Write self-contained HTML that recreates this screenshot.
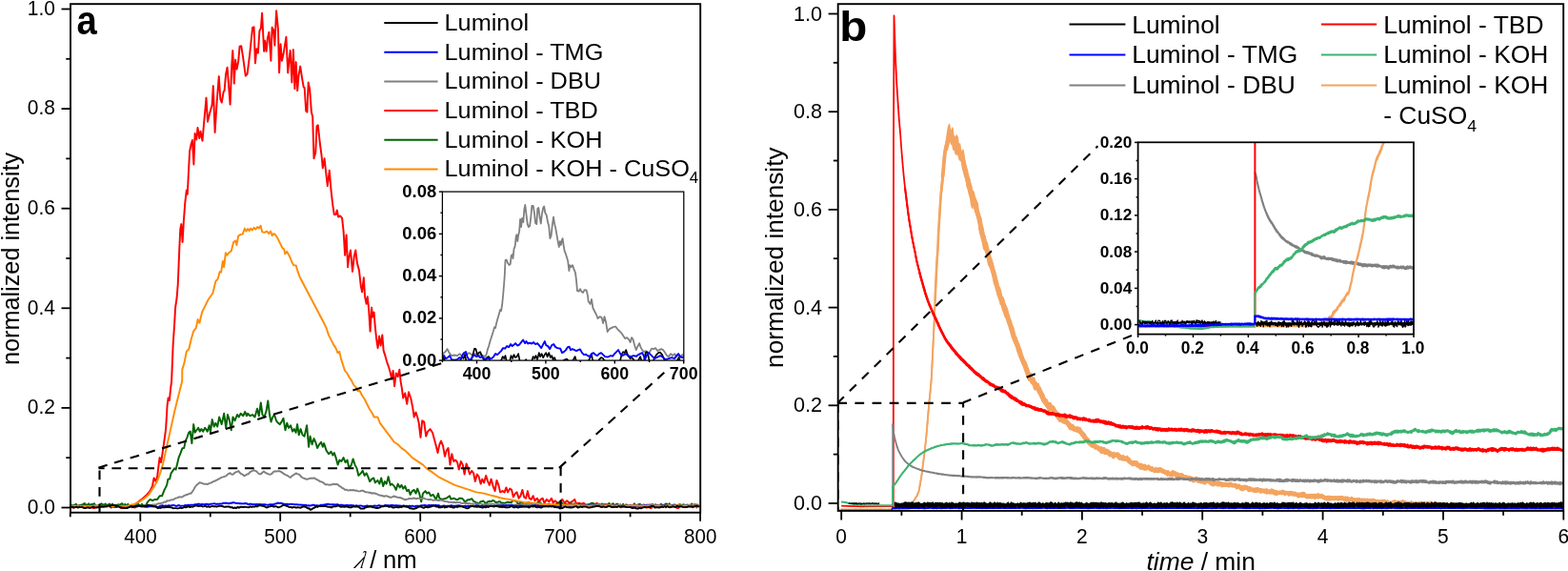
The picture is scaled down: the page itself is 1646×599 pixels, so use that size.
<!DOCTYPE html>
<html lang="en"><head><meta charset="utf-8"><title>Luminol chemiluminescence</title>
<style>html,body{margin:0;padding:0;background:#fff;overflow:hidden}svg text{fill:#000}</style>
</head><body>
<svg width="1646" height="599" viewBox="0 0 1646 599" style="display:block">
<rect x="0" y="0" width="1646" height="599" fill="#fff"/>
<defs>
<clipPath id="ca"><rect x="74" y="4" width="661" height="534"/></clipPath>
<clipPath id="cai"><rect x="464.4" y="201" width="253.4" height="177.1"/></clipPath>
<clipPath id="cb"><rect x="880" y="4" width="761" height="532"/></clipPath>
<clipPath id="cbi"><rect x="1194.6" y="149.3" width="289.4" height="201.3"/></clipPath>
</defs>
<g clip-path="url(#ca)">
<path d="M74.0,531.1 L75.5,531.5 L76.9,532.8 L78.4,531.2 L79.9,531.3 L81.3,531.6 L82.8,530.2 L84.3,531.3 L85.8,531.8 L87.2,532.4 L88.7,529.8 L90.2,530.6 L91.6,529.8 L93.1,532.4 L94.6,532.0 L96.0,529.7 L97.5,533.0 L99.0,533.0 L100.5,531.9 L101.9,531.7 L103.4,530.1 L104.9,529.6 L106.3,531.4 L107.8,529.7 L109.3,530.2 L110.7,530.4 L112.2,529.6 L113.7,531.2 L115.2,531.1 L116.6,532.5 L118.1,531.4 L119.6,531.8 L121.0,531.3 L122.5,531.9 L124.0,531.1 L125.4,530.5 L126.9,533.1 L128.4,533.1 L129.9,532.5 L131.3,532.0 L132.8,530.6 L134.3,530.3 L135.7,530.5 L137.2,529.8 L138.7,532.3 L140.1,530.9 L141.6,532.5 L143.6,527.7 L148.6,523.9 L153.6,519.6 L157.4,515.1 L159.9,510.1 L161.6,501.4 L163.6,505.1 L165.1,500.1 L166.6,487.6 L167.6,480.1 L169.1,485.1 L170.6,475.1 L172.4,462.6 L174.1,450.1 L175.6,425.0 L176.6,417.5 L177.9,420.0 L179.1,407.5 L180.1,400.0 L181.6,362.6 L183.1,340.1 L184.1,322.5 L185.6,312.5 L186.8,297.5 L187.1,290.0 L187.1,290.2 L188.1,265.2 L189.3,240.1 L190.3,235.1 L191.6,253.9 L192.8,232.6 L194.3,212.6 L195.8,199.6 L196.8,203.8 L198.1,177.5 L199.1,158.8 L200.6,151.3 L201.9,147.0 L203.4,172.5 L204.6,140.0 L206.3,146.4 L207.5,133.9 L209.3,145.2 L210.5,137.7 L212.5,147.7 L213.8,132.7 L216.5,102.6 L218.0,127.7 L220.1,118.9 L222.6,110.1 L223.8,90.1 L225.6,138.9 L227.6,107.6 L229.8,80.1 L231.3,103.9 L232.8,107.6 L234.6,96.4 L235.6,95.1 L237.1,77.6 L238.6,70.8 L241.6,109.6 L243.3,67.6 L244.3,53.1 L245.8,87.6 L247.1,62.6 L248.6,72.6 L250.1,65.1 L251.6,48.8 L253.3,48.3 L255.1,60.1 L257.8,79.6 L259.6,77.6 L262.1,57.6 L265.1,28.8 L266.6,28.3 L267.9,66.3 L269.4,51.3 L270.9,55.6 L272.4,32.5 L273.9,29.5 L275.1,13.8 L277.1,53.8 L278.1,42.6 L279.6,53.8 L280.9,40.1 L282.4,33.8 L284.4,63.8 L285.6,28.8 L287.1,31.3 L288.4,47.6 L290.1,11.3 L291.9,30.0 L293.1,76.3 L294.6,46.3 L295.9,63.8 L297.6,56.3 L300.4,38.8 L302.2,76.3 L303.4,63.8 L304.7,53.1 L306.4,86.4 L307.9,52.1 L309.4,93.1 L310.7,65.1 L312.2,95.1 L313.4,80.1 L315.2,69.6 L317.2,82.6 L318.7,91.4 L319.7,92.1 L321.2,116.4 L322.4,117.6 L323.7,86.4 L325.2,93.9 L326.9,117.6 L328.2,122.7 L329.5,166.3 L331.3,160.0 L332.5,132.5 L333.8,131.3 L335.8,150.0 L337.5,162.5 L338.8,176.3 L340.6,166.3 L342.1,180.1 L343.8,195.1 L345.8,178.8 L347.6,200.1 L349.3,215.1 L350.8,225.1 L352.6,225.1 L353.8,220.6 L355.1,227.6 L357.1,226.4 L359.1,228.9 L360.6,242.6 L362.1,267.7 L363.6,246.4 L365.1,280.2 L366.3,270.0 L368.0,262.5 L370.0,285.0 L371.8,268.8 L373.3,262.5 L375.0,276.3 L377.0,283.8 L378.8,300.1 L380.1,306.3 L381.8,291.3 L383.1,311.3 L384.6,318.8 L385.8,311.3 L387.1,323.8 L388.6,347.6 L390.1,322.6 L391.3,332.6 L392.6,327.6 L393.8,342.6 L395.1,355.1 L396.6,365.1 L398.1,352.6 L399.6,362.6 L401.3,351.4 L402.6,367.6 L404.6,373.9 L406.3,380.2 L408.1,385.2 L409.6,390.2 L411.3,397.7 L412.6,388.9 L414.1,405.2 L415.8,391.4 L417.6,395.2 L419.3,387.7 L420.6,400.2 L421.9,407.7 L423.2,417.5 L425.2,412.5 L427.2,423.8 L429.0,411.3 L431.5,418.8 L433.2,427.5 L434.7,437.5 L436.5,432.5 L438.2,437.5 L439.7,443.8 L441.5,458.8 L443.2,441.3 L445.2,442.6 L447.2,457.6 L449.0,452.6 L451.5,450.1 L454.0,453.8 L455.7,460.1 L457.7,467.6 L459.5,475.1 L459.5,475.1 L461.3,466.3 L463.0,462.6 L465.0,467.6 L467.0,478.8 L468.8,472.6 L470.5,470.1 L472.5,487.6 L474.3,476.3 L476.3,483.9 L478.3,482.6 L480.1,485.1 L481.8,492.6 L483.8,483.9 L485.8,487.6 L487.6,497.6 L489.6,486.4 L491.3,491.4 L493.1,497.6 L495.1,493.9 L497.1,496.4 L498.8,505.1 L500.8,497.6 L502.6,500.1 L504.6,507.6 L506.3,502.6 L508.1,506.4 L510.1,498.9 L512.1,505.1 L513.8,508.9 L515.6,502.6 L517.6,510.1 L519.6,515.1 L521.4,503.9 L523.4,508.9 L525.1,516.4 L527.6,515.1 L529.6,516.4 L531.4,511.4 L533.1,516.4 L535.1,512.6 L537.1,513.9 L538.9,521.4 L540.9,517.6 L542.6,516.4 L544.6,522.7 L546.4,520.2 L548.4,513.9 L550.1,521.4 L552.1,522.7 L553.9,515.1 L555.6,522.7 L557.6,523.9 L559.6,520.2 L561.4,525.2 L563.9,522.7 L565.9,526.4 L567.7,523.9 L569.7,522.7 L571.4,527.7 L573.9,523.9 L576.4,526.4 L578.9,522.7 L580.7,527.7 L582.7,525.2 L585.2,527.7 L587.7,526.4 L590.2,523.9 L592.7,527.7 L595.2,525.2 L597.7,527.7 L600.2,526.4 L603.2,523.9 L605.2,528.9 L607.7,527.7 L610.2,528.9 L612.7,527.7 L615.2,529.7 L619.0,528.9 L622.7,530.2 L626.5,527.7 L630.2,530.2 L635.2,528.9 L640.0,529.7 L641.5,531.1 L643.0,531.8 L644.4,531.8 L645.9,529.9 L647.4,529.4 L648.9,530.7 L650.3,530.4 L651.8,532.3 L653.3,531.9 L654.7,531.6 L656.2,531.4 L657.7,531.8 L659.1,529.9 L660.6,531.0 L662.1,530.0 L663.6,532.7 L665.0,529.6 L666.5,532.3 L668.0,529.7 L669.4,531.9 L670.9,530.6 L672.4,530.9 L673.8,532.4 L675.3,529.5 L676.8,529.6 L678.3,532.7 L679.7,531.2 L681.2,529.7 L682.7,533.0 L684.1,532.8 L685.6,529.8 L687.1,530.9 L688.5,529.9 L690.0,530.5 L691.5,531.6 L693.0,530.0 L694.4,531.9 L695.9,529.6 L697.4,530.0 L698.8,532.3 L700.3,530.8 L701.8,530.9 L703.2,531.5 L704.7,531.1 L706.2,530.8 L707.7,529.5 L709.1,532.0 L710.6,532.9 L712.1,532.9 L713.5,531.8 L715.0,530.7 L716.5,530.7 L717.9,531.9 L719.4,531.8 L720.9,529.8 L722.4,530.2 L723.8,530.7 L725.3,531.2 L726.8,532.3 L728.2,531.2 L729.7,529.5 L731.2,532.4 L732.6,530.9 L734.1,531.3" fill="none" stroke="#ff0000" stroke-width="1.95" stroke-linejoin="round" stroke-linecap="butt" />
<path d="M74.0,528.7 L75.5,530.4 L76.9,530.3 L78.4,529.7 L79.9,528.8 L81.3,530.8 L82.8,530.8 L84.3,529.8 L85.8,529.8 L87.2,528.9 L88.7,528.1 L90.2,529.4 L91.6,530.1 L93.1,528.3 L94.6,530.8 L96.0,528.9 L97.5,528.9 L99.0,528.2 L100.5,531.5 L101.9,530.6 L103.4,531.1 L104.9,530.2 L106.3,528.2 L107.8,529.2 L109.3,529.8 L110.7,528.5 L112.2,531.3 L113.7,529.4 L115.2,528.6 L116.6,530.9 L118.1,528.5 L119.6,531.3 L121.0,529.6 L122.5,530.0 L124.0,529.3 L125.4,529.7 L126.9,528.7 L128.4,528.2 L129.9,531.0 L131.3,528.9 L132.8,530.8 L134.3,528.8 L135.7,531.4 L137.2,531.1 L138.7,530.7 L140.1,530.7 L141.6,530.1 L143.1,530.6 L144.6,528.5 L146.0,529.7 L147.5,530.9 L149.0,528.8 L150.4,531.2 L151.9,531.1 L153.4,529.5 L155.1,526.4 L157.6,523.9 L160.1,525.2 L162.6,523.9 L165.1,523.9 L167.6,520.2 L170.1,520.2 L172.6,513.9 L173.9,511.4 L175.1,508.9 L176.4,502.6 L178.1,502.6 L179.6,496.4 L181.4,493.9 L183.1,491.4 L184.6,492.6 L186.1,486.4 L187.6,480.1 L189.6,475.1 L191.4,470.1 L193.2,470.1 L194.7,462.6 L196.4,458.8 L198.2,453.8 L199.7,452.6 L201.4,465.1 L203.2,445.1 L204.7,453.8 L206.4,451.3 L208.2,448.8 L209.7,452.6 L211.4,450.1 L213.2,452.6 L215.2,448.8 L217.7,452.6 L219.7,446.3 L220.9,453.8 L222.7,440.1 L224.7,447.6 L226.4,443.8 L228.2,447.6 L230.2,437.5 L232.7,445.1 L235.2,433.8 L237.2,448.8 L239.0,435.0 L240.7,440.1 L242.7,451.3 L244.5,437.5 L246.5,441.3 L249.0,435.0 L250.7,437.5 L252.7,433.8 L255.2,436.3 L257.2,432.0 L259.0,436.3 L260.0,433.8 L262.5,436.3 L265.0,435.0 L267.5,437.5 L270.0,428.8 L271.8,436.3 L273.8,422.5 L275.5,435.0 L277.5,437.5 L279.5,431.3 L281.3,420.5 L283.0,435.0 L284.5,442.6 L286.3,437.5 L288.0,435.0 L290.0,441.3 L292.0,443.8 L293.8,445.1 L295.5,442.6 L297.5,438.8 L299.5,451.3 L301.3,443.8 L303.1,448.8 L305.1,446.3 L307.1,452.6 L308.8,450.1 L310.6,453.8 L312.1,445.1 L313.8,456.3 L315.6,450.1 L317.6,456.3 L319.6,457.6 L322.1,446.3 L324.1,468.8 L325.6,457.6 L327.6,466.3 L329.6,460.1 L331.3,463.8 L333.1,470.1 L335.1,466.3 L337.1,463.8 L338.8,468.8 L340.1,465.1 L342.6,472.6 L345.1,476.3 L347.6,473.8 L349.4,477.6 L350.9,475.1 L352.6,480.1 L354.6,487.6 L356.4,482.6 L358.4,483.9 L360.6,480.1 L362.6,485.1 L364.6,482.6 L366.4,491.4 L368.9,487.6 L370.6,481.4 L372.6,487.6 L374.6,491.4 L376.4,498.9 L378.9,496.4 L380.7,493.9 L382.7,498.9 L384.7,496.4 L386.4,500.1 L388.2,505.1 L390.2,502.6 L392.2,501.4 L393.9,506.4 L396.4,503.9 L398.4,507.6 L400.2,501.4 L402.2,510.1 L403.9,505.1 L405.7,507.6 L407.7,500.1 L409.7,508.9 L411.4,507.6 L413.9,510.1 L415.7,513.9 L417.7,507.6 L419.7,511.4 L421.5,508.9 L423.2,512.6 L425.2,510.1 L427.2,515.1 L429.0,513.9 L430.7,518.9 L432.7,515.1 L434.7,513.9 L436.5,517.6 L438.2,512.6 L440.2,517.6 L442.2,526.4 L444.0,517.6 L446.5,515.1 L448.2,517.6 L450.2,516.4 L452.2,520.2 L454.7,518.9 L457.7,523.9 L460.0,517.6 L461.3,522.7 L463.8,523.9 L467.5,523.0 L469.0,522.3 L470.4,521.4 L471.9,520.2 L473.4,523.5 L474.9,523.2 L476.3,522.7 L477.8,523.3 L479.3,524.2 L480.7,524.1 L482.2,522.8 L483.7,522.6 L485.1,522.9 L486.6,524.4 L488.1,526.5 L489.6,525.5 L491.0,524.2 L492.5,524.4 L494.0,523.6 L495.4,523.2 L496.9,525.7 L498.4,526.3 L499.8,527.1 L501.3,527.5 L502.8,528.6 L504.3,526.2 L505.7,526.1 L507.2,525.4 L508.7,526.9 L510.1,528.0 L511.6,526.7 L513.1,525.8 L514.5,526.0 L516.0,525.9 L517.5,524.9 L519.0,525.6 L520.4,527.2 L521.9,526.8 L523.4,526.3 L524.8,526.1 L526.3,527.9 L527.8,527.5 L529.2,527.9 L530.7,527.4 L532.2,526.8 L533.7,526.8 L535.1,527.0 L536.6,527.0 L538.1,525.5 L539.5,525.1 L541.0,525.4 L542.5,526.6 L543.9,528.8 L545.4,528.1 L546.9,527.2 L548.4,527.0 L549.8,529.0 L551.3,529.3 L552.8,529.0 L554.2,527.0 L555.7,527.5 L557.2,528.8 L558.6,528.6 L560.1,529.9 L561.6,527.8 L563.1,529.2 L564.5,526.8 L566.0,527.8 L567.5,527.5 L568.9,529.9 L570.4,530.0 L571.9,530.2 L573.3,529.4 L574.8,529.3 L576.3,528.7 L577.8,530.3 L579.2,530.3 L580.7,529.7 L582.2,530.7 L583.6,529.0 L585.1,528.3 L586.6,527.6 L588.0,528.1 L589.5,527.2 L591.0,529.0 L592.5,529.8 L593.9,528.9 L595.4,529.2 L596.9,529.6 L598.3,528.2 L599.8,528.4 L601.3,529.2 L602.7,528.4 L604.2,529.2 L605.7,530.5 L607.2,529.2 L608.6,528.8 L610.1,529.8 L611.6,529.9 L613.0,530.5 L614.5,530.4 L616.0,529.6 L617.4,529.5 L618.9,529.0 L620.4,528.0 L621.9,527.7 L623.3,528.4 L624.8,529.3 L626.3,530.1 L627.7,529.4 L629.2,529.2 L630.7,529.7 L632.1,528.5 L633.6,530.0 L635.1,529.8 L636.6,529.7 L638.0,529.7 L639.5,527.8 L641.0,531.3 L642.5,528.6 L643.9,528.3 L645.4,531.4 L646.9,528.8 L648.3,528.6 L649.8,530.3 L651.3,529.3 L652.8,531.0 L654.2,528.9 L655.7,531.3 L657.2,529.2 L658.6,530.1 L660.1,531.2 L661.6,530.4 L663.0,531.2 L664.5,530.5 L666.0,528.4 L667.5,531.0 L668.9,530.1 L670.4,529.2 L671.9,528.8 L673.3,530.9 L674.8,530.1 L676.3,531.2 L677.7,530.7 L679.2,531.3 L680.7,530.0 L682.2,530.4 L683.6,530.2 L685.1,529.0 L686.6,531.3 L688.0,529.2 L689.5,530.7 L691.0,531.3 L692.4,530.3 L693.9,528.7 L695.4,530.8 L696.9,530.3 L698.3,528.8 L699.8,528.4 L701.3,529.9 L702.7,528.3 L704.2,531.2 L705.7,529.8 L707.1,529.9 L708.6,529.5 L710.1,530.3 L711.6,531.1 L713.0,529.2 L714.5,529.4 L716.0,530.1 L717.4,529.2 L718.9,530.1 L720.4,529.9 L721.8,529.6 L723.3,530.4 L724.8,529.9 L726.3,528.5 L727.7,531.4 L729.2,529.3 L730.7,529.6 L732.1,529.5 L733.6,531.2" fill="none" stroke="#006400" stroke-width="1.95" stroke-linejoin="round" stroke-linecap="butt" />
<path d="M74.0,530.7 L75.5,530.6 L76.9,531.0 L78.4,530.8 L79.9,530.9 L81.3,530.9 L82.8,531.0 L84.3,530.7 L85.8,530.9 L87.2,531.2 L88.7,531.2 L90.2,531.3 L91.6,530.9 L93.1,530.9 L94.6,531.3 L96.0,531.5 L97.5,530.6 L99.0,530.3 L100.5,531.1 L101.9,530.5 L103.4,530.9 L104.9,531.0 L106.3,530.7 L107.8,531.6 L109.3,531.3 L110.7,530.8 L112.2,531.1 L113.7,530.6 L115.2,530.9 L116.6,531.9 L118.1,530.9 L119.6,530.5 L121.0,531.6 L122.5,531.7 L124.0,530.5 L125.4,530.9 L126.9,531.1 L128.4,531.1 L129.9,530.4 L131.3,531.2 L132.8,531.1 L134.3,530.8 L135.7,530.7 L137.2,530.4 L138.7,530.1 L140.1,531.0 L141.6,530.9 L143.1,530.8 L144.6,530.6 L146.0,530.9 L147.5,531.1 L149.0,531.4 L150.4,531.3 L151.9,531.4 L153.4,530.8 L154.8,530.5 L156.3,530.6 L157.8,530.1 L159.3,529.9 L160.7,529.5 L162.2,529.4 L163.7,529.4 L165.1,528.7 L166.6,528.1 L168.1,528.2 L169.5,527.7 L171.0,527.6 L172.5,526.4 L174.0,526.7 L175.4,525.3 L176.9,525.4 L178.4,524.9 L179.8,524.3 L181.3,524.4 L182.8,523.7 L184.2,522.6 L185.7,522.4 L187.2,521.7 L188.7,521.2 L190.1,521.7 L191.6,521.1 L193.1,520.2 L194.5,519.5 L196.0,519.0 L197.5,518.5 L198.9,517.8 L200.4,517.7 L201.9,515.8 L203.4,513.4 L204.8,510.8 L206.3,509.0 L207.8,507.8 L209.2,506.3 L210.7,506.5 L212.2,506.9 L213.6,507.6 L215.1,507.7 L216.6,507.7 L218.1,508.0 L219.5,507.1 L221.0,506.6 L222.5,506.0 L223.9,505.1 L225.4,504.7 L226.9,504.0 L228.3,503.2 L229.8,502.4 L231.3,501.5 L232.8,500.7 L234.2,500.4 L235.7,499.9 L237.2,499.4 L238.6,498.0 L240.1,496.9 L241.6,496.2 L243.0,497.6 L244.5,497.8 L246.0,496.4 L247.5,495.3 L248.9,494.9 L250.4,494.0 L251.9,496.1 L253.3,497.1 L254.8,497.8 L256.3,499.2 L257.7,498.7 L259.2,497.5 L260.7,497.4 L262.2,495.4 L263.6,494.7 L265.1,493.7 L266.6,493.3 L268.0,493.8 L269.5,494.7 L271.0,496.5 L272.5,497.3 L273.9,497.2 L275.4,495.7 L276.9,494.6 L278.3,495.7 L279.8,496.5 L281.3,497.2 L282.7,497.7 L284.2,497.6 L285.7,496.7 L287.2,494.9 L288.6,494.3 L290.1,494.6 L291.6,494.1 L293.0,494.3 L294.5,494.6 L296.0,495.6 L297.4,496.6 L298.9,497.7 L300.4,498.4 L301.9,499.0 L303.3,500.0 L304.8,500.9 L306.3,499.6 L307.7,498.4 L309.2,497.7 L310.7,496.4 L312.1,497.1 L313.6,497.6 L315.1,498.8 L316.6,500.5 L318.0,501.3 L319.5,501.8 L321.0,502.5 L322.4,502.7 L323.9,502.3 L325.4,501.8 L326.8,501.6 L328.3,501.8 L329.8,501.3 L331.3,502.5 L332.7,503.1 L334.2,503.8 L335.7,505.0 L337.1,505.3 L338.6,505.9 L340.1,506.8 L341.5,508.3 L343.0,508.3 L344.5,508.4 L346.0,508.9 L347.4,508.3 L348.9,508.4 L350.4,507.6 L351.8,508.1 L353.3,507.8 L354.8,508.5 L356.2,509.9 L357.7,510.6 L359.2,511.9 L360.7,512.5 L362.1,513.9 L363.6,513.7 L365.1,514.5 L366.5,514.3 L368.0,514.0 L369.5,514.4 L370.9,514.0 L372.4,514.7 L373.9,514.4 L375.4,515.1 L376.8,515.4 L378.3,515.2 L379.8,514.6 L381.2,514.8 L382.7,515.7 L384.2,516.2 L385.6,516.4 L387.1,516.7 L388.6,516.7 L390.1,517.6 L391.5,517.2 L393.0,517.5 L394.5,517.8 L395.9,518.4 L397.4,519.1 L398.9,519.7 L400.3,519.8 L401.8,520.2 L403.3,520.7 L404.8,520.2 L406.2,520.4 L407.7,521.0 L409.2,521.7 L410.6,521.8 L412.1,521.2 L413.6,520.5 L415.0,521.0 L416.5,521.5 L418.0,521.9 L419.5,522.0 L420.9,522.3 L422.4,523.0 L423.9,523.7 L425.3,524.4 L426.8,523.7 L428.3,523.5 L429.7,523.0 L431.2,523.1 L432.7,523.0 L434.2,522.5 L435.6,522.7 L437.1,523.3 L438.6,522.7 L440.0,522.9 L441.5,522.8 L443.0,523.2 L444.4,522.5 L445.9,523.1 L447.4,523.6 L448.9,523.9 L450.3,524.2 L451.8,523.8 L453.3,524.3 L454.7,524.9 L456.2,524.4 L457.7,524.6 L459.1,524.8 L460.6,525.0 L462.1,524.8 L463.6,524.9 L465.0,525.2 L466.5,525.7 L468.0,526.1 L469.4,526.1 L470.9,526.8 L472.4,526.8 L473.8,526.9 L475.3,527.2 L476.8,526.8 L478.3,527.2 L479.7,527.0 L481.2,527.1 L482.7,527.0 L484.1,527.9 L485.6,528.1 L487.1,527.4 L488.5,528.2 L490.0,527.7 L491.5,528.2 L493.0,528.2 L494.4,528.8 L495.9,528.4 L497.4,528.6 L498.8,528.5 L500.3,528.5 L501.8,528.6 L503.2,528.5 L504.7,528.4 L506.2,529.0 L507.7,529.1 L509.1,529.1 L510.6,528.7 L512.1,529.4 L513.5,528.5 L515.0,528.8 L516.5,528.8 L517.9,528.7 L519.4,529.5 L520.9,529.4 L522.4,528.8 L523.8,528.9 L525.3,529.6 L526.8,529.3 L528.2,529.2 L529.7,529.3 L531.2,529.3 L532.6,529.6 L534.1,529.4 L535.6,529.7 L537.1,529.2 L538.5,529.7 L540.0,529.7 L541.5,529.4 L542.9,529.9 L544.4,529.8 L545.9,529.5 L547.3,529.1 L548.8,528.8 L550.3,529.2 L551.8,528.8 L553.2,528.6 L554.7,529.1 L556.2,528.8 L557.6,529.3 L559.1,529.6 L560.6,528.9 L562.0,529.6 L563.5,529.3 L565.0,529.5 L566.5,529.9 L567.9,530.2 L569.4,529.6 L570.9,530.1 L572.3,529.8 L573.8,530.4 L575.3,529.7 L576.7,530.3 L578.2,529.7 L579.7,530.1 L581.2,530.3 L582.6,530.4 L584.1,530.2 L585.6,529.9 L587.0,529.7 L588.5,529.9 L590.0,529.8 L591.4,529.7 L592.9,529.7 L594.4,529.7 L595.9,529.8 L597.3,529.4 L598.8,529.5 L600.3,529.3 L601.7,528.8 L603.2,529.3 L604.7,529.0 L606.1,529.6 L607.6,529.8 L609.1,529.9 L610.6,530.1 L612.0,530.0 L613.5,530.0 L615.0,529.9 L616.4,530.3 L617.9,530.4 L619.4,529.9 L620.8,529.6 L622.3,530.1 L623.8,530.2 L625.3,529.5 L626.7,529.3 L628.2,529.3 L629.7,529.8 L631.1,530.1 L632.6,529.6 L634.1,530.2 L635.5,529.5 L637.0,529.7 L638.5,530.1 L640.0,530.4 L641.4,530.0 L642.9,530.1 L644.4,529.8 L645.8,530.3 L647.3,530.4 L648.8,530.0 L650.2,529.8 L651.7,530.0 L653.2,530.7 L654.7,530.1 L656.1,530.4 L657.6,531.3 L659.1,530.6 L660.5,529.9 L662.0,530.6 L663.5,530.3 L664.9,530.1 L666.4,530.3 L667.9,530.6 L669.4,530.3 L670.8,530.8 L672.3,530.3 L673.8,529.8 L675.2,529.7 L676.7,530.8 L678.2,529.8 L679.6,529.5 L681.1,529.6 L682.6,529.3 L684.1,529.1 L685.5,530.2 L687.0,529.8 L688.5,529.4 L689.9,530.4 L691.4,529.8 L692.9,530.4 L694.3,531.0 L695.8,531.0 L697.3,530.4 L698.8,530.9 L700.2,530.5 L701.7,529.8 L703.2,530.0 L704.6,530.3 L706.1,530.3 L707.6,530.8 L709.0,530.9 L710.5,529.9 L712.0,530.3 L713.5,530.8 L714.9,530.8 L716.4,530.8 L717.9,530.5 L719.3,529.7 L720.8,530.1 L722.3,530.0 L723.7,529.6 L725.2,529.8 L726.7,529.8 L728.2,529.5 L729.6,529.3 L731.1,530.4 L732.6,530.3 L734.0,530.3" fill="none" stroke="#808080" stroke-width="1.95" stroke-linejoin="round" stroke-linecap="butt" />
<path d="M74.0,530.8 L75.5,531.2 L76.9,530.6 L78.4,531.4 L79.9,531.6 L81.3,531.8 L82.8,531.4 L84.3,531.3 L85.8,531.0 L87.2,531.4 L88.7,531.4 L90.2,531.9 L91.6,531.7 L93.1,531.7 L94.6,531.1 L96.0,530.7 L97.5,531.6 L99.0,531.4 L100.5,531.2 L101.9,531.0 L103.4,531.0 L104.9,531.4 L106.3,531.3 L107.8,531.5 L109.3,531.6 L110.7,531.3 L112.2,531.3 L113.7,531.1 L115.2,530.8 L116.6,531.7 L118.1,531.4 L119.6,531.3 L121.0,531.9 L122.5,531.8 L124.0,530.9 L125.4,531.4 L126.9,531.4 L128.4,531.8 L129.9,531.3 L131.3,531.1 L132.8,531.7 L134.3,531.6 L135.7,531.4 L137.2,531.1 L138.7,531.3 L140.1,531.6 L141.6,531.0 L143.1,531.6 L144.6,531.2 L146.0,530.5 L147.5,531.1 L149.0,531.2 L150.4,531.0 L151.9,531.5 L153.4,531.8 L154.8,531.7 L156.3,531.2 L157.8,531.3 L159.3,531.3 L160.7,531.3 L162.2,531.0 L163.7,530.9 L165.1,532.0 L166.6,531.7 L168.1,530.8 L169.5,530.5 L171.0,530.3 L172.5,530.8 L174.0,530.3 L175.4,530.8 L176.9,530.2 L178.4,530.5 L179.8,530.4 L181.3,530.0 L182.8,530.0 L184.2,530.7 L185.7,530.8 L187.2,530.0 L188.7,530.5 L190.1,530.7 L191.6,530.6 L193.1,530.6 L194.5,530.0 L196.0,530.2 L197.5,529.8 L198.9,530.0 L200.4,529.6 L201.9,529.6 L203.4,529.6 L204.8,529.1 L206.3,529.3 L207.8,528.7 L209.2,528.7 L210.7,529.3 L212.2,528.8 L213.6,529.1 L215.1,529.0 L216.6,528.7 L218.1,529.0 L219.5,529.3 L221.0,528.7 L222.5,528.6 L223.9,528.4 L225.4,528.3 L226.9,528.8 L228.3,528.6 L229.8,528.8 L231.3,528.4 L232.8,528.6 L234.2,527.8 L235.7,527.8 L237.2,527.7 L238.6,527.8 L240.1,528.3 L241.6,527.6 L243.0,527.7 L244.5,527.3 L246.0,527.3 L247.5,527.8 L248.9,527.9 L250.4,527.9 L251.9,528.3 L253.3,528.3 L254.8,528.4 L256.3,528.2 L257.7,528.0 L259.2,528.3 L260.7,529.2 L262.2,528.7 L263.6,528.6 L265.1,529.3 L266.6,528.8 L268.0,529.3 L269.5,529.0 L271.0,529.3 L272.5,529.0 L273.9,529.3 L275.4,529.3 L276.9,529.3 L278.3,529.2 L279.8,529.6 L281.3,529.8 L282.7,529.3 L284.2,529.2 L285.7,529.3 L287.2,529.3 L288.6,528.5 L290.1,528.4 L291.6,527.5 L293.0,527.9 L294.5,527.7 L296.0,528.0 L297.4,528.7 L298.9,528.7 L300.4,529.0 L301.9,528.7 L303.3,529.1 L304.8,528.7 L306.3,528.9 L307.7,528.9 L309.2,529.3 L310.7,529.2 L312.1,529.2 L313.6,529.6 L315.1,529.5 L316.6,529.8 L318.0,529.7 L319.5,529.9 L321.0,529.7 L322.4,530.5 L323.9,530.3 L325.4,530.5 L326.8,530.3 L328.3,529.7 L329.8,529.8 L331.3,530.5 L332.7,530.3 L334.2,530.5 L335.7,530.4 L337.1,529.6 L338.6,530.0 L340.1,529.4 L341.5,529.3 L343.0,529.0 L344.5,528.8 L346.0,529.1 L347.4,529.2 L348.9,529.1 L350.4,529.2 L351.8,529.4 L353.3,529.3 L354.8,529.3 L356.2,530.0 L357.7,529.6 L359.2,529.7 L360.7,530.1 L362.1,530.1 L363.6,530.0 L365.1,529.9 L366.5,530.4 L368.0,529.9 L369.5,530.2 L370.9,530.2 L372.4,530.9 L373.9,530.3 L375.4,530.7 L376.8,530.7 L378.3,530.4 L379.8,530.6 L381.2,531.2 L382.7,531.1 L384.2,530.6 L385.6,530.5 L387.1,531.2 L388.6,530.8 L390.1,530.9 L391.5,531.1 L393.0,530.4 L394.5,530.6 L395.9,530.9 L397.4,530.2 L398.9,530.3 L400.3,530.8 L401.8,530.7 L403.3,530.4 L404.8,530.0 L406.2,530.6 L407.7,530.1 L409.2,530.4 L410.6,530.0 L412.1,529.9 L413.6,530.5 L415.0,530.3 L416.5,530.3 L418.0,530.4 L419.5,530.5 L420.9,530.6 L422.4,530.8 L423.9,530.3 L425.3,530.9 L426.8,530.7 L428.3,531.1 L429.7,530.6 L431.2,531.0 L432.7,530.6 L434.2,531.1 L435.6,531.1 L437.1,530.8 L438.6,530.7 L440.0,531.0 L441.5,530.4 L443.0,530.1 L444.4,530.2 L445.9,529.9 L447.4,530.5 L448.9,530.5 L450.3,529.9 L451.8,530.3 L453.3,529.9 L454.7,530.5 L456.2,530.1 L457.7,529.8 L459.1,530.3 L460.6,530.1 L462.1,531.1 L463.6,530.9 L465.0,530.6 L466.5,530.4 L468.0,531.1 L469.4,530.6 L470.9,530.6 L472.4,530.5 L473.8,530.2 L475.3,530.7 L476.8,530.6 L478.3,530.8 L479.7,530.5 L481.2,530.3 L482.7,530.5 L484.1,530.8 L485.6,530.9 L487.1,531.0 L488.5,530.7 L490.0,531.0 L491.5,530.8 L493.0,531.0 L494.4,531.0 L495.9,530.9 L497.4,530.9 L498.8,530.8 L500.3,530.2 L501.8,530.5 L503.2,531.2 L504.7,530.9 L506.2,530.6 L507.7,531.3 L509.1,530.8 L510.6,530.7 L512.1,531.0 L513.5,531.2 L515.0,530.7 L516.5,531.0 L517.9,531.1 L519.4,530.7 L520.9,531.0 L522.4,530.4 L523.8,530.7 L525.3,530.5 L526.8,530.4 L528.2,530.1 L529.7,530.6 L531.2,530.1 L532.6,530.5 L534.1,530.3 L535.6,530.2 L537.1,530.1 L538.5,530.7 L540.0,530.6 L541.5,530.6 L542.9,530.8 L544.4,530.9 L545.9,530.5 L547.3,530.8 L548.8,530.8 L550.3,531.4 L551.8,531.3 L553.2,531.4 L554.7,530.9 L556.2,531.5 L557.6,530.9 L559.1,530.5 L560.6,530.4 L562.0,530.1 L563.5,530.7 L565.0,530.3 L566.5,531.1 L567.9,530.6 L569.4,530.8 L570.9,530.6 L572.3,531.3 L573.8,530.8 L575.3,530.7 L576.7,530.5 L578.2,530.3 L579.7,530.8 L581.2,530.5 L582.6,530.7 L584.1,530.8 L585.6,530.6 L587.0,531.1 L588.5,530.8 L590.0,530.5 L591.4,530.3 L592.9,530.4 L594.4,530.2 L595.9,530.4 L597.3,530.8 L598.8,531.1 L600.3,530.9 L601.7,530.7 L603.2,530.9 L604.7,530.7 L606.1,531.4 L607.6,531.2 L609.1,530.6 L610.6,531.0 L612.0,530.6 L613.5,530.7 L615.0,530.6 L616.4,531.0 L617.9,530.7 L619.4,530.7 L620.8,530.8 L622.3,531.2 L623.8,531.0 L625.3,530.6 L626.7,531.0 L628.2,531.0 L629.7,530.9 L631.1,530.9 L632.6,531.2 L634.1,530.5 L635.5,531.1 L637.0,530.4 L638.5,530.6 L640.0,530.8 L641.4,531.1 L642.9,530.6 L644.4,530.5 L645.8,530.5 L647.3,530.9 L648.8,531.0 L650.2,530.9 L651.7,531.2 L653.2,530.8 L654.7,530.5 L656.1,531.2 L657.6,530.5 L659.1,531.2 L660.5,531.0 L662.0,530.2 L663.5,531.1 L664.9,530.5 L666.4,531.1 L667.9,530.7 L669.4,530.9 L670.8,530.5 L672.3,531.1 L673.8,530.3 L675.2,530.9 L676.7,530.6 L678.2,530.5 L679.6,530.6 L681.1,530.8 L682.6,530.6 L684.1,530.7 L685.5,530.8 L687.0,530.8 L688.5,530.7 L689.9,530.2 L691.4,530.9 L692.9,530.5 L694.3,531.0 L695.8,530.3 L697.3,530.4 L698.8,530.5 L700.2,530.3 L701.7,531.4 L703.2,531.0 L704.6,530.8 L706.1,530.3 L707.6,530.7 L709.0,530.3 L710.5,530.4 L712.0,530.8 L713.5,531.0 L714.9,530.9 L716.4,531.2 L717.9,531.4 L719.3,530.7 L720.8,530.8 L722.3,531.0 L723.7,531.1 L725.2,530.6 L726.7,531.2 L728.2,531.3 L729.6,530.6 L731.1,531.0 L732.6,531.0 L734.0,531.1" fill="none" stroke="#0000ff" stroke-width="1.95" stroke-linejoin="round" stroke-linecap="butt" />
<path d="M74.0,530.8 L75.5,530.8 L76.9,530.7 L78.4,530.9 L79.9,530.8 L81.3,530.9 L82.8,531.1 L84.3,530.9 L85.8,531.1 L87.2,531.1 L88.7,531.0 L90.2,531.0 L91.6,531.0 L93.1,530.9 L94.6,531.1 L96.0,531.0 L97.5,531.1 L99.0,531.2 L100.5,530.8 L101.9,530.8 L103.4,530.8 L104.9,531.0 L106.3,530.8 L107.8,530.9 L109.3,530.8 L110.7,531.0 L112.2,531.1 L113.7,531.1 L115.2,530.9 L116.6,531.0 L118.1,530.9 L119.6,531.0 L121.0,531.0 L122.5,531.1 L124.0,531.2 L125.4,531.2 L126.9,531.2 L128.4,531.2 L129.9,531.1 L131.3,530.9 L133.6,530.7 L141.1,528.9 L146.1,526.4 L151.1,523.2 L156.1,518.9 L161.1,511.4 L164.9,505.1 L168.6,495.1 L171.1,486.4 L173.6,475.1 L176.1,463.8 L178.6,452.6 L181.1,441.3 L183.6,430.0 L186.1,420.0 L188.6,410.0 L191.2,400.0 L191.3,387.6 L193.3,381.4 L195.8,368.8 L198.3,366.3 L200.6,356.3 L203.1,347.6 L205.9,343.8 L207.6,335.1 L209.4,338.8 L212.1,327.5 L215.1,321.3 L218.9,313.8 L223.4,307.5 L226.4,295.0 L228.4,293.0 L229.4,290.0 L230.6,285.2 L232.1,285.7 L233.9,273.9 L235.1,280.2 L236.9,265.2 L238.4,267.7 L240.2,265.2 L242.7,263.4 L245.2,253.9 L247.2,252.6 L248.4,257.1 L250.2,247.6 L252.7,245.9 L254.7,245.6 L256.9,239.6 L258.4,242.6 L260.2,240.1 L261.7,242.1 L263.2,239.6 L264.7,241.4 L266.7,238.9 L268.2,240.6 L270.2,238.1 L271.9,239.4 L273.7,236.9 L275.2,243.4 L277.7,243.9 L280.2,242.6 L282.2,245.1 L284.0,242.6 L285.7,247.1 L287.2,245.1 L289.2,246.4 L291.5,250.1 L294.0,255.1 L296.5,260.2 L298.2,261.4 L299.2,266.4 L301.2,263.9 L304.0,268.9 L306.5,275.2 L308.2,278.2 L310.7,278.4 L312.7,285.2 L314.5,290.2 L340.0,338.8 L342.5,343.9 L345.0,351.4 L347.5,356.4 L350.0,361.4 L352.5,365.1 L354.5,370.1 L356.3,368.9 L358.0,376.4 L360.0,382.7 L362.0,388.9 L364.3,391.4 L366.3,395.2 L368.8,398.9 L371.3,403.9 L373.8,406.4 L375.5,410.2 L377.6,410.0 L380.2,415.0 L382.7,418.8 L385.2,423.8 L387.7,428.8 L390.2,432.5 L392.7,437.5 L396.4,437.5 L398.9,443.8 L402.7,448.8 L406.4,453.8 L410.2,458.8 L413.9,463.8 L417.7,466.3 L421.5,470.1 L425.2,472.6 L429.0,476.3 L432.7,480.1 L436.5,482.6 L440.2,485.1 L444.0,487.6 L447.7,491.4 L451.5,493.9 L455.2,496.4 L460.0,500.1 L462.5,501.4 L466.3,503.4 L470.0,505.1 L473.8,507.1 L477.5,508.9 L481.3,510.1 L485.1,511.4 L488.8,512.6 L492.6,513.9 L496.3,515.1 L500.1,516.4 L505.1,517.1 L510.1,518.1 L515.1,519.6 L520.1,520.7 L525.1,522.2 L530.1,523.2 L535.1,523.9 L540.1,525.2 L545.1,525.9 L550.1,526.9 L555.1,527.2 L560.2,527.7 L565.2,528.2 L570.2,528.9 L575.2,529.4 L580.2,528.9 L585.2,529.7 L590.2,529.7 L597.7,530.2 L605.2,530.2 L615.2,530.7 L625.2,530.9 L640.0,530.2 L641.5,530.8 L643.0,530.5 L644.4,530.6 L645.9,530.6 L647.4,530.8 L648.9,530.7 L650.3,530.8 L651.8,530.6 L653.3,530.8 L654.7,530.7 L656.2,530.5 L657.7,530.5 L659.1,530.6 L660.6,530.4 L662.1,530.5 L663.6,530.3 L665.0,530.3 L666.5,530.3 L668.0,530.4 L669.4,530.4 L670.9,530.6 L672.4,530.6 L673.8,530.7 L675.3,530.8 L676.8,530.9 L678.3,530.9 L679.7,530.8 L681.2,530.8 L682.7,530.8 L684.1,530.7 L685.6,530.5 L687.1,530.6 L688.5,530.6 L690.0,530.5 L691.5,530.4 L693.0,530.4 L694.4,530.6 L695.9,530.7 L697.4,530.7 L698.8,530.6 L700.3,530.4 L701.8,530.3 L703.2,530.5 L704.7,530.6 L706.2,530.6 L707.7,530.5 L709.1,530.4 L710.6,530.4 L712.1,530.3 L713.5,530.5 L715.0,530.5 L716.5,530.6 L717.9,530.6 L719.4,530.6 L720.9,530.7 L722.4,530.8 L723.8,530.5 L725.3,530.8 L726.8,530.8 L728.2,530.8 L729.7,530.7 L731.2,530.8 L732.6,530.8 L734.1,530.6" fill="none" stroke="#ff8c00" stroke-width="1.95" stroke-linejoin="round" stroke-linecap="butt" />
<path d="M74.5,531.8 L76.0,531.7 L77.4,532.5 L78.9,532.1 L80.4,531.7 L81.9,532.6 L83.3,531.8 L84.8,532.1 L86.3,532.0 L87.7,532.7 L89.2,533.0 L90.7,532.8 L92.1,532.2 L93.6,532.8 L95.1,532.8 L96.6,532.0 L98.0,531.8 L99.5,532.2 L101.0,532.5 L102.4,532.3 L103.9,532.1 L105.4,531.8 L106.8,531.1 L108.3,531.5 L109.8,531.1 L111.3,531.2 L112.7,530.9 L114.2,530.4 L115.7,531.1 L117.1,529.9 L118.6,530.1 L120.1,530.0 L121.5,531.1 L123.0,530.5 L124.5,531.4 L126.0,532.2 L127.4,532.2 L128.9,533.0 L130.4,532.7 L131.8,533.1 L133.3,533.0 L134.8,532.4 L136.2,531.8 L137.7,530.9 L139.2,531.9 L140.7,531.5 L142.1,531.3 L143.6,531.1 L145.1,530.6 L146.5,530.5 L148.0,531.3 L149.5,531.1 L150.9,530.5 L152.4,530.8 L153.9,530.9 L155.4,529.8 L156.8,530.1 L158.3,530.3 L159.8,530.7 L161.2,531.4 L162.7,531.6 L164.2,531.9 L165.6,533.1 L167.1,532.5 L168.6,532.9 L170.1,532.0 L171.5,532.2 L173.0,532.3 L174.5,531.7 L175.9,532.1 L177.4,531.8 L178.9,532.2 L180.3,532.4 L181.8,533.2 L183.3,533.1 L184.8,533.1 L186.2,533.4 L187.7,533.1 L189.2,532.6 L190.6,533.1 L192.1,532.6 L193.6,531.8 L195.0,532.2 L196.5,531.8 L198.0,531.2 L199.5,532.1 L200.9,531.4 L202.4,531.7 L203.9,530.8 L205.3,530.6 L206.8,530.3 L208.3,531.0 L209.7,530.9 L211.2,530.6 L212.7,531.4 L214.2,531.2 L215.6,530.7 L217.1,531.8 L218.6,531.2 L220.0,531.9 L221.5,531.3 L223.0,530.8 L224.4,531.3 L225.9,531.1 L227.4,531.5 L228.9,531.1 L230.3,530.9 L231.8,530.8 L233.3,531.0 L234.7,531.5 L236.2,531.8 L237.7,531.5 L239.1,531.4 L240.6,531.4 L242.1,532.3 L243.6,532.1 L245.0,533.1 L246.5,532.5 L248.0,533.1 L249.4,531.9 L250.9,532.7 L252.4,531.8 L253.8,531.8 L255.3,532.0 L256.8,531.7 L258.3,531.9 L259.7,532.1 L261.2,532.2 L262.7,531.3 L264.1,531.9 L265.6,531.5 L267.1,531.6 L268.5,531.0 L270.0,531.4 L271.5,530.4 L273.0,530.0 L274.4,530.5 L275.9,530.8 L277.4,531.0 L278.8,531.9 L280.3,532.5 L281.8,531.6 L283.2,531.4 L284.7,530.7 L286.2,531.0 L287.7,531.5 L289.1,531.1 L290.6,531.5 L292.1,532.3 L293.5,531.9 L295.0,531.4 L296.5,530.3 L297.9,529.9 L299.4,530.1 L300.9,530.8 L302.4,531.2 L303.8,532.1 L305.3,532.0 L306.8,532.6 L308.2,531.9 L309.7,532.2 L311.2,532.5 L312.6,532.3 L314.1,532.4 L315.6,532.7 L317.1,531.9 L318.5,531.3 L320.0,531.5 L321.5,532.2 L322.9,533.3 L324.4,533.2 L325.9,534.7 L327.3,534.3 L328.8,533.1 L330.3,532.5 L331.8,531.4 L333.2,531.9 L334.7,531.0 L336.2,531.0 L337.6,531.1 L339.1,531.1 L340.6,530.9 L342.0,530.9 L343.5,531.5 L345.0,531.7 L346.5,531.7 L347.9,532.5 L349.4,531.4 L350.9,531.1 L352.3,531.2 L353.8,530.9 L355.3,530.2 L356.7,531.2 L358.2,531.7 L359.7,531.4 L361.2,531.7 L362.6,531.5 L364.1,531.6 L365.6,531.9 L367.0,532.3 L368.5,532.3 L370.0,531.6 L371.4,531.5 L372.9,531.4 L374.4,531.5 L375.9,531.5 L377.3,532.5 L378.8,533.6 L380.3,533.5 L381.7,533.6 L383.2,532.6 L384.7,532.0 L386.1,531.8 L387.6,531.6 L389.1,531.6 L390.6,531.8 L392.0,532.3 L393.5,532.4 L395.0,533.0 L396.4,533.0 L397.9,532.6 L399.4,532.0 L400.8,531.1 L402.3,531.2 L403.8,530.7 L405.3,530.7 L406.7,530.5 L408.2,531.8 L409.7,531.3 L411.1,531.6 L412.6,532.6 L414.1,532.3 L415.5,532.1 L417.0,532.0 L418.5,532.4 L420.0,531.5 L421.4,532.1 L422.9,531.2 L424.4,531.0 L425.8,531.6 L427.3,531.7 L428.8,532.0 L430.2,533.2 L431.7,533.2 L433.2,533.7 L434.7,533.8 L436.1,533.2 L437.6,532.7 L439.1,531.8 L440.5,531.6 L442.0,531.6 L443.5,532.3 L444.9,532.8 L446.4,531.9 L447.9,532.0 L449.4,532.2 L450.8,531.9 L452.3,531.6 L453.8,530.7 L455.2,530.3 L456.7,530.8 L458.2,531.5 L459.6,531.2 L461.1,532.4 L462.6,532.3 L464.1,532.1 L465.5,531.2 L467.0,532.4 L468.5,532.0 L469.9,531.7 L471.4,531.1 L472.9,531.9 L474.3,531.8 L475.8,532.5 L477.3,532.2 L478.8,531.4 L480.2,532.0 L481.7,531.2 L483.2,531.2 L484.6,531.2 L486.1,531.9 L487.6,532.2 L489.0,532.8 L490.5,533.3 L492.0,532.8 L493.5,531.3 L494.9,531.2 L496.4,530.6 L497.9,531.6 L499.3,531.5 L500.8,531.7 L502.3,531.3 L503.7,531.9 L505.2,532.0 L506.7,532.6 L508.2,531.5 L509.6,532.3 L511.1,531.6 L512.6,531.9 L514.0,531.0 L515.5,530.9 L517.0,530.9 L518.4,531.5 L519.9,531.0 L521.4,530.9 L522.9,531.4 L524.3,531.9 L525.8,531.8 L527.3,532.1 L528.7,531.5 L530.2,532.2 L531.7,532.3 L533.1,532.4 L534.6,532.1 L536.1,531.1 L537.6,531.3 L539.0,532.2 L540.5,532.2 L542.0,531.6 L543.4,532.5 L544.9,532.2 L546.4,531.6 L547.8,531.7 L549.3,531.5 L550.8,531.4 L552.3,531.4 L553.7,531.4 L555.2,532.5 L556.7,531.5 L558.1,531.0 L559.6,531.5 L561.1,530.8 L562.5,531.9 L564.0,532.3 L565.5,531.7 L567.0,532.3 L568.4,532.5 L569.9,531.7 L571.4,531.1 L572.8,531.4 L574.3,531.3 L575.8,531.6 L577.2,530.8 L578.7,531.5 L580.2,531.1 L581.7,531.9 L583.1,531.9 L584.6,532.2 L586.1,532.3 L587.5,533.3 L589.0,533.1 L590.5,533.0 L591.9,532.1 L593.4,531.3 L594.9,532.0 L596.4,532.2 L597.8,532.3 L599.3,532.5 L600.8,532.4 L602.2,531.8 L603.7,531.4 L605.2,531.3 L606.6,532.6 L608.1,532.1 L609.6,531.4 L611.1,532.0 L612.5,531.4 L614.0,531.5 L615.5,531.6 L616.9,532.4 L618.4,532.6 L619.9,532.3 L621.3,532.0 L622.8,531.4 L624.3,531.4 L625.8,531.0 L627.2,531.0 L628.7,530.8 L630.2,531.5 L631.6,532.0 L633.1,531.3 L634.6,531.9 L636.0,532.1 L637.5,531.5 L639.0,530.9 L640.5,530.9 L641.9,532.1 L643.4,531.8 L644.9,531.8 L646.3,531.6 L647.8,532.0 L649.3,531.0 L650.7,531.6 L652.2,531.2 L653.7,531.3 L655.2,531.2 L656.6,531.7 L658.1,532.1 L659.6,532.1 L661.0,532.0 L662.5,532.3 L664.0,533.1 L665.4,532.6 L666.9,532.9 L668.4,533.6 L669.9,533.5 L671.3,532.9 L672.8,533.3 L674.3,532.5 L675.7,532.3 L677.2,531.9 L678.7,532.1 L680.1,532.2 L681.6,531.8 L683.1,531.3 L684.6,530.9 L686.0,531.0 L687.5,532.6 L689.0,532.1 L690.4,532.4 L691.9,532.5 L693.4,532.0 L694.8,531.4 L696.3,532.0 L697.8,531.1 L699.3,531.8 L700.7,531.0 L702.2,532.0 L703.7,532.2 L705.1,531.7 L706.6,531.3 L708.1,531.8 L709.5,531.8 L711.0,530.7 L712.5,531.5 L714.0,531.1 L715.4,531.3 L716.9,531.9 L718.4,532.1 L719.8,531.9 L721.3,532.0 L722.8,531.2 L724.2,531.5 L725.7,531.3 L727.2,531.4 L728.7,531.4 L730.1,530.9 L731.6,530.6 L733.1,531.2 L734.5,531.4" fill="none" stroke="#000000" stroke-width="1.95" stroke-linejoin="round" stroke-linecap="butt" />
</g>
<line x1="104.5" y1="491.3" x2="104.5" y2="537.2" stroke="#000" stroke-width="2.1" stroke-dasharray="9.75 7.7" stroke-dashoffset="15.25"/>
<line x1="103.7" y1="491.3" x2="589.4" y2="491.3" stroke="#000" stroke-width="2.1" stroke-dasharray="9.75 7.7" stroke-dashoffset="3.8"/>
<line x1="588.6" y1="489.6" x2="588.6" y2="537.2" stroke="#000" stroke-width="2.1" stroke-dasharray="9.75 7.7" stroke-dashoffset="0"/>
<line x1="103.3" y1="490.7" x2="464.0" y2="380.9" stroke="#000" stroke-width="2.1" stroke-dasharray="9.75 7.7" stroke-dashoffset="0"/>
<line x1="586.9" y1="490.9" x2="697.3" y2="390.8" stroke="#000" stroke-width="2.1" stroke-dasharray="9.75 7.7" stroke-dashoffset="0"/>
<rect x="74.0" y="4.2" width="661.2" height="533.5" fill="none" stroke="#000" stroke-width="1.9"/>
<line x1="64.5" y1="532.5" x2="74.0" y2="532.5" stroke="#000" stroke-width="1.8" />
<text transform="translate(58.00 538.70) scale(0.9770 1)" font-family="'Liberation Sans', Arial, sans-serif" font-size="21.5" font-weight="normal" font-style="normal" text-anchor="end" >0.0</text>
<line x1="64.5" y1="427.9" x2="74.0" y2="427.9" stroke="#000" stroke-width="1.8" />
<text transform="translate(58.00 434.10) scale(0.9770 1)" font-family="'Liberation Sans', Arial, sans-serif" font-size="21.5" font-weight="normal" font-style="normal" text-anchor="end" >0.2</text>
<line x1="64.5" y1="323.3" x2="74.0" y2="323.3" stroke="#000" stroke-width="1.8" />
<text transform="translate(58.00 329.50) scale(0.9770 1)" font-family="'Liberation Sans', Arial, sans-serif" font-size="21.5" font-weight="normal" font-style="normal" text-anchor="end" >0.4</text>
<line x1="64.5" y1="218.7" x2="74.0" y2="218.7" stroke="#000" stroke-width="1.8" />
<text transform="translate(58.00 224.90) scale(0.9770 1)" font-family="'Liberation Sans', Arial, sans-serif" font-size="21.5" font-weight="normal" font-style="normal" text-anchor="end" >0.6</text>
<line x1="64.5" y1="114.1" x2="74.0" y2="114.1" stroke="#000" stroke-width="1.8" />
<text transform="translate(58.00 120.30) scale(0.9770 1)" font-family="'Liberation Sans', Arial, sans-serif" font-size="21.5" font-weight="normal" font-style="normal" text-anchor="end" >0.8</text>
<line x1="64.5" y1="9.5" x2="74.0" y2="9.5" stroke="#000" stroke-width="1.8" />
<text transform="translate(58.00 15.70) scale(0.9770 1)" font-family="'Liberation Sans', Arial, sans-serif" font-size="21.5" font-weight="normal" font-style="normal" text-anchor="end" >1.0</text>
<line x1="69.3" y1="480.2" x2="74.0" y2="480.2" stroke="#000" stroke-width="1.8" />
<line x1="69.3" y1="375.6" x2="74.0" y2="375.6" stroke="#000" stroke-width="1.8" />
<line x1="69.3" y1="271.0" x2="74.0" y2="271.0" stroke="#000" stroke-width="1.8" />
<line x1="69.3" y1="166.4" x2="74.0" y2="166.4" stroke="#000" stroke-width="1.8" />
<line x1="69.3" y1="61.8" x2="74.0" y2="61.8" stroke="#000" stroke-width="1.8" />
<line x1="147.3" y1="537.7" x2="147.3" y2="546.8" stroke="#000" stroke-width="1.8" />
<text transform="translate(147.50 570.00) scale(0.9500 1)" font-family="'Liberation Sans', Arial, sans-serif" font-size="21.7" font-weight="normal" font-style="normal" text-anchor="middle" >400</text>
<line x1="294.2" y1="537.7" x2="294.2" y2="546.8" stroke="#000" stroke-width="1.8" />
<text transform="translate(294.45 570.00) scale(0.9500 1)" font-family="'Liberation Sans', Arial, sans-serif" font-size="21.7" font-weight="normal" font-style="normal" text-anchor="middle" >500</text>
<line x1="441.2" y1="537.7" x2="441.2" y2="546.8" stroke="#000" stroke-width="1.8" />
<text transform="translate(441.40 570.00) scale(0.9500 1)" font-family="'Liberation Sans', Arial, sans-serif" font-size="21.7" font-weight="normal" font-style="normal" text-anchor="middle" >600</text>
<line x1="588.2" y1="537.7" x2="588.2" y2="546.8" stroke="#000" stroke-width="1.8" />
<text transform="translate(588.35 570.00) scale(0.9500 1)" font-family="'Liberation Sans', Arial, sans-serif" font-size="21.7" font-weight="normal" font-style="normal" text-anchor="middle" >700</text>
<line x1="735.1" y1="537.7" x2="735.1" y2="546.8" stroke="#000" stroke-width="1.8" />
<text transform="translate(735.30 570.00) scale(0.9500 1)" font-family="'Liberation Sans', Arial, sans-serif" font-size="21.7" font-weight="normal" font-style="normal" text-anchor="middle" >800</text>
<line x1="73.8" y1="537.7" x2="73.8" y2="542.3" stroke="#000" stroke-width="1.8" />
<line x1="220.8" y1="537.7" x2="220.8" y2="542.3" stroke="#000" stroke-width="1.8" />
<line x1="367.7" y1="537.7" x2="367.7" y2="542.3" stroke="#000" stroke-width="1.8" />
<line x1="514.7" y1="537.7" x2="514.7" y2="542.3" stroke="#000" stroke-width="1.8" />
<line x1="661.6" y1="537.7" x2="661.6" y2="542.3" stroke="#000" stroke-width="1.8" />
<text transform="translate(19.5,271.5) rotate(-90)" font-family="'Liberation Sans', Arial, sans-serif" font-size="25.25" text-anchor="middle">normalized intensity</text>
<text transform="translate(370.6 595.7) skewX(-30) scale(0.8 1)" font-family="'Liberation Serif', 'DejaVu Serif', serif" font-size="25.6">λ</text>
<text x="388.30" y="595.70" font-family="'Liberation Sans', Arial, sans-serif" font-size="25.5" font-weight="normal" font-style="normal" text-anchor="start" >/</text>
<text transform="translate(401.90 595.70) scale(1.0100 1)" font-family="'Liberation Sans', Arial, sans-serif" font-size="25.5" font-weight="normal" font-style="normal" text-anchor="start" >nm</text>
<text transform="translate(80.40 35.90) scale(0.8900 1)" font-family="'Liberation Sans', Arial, sans-serif" font-size="43" font-weight="bold" font-style="normal" text-anchor="start" >a</text>
<line x1="403.3" y1="24.0" x2="459.6" y2="24.0" stroke="#000000" stroke-width="2.0" />
<text transform="translate(466.50 32.20) scale(1.0550 1)" font-family="'Liberation Sans', Arial, sans-serif" font-size="24" font-weight="normal" font-style="normal" text-anchor="start" >Luminol</text>
<line x1="403.3" y1="54.7" x2="459.6" y2="54.7" stroke="#0000ff" stroke-width="2.0" />
<text transform="translate(466.50 62.83) scale(1.0550 1)" font-family="'Liberation Sans', Arial, sans-serif" font-size="24" font-weight="normal" font-style="normal" text-anchor="start" >Luminol - TMG</text>
<line x1="403.3" y1="85.4" x2="459.6" y2="85.4" stroke="#808080" stroke-width="2.0" />
<text transform="translate(466.50 93.46) scale(1.0550 1)" font-family="'Liberation Sans', Arial, sans-serif" font-size="24" font-weight="normal" font-style="normal" text-anchor="start" >Luminol - DBU</text>
<line x1="403.3" y1="116.1" x2="459.6" y2="116.1" stroke="#ff0000" stroke-width="2.0" />
<text transform="translate(466.50 124.09) scale(1.0550 1)" font-family="'Liberation Sans', Arial, sans-serif" font-size="24" font-weight="normal" font-style="normal" text-anchor="start" >Luminol - TBD</text>
<line x1="403.3" y1="146.8" x2="459.6" y2="146.8" stroke="#006400" stroke-width="2.0" />
<text transform="translate(466.50 154.72) scale(1.0550 1)" font-family="'Liberation Sans', Arial, sans-serif" font-size="24" font-weight="normal" font-style="normal" text-anchor="start" >Luminol - KOH</text>
<line x1="403.3" y1="177.5" x2="459.6" y2="177.5" stroke="#ff8c00" stroke-width="2.0" />
<text transform="translate(466.5 185.4) scale(1.055 1)" font-family="'Liberation Sans', Arial, sans-serif" font-size="24">Luminol - KOH - CuSO<tspan font-size="16" dy="7">4</tspan></text>
<g clip-path="url(#cai)">
<path d="M464.4,373.1 L466.0,370.1 L467.6,369.1 L469.6,366.1 L471.6,370.1 L474.0,373.1 L477.0,372.5 L480.0,373.1 L482.5,371.1 L484.5,373.1 L487.1,371.1 L490.1,372.1 L492.5,370.1 L495.1,372.1 L498.1,371.1 L502.1,372.1 L506.1,372.5 L509.1,374.1 L510.5,372.1 L511.7,367.1 L513.1,363.1 L514.5,358.1 L516.1,353.1 L517.7,348.1 L519.1,343.1 L520.1,344.1 L521.1,339.1 L522.5,334.1 L523.7,330.0 L525.1,325.0 L526.1,326.0 L527.1,320.0 L528.1,310.0 L529.1,298.0 L529.7,290.0 L530.5,273.1 L531.7,272.5 L533.1,276.1 L534.5,278.1 L535.7,277.1 L536.7,268.1 L537.7,267.1 L538.5,271.1 L539.5,261.1 L540.7,258.1 L541.7,248.1 L542.5,246.1 L543.3,253.1 L544.1,247.1 L545.1,243.1 L546.1,230.0 L547.1,238.1 L548.1,229.0 L549.3,233.1 L550.3,220.0 L551.3,215.0 L552.5,225.0 L553.7,235.1 L554.9,238.1 L556.1,237.1 L557.3,228.0 L558.3,216.0 L559.7,216.0 L560.9,223.0 L562.1,234.1 L563.3,235.1 L564.3,219.0 L565.4,218.0 L566.6,228.0 L567.8,234.5 L569.0,224.0 L570.2,218.0 L571.2,216.4 L572.2,223.0 L573.8,226.0 L575.0,233.1 L576.2,237.1 L577.4,250.1 L578.6,247.1 L579.8,236.1 L581.0,227.6 L582.2,235.1 L583.4,240.1 L584.6,247.1 L585.8,254.1 L586.8,259.1 L587.8,253.1 L588.8,257.1 L589.8,252.1 L590.6,250.1 L591.6,257.1 L592.6,263.1 L593.8,266.1 L595.0,270.1 L596.2,274.1 L597.4,284.1 L598.2,278.1 L599.4,280.1 L601.0,278.1 L602.4,282.1 L604.0,286.1 L605.0,294.1 L606.0,305.1 L607.6,305.7 L609.0,303.1 L610.6,306.1 L612.0,307.1 L613.6,304.1 L615.6,304.5 L617.0,310.1 L617.6,316.0 L619.6,319.0 L621.0,314.0 L622.4,323.0 L624.4,327.0 L626.0,330.0 L627.6,334.1 L629.6,332.1 L631.6,333.1 L633.1,339.1 L634.5,332.1 L636.1,338.1 L637.7,348.1 L639.7,345.1 L641.7,344.1 L643.7,343.1 L646.1,342.5 L648.1,345.1 L650.1,347.1 L652.1,349.1 L654.1,352.1 L656.1,355.1 L658.1,354.1 L660.1,356.1 L661.7,359.1 L663.1,354.1 L664.5,356.1 L666.1,362.1 L667.7,367.1 L669.1,364.1 L671.1,360.1 L672.5,364.1 L674.1,367.1 L676.1,369.1 L678.1,368.1 L680.1,370.1 L682.1,369.1 L684.1,365.7 L686.1,366.1 L688.1,365.1 L690.1,368.1 L692.1,367.1 L694.1,366.1 L696.1,367.1 L698.1,370.1 L700.1,373.1 L702.1,374.1 L704.1,371.1 L706.1,373.1 L708.1,371.1 L710.1,374.1 L712.1,372.1 L714.1,375.1 L716.2,372.1 L717.8,373.1" fill="none" stroke="#808080" stroke-width="1.8" stroke-linejoin="round" stroke-linecap="butt" />
<path d="M464.4,378.1 L465.6,374.1 L467.0,379.1 L481.0,379.1 L483.1,378.1 L485.1,374.1 L486.5,376.1 L488.1,372.1 L489.5,379.1 L494.5,379.1 L496.1,373.1 L498.1,365.7 L499.5,366.1 L501.1,372.1 L502.5,370.1 L504.1,369.1 L506.1,374.1 L507.7,377.1 L509.1,379.1 L511.1,375.1 L513.1,374.1 L514.5,379.1 L525.1,379.1 L526.1,378.1 L527.7,374.1 L529.1,376.1 L530.5,373.1 L531.7,379.1 L535.1,379.1 L536.5,373.1 L538.1,376.1 L539.5,372.1 L541.1,375.1 L542.5,374.1 L544.1,371.1 L545.7,379.1 L551.1,379.1 L552.1,377.1 L553.1,379.1 L558.1,379.1 L559.7,374.1 L561.1,376.1 L562.5,373.1 L564.1,377.1 L565.8,370.1 L567.2,374.1 L568.6,371.1 L570.2,375.1 L571.8,372.1 L573.2,370.1 L574.6,374.1 L576.2,370.1 L577.8,375.1 L579.2,373.1 L580.6,377.1 L582.2,375.1 L583.4,379.1 L589.2,379.1 L591.0,379.1 L592.0,377.7 L595.0,376.5 L597.0,379.1 L601.0,379.1 L602.0,377.1 L603.6,374.1 L605.0,379.1 L617.0,379.1 L618.0,378.1 L620.0,374.1 L621.0,372.1 L622.0,377.1 L623.0,379.1 L628.0,379.1 L629.0,377.1 L631.0,375.1 L633.1,376.1 L635.1,379.1 L650.1,379.1 L651.1,378.1 L652.5,372.1 L654.1,369.1 L655.7,370.1 L657.1,367.1 L658.5,371.1 L660.1,374.1 L661.7,376.1 L663.1,375.1 L665.1,377.1 L666.1,379.1 L669.1,379.1 L670.1,378.1 L672.1,374.1 L673.7,379.1 L675.7,379.1 L676.1,378.1 L677.7,370.1 L679.1,369.1 L680.5,373.1 L681.7,379.1 L685.7,379.1 L687.1,375.1 L689.1,372.1 L691.1,370.1 L693.1,369.7 L695.1,372.1 L696.5,375.1 L698.1,379.1 L710.1,379.1 L711.1,378.1 L712.5,375.1 L714.1,379.1 L717.8,379.1" fill="none" stroke="#000000" stroke-width="1.7" stroke-linejoin="round" stroke-linecap="butt" />
<path d="M464.4,375.1 L466.0,373.1 L468.0,376.1 L470.0,375.1 L472.0,373.1 L474.0,377.1 L477.0,377.7 L480.0,377.1 L482.1,375.1 L484.1,376.1 L485.7,372.1 L487.1,370.1 L489.1,369.1 L490.5,374.1 L492.1,377.1 L494.1,377.1 L496.1,374.1 L498.1,372.5 L500.1,374.1 L502.1,373.1 L504.1,375.1 L506.1,374.1 L508.1,376.1 L511.1,376.5 L514.1,375.7 L516.1,376.1 L518.1,374.1 L520.1,371.1 L522.1,372.1 L524.1,370.1 L526.1,368.1 L528.1,365.1 L530.1,365.7 L532.1,363.1 L534.1,364.1 L536.1,361.1 L537.7,363.1 L539.1,362.1 L541.1,360.1 L543.1,362.5 L545.1,361.7 L547.1,359.1 L549.1,356.5 L551.1,360.1 L552.5,358.1 L554.1,360.5 L556.1,359.7 L558.1,360.5 L560.1,359.1 L562.1,361.1 L564.1,360.1 L566.2,362.5 L568.2,365.1 L570.2,361.1 L571.8,358.1 L573.2,362.1 L575.2,363.1 L577.2,366.1 L579.2,362.1 L581.2,361.1 L583.2,364.1 L585.2,365.1 L588.2,365.7 L590.0,370.1 L592.0,369.1 L594.0,367.1 L596.0,364.1 L597.6,363.7 L599.0,367.1 L601.0,366.1 L603.0,367.1 L605.0,368.1 L607.0,367.1 L609.0,366.5 L611.0,370.1 L613.0,372.1 L615.0,371.7 L617.0,373.1 L619.0,374.1 L621.0,371.1 L623.0,370.1 L625.0,372.1 L627.0,373.1 L629.0,371.1 L631.0,370.1 L633.1,372.1 L635.1,374.1 L638.1,374.5 L641.1,373.1 L643.1,373.7 L645.1,371.1 L647.1,369.1 L649.1,367.1 L651.1,371.1 L653.1,373.1 L655.1,372.1 L657.1,371.1 L659.1,373.1 L662.1,374.1 L665.1,373.1 L668.1,373.7 L670.1,372.1 L672.1,371.1 L674.1,370.1 L675.7,373.1 L677.1,377.1 L679.1,372.1 L681.1,370.1 L683.1,372.1 L685.1,374.1 L687.1,376.1 L689.1,375.1 L691.1,374.1 L693.1,373.1 L695.1,374.1 L697.1,376.1 L699.1,377.1 L702.1,376.1 L705.1,375.1 L708.1,376.1 L710.1,373.1 L712.1,371.1 L714.1,374.1 L716.2,375.1 L717.8,374.1" fill="none" stroke="#0000ff" stroke-width="1.9" stroke-linejoin="round" stroke-linecap="butt" />
</g>
<rect x="464.4" y="201.1" width="253.4" height="177.0" fill="none" stroke="#000" stroke-width="1.25"/>
<line x1="460.8" y1="378.1" x2="464.4" y2="378.1" stroke="#000" stroke-width="1.4" />
<text transform="translate(458.20 383.50) scale(1.0200 1)" font-family="'Liberation Sans', Arial, sans-serif" font-size="18.1" font-weight="bold" font-style="normal" text-anchor="end" >0.00</text>
<line x1="460.8" y1="333.9" x2="464.4" y2="333.9" stroke="#000" stroke-width="1.4" />
<text transform="translate(458.20 339.25) scale(1.0200 1)" font-family="'Liberation Sans', Arial, sans-serif" font-size="18.1" font-weight="bold" font-style="normal" text-anchor="end" >0.02</text>
<line x1="460.8" y1="289.6" x2="464.4" y2="289.6" stroke="#000" stroke-width="1.4" />
<text transform="translate(458.20 295.00) scale(1.0200 1)" font-family="'Liberation Sans', Arial, sans-serif" font-size="18.1" font-weight="bold" font-style="normal" text-anchor="end" >0.04</text>
<line x1="460.8" y1="245.4" x2="464.4" y2="245.4" stroke="#000" stroke-width="1.4" />
<text transform="translate(458.20 250.75) scale(1.0200 1)" font-family="'Liberation Sans', Arial, sans-serif" font-size="18.1" font-weight="bold" font-style="normal" text-anchor="end" >0.06</text>
<line x1="460.8" y1="201.1" x2="464.4" y2="201.1" stroke="#000" stroke-width="1.4" />
<text transform="translate(458.20 206.50) scale(1.0200 1)" font-family="'Liberation Sans', Arial, sans-serif" font-size="18.1" font-weight="bold" font-style="normal" text-anchor="end" >0.08</text>
<line x1="462.4" y1="356.0" x2="464.4" y2="356.0" stroke="#000" stroke-width="1.4" />
<line x1="462.4" y1="311.8" x2="464.4" y2="311.8" stroke="#000" stroke-width="1.4" />
<line x1="462.4" y1="267.5" x2="464.4" y2="267.5" stroke="#000" stroke-width="1.4" />
<line x1="462.4" y1="223.2" x2="464.4" y2="223.2" stroke="#000" stroke-width="1.4" />
<line x1="500.5" y1="378.1" x2="500.5" y2="381.5" stroke="#000" stroke-width="1.4" />
<text x="500.50" y="398.10" font-family="'Liberation Sans', Arial, sans-serif" font-size="17.8" font-weight="bold" font-style="normal" text-anchor="middle" >400</text>
<line x1="572.9" y1="378.1" x2="572.9" y2="381.5" stroke="#000" stroke-width="1.4" />
<text x="572.90" y="398.10" font-family="'Liberation Sans', Arial, sans-serif" font-size="17.8" font-weight="bold" font-style="normal" text-anchor="middle" >500</text>
<line x1="645.3" y1="378.1" x2="645.3" y2="381.5" stroke="#000" stroke-width="1.4" />
<text x="645.30" y="398.10" font-family="'Liberation Sans', Arial, sans-serif" font-size="17.8" font-weight="bold" font-style="normal" text-anchor="middle" >600</text>
<line x1="717.7" y1="378.1" x2="717.7" y2="381.5" stroke="#000" stroke-width="1.4" />
<text x="717.70" y="398.10" font-family="'Liberation Sans', Arial, sans-serif" font-size="17.8" font-weight="bold" font-style="normal" text-anchor="middle" >700</text>
<line x1="464.4" y1="378.1" x2="464.4" y2="380.1" stroke="#000" stroke-width="1.4" />
<line x1="536.8" y1="378.1" x2="536.8" y2="380.1" stroke="#000" stroke-width="1.4" />
<line x1="609.2" y1="378.1" x2="609.2" y2="380.1" stroke="#000" stroke-width="1.4" />
<line x1="681.6" y1="378.1" x2="681.6" y2="380.1" stroke="#000" stroke-width="1.4" />
<g clip-path="url(#cb)">
<path d="M883.2,534.2 L884.3,534.1 L885.4,534.3 L886.5,534.4 L887.6,534.3 L888.7,534.4 L889.8,534.4 L890.9,534.4 L892.0,534.3 L893.1,534.3 L894.2,534.3 L895.3,534.3 L896.4,534.4 L897.5,534.2 L898.6,534.1 L899.7,534.3 L900.8,534.3 L901.9,534.4 L903.0,534.2 L904.1,534.4 L905.2,534.4 L906.3,534.4 L907.4,534.4 L908.5,534.4 L909.6,534.2 L910.7,534.2 L911.8,534.3 L912.9,534.3 L914.0,534.2 L915.1,534.4 L916.2,534.4 L917.3,534.1 L918.4,534.2 L919.5,534.2 L920.6,534.2 L921.7,534.4 L922.8,534.2 L923.9,534.1 L925.0,534.1 L926.1,534.1 L927.2,534.3 L928.3,534.2 L929.4,534.3 L930.5,534.3 L931.6,534.3 L932.7,534.2 L933.8,534.2 L934.9,533.9 L936.0,534.1 L937.1,533.9 L938.2,533.9 L939.3,533.9 L940.4,533.7 L941.5,533.9 L942.6,533.7 L943.7,533.8 L944.8,533.7 L945.9,533.5 L947.0,533.7 L948.1,533.7 L949.2,533.6 L950.3,533.5 L951.4,533.4 L952.5,533.3 L953.6,533.3 L954.7,533.4 L955.8,531.5 L956.9,528.9 L958.0,526.9 L959.1,525.2 L960.2,523.7 L961.3,521.8 L962.4,520.2 L963.5,517.6 L964.6,514.9 L965.7,508.6 L966.8,502.5 L967.9,495.2 L969.0,486.3 L970.1,477.5 L971.2,468.9 L972.3,458.2 L973.4,445.5 L974.5,432.3 L975.6,420.0 L976.7,409.0 L977.8,396.5 L978.9,374.1 L980.0,352.0 L981.1,327.5 L982.2,301.3 L983.3,278.3 L984.4,262.3 L985.5,238.5 L986.6,219.1 L987.7,201.5 L988.8,189.0 L989.9,178.5 L991.0,161.5 L992.1,154.5 L993.2,150.9 L994.3,141.7 L995.4,134.3 L996.5,130.7 L997.6,137.6 L998.7,138.5 L999.8,134.3 L1000.9,143.2 L1002.0,143.2 L1003.1,147.0 L1004.2,142.1 L1005.3,144.6 L1006.4,155.9 L1007.5,151.0 L1008.6,159.2 L1009.7,160.8 L1010.8,157.3 L1011.9,163.2 L1013.0,172.7 L1014.1,177.0 L1015.2,183.2 L1016.3,187.1 L1017.4,187.4 L1018.5,192.0 L1019.6,195.6 L1020.7,200.6 L1021.8,201.1 L1022.9,205.3 L1024.0,209.0 L1025.1,211.2 L1026.2,213.9 L1027.3,224.7 L1028.4,228.7 L1029.5,228.7 L1030.6,239.2 L1031.7,239.1 L1032.8,247.5 L1033.9,247.6 L1035.0,254.6 L1036.1,254.7 L1037.2,260.8 L1038.3,265.5 L1039.4,272.3 L1040.5,271.3 L1041.6,275.0 L1042.7,279.1 L1043.8,286.6 L1044.9,290.3 L1046.0,293.4 L1047.1,299.6 L1048.2,303.3 L1049.3,301.9 L1050.4,305.7 L1051.5,312.8 L1052.6,311.9 L1053.7,314.5 L1054.8,319.5 L1055.9,321.1 L1057.0,323.4 L1058.1,327.9 L1059.2,335.6 L1060.3,334.8 L1061.4,338.9 L1062.5,342.7 L1063.6,344.4 L1064.7,349.3 L1065.8,355.1 L1066.9,354.0 L1068.0,360.1 L1069.1,362.5 L1070.2,366.7 L1071.3,366.9 L1072.4,369.8 L1073.5,375.2 L1074.6,378.8 L1075.7,380.7 L1076.8,380.0 L1077.9,383.9 L1079.0,389.2 L1080.1,391.6 L1081.2,392.1 L1082.3,391.9 L1083.4,396.0 L1084.5,397.7 L1085.6,396.5 L1086.7,401.9 L1087.8,401.1 L1088.9,404.9 L1090.0,402.4 L1091.1,407.3 L1092.2,406.6 L1093.3,412.6 L1094.4,412.7 L1095.5,414.1 L1096.6,419.0 L1097.7,418.9 L1098.8,419.0 L1099.9,421.7 L1101.0,424.5 L1102.1,422.5 L1103.2,423.4 L1104.3,427.1 L1105.4,425.8 L1106.5,426.8 L1107.6,428.9 L1108.7,432.4 L1109.8,433.9 L1110.9,433.3 L1112.0,436.5 L1113.1,437.0 L1114.2,437.1 L1115.3,439.0 L1116.4,438.2 L1117.5,439.4 L1118.6,438.2 L1119.7,439.6 L1120.8,442.1 L1121.9,443.8 L1123.0,445.3 L1124.1,445.3 L1125.2,445.3 L1126.3,445.7 L1127.4,447.0 L1128.5,449.1 L1129.6,448.7 L1130.7,447.8 L1131.8,448.6 L1132.9,448.5 L1134.0,449.0 L1135.1,452.0 L1136.2,453.5 L1137.3,455.2 L1138.4,454.8 L1139.5,457.4 L1140.6,460.2 L1141.7,459.6 L1142.8,462.1 L1143.9,463.6 L1145.0,464.3 L1146.1,464.2 L1147.2,465.0 L1148.3,465.0 L1149.4,465.7 L1150.5,467.6 L1151.6,468.4 L1152.7,468.8 L1153.8,469.4 L1154.9,469.8 L1156.0,468.9 L1157.1,470.3 L1158.2,469.6 L1159.3,469.6 L1160.4,472.2 L1161.5,471.3 L1162.6,471.8 L1163.7,472.0 L1164.8,474.4 L1165.9,473.7 L1167.0,476.4 L1168.1,475.2 L1169.2,474.5 L1170.3,476.0 L1171.4,476.1 L1172.5,475.4 L1173.6,475.2 L1174.7,476.2 L1175.8,477.1 L1176.9,478.4 L1178.0,478.5 L1179.1,477.6 L1180.2,479.4 L1181.3,479.2 L1182.4,480.3 L1183.5,478.5 L1184.6,481.6 L1185.7,481.0 L1186.8,484.2 L1187.9,484.3 L1189.0,485.0 L1190.1,483.6 L1191.2,483.8 L1192.3,485.0 L1193.4,484.0 L1194.5,485.3 L1195.6,487.4 L1196.7,486.6 L1197.8,486.4 L1198.9,487.0 L1200.0,488.9 L1201.1,487.3 L1202.2,487.8 L1203.3,488.6 L1204.4,489.1 L1205.5,488.1 L1206.6,488.7 L1207.7,490.5 L1208.8,490.5 L1209.9,489.9 L1211.0,492.1 L1212.1,491.8 L1213.2,490.5 L1214.3,492.2 L1215.4,491.4 L1216.5,491.0 L1217.6,490.8 L1218.7,491.1 L1219.8,492.1 L1220.9,492.4 L1222.0,493.2 L1223.1,494.2 L1224.2,494.3 L1225.3,494.0 L1226.4,493.9 L1227.5,496.0 L1228.6,495.4 L1229.7,495.2 L1230.8,493.9 L1231.9,494.3 L1233.0,494.8 L1234.1,495.1 L1235.2,495.8 L1236.3,496.7 L1237.4,496.3 L1238.5,498.4 L1239.6,496.9 L1240.7,496.9 L1241.8,497.5 L1242.9,499.6 L1244.0,499.5 L1245.1,499.1 L1246.2,500.0 L1247.3,500.0 L1248.4,500.3 L1249.5,499.9 L1250.6,501.9 L1251.7,501.4 L1252.8,502.2 L1253.9,501.8 L1255.0,501.3 L1256.1,500.3 L1257.2,501.8 L1258.3,502.6 L1259.4,501.9 L1260.5,501.5 L1261.6,502.8 L1262.7,504.0 L1263.8,503.4 L1264.9,503.7 L1266.0,502.9 L1267.1,502.1 L1268.2,501.9 L1269.3,504.3 L1270.4,503.7 L1271.5,504.1 L1272.6,505.2 L1273.7,504.9 L1274.8,506.0 L1275.9,506.5 L1277.0,506.7 L1278.1,505.2 L1279.2,504.7 L1280.3,505.9 L1281.4,506.2 L1282.5,506.2 L1283.6,506.8 L1284.7,507.2 L1285.8,506.5 L1286.9,507.4 L1288.0,506.9 L1289.1,507.5 L1290.2,506.6 L1291.3,506.6 L1292.4,506.3 L1293.5,508.4 L1294.6,507.7 L1295.7,508.5 L1296.8,507.4 L1297.9,508.1 L1299.0,509.3 L1300.1,508.2 L1301.2,508.5 L1302.3,509.8 L1303.4,510.5 L1304.5,509.6 L1305.6,510.4 L1306.7,509.2 L1307.8,510.9 L1308.9,509.9 L1310.0,511.4 L1311.1,511.2 L1312.2,510.7 L1313.3,511.9 L1314.4,513.0 L1315.5,512.3 L1316.6,513.2 L1317.7,512.6 L1318.8,512.5 L1319.9,511.7 L1321.0,512.7 L1322.1,512.7 L1323.2,512.8 L1324.3,513.1 L1325.4,514.2 L1326.5,513.4 L1327.6,513.7 L1328.7,513.3 L1329.8,512.8 L1330.9,515.1 L1332.0,514.0 L1333.1,514.9 L1334.2,513.4 L1335.3,513.2 L1336.4,514.1 L1337.5,514.1 L1338.6,515.2 L1339.7,514.9 L1340.8,515.3 L1341.9,516.2 L1343.0,516.1 L1344.1,515.4 L1345.2,516.0 L1346.3,514.4 L1347.4,514.8 L1348.5,516.4 L1349.6,516.3 L1350.7,516.6 L1351.8,515.9 L1352.9,515.8 L1354.0,515.8 L1355.1,515.5 L1356.2,516.0 L1357.3,516.0 L1358.4,517.2 L1359.5,516.1 L1360.6,517.8 L1361.7,518.2 L1362.8,517.3 L1363.9,517.7 L1365.0,517.7 L1366.1,516.8 L1367.2,516.8 L1368.3,516.7 L1369.4,516.9 L1370.5,519.2 L1371.6,519.5 L1372.7,519.1 L1373.8,519.8 L1374.9,518.6 L1376.0,519.8 L1377.1,518.4 L1378.2,519.0 L1379.3,518.6 L1380.4,518.7 L1381.5,518.7 L1382.6,519.3 L1383.7,517.7 L1384.8,519.7 L1385.9,518.7 L1387.0,519.5 L1388.1,518.6 L1389.2,520.6 L1390.3,521.4 L1391.4,520.7 L1392.5,521.5 L1393.6,520.5 L1394.7,520.7 L1395.8,520.7 L1396.9,520.9 L1398.0,521.5 L1399.1,520.9 L1400.2,521.0 L1401.3,520.8 L1402.4,521.6 L1403.5,521.3 L1404.6,521.1 L1405.7,521.1 L1406.8,521.3 L1407.9,520.8 L1409.0,520.6 L1410.1,521.3 L1411.2,522.3 L1412.3,521.1 L1413.4,522.0 L1414.5,521.2 L1415.6,523.0 L1416.7,522.5 L1417.8,522.7 L1418.9,521.5 L1420.0,523.2 L1421.1,523.6 L1422.2,523.5 L1423.3,523.9 L1424.4,522.7 L1425.5,523.7 L1426.6,522.6 L1427.7,523.2 L1428.8,524.2 L1429.9,523.1 L1431.0,524.2 L1432.1,523.2 L1433.2,523.5 L1434.3,524.7 L1435.4,523.2 L1436.5,524.8 L1437.6,524.7 L1438.7,523.7 L1439.8,524.1 L1440.9,523.4 L1442.0,524.3 L1443.1,523.9 L1444.2,525.4 L1445.3,524.7 L1446.4,524.9 L1447.5,525.0 L1448.6,525.1 L1449.7,525.4 L1450.8,524.5 L1451.9,524.5 L1453.0,524.6 L1454.1,525.0 L1455.2,525.8 L1456.3,525.0 L1457.4,526.2 L1458.5,526.9 L1459.6,527.1 L1460.7,527.2 L1461.8,525.6 L1462.9,525.5 L1464.0,524.8 L1465.1,526.2 L1466.2,526.0 L1467.3,525.8 L1468.4,525.7 L1469.5,526.9 L1470.6,525.9 L1471.7,525.2 L1472.8,524.9 L1473.9,526.3 L1475.0,525.9 L1476.1,526.2 L1477.2,527.7 L1478.3,526.6 L1479.4,527.3 L1480.5,527.3 L1481.6,525.9 L1482.7,527.3 L1483.8,527.5 L1484.9,527.3 L1486.0,527.0 L1487.1,527.4 L1488.2,527.5 L1489.3,527.7 L1490.4,526.8 L1491.5,526.6 L1492.6,527.1 L1493.7,527.5 L1494.8,527.3 L1495.9,527.1 L1497.0,527.1 L1498.1,526.7 L1499.2,527.5 L1500.3,526.6 L1501.4,528.0 L1502.5,526.8 L1503.6,527.4 L1504.7,527.9 L1505.8,528.5 L1506.9,527.4 L1508.0,527.5 L1509.1,527.9 L1510.2,528.7 L1511.3,528.2 L1512.4,528.8 L1513.5,529.6 L1514.6,528.1 L1515.7,529.2 L1516.8,527.9 L1517.9,529.6 L1519.0,529.9 L1520.1,528.8 L1521.2,528.6 L1522.3,529.7 L1523.4,527.8 L1524.5,529.1 L1525.6,528.3 L1526.7,528.7 L1527.8,529.2 L1528.9,529.6 L1530.0,529.9 L1531.1,528.8 L1532.2,528.9 L1533.3,529.7 L1534.4,529.6 L1535.5,529.2 L1536.6,529.3 L1537.7,528.2 L1538.8,529.7 L1539.9,528.2 L1541.0,528.5 L1542.1,528.5 L1543.2,529.7 L1544.3,530.2 L1545.4,530.1 L1546.5,530.5 L1547.6,530.3 L1548.7,529.7 L1549.8,529.2 L1550.9,529.2 L1552.0,528.7 L1553.1,530.2 L1554.2,530.0 L1555.3,530.5 L1556.4,530.5 L1557.5,530.7 L1558.6,531.5 L1559.7,531.5 L1560.8,531.0 L1561.9,530.8 L1563.0,530.6 L1564.1,530.2 L1565.2,531.0 L1566.3,531.0 L1567.4,530.7 L1568.5,531.3 L1569.6,532.2 L1570.7,532.0 L1571.8,531.9 L1572.9,532.3 L1574.0,530.7 L1575.1,531.4 L1576.2,530.6 L1577.3,532.4 L1578.4,531.1 L1579.5,531.4 L1580.6,531.5 L1581.7,532.6 L1582.8,531.6 L1583.9,530.5 L1585.0,531.6 L1586.1,531.8 L1587.2,532.1 L1588.3,532.1 L1589.4,531.6 L1590.5,532.0 L1591.6,531.9 L1592.7,530.7 L1593.8,531.2 L1594.9,532.1 L1596.0,530.7 L1597.1,531.8 L1598.2,532.1 L1599.3,531.5 L1600.4,531.9 L1601.5,532.0 L1602.6,531.2 L1603.7,532.0 L1604.8,531.1 L1605.9,531.4 L1607.0,532.4 L1608.1,533.1 L1609.2,532.9 L1610.3,531.9 L1611.4,531.5 L1612.5,531.5 L1613.6,532.8 L1614.7,531.9 L1615.8,533.0 L1616.9,532.2 L1618.0,532.4 L1619.1,532.7 L1620.2,532.3 L1621.3,532.5 L1622.4,533.1 L1623.5,531.9 L1624.6,532.7 L1625.7,532.9 L1626.8,531.5 L1627.9,532.0 L1629.0,531.9 L1630.1,532.9 L1631.2,532.6 L1632.3,533.5 L1633.4,533.0 L1634.5,533.3 L1635.6,532.7 L1636.7,533.5 L1637.8,533.1 L1638.9,532.8 L1640.0,532.2 L1640.0,535.2 L1638.9,535.1 L1637.8,535.3 L1636.7,536.3 L1635.6,536.4 L1634.5,536.5 L1633.4,535.5 L1632.3,536.2 L1631.2,534.8 L1630.1,535.0 L1629.0,534.7 L1627.9,535.4 L1626.8,534.9 L1625.7,536.1 L1624.6,535.1 L1623.5,535.8 L1622.4,535.4 L1621.3,534.3 L1620.2,535.8 L1619.1,534.6 L1618.0,535.4 L1616.9,534.9 L1615.8,534.9 L1614.7,534.1 L1613.6,534.9 L1612.5,534.8 L1611.4,534.4 L1610.3,534.2 L1609.2,534.3 L1608.1,536.0 L1607.0,535.1 L1605.9,535.4 L1604.8,535.6 L1603.7,534.6 L1602.6,534.7 L1601.5,534.2 L1600.4,534.3 L1599.3,534.2 L1598.2,533.7 L1597.1,534.5 L1596.0,533.8 L1594.9,534.8 L1593.8,533.9 L1592.7,534.2 L1591.6,535.3 L1590.5,534.6 L1589.4,533.8 L1588.3,534.5 L1587.2,534.3 L1586.1,534.1 L1585.0,534.8 L1583.9,534.0 L1582.8,534.4 L1581.7,534.1 L1580.6,534.7 L1579.5,535.2 L1578.4,535.3 L1577.3,534.9 L1576.2,534.5 L1575.1,534.7 L1574.0,533.5 L1572.9,533.9 L1571.8,534.0 L1570.7,534.6 L1569.6,534.1 L1568.5,533.9 L1567.4,534.3 L1566.3,534.6 L1565.2,533.4 L1564.1,533.4 L1563.0,534.6 L1561.9,533.0 L1560.8,534.7 L1559.7,534.1 L1558.6,533.4 L1557.5,533.6 L1556.4,533.0 L1555.3,533.4 L1554.2,532.4 L1553.1,532.0 L1552.0,532.9 L1550.9,532.6 L1549.8,532.0 L1548.7,533.3 L1547.6,532.9 L1546.5,532.1 L1545.4,531.9 L1544.3,532.1 L1543.2,532.1 L1542.1,533.0 L1541.0,533.1 L1539.9,531.8 L1538.8,532.7 L1537.7,532.0 L1536.6,532.5 L1535.5,532.7 L1534.4,532.8 L1533.3,531.9 L1532.2,533.2 L1531.1,531.7 L1530.0,533.1 L1528.9,531.9 L1527.8,532.7 L1526.7,531.7 L1525.6,532.7 L1524.5,531.6 L1523.4,531.3 L1522.3,532.3 L1521.2,531.5 L1520.1,531.2 L1519.0,532.6 L1517.9,532.3 L1516.8,531.3 L1515.7,530.8 L1514.6,531.2 L1513.5,531.3 L1512.4,531.4 L1511.3,531.5 L1510.2,532.3 L1509.1,531.3 L1508.0,531.1 L1506.9,530.6 L1505.8,531.5 L1504.7,531.3 L1503.6,529.7 L1502.5,529.9 L1501.4,530.9 L1500.3,529.1 L1499.2,530.5 L1498.1,529.7 L1497.0,531.3 L1495.9,530.0 L1494.8,531.0 L1493.7,529.2 L1492.6,529.7 L1491.5,530.5 L1490.4,530.4 L1489.3,530.0 L1488.2,530.2 L1487.1,529.9 L1486.0,530.8 L1484.9,529.9 L1483.8,530.0 L1482.7,529.0 L1481.6,530.5 L1480.5,529.9 L1479.4,529.9 L1478.3,530.2 L1477.2,528.9 L1476.1,529.3 L1475.0,530.1 L1473.9,529.6 L1472.8,528.8 L1471.7,528.3 L1470.6,528.8 L1469.5,528.1 L1468.4,529.8 L1467.3,529.3 L1466.2,528.0 L1465.1,527.9 L1464.0,527.7 L1462.9,529.0 L1461.8,529.5 L1460.7,530.0 L1459.6,529.1 L1458.5,530.0 L1457.4,528.7 L1456.3,529.4 L1455.2,527.6 L1454.1,528.8 L1453.0,528.3 L1451.9,528.4 L1450.8,528.6 L1449.7,527.6 L1448.6,528.6 L1447.5,528.5 L1446.4,528.4 L1445.3,528.3 L1444.2,526.6 L1443.1,526.6 L1442.0,526.6 L1440.9,528.2 L1439.8,527.3 L1438.7,527.1 L1437.6,526.8 L1436.5,526.8 L1435.4,526.5 L1434.3,526.4 L1433.2,526.0 L1432.1,527.7 L1431.0,527.3 L1429.9,527.4 L1428.8,527.5 L1427.7,526.1 L1426.6,527.1 L1425.5,525.9 L1424.4,526.8 L1423.3,526.4 L1422.2,526.6 L1421.1,525.4 L1420.0,525.5 L1418.9,524.6 L1417.8,525.3 L1416.7,525.5 L1415.6,525.0 L1414.5,525.6 L1413.4,526.1 L1412.3,525.3 L1411.2,524.4 L1410.1,524.8 L1409.0,524.5 L1407.9,523.8 L1406.8,524.1 L1405.7,524.5 L1404.6,524.6 L1403.5,524.2 L1402.4,523.8 L1401.3,523.7 L1400.2,523.8 L1399.1,523.6 L1398.0,524.4 L1396.9,524.3 L1395.8,524.5 L1394.7,524.6 L1393.6,524.6 L1392.5,524.4 L1391.4,524.3 L1390.3,523.2 L1389.2,523.4 L1388.1,521.8 L1387.0,522.1 L1385.9,522.4 L1384.8,522.2 L1383.7,522.9 L1382.6,521.5 L1381.5,522.7 L1380.4,523.1 L1379.3,522.7 L1378.2,521.2 L1377.1,522.9 L1376.0,521.7 L1374.9,522.7 L1373.8,522.2 L1372.7,522.6 L1371.6,522.5 L1370.5,521.9 L1369.4,520.0 L1368.3,521.1 L1367.2,521.3 L1366.1,521.5 L1365.0,520.4 L1363.9,520.7 L1362.8,521.8 L1361.7,520.3 L1360.6,520.2 L1359.5,519.5 L1358.4,520.1 L1357.3,518.8 L1356.2,519.5 L1355.1,519.3 L1354.0,519.1 L1352.9,520.0 L1351.8,518.6 L1350.7,518.3 L1349.6,518.6 L1348.5,519.5 L1347.4,518.3 L1346.3,517.8 L1345.2,518.7 L1344.1,517.5 L1343.0,518.0 L1341.9,518.3 L1340.8,518.1 L1339.7,519.5 L1338.6,518.4 L1337.5,518.8 L1336.4,517.6 L1335.3,517.6 L1334.2,517.4 L1333.1,518.1 L1332.0,517.1 L1330.9,516.7 L1329.8,518.1 L1328.7,516.4 L1327.6,517.3 L1326.5,515.5 L1325.4,516.8 L1324.3,515.8 L1323.2,517.2 L1322.1,515.3 L1321.0,515.0 L1319.9,516.2 L1318.8,516.1 L1317.7,516.3 L1316.6,515.6 L1315.5,515.8 L1314.4,514.7 L1313.3,514.4 L1312.2,515.3 L1311.1,515.5 L1310.0,515.0 L1308.9,512.6 L1307.8,512.5 L1306.7,513.6 L1305.6,514.1 L1304.5,514.6 L1303.4,514.4 L1302.3,513.8 L1301.2,511.7 L1300.1,512.2 L1299.0,512.2 L1297.9,512.7 L1296.8,510.3 L1295.7,510.0 L1294.6,510.5 L1293.5,509.8 L1292.4,509.7 L1291.3,510.2 L1290.2,510.7 L1289.1,510.4 L1288.0,510.0 L1286.9,509.4 L1285.8,509.4 L1284.7,510.3 L1283.6,509.0 L1282.5,510.7 L1281.4,508.8 L1280.3,509.5 L1279.2,509.6 L1278.1,509.6 L1277.0,508.7 L1275.9,508.0 L1274.8,508.9 L1273.7,509.8 L1272.6,508.5 L1271.5,509.1 L1270.4,507.8 L1269.3,506.0 L1268.2,506.4 L1267.1,505.3 L1266.0,506.9 L1264.9,507.8 L1263.8,507.7 L1262.7,505.9 L1261.6,506.8 L1260.5,506.7 L1259.4,505.0 L1258.3,506.3 L1257.2,505.8 L1256.1,504.7 L1255.0,504.6 L1253.9,504.8 L1252.8,505.8 L1251.7,504.9 L1250.6,504.2 L1249.5,504.7 L1248.4,502.6 L1247.3,501.8 L1246.2,502.7 L1245.1,503.1 L1244.0,501.6 L1242.9,501.1 L1241.8,502.5 L1240.7,501.5 L1239.6,500.8 L1238.5,500.2 L1237.4,500.0 L1236.3,500.1 L1235.2,500.1 L1234.1,500.1 L1233.0,497.8 L1231.9,497.9 L1230.8,499.7 L1229.7,499.0 L1228.6,499.6 L1227.5,498.7 L1226.4,497.7 L1225.3,499.0 L1224.2,497.0 L1223.1,497.1 L1222.0,496.1 L1220.9,495.1 L1219.8,495.8 L1218.7,494.6 L1217.6,494.5 L1216.5,495.1 L1215.4,495.4 L1214.3,495.3 L1213.2,494.8 L1212.1,495.5 L1211.0,494.5 L1209.9,493.8 L1208.8,494.4 L1207.7,493.1 L1206.6,493.3 L1205.5,491.5 L1204.4,491.1 L1203.3,493.0 L1202.2,492.3 L1201.1,493.1 L1200.0,490.7 L1198.9,492.3 L1197.8,491.6 L1196.7,492.0 L1195.6,489.5 L1194.5,489.1 L1193.4,489.6 L1192.3,488.7 L1191.2,487.7 L1190.1,488.1 L1189.0,488.3 L1187.9,487.7 L1186.8,486.3 L1185.7,485.8 L1184.6,485.4 L1183.5,484.1 L1182.4,483.1 L1181.3,482.0 L1180.2,482.8 L1179.1,482.9 L1178.0,482.7 L1176.9,482.2 L1175.8,481.8 L1174.7,482.0 L1173.6,480.3 L1172.5,478.9 L1171.4,478.7 L1170.3,478.4 L1169.2,480.7 L1168.1,480.3 L1167.0,478.2 L1165.9,477.1 L1164.8,478.8 L1163.7,477.5 L1162.6,475.8 L1161.5,476.2 L1160.4,476.1 L1159.3,476.2 L1158.2,474.2 L1157.1,475.4 L1156.0,475.2 L1154.9,474.0 L1153.8,472.7 L1152.7,472.0 L1151.6,471.2 L1150.5,469.8 L1149.4,470.9 L1148.3,468.8 L1147.2,468.6 L1146.1,468.8 L1145.0,468.4 L1143.9,466.3 L1142.8,466.1 L1141.7,464.6 L1140.6,462.4 L1139.5,460.9 L1138.4,459.1 L1137.3,460.1 L1136.2,456.7 L1135.1,457.0 L1134.0,453.5 L1132.9,453.0 L1131.8,452.9 L1130.7,453.3 L1129.6,452.1 L1128.5,452.4 L1127.4,450.7 L1126.3,450.4 L1125.2,451.0 L1124.1,449.4 L1123.0,450.4 L1121.9,448.6 L1120.8,445.5 L1119.7,445.1 L1118.6,443.1 L1117.5,444.0 L1116.4,444.0 L1115.3,442.9 L1114.2,442.6 L1113.1,441.2 L1112.0,442.0 L1110.9,440.0 L1109.8,438.0 L1108.7,437.7 L1107.6,435.0 L1106.5,435.0 L1105.4,431.1 L1104.3,430.5 L1103.2,429.0 L1102.1,431.0 L1101.0,430.8 L1099.9,428.9 L1098.8,427.2 L1097.7,425.0 L1096.6,422.3 L1095.5,419.9 L1094.4,421.3 L1093.3,416.9 L1092.2,413.6 L1091.1,412.5 L1090.0,412.4 L1088.9,409.5 L1087.8,406.5 L1086.7,409.0 L1085.6,407.5 L1084.5,402.7 L1083.4,402.4 L1082.3,401.6 L1081.2,398.8 L1080.1,399.1 L1079.0,396.9 L1077.9,394.1 L1076.8,387.5 L1075.7,385.0 L1074.6,382.8 L1073.5,382.2 L1072.4,376.7 L1071.3,374.2 L1070.2,372.1 L1069.1,367.3 L1068.0,366.0 L1066.9,361.4 L1065.8,361.3 L1064.7,356.2 L1063.6,355.2 L1062.5,353.2 L1061.4,346.3 L1060.3,344.5 L1059.2,339.9 L1058.1,338.4 L1057.0,331.9 L1055.9,333.0 L1054.8,331.4 L1053.7,327.1 L1052.6,325.2 L1051.5,317.5 L1050.4,319.4 L1049.3,313.7 L1048.2,310.8 L1047.1,308.7 L1046.0,300.1 L1044.9,296.3 L1043.8,297.5 L1042.7,291.3 L1041.6,285.5 L1040.5,280.1 L1039.4,280.1 L1038.3,278.6 L1037.2,274.9 L1036.1,268.1 L1035.0,263.6 L1033.9,262.3 L1032.8,261.0 L1031.7,255.0 L1030.6,250.1 L1029.5,246.8 L1028.4,241.7 L1027.3,229.2 L1026.2,226.0 L1025.1,222.7 L1024.0,221.6 L1022.9,215.8 L1021.8,212.8 L1020.7,218.1 L1019.6,214.4 L1018.5,205.1 L1017.4,202.8 L1016.3,197.6 L1015.2,195.5 L1014.1,187.8 L1013.0,185.5 L1011.9,180.7 L1010.8,177.5 L1009.7,170.5 L1008.6,166.8 L1007.5,167.8 L1006.4,163.5 L1005.3,160.7 L1004.2,162.0 L1003.1,160.9 L1002.0,156.6 L1000.9,156.8 L999.8,151.1 L998.7,151.0 L997.6,144.3 L996.5,148.5 L995.4,152.9 L994.3,157.0 L993.2,156.0 L992.1,162.7 L991.0,175.1 L989.9,189.6 L988.8,199.1 L987.7,205.9 L986.6,223.9 L985.5,239.6 L984.4,262.7 L983.3,279.0 L982.2,301.9 L981.1,327.7 L980.0,352.3 L978.9,374.6 L977.8,396.8 L976.7,409.6 L975.6,420.5 L974.5,432.8 L973.4,446.2 L972.3,458.6 L971.2,469.3 L970.1,478.2 L969.0,486.7 L967.9,495.6 L966.8,502.8 L965.7,509.3 L964.6,515.4 L963.5,518.3 L962.4,520.6 L961.3,522.3 L960.2,524.2 L959.1,525.5 L958.0,527.3 L956.9,529.4 L955.8,532.0 L954.7,533.8 L953.6,533.8 L952.5,533.8 L951.4,533.9 L950.3,533.9 L949.2,533.9 L948.1,533.9 L947.0,534.0 L945.9,534.1 L944.8,534.2 L943.7,534.3 L942.6,534.2 L941.5,534.3 L940.4,534.2 L939.3,534.4 L938.2,534.5 L937.1,534.3 L936.0,534.5 L934.9,534.5 L933.8,534.7 L932.7,534.5 L931.6,534.8 L930.5,534.8 L929.4,534.6 L928.3,534.8 L927.2,534.6 L926.1,534.9 L925.0,534.6 L923.9,534.7 L922.8,534.8 L921.7,534.6 L920.6,534.8 L919.5,534.8 L918.4,534.6 L917.3,534.9 L916.2,534.7 L915.1,534.6 L914.0,534.8 L912.9,534.9 L911.8,534.9 L910.7,534.7 L909.6,534.7 L908.5,534.8 L907.4,534.6 L906.3,534.6 L905.2,534.8 L904.1,534.8 L903.0,534.7 L901.9,534.7 L900.8,534.8 L899.7,534.7 L898.6,534.7 L897.5,534.8 L896.4,534.8 L895.3,534.7 L894.2,534.6 L893.1,534.8 L892.0,534.7 L890.9,534.8 L889.8,534.6 L888.7,534.9 L887.6,534.8 L886.5,534.7 L885.4,534.8 L884.3,534.9 L883.2,534.6Z" fill="#f4a460" stroke="#f4a460" stroke-width="1.7" stroke-linejoin="round"/>
<path d="M957.6,527.7 L958.3,526.6 L959.0,525.6 L959.7,524.5 L960.4,523.5 L961.1,522.4 L961.8,521.4 L962.5,520.3 L963.2,518.7 L963.9,516.9 L964.6,515.2 L965.3,511.2 L965.6,509.5" fill="none" stroke="#f4a460" stroke-width="1.65" stroke-linejoin="round" stroke-linecap="round"/>
<path d="M965.6,509.5 L966.3,505.5 L967.0,501.3 L967.7,496.9 L968.4,491.3 L969.1,485.7 L969.8,480.1 L970.5,474.5 L971.2,468.9 L971.9,462.3 L972.6,455.3 L973.3,446.9 L973.6,443.3" fill="none" stroke="#f4a460" stroke-width="1.74" stroke-linejoin="round" stroke-linecap="round"/>
<path d="M973.6,443.3 L974.3,434.9 L975.0,426.5 L975.7,419.3 L976.4,412.3 L977.1,405.3 L977.8,396.4 L978.5,382.2 L979.2,368.0 L979.9,353.9 L980.6,339.9 L981.3,322.4 L981.6,314.9" fill="none" stroke="#f4a460" stroke-width="1.87" stroke-linejoin="round" stroke-linecap="round"/>
<path d="M981.6,314.9 L982.3,299.1 L983.0,284.4 L983.7,271.2 L984.4,262.5 L985.1,245.1 L985.8,233.9 L986.5,222.7 L987.2,211.5 L987.9,202.1 L988.6,195.1 L989.3,188.1 L989.6,185.1" fill="none" stroke="#f4a460" stroke-width="2.60" stroke-linejoin="round" stroke-linecap="round"/>
<path d="M989.6,185.1 L990.3,177.7 L991.0,169.3 L991.7,162.6 L992.4,157.7 L993.1,154.1 L993.8,151.1 L994.5,148.0 L995.2,145.8 L995.9,143.8 L996.6,142.3 L997.3,141.6 L997.6,141.3" fill="none" stroke="#f4a460" stroke-width="3.85" stroke-linejoin="round" stroke-linecap="round"/>
<path d="M997.6,141.3 L998.3,142.7 L999.0,144.2 L999.7,145.7 L1000.4,147.0 L1001.1,148.0 L1001.8,148.9 L1002.5,149.8 L1003.2,150.9 L1003.9,152.2 L1004.6,153.7 L1005.3,155.4 L1005.6,156.2" fill="none" stroke="#f4a460" stroke-width="3.79" stroke-linejoin="round" stroke-linecap="round"/>
<path d="M1005.6,156.2 L1006.3,158.2 L1007.0,160.2 L1007.7,161.8 L1008.4,163.0 L1009.1,163.8 L1009.8,164.5 L1010.5,166.5 L1011.2,169.1 L1011.9,172.0 L1012.6,174.9 L1013.3,177.8 L1013.6,179.1" fill="none" stroke="#f4a460" stroke-width="4.76" stroke-linejoin="round" stroke-linecap="round"/>
<path d="M1013.6,179.1 L1014.3,182.0 L1015.0,184.8 L1015.7,187.8 L1016.4,190.8 L1017.1,193.9 L1017.8,196.9 L1018.5,199.9 L1019.2,202.8 L1019.9,205.7 L1020.6,207.6 L1021.3,209.3 L1021.6,209.9" fill="none" stroke="#f4a460" stroke-width="5.02" stroke-linejoin="round" stroke-linecap="round"/>
<path d="M1021.6,209.9 L1022.3,211.5 L1023.0,213.2 L1023.7,215.5 L1024.4,217.9 L1025.1,220.3 L1025.8,222.5 L1026.5,224.6 L1027.2,226.8 L1027.9,229.4 L1028.6,232.8 L1029.3,236.4 L1029.6,238.0" fill="none" stroke="#f4a460" stroke-width="5.06" stroke-linejoin="round" stroke-linecap="round"/>
<path d="M1029.6,238.0 L1030.3,241.4 L1031.0,244.4 L1031.7,247.3 L1032.4,250.0 L1033.1,252.6 L1033.8,254.9 L1034.5,257.1 L1035.2,259.4 L1035.9,261.7 L1036.6,264.1 L1037.3,266.7 L1037.6,267.8" fill="none" stroke="#f4a460" stroke-width="5.09" stroke-linejoin="round" stroke-linecap="round"/>
<path d="M1037.6,267.8 L1038.3,270.5 L1039.0,273.1 L1039.7,275.6 L1040.4,277.9 L1041.1,280.2 L1041.8,282.3 L1042.5,284.6 L1043.2,287.0 L1043.9,289.7 L1044.6,292.5 L1045.3,295.3 L1045.6,296.5" fill="none" stroke="#f4a460" stroke-width="5.12" stroke-linejoin="round" stroke-linecap="round"/>
<path d="M1045.6,296.5 L1046.3,299.1 L1047.0,301.6 L1047.7,304.0 L1048.4,306.3 L1049.1,308.6 L1049.8,310.8 L1050.5,312.8 L1051.2,314.7 L1051.9,316.5 L1052.6,318.4 L1053.3,320.2 L1053.6,321.0" fill="none" stroke="#f4a460" stroke-width="5.16" stroke-linejoin="round" stroke-linecap="round"/>
<path d="M1053.6,321.0 L1054.3,322.8 L1055.0,324.6 L1055.7,326.5 L1056.4,328.4 L1057.1,330.5 L1057.8,332.7 L1058.5,334.9 L1059.2,337.1 L1059.9,339.1 L1060.6,341.0 L1061.3,343.1 L1061.6,344.1" fill="none" stroke="#f4a460" stroke-width="5.19" stroke-linejoin="round" stroke-linecap="round"/>
<path d="M1061.6,344.1 L1062.3,346.4 L1063.0,348.9 L1063.7,351.3 L1064.4,353.5 L1065.1,355.6 L1065.8,357.2 L1066.5,358.7 L1067.2,360.2 L1067.9,361.9 L1068.6,363.9 L1069.3,366.0 L1069.6,366.9" fill="none" stroke="#f4a460" stroke-width="5.23" stroke-linejoin="round" stroke-linecap="round"/>
<path d="M1069.6,366.9 L1070.3,369.1 L1071.0,371.3 L1071.7,373.3 L1072.4,375.1 L1073.1,376.8 L1073.8,378.3 L1074.5,379.8 L1075.2,381.4 L1075.9,383.1 L1076.6,385.0 L1077.3,386.9 L1077.6,387.7" fill="none" stroke="#f4a460" stroke-width="5.27" stroke-linejoin="round" stroke-linecap="round"/>
<path d="M1077.6,387.7 L1078.3,389.7 L1079.0,391.6 L1079.7,393.4 L1080.4,394.8 L1081.1,395.8 L1081.8,396.7 L1082.5,397.5 L1083.2,398.3 L1083.9,399.3 L1084.6,400.4 L1085.3,401.5 L1085.6,402.0" fill="none" stroke="#f4a460" stroke-width="5.31" stroke-linejoin="round" stroke-linecap="round"/>
<path d="M1085.6,402.0 L1086.3,403.1 L1087.0,404.3 L1087.7,405.2 L1088.4,406.0 L1089.1,406.7 L1089.8,407.3 L1090.5,408.4 L1091.2,409.7 L1091.9,411.0 L1092.6,412.5 L1093.3,414.1 L1093.6,414.8" fill="none" stroke="#f4a460" stroke-width="5.35" stroke-linejoin="round" stroke-linecap="round"/>
<path d="M1093.6,414.8 L1094.3,416.4 L1095.0,417.9 L1095.7,419.2 L1096.4,420.4 L1097.1,421.5 L1097.8,422.5 L1098.5,423.4 L1099.2,424.3 L1099.9,425.2 L1100.6,425.9 L1101.3,426.5 L1101.6,426.6" fill="none" stroke="#f4a460" stroke-width="5.39" stroke-linejoin="round" stroke-linecap="round"/>
<path d="M1101.6,426.6 L1102.3,426.9 L1103.0,427.2 L1103.7,427.7 L1104.4,428.3 L1105.1,429.1 L1105.8,430.0 L1106.5,430.9 L1107.2,431.8 L1107.9,432.8 L1108.6,433.8 L1109.3,434.7 L1109.6,435.1" fill="none" stroke="#f4a460" stroke-width="5.36" stroke-linejoin="round" stroke-linecap="round"/>
<path d="M1109.6,435.1 L1110.3,436.1 L1111.0,437.0 L1111.7,437.8 L1112.4,438.4 L1113.1,438.9 L1113.8,439.2 L1114.5,439.6 L1115.2,439.9 L1115.9,440.3 L1116.6,440.7 L1117.3,441.2 L1117.6,441.4" fill="none" stroke="#f4a460" stroke-width="5.29" stroke-linejoin="round" stroke-linecap="round"/>
<path d="M1117.6,441.4 L1118.3,441.9 L1119.0,442.4 L1119.7,442.9 L1120.4,443.5 L1121.1,444.2 L1121.8,445.1 L1122.5,446.0 L1123.2,446.9 L1123.9,447.6 L1124.6,448.0 L1125.3,448.5 L1125.6,448.7" fill="none" stroke="#f4a460" stroke-width="5.23" stroke-linejoin="round" stroke-linecap="round"/>
<path d="M1125.6,448.7 L1126.3,449.2 L1127.0,449.6 L1127.7,450.1 L1128.4,450.4 L1129.1,450.5 L1129.8,450.4 L1130.5,450.3 L1131.2,450.3 L1131.9,450.7 L1132.6,451.3 L1133.3,452.0 L1133.6,452.3" fill="none" stroke="#f4a460" stroke-width="5.16" stroke-linejoin="round" stroke-linecap="round"/>
<path d="M1133.6,452.3 L1134.3,453.0 L1135.0,453.7 L1135.7,454.4 L1136.4,455.2 L1137.1,456.2 L1137.8,457.2 L1138.5,458.3 L1139.2,459.3 L1139.9,460.2 L1140.6,461.0 L1141.3,461.8 L1141.6,462.2" fill="none" stroke="#f4a460" stroke-width="5.10" stroke-linejoin="round" stroke-linecap="round"/>
<path d="M1141.6,462.2 L1142.3,463.1 L1143.0,463.9 L1143.7,464.5 L1144.4,464.9 L1145.1,465.4 L1145.8,465.8 L1146.5,466.3 L1147.2,466.7 L1147.9,467.1 L1148.6,467.5 L1149.3,467.9 L1149.6,468.1" fill="none" stroke="#f4a460" stroke-width="5.04" stroke-linejoin="round" stroke-linecap="round"/>
<path d="M1149.6,468.1 L1150.3,468.4 L1151.0,468.8 L1151.7,469.2 L1152.4,469.6 L1153.1,470.1 L1153.8,470.6 L1154.5,471.0 L1155.2,471.4 L1155.9,471.8 L1156.6,472.1 L1157.3,472.4 L1157.6,472.5" fill="none" stroke="#f4a460" stroke-width="4.97" stroke-linejoin="round" stroke-linecap="round"/>
<path d="M1157.6,472.5 L1158.3,472.6 L1159.0,472.8 L1159.7,473.1 L1160.4,473.4 L1161.1,473.7 L1161.8,474.0 L1162.5,474.4 L1163.2,474.7 L1163.9,475.0 L1164.6,475.4 L1165.3,475.9 L1165.6,476.1" fill="none" stroke="#f4a460" stroke-width="4.91" stroke-linejoin="round" stroke-linecap="round"/>
<path d="M1165.6,476.1 L1166.3,476.6 L1167.0,477.1 L1167.7,477.5 L1168.4,477.7 L1169.1,477.7 L1169.8,477.4 L1170.5,477.2 L1171.2,477.0 L1171.9,477.0 L1172.6,477.3 L1173.3,477.8 L1173.6,478.0" fill="none" stroke="#f4a460" stroke-width="4.84" stroke-linejoin="round" stroke-linecap="round"/>
<path d="M1173.6,478.0 L1174.3,478.7 L1175.0,479.3 L1175.7,479.7 L1176.4,480.0 L1177.1,480.2 L1177.8,480.3 L1178.5,480.4 L1179.2,480.5 L1179.9,480.6 L1180.6,480.9 L1181.3,481.1 L1181.6,481.1" fill="none" stroke="#f4a460" stroke-width="4.78" stroke-linejoin="round" stroke-linecap="round"/>
<path d="M1181.6,481.1 L1182.3,481.3 L1183.0,481.4 L1183.7,481.7 L1184.4,482.2 L1185.1,482.9 L1185.8,483.7 L1186.5,484.5 L1187.2,485.3 L1187.9,485.8 L1188.6,486.0 L1189.3,485.9 L1189.6,485.9" fill="none" stroke="#f4a460" stroke-width="4.72" stroke-linejoin="round" stroke-linecap="round"/>
<path d="M1189.6,485.9 L1190.3,485.8 L1191.0,485.7 L1191.7,485.7 L1192.4,486.0 L1193.1,486.5 L1193.8,487.2 L1194.5,487.9 L1195.2,488.5 L1195.9,489.0 L1196.6,489.2 L1197.3,489.3 L1197.6,489.4" fill="none" stroke="#f4a460" stroke-width="4.65" stroke-linejoin="round" stroke-linecap="round"/>
<path d="M1197.6,489.4 L1198.3,489.5 L1199.0,489.6 L1199.7,489.8 L1200.4,490.0 L1201.1,490.1 L1201.8,490.1 L1202.5,490.2 L1203.2,490.2 L1203.9,490.3 L1204.6,490.4 L1205.3,490.6 L1205.6,490.7" fill="none" stroke="#f4a460" stroke-width="4.60" stroke-linejoin="round" stroke-linecap="round"/>
<path d="M1205.6,490.7 L1206.3,490.9 L1207.0,491.2 L1207.7,491.4 L1208.4,491.7 L1209.1,492.0 L1209.8,492.4 L1210.5,492.8 L1211.2,493.1 L1211.9,493.4 L1212.6,493.5 L1213.3,493.4 L1213.6,493.3" fill="none" stroke="#f4a460" stroke-width="4.59" stroke-linejoin="round" stroke-linecap="round"/>
<path d="M1213.6,493.3 L1214.3,493.2 L1215.0,493.0 L1215.7,493.0 L1216.4,493.2 L1217.1,493.3 L1217.8,493.4 L1218.5,493.6 L1219.2,493.7 L1219.9,493.9 L1220.6,494.1 L1221.3,494.5 L1221.6,494.6" fill="none" stroke="#f4a460" stroke-width="4.58" stroke-linejoin="round" stroke-linecap="round"/>
<path d="M1221.6,494.6 L1222.3,495.0 L1223.0,495.5 L1223.7,495.7 L1224.4,495.9 L1225.1,496.1 L1225.8,496.5 L1226.5,496.8 L1227.2,497.1 L1227.9,497.3 L1228.6,497.4 L1229.3,497.3 L1229.6,497.2" fill="none" stroke="#f4a460" stroke-width="4.57" stroke-linejoin="round" stroke-linecap="round"/>
<path d="M1229.6,497.2 L1230.3,497.0 L1231.0,496.8 L1231.7,496.7 L1232.4,496.9 L1233.1,497.2 L1233.8,497.7 L1234.5,498.1 L1235.2,498.6 L1235.9,498.9 L1236.6,499.0 L1237.3,499.0 L1237.6,499.0" fill="none" stroke="#f4a460" stroke-width="4.55" stroke-linejoin="round" stroke-linecap="round"/>
<path d="M1237.6,499.0 L1238.3,499.0 L1239.0,499.0 L1239.7,499.1 L1240.4,499.2 L1241.1,499.5 L1241.8,499.8 L1242.5,500.2 L1243.2,500.5 L1243.9,500.7 L1244.6,500.8 L1245.3,500.9 L1245.6,501.0" fill="none" stroke="#f4a460" stroke-width="4.54" stroke-linejoin="round" stroke-linecap="round"/>
<path d="M1245.6,501.0 L1246.3,501.0 L1247.0,501.1 L1247.7,501.2 L1248.4,501.4 L1249.1,501.8 L1249.8,502.2 L1250.5,502.5 L1251.2,502.8 L1251.9,503.0 L1252.6,503.1 L1253.3,503.0 L1253.6,503.0" fill="none" stroke="#f4a460" stroke-width="4.53" stroke-linejoin="round" stroke-linecap="round"/>
<path d="M1253.6,503.0 L1254.3,502.9 L1255.0,502.8 L1255.7,502.8 L1256.4,502.9 L1257.1,503.1 L1257.8,503.4 L1258.5,503.6 L1259.2,503.9 L1259.9,504.1 L1260.6,504.2 L1261.3,504.4 L1261.6,504.5" fill="none" stroke="#f4a460" stroke-width="4.52" stroke-linejoin="round" stroke-linecap="round"/>
<path d="M1261.6,504.5 L1262.3,504.7 L1263.0,504.8 L1263.7,505.0 L1264.4,505.1 L1265.1,505.0 L1265.8,504.8 L1266.5,504.6 L1267.2,504.4 L1267.9,504.4 L1268.6,504.7 L1269.3,505.2 L1269.6,505.4" fill="none" stroke="#f4a460" stroke-width="4.51" stroke-linejoin="round" stroke-linecap="round"/>
<path d="M1269.6,505.4 L1270.3,505.9 L1271.0,506.5 L1271.7,506.8 L1272.4,507.0 L1273.1,507.1 L1273.8,507.1 L1274.5,507.2 L1275.2,507.2 L1275.9,507.3 L1276.6,507.3 L1277.3,507.3 L1277.6,507.2" fill="none" stroke="#f4a460" stroke-width="4.50" stroke-linejoin="round" stroke-linecap="round"/>
<path d="M1277.6,507.2 L1278.3,507.1 L1279.0,506.9 L1279.7,507.0 L1280.4,507.1 L1281.1,507.3 L1281.8,507.6 L1282.5,508.0 L1283.2,508.2 L1283.9,508.5 L1284.6,508.5 L1285.3,508.6 L1285.6,508.6" fill="none" stroke="#f4a460" stroke-width="4.49" stroke-linejoin="round" stroke-linecap="round"/>
<path d="M1285.6,508.6 L1286.3,508.5 L1287.0,508.5 L1287.7,508.6 L1288.4,508.7 L1289.1,508.7 L1289.8,508.8 L1290.5,508.8 L1291.2,508.8 L1291.9,508.8 L1292.6,509.0 L1293.3,509.1 L1293.6,509.1" fill="none" stroke="#f4a460" stroke-width="4.48" stroke-linejoin="round" stroke-linecap="round"/>
<path d="M1293.6,509.1 L1294.3,509.2 L1295.0,509.3 L1295.7,509.4 L1296.4,509.6 L1297.1,509.8 L1297.8,510.0 L1298.5,510.2 L1299.2,510.5 L1299.9,510.6 L1300.6,510.8 L1301.3,511.1 L1301.6,511.3" fill="none" stroke="#f4a460" stroke-width="4.47" stroke-linejoin="round" stroke-linecap="round"/>
<path d="M1301.6,511.3 L1302.3,511.6 L1303.0,511.9 L1303.7,512.2 L1304.4,512.2 L1305.1,512.2 L1305.8,512.0 L1306.5,511.7 L1307.2,511.6 L1307.9,511.5 L1308.6,511.7 L1309.3,512.0 L1309.6,512.1" fill="none" stroke="#f4a460" stroke-width="4.46" stroke-linejoin="round" stroke-linecap="round"/>
<path d="M1309.6,512.1 L1310.3,512.5 L1311.0,512.8 L1311.7,513.0 L1312.4,513.1 L1313.1,513.3 L1313.8,513.5 L1314.5,513.7 L1315.2,513.9 L1315.9,514.0 L1316.6,514.0 L1317.3,514.0 L1317.6,513.9" fill="none" stroke="#f4a460" stroke-width="4.45" stroke-linejoin="round" stroke-linecap="round"/>
<path d="M1317.6,513.9 L1318.3,513.8 L1319.0,513.7 L1319.7,513.7 L1320.4,513.7 L1321.1,513.9 L1321.8,514.2 L1322.5,514.4 L1323.2,514.6 L1323.9,514.8 L1324.6,514.8 L1325.3,514.9 L1325.6,514.9" fill="none" stroke="#f4a460" stroke-width="4.43" stroke-linejoin="round" stroke-linecap="round"/>
<path d="M1325.6,514.9 L1326.3,514.9 L1327.0,515.0 L1327.7,515.0 L1328.4,515.1 L1329.1,515.3 L1329.8,515.4 L1330.5,515.6 L1331.2,515.7 L1331.9,515.8 L1332.6,515.9 L1333.3,515.9 L1333.6,515.9" fill="none" stroke="#f4a460" stroke-width="4.42" stroke-linejoin="round" stroke-linecap="round"/>
<path d="M1333.6,515.9 L1334.3,515.8 L1335.0,515.8 L1335.7,515.8 L1336.4,516.0 L1337.1,516.2 L1337.8,516.5 L1338.5,516.8 L1339.2,517.0 L1339.9,517.2 L1340.6,517.2 L1341.3,517.1 L1341.6,517.1" fill="none" stroke="#f4a460" stroke-width="4.41" stroke-linejoin="round" stroke-linecap="round"/>
<path d="M1341.6,517.1 L1342.3,516.9 L1343.0,516.8 L1343.7,516.7 L1344.4,516.8 L1345.1,516.8 L1345.8,516.8 L1346.5,516.8 L1347.2,516.8 L1347.9,516.9 L1348.6,517.0 L1349.3,517.0 L1349.6,517.0" fill="none" stroke="#f4a460" stroke-width="4.40" stroke-linejoin="round" stroke-linecap="round"/>
<path d="M1349.6,517.0 L1350.3,517.1 L1351.0,517.1 L1351.7,517.2 L1352.4,517.3 L1353.1,517.4 L1353.8,517.6 L1354.5,517.7 L1355.2,517.9 L1355.9,518.0 L1356.6,518.0 L1357.3,518.1 L1357.6,518.1" fill="none" stroke="#f4a460" stroke-width="4.39" stroke-linejoin="round" stroke-linecap="round"/>
<path d="M1357.6,518.1 L1358.3,518.1 L1359.0,518.2 L1359.7,518.2 L1360.4,518.4 L1361.1,518.6 L1361.8,519.0 L1362.5,519.4 L1363.2,519.7 L1363.9,519.9 L1364.6,519.9 L1365.3,519.7 L1365.6,519.6" fill="none" stroke="#f4a460" stroke-width="4.38" stroke-linejoin="round" stroke-linecap="round"/>
<path d="M1365.6,519.6 L1366.3,519.3 L1367.0,519.0 L1367.7,518.9 L1368.4,519.0 L1369.1,519.2 L1369.8,519.5 L1370.5,519.9 L1371.2,520.2 L1371.9,520.4 L1372.6,520.5 L1373.3,520.5 L1373.6,520.5" fill="none" stroke="#f4a460" stroke-width="4.37" stroke-linejoin="round" stroke-linecap="round"/>
<path d="M1373.6,520.5 L1374.3,520.6 L1375.0,520.6 L1375.7,520.7 L1376.4,520.7 L1377.1,520.7 L1377.8,520.7 L1378.5,520.6 L1379.2,520.6 L1379.9,520.6 L1380.6,520.6 L1381.3,520.5 L1381.6,520.5" fill="none" stroke="#f4a460" stroke-width="4.36" stroke-linejoin="round" stroke-linecap="round"/>
<path d="M1381.6,520.5 L1382.3,520.4 L1383.0,520.3 L1383.7,520.3 L1384.4,520.4 L1385.1,520.5 L1385.8,520.6 L1386.5,520.7 L1387.2,520.8 L1387.9,520.9 L1388.6,521.1 L1389.3,521.4 L1389.6,521.6" fill="none" stroke="#f4a460" stroke-width="4.35" stroke-linejoin="round" stroke-linecap="round"/>
<path d="M1389.6,521.6 L1390.3,521.9 L1391.0,522.3 L1391.7,522.5 L1392.4,522.5 L1393.1,522.5 L1393.8,522.4 L1394.5,522.2 L1395.2,522.1 L1395.9,522.1 L1396.6,522.2 L1397.3,522.4 L1397.6,522.5" fill="none" stroke="#f4a460" stroke-width="4.34" stroke-linejoin="round" stroke-linecap="round"/>
<path d="M1397.6,522.5 L1398.3,522.7 L1399.0,522.9 L1399.7,523.0 L1400.4,523.1 L1401.1,523.0 L1401.8,522.8 L1402.5,522.6 L1403.2,522.4 L1403.9,522.4 L1404.6,522.4 L1405.3,522.4 L1405.6,522.4" fill="none" stroke="#f4a460" stroke-width="4.33" stroke-linejoin="round" stroke-linecap="round"/>
<path d="M1405.6,522.4 L1406.3,522.4 L1407.0,522.5 L1407.7,522.5 L1408.4,522.6 L1409.1,522.7 L1409.8,522.9 L1410.5,523.1 L1411.2,523.2 L1411.9,523.4 L1412.6,523.4 L1413.3,523.5 L1413.6,523.5" fill="none" stroke="#f4a460" stroke-width="4.31" stroke-linejoin="round" stroke-linecap="round"/>
<path d="M1413.6,523.5 L1414.3,523.6 L1415.0,523.7 L1415.7,523.7 L1416.4,523.8 L1417.1,523.8 L1417.8,523.8 L1418.5,523.9 L1419.2,523.9 L1419.9,523.9 L1420.6,524.0 L1421.3,524.2 L1421.6,524.3" fill="none" stroke="#f4a460" stroke-width="4.30" stroke-linejoin="round" stroke-linecap="round"/>
<path d="M1421.6,524.3 L1422.3,524.5 L1423.0,524.7 L1423.7,524.9 L1424.4,524.9 L1425.1,525.0 L1425.8,525.0 L1426.5,525.0 L1427.2,525.1 L1427.9,525.1 L1428.6,525.2 L1429.3,525.2 L1429.6,525.2" fill="none" stroke="#f4a460" stroke-width="4.29" stroke-linejoin="round" stroke-linecap="round"/>
<path d="M1429.6,525.2 L1430.3,525.3 L1431.0,525.3 L1431.7,525.4 L1432.4,525.4 L1433.1,525.4 L1433.8,525.4 L1434.5,525.3 L1435.2,525.3 L1435.9,525.3 L1436.6,525.4 L1437.3,525.5 L1437.6,525.5" fill="none" stroke="#f4a460" stroke-width="4.28" stroke-linejoin="round" stroke-linecap="round"/>
<path d="M1437.6,525.5 L1438.3,525.6 L1439.0,525.7 L1439.7,525.7 L1440.4,525.8 L1441.1,525.8 L1441.8,525.8 L1442.5,525.8 L1443.2,525.8 L1443.9,525.9 L1444.6,526.0 L1445.3,526.1 L1445.6,526.2" fill="none" stroke="#f4a460" stroke-width="4.27" stroke-linejoin="round" stroke-linecap="round"/>
<path d="M1445.6,526.2 L1446.3,526.3 L1447.0,526.5 L1447.7,526.6 L1448.4,526.6 L1449.1,526.6 L1449.8,526.6 L1450.5,526.6 L1451.2,526.5 L1451.9,526.5 L1452.6,526.6 L1453.3,526.7 L1453.6,526.8" fill="none" stroke="#f4a460" stroke-width="4.26" stroke-linejoin="round" stroke-linecap="round"/>
<path d="M1453.6,526.8 L1454.3,526.9 L1455.0,527.0 L1455.7,527.1 L1456.4,527.2 L1457.1,527.3 L1457.8,527.4 L1458.5,527.6 L1459.2,527.7 L1459.9,527.8 L1460.6,527.8 L1461.3,527.6 L1461.6,527.5" fill="none" stroke="#f4a460" stroke-width="4.25" stroke-linejoin="round" stroke-linecap="round"/>
<path d="M1461.6,527.5 L1462.3,527.3 L1463.0,527.2 L1463.7,527.1 L1464.4,527.1 L1465.1,527.2 L1465.8,527.3 L1466.5,527.5 L1467.2,527.6 L1467.9,527.6 L1468.6,527.6 L1469.3,527.5 L1469.6,527.5" fill="none" stroke="#f4a460" stroke-width="4.24" stroke-linejoin="round" stroke-linecap="round"/>
<path d="M1469.6,527.5 L1470.3,527.3 L1471.0,527.2 L1471.7,527.1 L1472.4,527.2 L1473.1,527.4 L1473.8,527.7 L1474.5,528.0 L1475.2,528.2 L1475.9,528.4 L1476.6,528.4 L1477.3,528.4 L1477.6,528.3" fill="none" stroke="#f4a460" stroke-width="4.23" stroke-linejoin="round" stroke-linecap="round"/>
<path d="M1477.6,528.3 L1478.3,528.3 L1479.0,528.2 L1479.7,528.2 L1480.4,528.2 L1481.1,528.2 L1481.8,528.3 L1482.5,528.4 L1483.2,528.4 L1483.9,528.5 L1484.6,528.5 L1485.3,528.5 L1485.6,528.5" fill="none" stroke="#f4a460" stroke-width="4.22" stroke-linejoin="round" stroke-linecap="round"/>
<path d="M1485.6,528.5 L1486.3,528.5 L1487.0,528.6 L1487.7,528.6 L1488.4,528.6 L1489.1,528.5 L1489.8,528.4 L1490.5,528.3 L1491.2,528.2 L1491.9,528.2 L1492.6,528.3 L1493.3,528.5 L1493.6,528.6" fill="none" stroke="#f4a460" stroke-width="4.21" stroke-linejoin="round" stroke-linecap="round"/>
<path d="M1493.6,528.6 L1494.3,528.9 L1495.0,529.2 L1495.7,529.4 L1496.4,529.4 L1497.1,529.3 L1497.8,529.0 L1498.5,528.7 L1499.2,528.5 L1499.9,528.4 L1500.6,528.5 L1501.3,528.5 L1501.6,528.6" fill="none" stroke="#f4a460" stroke-width="4.20" stroke-linejoin="round" stroke-linecap="round"/>
<path d="M1501.6,528.6 L1502.3,528.7 L1503.0,528.8 L1503.7,528.9 L1504.4,528.9 L1505.1,529.0 L1505.8,529.2 L1506.5,529.3 L1507.2,529.4 L1507.9,529.5 L1508.6,529.6 L1509.3,529.7 L1509.6,529.8" fill="none" stroke="#f4a460" stroke-width="4.18" stroke-linejoin="round" stroke-linecap="round"/>
<path d="M1509.6,529.8 L1510.3,530.0 L1511.0,530.2 L1511.7,530.3 L1512.4,530.3 L1513.1,530.3 L1513.8,530.3 L1514.5,530.2 L1515.2,530.2 L1515.9,530.2 L1516.6,530.3 L1517.3,530.3 L1517.6,530.4" fill="none" stroke="#f4a460" stroke-width="4.17" stroke-linejoin="round" stroke-linecap="round"/>
<path d="M1517.6,530.4 L1518.3,530.5 L1519.0,530.6 L1519.7,530.7 L1520.4,530.7 L1521.1,530.6 L1521.8,530.4 L1522.5,530.3 L1523.2,530.2 L1523.9,530.1 L1524.6,530.2 L1525.3,530.2 L1525.6,530.3" fill="none" stroke="#f4a460" stroke-width="4.16" stroke-linejoin="round" stroke-linecap="round"/>
<path d="M1525.6,530.3 L1526.3,530.4 L1527.0,530.5 L1527.7,530.6 L1528.4,530.6 L1529.1,530.7 L1529.8,530.7 L1530.5,530.8 L1531.2,530.8 L1531.9,530.9 L1532.6,530.8 L1533.3,530.8 L1533.6,530.8" fill="none" stroke="#f4a460" stroke-width="4.15" stroke-linejoin="round" stroke-linecap="round"/>
<path d="M1533.6,530.8 L1534.3,530.7 L1535.0,530.6 L1535.7,530.6 L1536.4,530.6 L1537.1,530.6 L1537.8,530.6 L1538.5,530.5 L1539.2,530.5 L1539.9,530.6 L1540.6,530.6 L1541.3,530.7 L1541.6,530.8" fill="none" stroke="#f4a460" stroke-width="4.14" stroke-linejoin="round" stroke-linecap="round"/>
<path d="M1541.6,530.8 L1542.3,530.9 L1543.0,531.0 L1543.7,531.1 L1544.4,531.1 L1545.1,531.1 L1545.8,531.0 L1546.5,531.0 L1547.2,531.0 L1547.9,531.0 L1548.6,531.0 L1549.3,531.0 L1549.6,531.0" fill="none" stroke="#f4a460" stroke-width="4.13" stroke-linejoin="round" stroke-linecap="round"/>
<path d="M1549.6,531.0 L1550.3,531.0 L1551.0,531.0 L1551.7,531.0 L1552.4,531.1 L1553.1,531.2 L1553.8,531.2 L1554.5,531.3 L1555.2,531.4 L1555.9,531.5 L1556.6,531.6 L1557.3,531.8 L1557.6,531.9" fill="none" stroke="#f4a460" stroke-width="4.12" stroke-linejoin="round" stroke-linecap="round"/>
<path d="M1557.6,531.9 L1558.3,532.2 L1559.0,532.4 L1559.7,532.5 L1560.4,532.6 L1561.1,532.6 L1561.8,532.6 L1562.5,532.5 L1563.2,532.5 L1563.9,532.5 L1564.6,532.5 L1565.3,532.6 L1565.6,532.6" fill="none" stroke="#f4a460" stroke-width="4.11" stroke-linejoin="round" stroke-linecap="round"/>
<path d="M1565.6,532.6 L1566.3,532.7 L1567.0,532.8 L1567.7,532.8 L1568.4,532.9 L1569.1,532.9 L1569.8,532.8 L1570.5,532.8 L1571.2,532.8 L1571.9,532.8 L1572.6,532.8 L1573.3,532.8 L1573.6,532.8" fill="none" stroke="#f4a460" stroke-width="4.10" stroke-linejoin="round" stroke-linecap="round"/>
<path d="M1573.6,532.8 L1574.3,532.8 L1575.0,532.8 L1575.7,532.8 L1576.4,532.8 L1577.1,532.9 L1577.8,533.1 L1578.5,533.2 L1579.2,533.4 L1579.9,533.4 L1580.6,533.4 L1581.3,533.3 L1581.6,533.2" fill="none" stroke="#f4a460" stroke-width="4.09" stroke-linejoin="round" stroke-linecap="round"/>
<path d="M1581.6,533.2 L1582.3,533.1 L1583.0,532.9 L1583.7,532.9 L1584.4,532.9 L1585.1,532.9 L1585.8,532.9 L1586.5,532.9 L1587.2,532.9 L1587.9,532.9 L1588.6,532.9 L1589.3,532.9 L1589.6,532.9" fill="none" stroke="#f4a460" stroke-width="4.08" stroke-linejoin="round" stroke-linecap="round"/>
<path d="M1589.6,532.9 L1590.3,533.0 L1591.0,533.0 L1591.7,533.0 L1592.4,533.0 L1593.1,533.0 L1593.8,533.0 L1594.5,532.9 L1595.2,532.9 L1595.9,532.9 L1596.6,532.9 L1597.3,532.9 L1597.6,532.9" fill="none" stroke="#f4a460" stroke-width="4.06" stroke-linejoin="round" stroke-linecap="round"/>
<path d="M1597.6,532.9 L1598.3,532.9 L1599.0,532.9 L1599.7,532.9 L1600.4,532.9 L1601.1,533.0 L1601.8,533.1 L1602.5,533.1 L1603.2,533.2 L1603.9,533.3 L1604.6,533.3 L1605.3,533.4 L1605.6,533.5" fill="none" stroke="#f4a460" stroke-width="4.05" stroke-linejoin="round" stroke-linecap="round"/>
<path d="M1605.6,533.5 L1606.3,533.6 L1607.0,533.7 L1607.7,533.8 L1608.4,533.8 L1609.1,533.7 L1609.8,533.6 L1610.5,533.5 L1611.2,533.4 L1611.9,533.3 L1612.6,533.4 L1613.3,533.4 L1613.6,533.5" fill="none" stroke="#f4a460" stroke-width="4.04" stroke-linejoin="round" stroke-linecap="round"/>
<path d="M1613.6,533.5 L1614.3,533.6 L1615.0,533.7 L1615.7,533.7 L1616.4,533.7 L1617.1,533.7 L1617.8,533.7 L1618.5,533.6 L1619.2,533.6 L1619.9,533.6 L1620.6,533.6 L1621.3,533.7 L1621.6,533.8" fill="none" stroke="#f4a460" stroke-width="4.03" stroke-linejoin="round" stroke-linecap="round"/>
<path d="M1621.6,533.8 L1622.3,534.0 L1623.0,534.1 L1623.7,534.2 L1624.4,534.2 L1625.1,534.1 L1625.8,534.0 L1626.5,533.8 L1627.2,533.7 L1627.9,533.7 L1628.6,533.7 L1629.3,533.7 L1629.6,533.8" fill="none" stroke="#f4a460" stroke-width="4.02" stroke-linejoin="round" stroke-linecap="round"/>
<path d="M1629.6,533.8 L1630.3,533.8 L1631.0,533.9 L1631.7,534.0 L1632.4,534.0 L1633.1,534.1 L1633.8,534.2 L1634.5,534.3 L1635.2,534.3 L1635.9,534.4 L1636.6,534.4 L1637.3,534.4 L1637.6,534.4" fill="none" stroke="#f4a460" stroke-width="4.01" stroke-linejoin="round" stroke-linecap="round"/>
<path d="M1637.6,534.4 L1638.3,534.4 L1639.0,534.4 L1639.7,534.4 L1640.0,534.4" fill="none" stroke="#f4a460" stroke-width="4.00" stroke-linejoin="round" stroke-linecap="round"/>
<path d="M883.2,530.6 L905.0,531.3 L937.6,531.2 L937.8,530.2 L938.0,150.2 L938.3,75.1 L938.5,16.3 L940.1,62.6 L941.3,87.6 L942.6,107.6 L943.8,125.2 L945.1,140.2" fill="none" stroke="#ff0000" stroke-width="1.8" stroke-linejoin="round" stroke-linecap="butt" />
<path d="M945.1,140.1 L946.2,155.4 L947.3,168.7 L948.4,181.1 L949.5,192.1 L950.6,201.2 L951.7,209.9 L952.8,218.9 L953.9,227.7 L955.0,234.1 L956.1,240.8 L957.2,247.5 L958.3,253.4 L959.4,258.6 L960.5,263.8 L961.6,269.8 L962.7,274.9 L963.8,279.4 L964.9,283.5 L966.0,288.3 L967.1,292.0 L968.2,295.9 L969.3,299.7 L970.4,303.4 L971.5,307.4 L972.6,310.8 L973.7,313.7 L974.8,317.0 L975.9,319.6 L977.0,322.2 L978.1,324.4 L979.2,327.3 L980.3,329.2 L981.4,332.4 L982.5,334.0 L983.6,336.9 L984.7,338.7 L985.8,341.7 L986.9,344.3 L988.0,346.6 L989.1,348.7 L990.2,350.8 L991.3,353.2 L992.4,354.9 L993.5,356.4 L994.6,358.4 L995.7,359.7 L996.8,361.2 L997.9,362.0 L999.0,363.9 L1000.1,365.1 L1001.2,367.1 L1002.3,367.6 L1003.4,368.9 L1004.5,370.1 L1005.6,372.4 L1006.7,373.3 L1007.8,373.9 L1008.9,375.1 L1010.0,376.3 L1011.1,377.2 L1012.2,378.4 L1013.3,379.3 L1014.4,381.2 L1015.5,382.3 L1016.6,382.8 L1017.7,383.5 L1018.8,385.4 L1019.9,385.7 L1021.0,387.5 L1022.1,388.9 L1023.2,389.6 L1024.3,389.9 L1025.4,390.8 L1026.5,391.8 L1027.6,392.3 L1028.7,393.6 L1029.8,394.4 L1030.9,395.8 L1032.0,395.9 L1033.1,396.6 L1034.2,398.6 L1035.3,399.3 L1036.4,399.3 L1037.5,400.8 L1038.6,401.6 L1039.7,402.3 L1040.8,403.1 L1041.9,403.3 L1043.0,403.2 L1044.1,404.5 L1045.2,405.7 L1046.3,405.7 L1047.4,405.6 L1048.5,407.0 L1049.6,406.3 L1050.7,407.8 L1051.8,407.9 L1052.9,408.8 L1054.0,409.9 L1055.1,409.4 L1056.2,410.9 L1057.3,411.9 L1058.4,412.1 L1059.5,414.0 L1060.6,414.2 L1061.7,415.1 L1062.8,415.6 L1063.9,417.2 L1065.0,416.9 L1066.1,417.5 L1067.2,418.3 L1068.3,419.7 L1069.4,420.6 L1070.5,420.6 L1071.6,421.1 L1072.7,421.4 L1073.8,422.7 L1074.9,422.8 L1076.0,423.5 L1077.1,424.2 L1078.2,425.0 L1079.3,424.6 L1080.4,425.5 L1081.5,425.6 L1082.6,426.0 L1083.7,426.9 L1084.8,427.3 L1085.9,427.4 L1087.0,427.2 L1088.1,428.5 L1089.2,428.0 L1090.3,428.5 L1091.4,429.5 L1092.5,428.7 L1093.6,429.1 L1094.7,430.4 L1095.8,430.3 L1096.9,430.1 L1098.0,431.2 L1099.1,431.4 L1100.2,431.9 L1101.3,432.9 L1102.4,432.7 L1103.5,433.3 L1104.6,432.6 L1105.7,433.5 L1106.8,433.6 L1107.9,434.2 L1109.0,434.0 L1110.1,434.4 L1111.2,433.6 L1112.3,434.6 L1113.4,434.6 L1114.5,435.0 L1115.6,434.8 L1116.7,434.6 L1117.8,434.3 L1118.9,435.0 L1120.0,435.3 L1121.1,436.2 L1122.2,435.4 L1123.3,435.1 L1124.4,436.0 L1125.5,436.2 L1126.6,436.7 L1127.7,437.2 L1128.8,437.2 L1129.9,437.2 L1131.0,437.5 L1132.1,438.8 L1133.2,438.2 L1134.3,438.6 L1135.4,438.6 L1136.5,438.4 L1137.6,438.1 L1138.7,438.6 L1139.8,438.5 L1140.9,440.0 L1142.0,439.7 L1143.1,439.7 L1144.2,439.9 L1145.3,440.5 L1146.4,441.1 L1147.5,440.3 L1148.6,441.0 L1149.7,440.2 L1150.8,440.1 L1151.9,439.6 L1153.0,439.8 L1154.1,440.4 L1155.2,441.5 L1156.3,441.3 L1157.4,441.4 L1158.5,441.3 L1159.6,441.7 L1160.7,441.6 L1161.8,442.4 L1162.9,442.5 L1164.0,442.1 L1165.1,443.7 L1166.2,442.7 L1167.3,443.5 L1168.4,444.3 L1169.5,444.5 L1170.6,445.3 L1171.7,445.4 L1172.8,446.3 L1173.9,445.6 L1175.0,446.7 L1176.1,446.0 L1177.2,447.2 L1178.3,446.3 L1179.4,446.6 L1180.5,447.2 L1181.6,446.8 L1182.7,447.6 L1183.8,447.6 L1184.9,446.8 L1186.0,446.8 L1187.1,447.6 L1188.2,446.9 L1189.3,447.0 L1190.4,448.1 L1191.5,447.6 L1192.6,447.6 L1193.7,447.4 L1194.8,448.2 L1195.9,448.5 L1197.0,448.1 L1198.1,447.5 L1199.2,446.8 L1200.3,447.9 L1201.4,447.9 L1202.5,447.1 L1203.6,447.3 L1204.7,446.8 L1205.8,447.4 L1206.9,448.4 L1208.0,448.0 L1209.1,448.4 L1210.2,448.9 L1211.3,449.3 L1212.4,448.5 L1213.5,449.3 L1214.6,448.9 L1215.7,449.1 L1216.8,449.0 L1217.9,449.2 L1219.0,449.9 L1220.1,449.5 L1221.2,449.8 L1222.3,449.7 L1223.4,450.2 L1224.5,449.6 L1225.6,450.3 L1226.7,449.1 L1227.8,449.4 L1228.9,450.0 L1230.0,449.3 L1231.1,449.9 L1232.2,449.8 L1233.3,449.5 L1234.4,449.7 L1235.5,450.4 L1236.6,450.3 L1237.7,449.3 L1238.8,450.5 L1239.9,449.2 L1241.0,450.3 L1242.1,450.2 L1243.2,449.9 L1244.3,450.3 L1245.4,449.9 L1246.5,449.9 L1247.6,450.5 L1248.7,450.6 L1249.8,451.1 L1250.9,450.4 L1252.0,450.1 L1253.1,450.4 L1254.2,450.8 L1255.3,451.1 L1256.4,451.1 L1257.5,450.5 L1258.6,451.1 L1259.7,451.1 L1260.8,451.0 L1261.9,451.3 L1263.0,451.8 L1264.1,451.2 L1265.2,451.1 L1266.3,450.9 L1267.4,451.3 L1268.5,451.0 L1269.6,451.1 L1270.7,451.4 L1271.8,450.8 L1272.9,451.4 L1274.0,451.7 L1275.1,452.4 L1276.2,451.5 L1277.3,451.3 L1278.4,451.7 L1279.5,451.9 L1280.6,452.0 L1281.7,453.0 L1282.8,453.6 L1283.9,453.5 L1285.0,452.6 L1286.1,452.7 L1287.2,453.3 L1288.3,453.1 L1289.4,452.7 L1290.5,453.0 L1291.6,453.6 L1292.7,453.5 L1293.8,453.1 L1294.9,453.1 L1296.0,453.8 L1297.1,453.3 L1298.2,452.7 L1299.3,452.3 L1300.4,453.0 L1301.5,453.4 L1302.6,453.7 L1303.7,454.4 L1304.8,455.1 L1305.9,455.0 L1307.0,454.1 L1308.1,454.4 L1309.2,454.8 L1310.3,454.5 L1311.4,454.9 L1312.5,454.5 L1313.6,455.5 L1314.7,455.2 L1315.8,455.1 L1316.9,456.0 L1318.0,455.6 L1319.1,455.2 L1320.2,455.9 L1321.3,454.7 L1322.4,455.5 L1323.5,455.0 L1324.6,454.1 L1325.7,454.6 L1326.8,454.9 L1327.9,455.1 L1329.0,454.8 L1330.1,455.0 L1331.2,454.7 L1332.3,455.5 L1333.4,454.7 L1334.5,455.4 L1335.6,455.8 L1336.7,455.7 L1337.8,455.1 L1338.9,455.3 L1340.0,455.8 L1341.1,456.1 L1342.2,455.9 L1343.3,455.6 L1344.4,455.7 L1345.5,455.8 L1346.6,455.6 L1347.7,456.8 L1348.8,456.4 L1349.9,456.6 L1351.0,455.6 L1352.1,456.8 L1353.2,456.3 L1354.3,455.7 L1355.4,456.6 L1356.5,456.8 L1357.6,456.0 L1358.7,457.0 L1359.8,456.5 L1360.9,457.5 L1362.0,457.7 L1363.1,456.6 L1364.2,457.5 L1365.3,456.9 L1366.4,458.3 L1367.5,458.4 L1368.6,458.8 L1369.7,457.7 L1370.8,458.3 L1371.9,459.0 L1373.0,458.0 L1374.1,459.4 L1375.2,458.2 L1376.3,459.2 L1377.4,459.1 L1378.5,459.3 L1379.6,459.8 L1380.7,459.3 L1381.8,459.8 L1382.9,459.5 L1384.0,459.7 L1385.1,460.6 L1386.2,460.8 L1387.3,460.3 L1388.4,460.5 L1389.5,461.6 L1390.6,460.8 L1391.7,460.7 L1392.8,462.0 L1393.9,460.7 L1395.0,461.3 L1396.1,461.1 L1397.2,461.6 L1398.3,461.6 L1399.4,460.6 L1400.5,461.0 L1401.6,462.0 L1402.7,461.6 L1403.8,462.7 L1404.9,462.1 L1406.0,462.1 L1407.1,461.5 L1408.2,462.1 L1409.3,462.3 L1410.4,462.8 L1411.5,461.9 L1412.6,461.9 L1413.7,462.6 L1414.8,462.8 L1415.9,462.3 L1417.0,462.1 L1418.1,462.2 L1419.2,462.9 L1420.3,462.6 L1421.4,462.7 L1422.5,462.7 L1423.6,463.8 L1424.7,463.1 L1425.8,464.0 L1426.9,463.3 L1428.0,462.9 L1429.1,463.1 L1430.2,462.7 L1431.3,463.2 L1432.4,463.4 L1433.5,463.8 L1434.6,464.0 L1435.7,463.7 L1436.8,464.6 L1437.9,463.7 L1439.0,463.6 L1440.1,463.5 L1441.2,464.5 L1442.3,463.6 L1443.4,463.4 L1444.5,464.5 L1445.6,463.9 L1446.7,463.3 L1447.8,463.9 L1448.9,463.7 L1450.0,464.3 L1451.1,465.4 L1452.2,465.2 L1453.3,464.5 L1454.4,465.5 L1455.5,464.9 L1456.6,464.8 L1457.7,466.0 L1458.8,465.0 L1459.9,465.3 L1461.0,466.4 L1462.1,466.2 L1463.2,466.1 L1464.3,466.9 L1465.4,466.7 L1466.5,465.3 L1467.6,466.7 L1468.7,466.2 L1469.8,465.5 L1470.9,465.6 L1472.0,466.1 L1473.1,466.6 L1474.2,465.6 L1475.3,466.7 L1476.4,467.1 L1477.5,466.1 L1478.6,467.6 L1479.7,467.8 L1480.8,466.7 L1481.9,467.5 L1483.0,467.4 L1484.1,467.7 L1485.2,467.9 L1486.3,467.5 L1487.4,467.3 L1488.5,468.2 L1489.6,468.4 L1490.7,469.0 L1491.8,468.9 L1492.9,468.0 L1494.0,468.7 L1495.1,467.1 L1496.2,468.0 L1497.3,467.5 L1498.4,467.6 L1499.5,468.3 L1500.6,468.1 L1501.7,468.3 L1502.8,468.8 L1503.9,468.6 L1505.0,469.4 L1506.1,468.4 L1507.2,468.2 L1508.3,468.6 L1509.4,468.6 L1510.5,468.0 L1511.6,468.9 L1512.7,468.9 L1513.8,468.6 L1514.9,469.1 L1516.0,469.4 L1517.1,469.4 L1518.2,469.7 L1519.3,468.3 L1520.4,468.7 L1521.5,468.7 L1522.6,469.8 L1523.7,470.7 L1524.8,469.5 L1525.9,469.4 L1527.0,470.0 L1528.1,469.2 L1529.2,469.2 L1530.3,469.3 L1531.4,469.7 L1532.5,470.4 L1533.6,470.8 L1534.7,470.3 L1535.8,470.4 L1536.9,470.5 L1538.0,470.1 L1539.1,470.4 L1540.2,471.1 L1541.3,471.3 L1542.4,470.0 L1543.5,470.2 L1544.6,470.5 L1545.7,470.7 L1546.8,471.1 L1547.9,470.9 L1549.0,471.0 L1550.1,471.1 L1551.2,470.2 L1552.3,469.9 L1553.4,470.8 L1554.5,471.6 L1555.6,471.6 L1556.7,470.7 L1557.8,472.1 L1558.9,471.4 L1560.0,472.5 L1561.1,471.3 L1562.2,470.7 L1563.3,470.9 L1564.4,470.1 L1565.5,470.2 L1566.6,469.8 L1567.7,470.0 L1568.8,470.8 L1569.9,470.6 L1571.0,471.9 L1572.1,471.9 L1573.2,471.9 L1574.3,470.3 L1575.4,470.0 L1576.5,469.5 L1577.6,470.2 L1578.7,469.9 L1579.8,469.9 L1580.9,469.8 L1582.0,470.8 L1583.1,470.8 L1584.2,470.5 L1585.3,470.5 L1586.4,470.0 L1587.5,470.1 L1588.6,470.2 L1589.7,471.2 L1590.8,470.8 L1591.9,470.4 L1593.0,471.1 L1594.1,471.2 L1595.2,471.2 L1596.3,470.9 L1597.4,470.7 L1598.5,470.7 L1599.6,471.5 L1600.7,471.6 L1601.8,471.1 L1602.9,469.5 L1604.0,469.1 L1605.1,469.9 L1606.2,469.4 L1607.3,469.4 L1608.4,470.4 L1609.5,469.4 L1610.6,469.8 L1611.7,470.2 L1612.8,469.5 L1613.9,471.2 L1615.0,471.3 L1616.1,471.5 L1617.2,471.0 L1618.3,470.7 L1619.4,470.6 L1620.5,470.7 L1621.6,471.2 L1622.7,470.7 L1623.8,470.9 L1624.9,470.2 L1626.0,470.5 L1627.1,470.2 L1628.2,470.0 L1629.3,469.4 L1630.4,469.7 L1631.5,469.7 L1632.6,469.5 L1633.7,470.6 L1634.8,469.3 L1635.9,470.0 L1637.0,470.3 L1638.1,471.3 L1639.2,471.5 L1639.2,472.5 L1638.1,472.5 L1637.0,472.2 L1635.9,471.5 L1634.8,472.3 L1633.7,472.1 L1632.6,472.1 L1631.5,472.1 L1630.4,472.1 L1629.3,472.1 L1628.2,471.8 L1627.1,472.6 L1626.0,472.3 L1624.9,472.7 L1623.8,472.4 L1622.7,473.1 L1621.6,473.4 L1620.5,473.8 L1619.4,473.9 L1618.3,473.5 L1617.2,472.5 L1616.1,472.6 L1615.0,472.2 L1613.9,472.9 L1612.8,471.9 L1611.7,471.9 L1610.6,471.9 L1609.5,471.8 L1608.4,472.5 L1607.3,472.5 L1606.2,472.2 L1605.1,471.8 L1604.0,471.9 L1602.9,471.8 L1601.8,472.7 L1600.7,472.8 L1599.6,472.8 L1598.5,472.7 L1597.4,473.0 L1596.3,472.1 L1595.2,472.9 L1594.1,472.7 L1593.0,473.2 L1591.9,472.6 L1590.8,473.0 L1589.7,472.9 L1588.6,471.8 L1587.5,472.6 L1586.4,472.2 L1585.3,472.1 L1584.2,473.3 L1583.1,472.3 L1582.0,471.7 L1580.9,472.2 L1579.8,472.8 L1578.7,472.8 L1577.6,471.9 L1576.5,471.6 L1575.4,472.3 L1574.3,472.5 L1573.2,473.1 L1572.1,474.3 L1571.0,473.6 L1569.9,472.6 L1568.8,472.3 L1567.7,473.1 L1566.6,473.1 L1565.5,473.1 L1564.4,471.8 L1563.3,472.6 L1562.2,473.5 L1561.1,473.1 L1560.0,474.2 L1558.9,473.0 L1557.8,473.5 L1556.7,474.0 L1555.6,473.7 L1554.5,473.3 L1553.4,472.8 L1552.3,472.0 L1551.2,472.0 L1550.1,473.1 L1549.0,472.6 L1547.9,472.6 L1546.8,472.9 L1545.7,472.0 L1544.6,473.0 L1543.5,472.3 L1542.4,473.0 L1541.3,473.0 L1540.2,473.2 L1539.1,471.8 L1538.0,472.0 L1536.9,472.6 L1535.8,472.9 L1534.7,473.0 L1533.6,472.8 L1532.5,472.0 L1531.4,471.9 L1530.3,471.9 L1529.2,471.3 L1528.1,471.3 L1527.0,471.9 L1525.9,472.1 L1524.8,471.6 L1523.7,471.5 L1522.6,472.1 L1521.5,471.8 L1520.4,470.5 L1519.3,470.6 L1518.2,471.7 L1517.1,471.9 L1516.0,471.1 L1514.9,470.7 L1513.8,471.8 L1512.7,470.6 L1511.6,470.0 L1510.5,471.0 L1509.4,470.4 L1508.3,470.8 L1507.2,470.8 L1506.1,470.6 L1505.0,470.5 L1503.9,470.7 L1502.8,471.1 L1501.7,469.7 L1500.6,469.6 L1499.5,469.6 L1498.4,470.0 L1497.3,469.1 L1496.2,469.5 L1495.1,469.7 L1494.0,470.7 L1492.9,470.0 L1491.8,470.6 L1490.7,470.9 L1489.6,470.4 L1488.5,469.7 L1487.4,469.5 L1486.3,470.1 L1485.2,470.3 L1484.1,469.9 L1483.0,470.3 L1481.9,470.0 L1480.8,468.9 L1479.7,469.6 L1478.6,469.7 L1477.5,469.4 L1476.4,468.9 L1475.3,468.4 L1474.2,468.8 L1473.1,467.4 L1472.0,468.1 L1470.9,468.2 L1469.8,468.4 L1468.7,467.4 L1467.6,467.8 L1466.5,467.4 L1465.4,467.9 L1464.3,467.9 L1463.2,468.2 L1462.1,468.0 L1461.0,467.4 L1459.9,467.9 L1458.8,467.4 L1457.7,468.1 L1456.6,467.4 L1455.5,467.0 L1454.4,466.5 L1453.3,467.0 L1452.2,466.2 L1451.1,466.1 L1450.0,466.3 L1448.9,466.0 L1447.8,466.5 L1446.7,466.4 L1445.6,465.8 L1444.5,465.7 L1443.4,466.1 L1442.3,466.2 L1441.2,465.4 L1440.1,466.7 L1439.0,465.4 L1437.9,466.0 L1436.8,466.3 L1435.7,466.7 L1434.6,466.5 L1433.5,464.8 L1432.4,464.7 L1431.3,465.7 L1430.2,465.1 L1429.1,464.7 L1428.0,464.8 L1426.9,465.8 L1425.8,465.2 L1424.7,466.3 L1423.6,465.5 L1422.5,464.7 L1421.4,465.1 L1420.3,464.2 L1419.2,465.0 L1418.1,464.1 L1417.0,464.9 L1415.9,465.3 L1414.8,463.9 L1413.7,464.8 L1412.6,464.4 L1411.5,465.0 L1410.4,464.3 L1409.3,463.6 L1408.2,463.6 L1407.1,464.3 L1406.0,464.3 L1404.9,463.6 L1403.8,464.6 L1402.7,463.8 L1401.6,463.6 L1400.5,462.7 L1399.4,462.6 L1398.3,462.8 L1397.2,463.6 L1396.1,462.5 L1395.0,463.7 L1393.9,462.7 L1392.8,464.0 L1391.7,462.6 L1390.6,463.4 L1389.5,463.3 L1388.4,463.3 L1387.3,463.0 L1386.2,461.9 L1385.1,462.1 L1384.0,461.4 L1382.9,461.1 L1381.8,461.5 L1380.7,462.0 L1379.6,461.5 L1378.5,461.1 L1377.4,461.8 L1376.3,461.2 L1375.2,460.2 L1374.1,460.8 L1373.0,460.4 L1371.9,460.8 L1370.8,460.9 L1369.7,460.6 L1368.6,460.1 L1367.5,460.0 L1366.4,460.1 L1365.3,458.8 L1364.2,459.3 L1363.1,459.3 L1362.0,459.9 L1360.9,459.0 L1359.8,458.8 L1358.7,458.1 L1357.6,458.1 L1356.5,458.4 L1355.4,458.1 L1354.3,458.6 L1353.2,458.6 L1352.1,457.7 L1351.0,458.8 L1349.9,458.6 L1348.8,458.1 L1347.7,457.7 L1346.6,457.6 L1345.5,458.3 L1344.4,457.4 L1343.3,458.4 L1342.2,458.3 L1341.1,456.8 L1340.0,457.3 L1338.9,456.5 L1337.8,457.3 L1336.7,456.6 L1335.6,457.3 L1334.5,456.7 L1333.4,456.7 L1332.3,457.6 L1331.2,457.5 L1330.1,458.0 L1329.0,457.9 L1327.9,458.0 L1326.8,457.1 L1325.7,457.4 L1324.6,456.9 L1323.5,455.9 L1322.4,456.7 L1321.3,456.5 L1320.2,457.1 L1319.1,457.7 L1318.0,457.5 L1316.9,457.2 L1315.8,457.6 L1314.7,456.8 L1313.6,456.2 L1312.5,456.6 L1311.4,457.2 L1310.3,456.4 L1309.2,456.3 L1308.1,456.7 L1307.0,455.8 L1305.9,456.5 L1304.8,456.2 L1303.7,456.6 L1302.6,456.3 L1301.5,455.8 L1300.4,455.2 L1299.3,454.7 L1298.2,455.5 L1297.1,455.6 L1296.0,455.5 L1294.9,455.0 L1293.8,454.6 L1292.7,455.6 L1291.6,455.0 L1290.5,455.0 L1289.4,454.5 L1288.3,453.9 L1287.2,454.9 L1286.1,455.2 L1285.0,454.6 L1283.9,455.1 L1282.8,454.3 L1281.7,455.2 L1280.6,454.4 L1279.5,454.4 L1278.4,453.8 L1277.3,453.5 L1276.2,453.3 L1275.1,453.4 L1274.0,452.9 L1272.9,452.5 L1271.8,452.5 L1270.7,453.6 L1269.6,453.5 L1268.5,452.6 L1267.4,453.8 L1266.3,453.9 L1265.2,453.5 L1264.1,454.2 L1263.0,453.0 L1261.9,453.3 L1260.8,453.0 L1259.7,453.9 L1258.6,454.0 L1257.5,452.9 L1256.4,453.1 L1255.3,452.9 L1254.2,452.4 L1253.1,452.7 L1252.0,452.1 L1250.9,453.0 L1249.8,452.0 L1248.7,452.7 L1247.6,452.6 L1246.5,452.3 L1245.4,452.2 L1244.3,451.8 L1243.2,452.7 L1242.1,451.9 L1241.0,452.0 L1239.9,451.5 L1238.8,452.1 L1237.7,451.6 L1236.6,451.5 L1235.5,451.7 L1234.4,452.1 L1233.3,451.3 L1232.2,451.4 L1231.1,451.6 L1230.0,451.5 L1228.9,451.7 L1227.8,451.7 L1226.7,452.0 L1225.6,451.7 L1224.5,452.5 L1223.4,452.0 L1222.3,452.0 L1221.2,451.8 L1220.1,451.6 L1219.0,452.4 L1217.9,451.2 L1216.8,451.3 L1215.7,452.0 L1214.6,451.1 L1213.5,451.6 L1212.4,450.9 L1211.3,450.0 L1210.2,451.0 L1209.1,449.9 L1208.0,450.0 L1206.9,450.4 L1205.8,449.8 L1204.7,449.2 L1203.6,449.9 L1202.5,449.6 L1201.4,449.2 L1200.3,449.2 L1199.2,449.6 L1198.1,449.7 L1197.0,449.7 L1195.9,450.3 L1194.8,449.3 L1193.7,450.3 L1192.6,449.8 L1191.5,450.3 L1190.4,449.5 L1189.3,449.6 L1188.2,449.2 L1187.1,449.2 L1186.0,448.4 L1184.9,448.4 L1183.8,448.4 L1182.7,449.8 L1181.6,449.2 L1180.5,448.4 L1179.4,448.7 L1178.3,449.0 L1177.2,448.7 L1176.1,449.0 L1175.0,448.1 L1173.9,448.3 L1172.8,447.6 L1171.7,447.7 L1170.6,447.4 L1169.5,445.6 L1168.4,446.2 L1167.3,445.4 L1166.2,445.8 L1165.1,445.4 L1164.0,444.6 L1162.9,445.1 L1161.8,445.0 L1160.7,444.9 L1159.6,444.7 L1158.5,443.2 L1157.4,443.8 L1156.3,442.9 L1155.2,443.5 L1154.1,442.5 L1153.0,442.6 L1151.9,442.8 L1150.8,442.7 L1149.7,443.0 L1148.6,442.9 L1147.5,442.6 L1146.4,442.3 L1145.3,442.7 L1144.2,441.9 L1143.1,441.8 L1142.0,441.2 L1140.9,441.2 L1139.8,441.0 L1138.7,440.7 L1137.6,440.1 L1136.5,441.0 L1135.4,439.8 L1134.3,440.7 L1133.2,440.4 L1132.1,439.9 L1131.0,440.6 L1129.9,439.1 L1128.8,438.8 L1127.7,439.7 L1126.6,439.2 L1125.5,438.5 L1124.4,437.5 L1123.3,438.3 L1122.2,437.6 L1121.1,437.3 L1120.0,438.2 L1118.9,437.5 L1117.8,437.6 L1116.7,436.2 L1115.6,437.0 L1114.5,436.9 L1113.4,436.2 L1112.3,437.1 L1111.2,435.7 L1110.1,436.3 L1109.0,436.2 L1107.9,435.7 L1106.8,435.2 L1105.7,434.7 L1104.6,434.7 L1103.5,435.1 L1102.4,434.6 L1101.3,434.8 L1100.2,434.8 L1099.1,434.4 L1098.0,433.0 L1096.9,431.8 L1095.8,432.1 L1094.7,431.7 L1093.6,431.0 L1092.5,431.1 L1091.4,430.8 L1090.3,431.0 L1089.2,430.4 L1088.1,429.9 L1087.0,430.1 L1085.9,429.7 L1084.8,428.6 L1083.7,428.6 L1082.6,428.0 L1081.5,426.7 L1080.4,426.9 L1079.3,426.1 L1078.2,426.3 L1077.1,426.5 L1076.0,425.1 L1074.9,424.7 L1073.8,425.2 L1072.7,424.8 L1071.6,423.8 L1070.5,423.3 L1069.4,421.6 L1068.3,420.6 L1067.2,421.2 L1066.1,419.6 L1065.0,419.9 L1063.9,418.2 L1062.8,418.3 L1061.7,417.9 L1060.6,417.0 L1059.5,416.2 L1058.4,414.3 L1057.3,414.1 L1056.2,412.6 L1055.1,411.7 L1054.0,411.1 L1052.9,411.5 L1051.8,411.0 L1050.7,410.4 L1049.6,408.2 L1048.5,408.6 L1047.4,407.2 L1046.3,407.4 L1045.2,407.3 L1044.1,406.0 L1043.0,405.3 L1041.9,404.9 L1040.8,404.3 L1039.7,404.3 L1038.6,403.6 L1037.5,401.5 L1036.4,400.9 L1035.3,401.0 L1034.2,400.2 L1033.1,399.2 L1032.0,398.5 L1030.9,397.8 L1029.8,396.3 L1028.7,395.5 L1027.6,394.0 L1026.5,394.3 L1025.4,392.6 L1024.3,392.2 L1023.2,391.2 L1022.1,390.1 L1021.0,388.5 L1019.9,387.9 L1018.8,386.4 L1017.7,386.3 L1016.6,384.6 L1015.5,383.5 L1014.4,383.1 L1013.3,380.9 L1012.2,380.7 L1011.1,379.0 L1010.0,378.1 L1008.9,377.6 L1007.8,376.3 L1006.7,374.8 L1005.6,373.2 L1004.5,372.2 L1003.4,371.5 L1002.3,369.4 L1001.2,367.8 L1000.1,366.6 L999.0,365.9 L997.9,364.3 L996.8,362.3 L995.7,361.3 L994.6,359.3 L993.5,358.0 L992.4,356.1 L991.3,353.9 L990.2,351.7 L989.1,349.4 L988.0,347.6 L986.9,345.3 L985.8,343.2 L984.7,340.2 L983.6,338.2 L982.5,335.5 L981.4,333.6 L980.3,330.6 L979.2,328.9 L978.1,326.0 L977.0,323.5 L975.9,321.2 L974.8,318.3 L973.7,315.3 L972.6,311.9 L971.5,308.8 L970.4,304.8 L969.3,301.1 L968.2,296.9 L967.1,293.0 L966.0,289.1 L964.9,284.4 L963.8,280.1 L962.7,275.9 L961.6,270.6 L960.5,264.2 L959.4,259.5 L958.3,254.0 L957.2,248.0 L956.1,241.4 L955.0,234.8 L953.9,228.3 L952.8,219.3 L951.7,210.7 L950.6,201.8 L949.5,192.4 L948.4,181.6 L947.3,169.1 L946.2,155.7 L945.1,140.3Z" fill="#ff0000" stroke="#ff0000" stroke-width="1.7" stroke-linejoin="round"/>
<path d="M950.1,197.6 L951.6,209.6 L953.1,221.6 L954.6,232.1 L956.1,241.1 L957.6,250.1 L959.1,257.6 L960.6,264.6 L962.1,273.0 L963.6,279.0 L965.1,285.0" fill="none" stroke="#ff0000" stroke-width="2.01" stroke-linejoin="round" stroke-linecap="round"/>
<path d="M965.1,285.0 L966.6,290.8 L968.1,296.1 L969.6,301.4 L971.1,306.6 L972.6,311.3 L974.1,315.7 L975.6,319.5 L977.1,323.1 L978.6,326.5 L980.1,329.9" fill="none" stroke="#ff0000" stroke-width="2.43" stroke-linejoin="round" stroke-linecap="round"/>
<path d="M980.1,329.9 L981.6,333.1 L983.1,336.2 L984.6,339.6 L986.1,343.0 L987.6,346.1 L989.1,349.1 L990.6,352.2 L992.1,355.0 L993.6,357.5 L995.1,359.5" fill="none" stroke="#ff0000" stroke-width="2.68" stroke-linejoin="round" stroke-linecap="round"/>
<path d="M995.1,359.5 L996.6,361.4 L998.1,363.4 L999.6,365.5 L1001.1,367.3 L1002.6,369.1 L1004.1,371.0 L1005.6,372.6 L1007.1,374.2 L1008.6,375.9 L1010.1,377.4" fill="none" stroke="#ff0000" stroke-width="2.89" stroke-linejoin="round" stroke-linecap="round"/>
<path d="M1010.1,377.4 L1011.6,379.0 L1013.1,380.4 L1014.6,381.9 L1016.1,383.3 L1017.6,384.8 L1019.1,386.3 L1020.6,387.7 L1022.1,389.1 L1023.6,390.7 L1025.1,392.1" fill="none" stroke="#ff0000" stroke-width="3.00" stroke-linejoin="round" stroke-linecap="round"/>
<path d="M1025.1,392.1 L1026.6,393.1 L1028.1,394.1 L1029.6,395.3 L1031.1,396.6 L1032.6,397.8 L1034.1,398.9 L1035.6,399.9 L1037.1,400.9 L1038.6,402.0 L1040.1,403.1" fill="none" stroke="#ff0000" stroke-width="3.00" stroke-linejoin="round" stroke-linecap="round"/>
<path d="M1040.1,403.1 L1041.6,404.0 L1043.1,404.8 L1044.6,405.7 L1046.1,406.4 L1047.6,406.9 L1049.1,407.6 L1050.6,408.6 L1052.1,409.5 L1053.6,410.1 L1055.1,410.9" fill="none" stroke="#ff0000" stroke-width="3.00" stroke-linejoin="round" stroke-linecap="round"/>
<path d="M1055.1,410.9 L1056.6,412.1 L1058.1,413.5 L1059.6,414.8 L1061.1,415.9 L1062.6,417.0 L1064.1,418.0 L1065.6,418.8 L1067.1,419.5 L1068.6,420.5 L1070.1,421.6" fill="none" stroke="#ff0000" stroke-width="3.00" stroke-linejoin="round" stroke-linecap="round"/>
<path d="M1070.1,421.6 L1071.6,422.5 L1073.1,423.3 L1074.6,424.0 L1076.1,424.7 L1077.6,425.1 L1079.1,425.4 L1080.6,426.0 L1082.1,426.6 L1083.6,427.2 L1085.1,427.8" fill="none" stroke="#ff0000" stroke-width="3.00" stroke-linejoin="round" stroke-linecap="round"/>
<path d="M1085.1,427.8 L1086.6,428.5 L1088.1,429.2 L1089.6,429.5 L1091.1,429.9 L1092.6,430.4 L1094.1,430.6 L1095.6,430.9 L1097.1,431.6 L1098.6,432.6 L1100.1,433.4" fill="none" stroke="#ff0000" stroke-width="3.00" stroke-linejoin="round" stroke-linecap="round"/>
<path d="M1100.1,433.4 L1101.6,433.7 L1103.1,433.9 L1104.6,434.1 L1106.1,434.3 L1107.6,434.5 L1109.1,434.8 L1110.6,435.1 L1112.1,435.4 L1113.6,435.5 L1115.1,435.5" fill="none" stroke="#ff0000" stroke-width="3.00" stroke-linejoin="round" stroke-linecap="round"/>
<path d="M1115.1,435.5 L1116.6,435.7 L1118.1,436.1 L1119.6,436.5 L1121.1,436.7 L1122.6,436.8 L1124.1,436.9 L1125.6,437.4 L1127.1,438.0 L1128.6,438.3 L1130.1,438.7" fill="none" stroke="#ff0000" stroke-width="3.00" stroke-linejoin="round" stroke-linecap="round"/>
<path d="M1130.1,438.7 L1131.6,439.2 L1133.1,439.4 L1134.6,439.4 L1136.1,439.4 L1137.6,439.7 L1139.1,440.1 L1140.6,440.4 L1142.1,440.8 L1143.6,441.2 L1145.1,441.5" fill="none" stroke="#ff0000" stroke-width="3.00" stroke-linejoin="round" stroke-linecap="round"/>
<path d="M1145.1,441.5 L1146.6,441.7 L1148.1,441.8 L1149.6,441.5 L1151.1,441.2 L1152.6,441.3 L1154.1,441.6 L1155.6,442.0 L1157.1,442.4 L1158.6,442.8 L1160.1,443.2" fill="none" stroke="#ff0000" stroke-width="3.00" stroke-linejoin="round" stroke-linecap="round"/>
<path d="M1160.1,443.2 L1161.6,443.4 L1163.1,443.6 L1164.6,444.0 L1166.1,444.3 L1167.6,444.5 L1169.1,445.0 L1170.6,445.8 L1172.1,446.5 L1173.6,446.9 L1175.1,447.2" fill="none" stroke="#ff0000" stroke-width="3.00" stroke-linejoin="round" stroke-linecap="round"/>
<path d="M1175.1,447.2 L1176.6,447.5 L1178.1,447.8 L1179.6,448.1 L1181.1,448.2 L1182.6,448.1 L1184.1,448.1 L1185.6,448.0 L1187.1,447.9 L1188.6,448.1 L1190.1,448.5" fill="none" stroke="#ff0000" stroke-width="3.00" stroke-linejoin="round" stroke-linecap="round"/>
<path d="M1190.1,448.5 L1191.6,448.8 L1193.1,448.8 L1194.6,448.8 L1196.1,448.7 L1197.6,448.6 L1199.1,448.4 L1200.6,448.4 L1202.1,448.4 L1203.6,448.4 L1205.1,448.6" fill="none" stroke="#ff0000" stroke-width="3.00" stroke-linejoin="round" stroke-linecap="round"/>
<path d="M1205.1,448.6 L1206.6,448.7 L1208.1,448.8 L1209.6,449.2 L1211.1,449.6 L1212.6,449.9 L1214.1,450.1 L1215.6,450.4 L1217.1,450.5 L1218.6,450.6 L1220.1,450.8" fill="none" stroke="#ff0000" stroke-width="3.00" stroke-linejoin="round" stroke-linecap="round"/>
<path d="M1220.1,450.8 L1221.6,450.9 L1223.1,451.1 L1224.6,451.1 L1226.1,450.8 L1227.6,450.6 L1229.1,450.6 L1230.6,450.7 L1232.1,450.9 L1233.6,451.0 L1235.1,451.1" fill="none" stroke="#ff0000" stroke-width="3.00" stroke-linejoin="round" stroke-linecap="round"/>
<path d="M1235.1,451.1 L1236.6,451.0 L1238.1,450.9 L1239.6,450.9 L1241.1,450.9 L1242.6,451.0 L1244.1,451.1 L1245.6,451.2 L1247.1,451.5 L1248.6,451.7 L1250.1,451.5" fill="none" stroke="#ff0000" stroke-width="3.00" stroke-linejoin="round" stroke-linecap="round"/>
<path d="M1250.1,451.5 L1251.6,451.2 L1253.1,451.3 L1254.6,451.7 L1256.1,452.0 L1257.6,452.1 L1259.1,452.3 L1260.6,452.5 L1262.1,452.5 L1263.6,452.6 L1265.1,452.6" fill="none" stroke="#ff0000" stroke-width="3.00" stroke-linejoin="round" stroke-linecap="round"/>
<path d="M1265.1,452.6 L1266.6,452.4 L1268.1,452.4 L1269.6,452.3 L1271.1,452.2 L1272.6,452.2 L1274.1,452.5 L1275.6,452.7 L1277.1,452.9 L1278.6,453.2 L1280.1,453.5" fill="none" stroke="#ff0000" stroke-width="3.00" stroke-linejoin="round" stroke-linecap="round"/>
<path d="M1280.1,453.5 L1281.6,453.7 L1283.1,453.9 L1284.6,454.0 L1286.1,453.8 L1287.6,453.6 L1289.1,453.6 L1290.6,453.8 L1292.1,453.9 L1293.6,454.0 L1295.1,454.1" fill="none" stroke="#ff0000" stroke-width="3.00" stroke-linejoin="round" stroke-linecap="round"/>
<path d="M1295.1,454.1 L1296.6,454.2 L1298.1,454.1 L1299.6,454.0 L1301.1,454.3 L1302.6,455.1 L1304.1,455.6 L1305.6,455.5 L1307.1,455.2 L1308.6,455.2 L1310.1,455.4" fill="none" stroke="#ff0000" stroke-width="3.00" stroke-linejoin="round" stroke-linecap="round"/>
<path d="M1310.1,455.4 L1311.6,455.5 L1313.1,455.7 L1314.6,456.1 L1316.1,456.4 L1317.6,456.3 L1319.1,456.2 L1320.6,456.2 L1322.1,455.9 L1323.6,455.6 L1325.1,455.7" fill="none" stroke="#ff0000" stroke-width="3.00" stroke-linejoin="round" stroke-linecap="round"/>
<path d="M1325.1,455.7 L1326.6,456.2 L1328.1,456.4 L1329.6,456.4 L1331.1,456.4 L1332.6,456.4 L1334.1,456.3 L1335.6,456.2 L1337.1,456.2 L1338.6,456.2 L1340.1,456.3" fill="none" stroke="#ff0000" stroke-width="3.00" stroke-linejoin="round" stroke-linecap="round"/>
<path d="M1340.1,456.3 L1341.6,456.5 L1343.1,456.9 L1344.6,457.1 L1346.1,457.2 L1347.6,457.3 L1349.1,457.3 L1350.6,457.2 L1352.1,457.2 L1353.6,457.2 L1355.1,457.0" fill="none" stroke="#ff0000" stroke-width="3.00" stroke-linejoin="round" stroke-linecap="round"/>
<path d="M1355.1,457.0 L1356.6,457.1 L1358.1,457.6 L1359.6,458.0 L1361.1,458.2 L1362.6,458.2 L1364.1,458.3 L1365.6,458.6 L1367.1,459.0 L1368.6,459.2 L1370.1,459.3" fill="none" stroke="#ff0000" stroke-width="3.00" stroke-linejoin="round" stroke-linecap="round"/>
<path d="M1370.1,459.3 L1371.6,459.5 L1373.1,459.6 L1374.6,459.7 L1376.1,459.9 L1377.6,460.1 L1379.1,460.5 L1380.6,460.7 L1382.1,460.6 L1383.6,460.6 L1385.1,460.9" fill="none" stroke="#ff0000" stroke-width="3.00" stroke-linejoin="round" stroke-linecap="round"/>
<path d="M1385.1,460.9 L1386.6,461.3 L1388.1,461.6 L1389.6,462.0 L1391.1,462.2 L1392.6,462.3 L1394.1,462.3 L1395.6,462.2 L1397.1,462.2 L1398.6,462.1 L1400.1,462.1" fill="none" stroke="#ff0000" stroke-width="3.00" stroke-linejoin="round" stroke-linecap="round"/>
<path d="M1400.1,462.1 L1401.6,462.5 L1403.1,463.1 L1404.6,463.4 L1406.1,463.3 L1407.6,463.2 L1409.1,463.3 L1410.6,463.3 L1412.1,463.4 L1413.6,463.5 L1415.1,463.6" fill="none" stroke="#ff0000" stroke-width="3.00" stroke-linejoin="round" stroke-linecap="round"/>
<path d="M1415.1,463.6 L1416.6,463.7 L1418.1,463.6 L1419.6,463.5 L1421.1,463.7 L1422.6,464.3 L1424.1,464.6 L1425.6,464.5 L1427.1,464.2 L1428.6,464.2 L1430.1,464.2" fill="none" stroke="#ff0000" stroke-width="3.00" stroke-linejoin="round" stroke-linecap="round"/>
<path d="M1430.1,464.2 L1431.6,464.3 L1433.1,464.5 L1434.6,464.8 L1436.1,465.1 L1437.6,465.1 L1439.1,465.0 L1440.6,465.1 L1442.1,465.1 L1443.6,465.1 L1445.1,465.1" fill="none" stroke="#ff0000" stroke-width="3.00" stroke-linejoin="round" stroke-linecap="round"/>
<path d="M1445.1,465.1 L1446.6,465.0 L1448.1,465.0 L1449.6,465.3 L1451.1,465.7 L1452.6,465.9 L1454.1,466.0 L1455.6,466.2 L1457.1,466.3 L1458.6,466.5 L1460.1,466.7" fill="none" stroke="#ff0000" stroke-width="3.00" stroke-linejoin="round" stroke-linecap="round"/>
<path d="M1460.1,466.7 L1461.6,466.9 L1463.1,467.1 L1464.6,467.2 L1466.1,467.0 L1467.6,467.0 L1469.1,467.0 L1470.6,467.0 L1472.1,467.1 L1473.6,467.2 L1475.1,467.3" fill="none" stroke="#ff0000" stroke-width="3.00" stroke-linejoin="round" stroke-linecap="round"/>
<path d="M1475.1,467.3 L1476.6,467.5 L1478.1,467.9 L1479.6,468.2 L1481.1,468.4 L1482.6,468.7 L1484.1,468.9 L1485.6,468.9 L1487.1,468.8 L1488.6,468.9 L1490.1,469.2" fill="none" stroke="#ff0000" stroke-width="3.00" stroke-linejoin="round" stroke-linecap="round"/>
<path d="M1490.1,469.2 L1491.6,469.4 L1493.1,469.3 L1494.6,468.8 L1496.1,468.6 L1497.6,468.7 L1499.1,468.8 L1500.6,469.0 L1502.1,469.4 L1503.6,469.7 L1505.1,469.8" fill="none" stroke="#ff0000" stroke-width="3.00" stroke-linejoin="round" stroke-linecap="round"/>
<path d="M1505.1,469.8 L1506.6,469.6 L1508.1,469.6 L1509.6,469.6 L1511.1,469.7 L1512.6,469.9 L1514.1,470.2 L1515.6,470.5 L1517.1,470.5 L1518.6,469.9 L1520.1,469.7" fill="none" stroke="#ff0000" stroke-width="3.00" stroke-linejoin="round" stroke-linecap="round"/>
<path d="M1520.1,469.7 L1521.6,470.2 L1523.1,470.9 L1524.6,471.1 L1526.1,470.7 L1527.6,470.3 L1529.1,470.5 L1530.6,470.9 L1532.1,471.2 L1533.6,471.3 L1535.1,471.5" fill="none" stroke="#ff0000" stroke-width="3.00" stroke-linejoin="round" stroke-linecap="round"/>
<path d="M1535.1,471.5 L1536.6,471.6 L1538.1,471.6 L1539.6,471.5 L1541.1,471.6 L1542.6,471.8 L1544.1,471.9 L1545.6,471.7 L1547.1,471.4 L1548.6,471.4 L1550.1,471.4" fill="none" stroke="#ff0000" stroke-width="3.00" stroke-linejoin="round" stroke-linecap="round"/>
<path d="M1550.1,471.4 L1551.6,471.5 L1553.1,471.7 L1554.6,472.1 L1556.1,472.3 L1557.6,472.5 L1559.1,472.7 L1560.6,472.7 L1562.1,472.1 L1563.6,471.5 L1565.1,471.4" fill="none" stroke="#ff0000" stroke-width="3.00" stroke-linejoin="round" stroke-linecap="round"/>
<path d="M1565.1,471.4 L1566.6,471.5 L1568.1,471.5 L1569.6,471.9 L1571.1,472.5 L1572.6,472.6 L1574.1,471.9 L1575.6,471.3 L1577.1,471.2 L1578.6,471.2 L1580.1,471.2" fill="none" stroke="#ff0000" stroke-width="3.00" stroke-linejoin="round" stroke-linecap="round"/>
<path d="M1580.1,471.2 L1581.6,471.3 L1583.1,471.6 L1584.6,471.6 L1586.1,471.5 L1587.6,471.3 L1589.1,471.4 L1590.6,471.7 L1592.1,471.9 L1593.6,471.8 L1595.1,471.6" fill="none" stroke="#ff0000" stroke-width="3.00" stroke-linejoin="round" stroke-linecap="round"/>
<path d="M1595.1,471.6 L1596.6,471.6 L1598.1,471.8 L1599.6,471.9 L1601.1,471.8 L1602.6,471.2 L1604.1,470.8 L1605.6,470.8 L1607.1,470.9 L1608.6,471.0 L1610.1,471.0" fill="none" stroke="#ff0000" stroke-width="3.00" stroke-linejoin="round" stroke-linecap="round"/>
<path d="M1610.1,471.0 L1611.6,471.0 L1613.1,471.2 L1614.6,471.7 L1616.1,472.1 L1617.6,472.2 L1619.1,472.3 L1620.6,472.2 L1622.1,471.7 L1623.6,471.3 L1625.1,471.1" fill="none" stroke="#ff0000" stroke-width="3.00" stroke-linejoin="round" stroke-linecap="round"/>
<path d="M1625.1,471.1 L1626.6,471.0 L1628.1,471.0 L1629.6,470.9 L1631.1,470.8 L1632.6,470.8 L1634.1,471.0 L1635.6,471.1 L1637.1,471.3 L1638.6,472.0 L1640.0,472.4" fill="none" stroke="#ff0000" stroke-width="3.00" stroke-linejoin="round" stroke-linecap="round"/>
<path d="M937.2,531.0 L937.2,445.1" fill="none" stroke="#808080" stroke-width="1.8" stroke-linejoin="round" stroke-linecap="butt" />
<path d="M937.1,444.9 L938.2,454.2 L939.3,459.8 L940.4,464.1 L941.5,467.9 L942.6,471.0 L943.7,473.7 L944.8,475.6 L945.9,477.6 L947.0,479.5 L948.1,481.2 L949.2,482.5 L950.3,483.9 L951.4,484.9 L952.5,485.9 L953.6,486.8 L954.7,487.6 L955.8,488.3 L956.9,489.1 L958.0,489.6 L959.1,490.1 L960.2,490.5 L961.3,491.0 L962.4,491.5 L963.5,491.8 L964.6,492.2 L965.7,492.7 L966.8,493.0 L967.9,493.4 L969.0,493.6 L970.1,493.8 L971.2,494.1 L972.3,494.3 L973.4,494.6 L974.5,494.9 L975.6,495.0 L976.7,495.3 L977.8,495.5 L978.9,495.6 L980.0,495.8 L981.1,496.1 L982.2,496.3 L983.3,496.5 L984.4,496.7 L985.5,496.9 L986.6,497.2 L987.7,497.2 L988.8,497.4 L989.9,497.5 L991.0,497.7 L992.1,497.8 L993.2,498.1 L994.3,498.1 L995.4,498.3 L996.5,498.3 L997.6,498.4 L998.7,498.6 L999.8,498.7 L1000.9,498.7 L1002.0,498.7 L1003.1,498.9 L1004.2,498.8 L1005.3,499.0 L1006.4,499.0 L1007.5,499.2 L1008.6,499.4 L1009.7,499.4 L1010.8,499.4 L1011.9,499.6 L1013.0,499.5 L1014.1,499.7 L1015.2,499.6 L1016.3,499.6 L1017.4,499.8 L1018.5,500.1 L1019.6,500.1 L1020.7,500.1 L1021.8,500.2 L1022.9,500.3 L1024.0,500.2 L1025.1,500.2 L1026.2,500.1 L1027.3,500.2 L1028.4,500.1 L1029.5,500.2 L1030.6,500.3 L1031.7,500.6 L1032.8,500.5 L1033.9,500.6 L1035.0,501.0 L1036.1,501.0 L1037.2,501.1 L1038.3,501.0 L1039.4,500.9 L1040.5,501.0 L1041.6,501.0 L1042.7,501.1 L1043.8,501.1 L1044.9,501.0 L1046.0,501.0 L1047.1,501.0 L1048.2,501.0 L1049.3,501.2 L1050.4,501.0 L1051.5,501.0 L1052.6,501.0 L1053.7,500.9 L1054.8,500.8 L1055.9,501.0 L1057.0,501.0 L1058.1,500.9 L1059.2,501.2 L1060.3,501.1 L1061.4,501.2 L1062.5,500.9 L1063.6,500.9 L1064.7,500.9 L1065.8,501.1 L1066.9,501.1 L1068.0,501.1 L1069.1,501.0 L1070.2,501.0 L1071.3,501.1 L1072.4,501.4 L1073.5,501.2 L1074.6,500.9 L1075.7,500.8 L1076.8,501.0 L1077.9,500.7 L1079.0,500.9 L1080.1,501.1 L1081.2,501.0 L1082.3,501.2 L1083.4,501.5 L1084.5,501.5 L1085.6,501.5 L1086.7,501.6 L1087.8,501.4 L1088.9,501.3 L1090.0,501.5 L1091.1,500.9 L1092.2,500.9 L1093.3,501.3 L1094.4,501.4 L1095.5,501.5 L1096.6,501.8 L1097.7,501.3 L1098.8,501.5 L1099.9,501.6 L1101.0,501.4 L1102.1,501.1 L1103.2,501.0 L1104.3,501.2 L1105.4,501.0 L1106.5,501.6 L1107.6,501.5 L1108.7,501.3 L1109.8,501.5 L1110.9,501.2 L1112.0,501.1 L1113.1,501.0 L1114.2,501.0 L1115.3,501.0 L1116.4,501.1 L1117.5,501.4 L1118.6,501.1 L1119.7,501.2 L1120.8,500.8 L1121.9,500.8 L1123.0,500.9 L1124.1,500.8 L1125.2,501.0 L1126.3,501.3 L1127.4,501.5 L1128.5,501.4 L1129.6,501.4 L1130.7,501.8 L1131.8,501.7 L1132.9,501.8 L1134.0,501.4 L1135.1,501.3 L1136.2,501.1 L1137.3,501.0 L1138.4,501.0 L1139.5,501.5 L1140.6,501.2 L1141.7,501.6 L1142.8,501.5 L1143.9,501.7 L1145.0,501.4 L1146.1,501.2 L1147.2,501.6 L1148.3,501.5 L1149.4,501.6 L1150.5,501.3 L1151.6,501.1 L1152.7,501.4 L1153.8,501.3 L1154.9,501.5 L1156.0,501.7 L1157.1,501.8 L1158.2,501.1 L1159.3,500.9 L1160.4,501.1 L1161.5,501.1 L1162.6,501.6 L1163.7,502.1 L1164.8,501.7 L1165.9,501.6 L1167.0,501.6 L1168.1,501.4 L1169.2,501.9 L1170.3,501.9 L1171.4,501.4 L1172.5,502.0 L1173.6,501.5 L1174.7,502.0 L1175.8,501.9 L1176.9,501.6 L1178.0,501.7 L1179.1,501.7 L1180.2,501.2 L1181.3,501.6 L1182.4,501.6 L1183.5,501.6 L1184.6,501.5 L1185.7,501.5 L1186.8,501.4 L1187.9,501.7 L1189.0,502.0 L1190.1,502.1 L1191.2,502.0 L1192.3,501.7 L1193.4,501.8 L1194.5,502.2 L1195.6,502.2 L1196.7,501.8 L1197.8,501.7 L1198.9,502.3 L1200.0,501.9 L1201.1,501.8 L1202.2,502.0 L1203.3,501.6 L1204.4,502.0 L1205.5,501.8 L1206.6,502.0 L1207.7,501.9 L1208.8,501.9 L1209.9,502.2 L1211.0,501.9 L1212.1,501.9 L1213.2,502.3 L1214.3,501.9 L1215.4,501.9 L1216.5,502.3 L1217.6,502.3 L1218.7,501.9 L1219.8,502.0 L1220.9,502.0 L1222.0,502.3 L1223.1,502.0 L1224.2,502.4 L1225.3,502.4 L1226.4,501.6 L1227.5,502.1 L1228.6,501.6 L1229.7,501.9 L1230.8,501.7 L1231.9,502.3 L1233.0,502.4 L1234.1,502.1 L1235.2,501.7 L1236.3,501.9 L1237.4,501.4 L1238.5,501.5 L1239.6,501.9 L1240.7,502.0 L1241.8,502.1 L1242.9,501.8 L1244.0,502.6 L1245.1,502.3 L1246.2,502.1 L1247.3,502.1 L1248.4,502.3 L1249.5,502.1 L1250.6,501.7 L1251.7,501.5 L1252.8,501.9 L1253.9,502.2 L1255.0,501.6 L1256.1,502.3 L1257.2,502.0 L1258.3,501.6 L1259.4,502.3 L1260.5,502.5 L1261.6,502.0 L1262.7,502.2 L1263.8,502.5 L1264.9,502.2 L1266.0,502.0 L1267.1,501.9 L1268.2,501.9 L1269.3,501.9 L1270.4,502.4 L1271.5,502.4 L1272.6,502.0 L1273.7,502.0 L1274.8,502.9 L1275.9,502.9 L1277.0,502.8 L1278.1,502.9 L1279.2,502.2 L1280.3,502.0 L1281.4,502.5 L1282.5,502.6 L1283.6,502.3 L1284.7,502.7 L1285.8,502.2 L1286.9,502.8 L1288.0,503.1 L1289.1,502.4 L1290.2,502.8 L1291.3,502.0 L1292.4,502.5 L1293.5,502.0 L1294.6,502.7 L1295.7,502.4 L1296.8,502.3 L1297.9,502.5 L1299.0,502.1 L1300.1,502.4 L1301.2,502.0 L1302.3,503.0 L1303.4,502.8 L1304.5,502.6 L1305.6,502.9 L1306.7,502.8 L1307.8,502.6 L1308.9,503.2 L1310.0,502.8 L1311.1,502.2 L1312.2,502.1 L1313.3,502.3 L1314.4,502.2 L1315.5,502.4 L1316.6,502.4 L1317.7,502.5 L1318.8,502.8 L1319.9,503.0 L1321.0,503.1 L1322.1,502.7 L1323.2,502.5 L1324.3,503.1 L1325.4,502.7 L1326.5,502.5 L1327.6,502.6 L1328.7,503.3 L1329.8,502.6 L1330.9,502.8 L1332.0,502.9 L1333.1,503.0 L1334.2,503.0 L1335.3,503.8 L1336.4,503.1 L1337.5,503.8 L1338.6,503.5 L1339.7,503.2 L1340.8,502.7 L1341.9,502.6 L1343.0,502.7 L1344.1,502.7 L1345.2,503.3 L1346.3,503.6 L1347.4,504.0 L1348.5,503.3 L1349.6,502.9 L1350.7,503.3 L1351.8,502.5 L1352.9,503.4 L1354.0,503.4 L1355.1,503.5 L1356.2,503.0 L1357.3,502.9 L1358.4,503.0 L1359.5,503.1 L1360.6,503.3 L1361.7,503.1 L1362.8,503.6 L1363.9,503.7 L1365.0,503.0 L1366.1,503.6 L1367.2,504.0 L1368.3,503.4 L1369.4,503.7 L1370.5,503.3 L1371.6,503.8 L1372.7,503.3 L1373.8,503.6 L1374.9,503.6 L1376.0,503.5 L1377.1,504.0 L1378.2,503.9 L1379.3,503.3 L1380.4,503.2 L1381.5,504.0 L1382.6,503.5 L1383.7,503.9 L1384.8,504.0 L1385.9,503.2 L1387.0,503.3 L1388.1,503.8 L1389.2,503.9 L1390.3,503.0 L1391.4,502.9 L1392.5,503.1 L1393.6,503.2 L1394.7,503.4 L1395.8,503.9 L1396.9,503.3 L1398.0,504.0 L1399.1,504.0 L1400.2,503.1 L1401.3,503.7 L1402.4,503.7 L1403.5,503.2 L1404.6,503.7 L1405.7,503.6 L1406.8,503.8 L1407.9,504.2 L1409.0,503.1 L1410.1,503.6 L1411.2,503.5 L1412.3,503.9 L1413.4,504.0 L1414.5,503.1 L1415.6,503.8 L1416.7,503.2 L1417.8,504.0 L1418.9,504.3 L1420.0,504.1 L1421.1,503.6 L1422.2,504.1 L1423.3,504.3 L1424.4,503.6 L1425.5,504.5 L1426.6,504.6 L1427.7,504.0 L1428.8,504.1 L1429.9,504.5 L1431.0,503.5 L1432.1,504.1 L1433.2,504.2 L1434.3,503.5 L1435.4,504.2 L1436.5,504.0 L1437.6,503.9 L1438.7,504.1 L1439.8,504.3 L1440.9,504.2 L1442.0,504.8 L1443.1,504.1 L1444.2,504.2 L1445.3,504.3 L1446.4,504.4 L1447.5,504.3 L1448.6,504.5 L1449.7,504.0 L1450.8,505.0 L1451.9,504.8 L1453.0,504.6 L1454.1,504.1 L1455.2,504.0 L1456.3,504.3 L1457.4,504.1 L1458.5,504.6 L1459.6,504.0 L1460.7,504.7 L1461.8,504.3 L1462.9,505.1 L1464.0,505.0 L1465.1,505.3 L1466.2,504.5 L1467.3,503.9 L1468.4,504.6 L1469.5,504.3 L1470.6,503.7 L1471.7,503.8 L1472.8,503.8 L1473.9,504.3 L1475.0,504.1 L1476.1,504.5 L1477.2,504.7 L1478.3,504.3 L1479.4,504.8 L1480.5,504.7 L1481.6,504.1 L1482.7,504.1 L1483.8,504.4 L1484.9,504.3 L1486.0,504.1 L1487.1,504.0 L1488.2,504.4 L1489.3,504.9 L1490.4,503.9 L1491.5,504.2 L1492.6,503.7 L1493.7,503.8 L1494.8,503.9 L1495.9,504.4 L1497.0,504.0 L1498.1,505.3 L1499.2,505.3 L1500.3,505.4 L1501.4,505.0 L1502.5,505.0 L1503.6,504.7 L1504.7,504.4 L1505.8,505.0 L1506.9,504.7 L1508.0,505.6 L1509.1,505.3 L1510.2,505.5 L1511.3,505.2 L1512.4,505.1 L1513.5,505.5 L1514.6,505.0 L1515.7,505.4 L1516.8,505.5 L1517.9,504.7 L1519.0,504.8 L1520.1,504.7 L1521.2,504.9 L1522.3,504.6 L1523.4,504.8 L1524.5,504.5 L1525.6,504.5 L1526.7,505.4 L1527.8,505.5 L1528.9,505.0 L1530.0,505.5 L1531.1,504.9 L1532.2,505.2 L1533.3,504.4 L1534.4,504.5 L1535.5,504.8 L1536.6,505.1 L1537.7,504.5 L1538.8,504.3 L1539.9,505.1 L1541.0,505.3 L1542.1,504.9 L1543.2,504.5 L1544.3,504.6 L1545.4,505.0 L1546.5,504.4 L1547.6,505.1 L1548.7,504.5 L1549.8,504.7 L1550.9,504.8 L1552.0,505.3 L1553.1,504.8 L1554.2,505.4 L1555.3,504.5 L1556.4,504.7 L1557.5,505.4 L1558.6,504.2 L1559.7,504.3 L1560.8,504.4 L1561.9,505.1 L1563.0,505.8 L1564.1,505.3 L1565.2,505.5 L1566.3,505.6 L1567.4,505.3 L1568.5,504.4 L1569.6,504.5 L1570.7,505.5 L1571.8,504.9 L1572.9,505.8 L1574.0,505.6 L1575.1,505.8 L1576.2,506.0 L1577.3,505.1 L1578.4,505.9 L1579.5,505.4 L1580.6,505.0 L1581.7,505.3 L1582.8,505.4 L1583.9,505.7 L1585.0,506.3 L1586.1,505.5 L1587.2,506.4 L1588.3,505.5 L1589.4,506.0 L1590.5,506.2 L1591.6,506.2 L1592.7,505.8 L1593.8,505.9 L1594.9,505.6 L1596.0,505.4 L1597.1,505.7 L1598.2,506.2 L1599.3,505.6 L1600.4,506.4 L1601.5,505.2 L1602.6,505.8 L1603.7,505.0 L1604.8,506.1 L1605.9,505.9 L1607.0,505.0 L1608.1,505.7 L1609.2,505.8 L1610.3,505.9 L1611.4,505.6 L1612.5,506.2 L1613.6,506.1 L1614.7,506.3 L1615.8,506.2 L1616.9,506.0 L1618.0,506.0 L1619.1,505.6 L1620.2,505.1 L1621.3,505.9 L1622.4,506.1 L1623.5,505.4 L1624.6,506.3 L1625.7,505.6 L1626.8,505.8 L1627.9,505.6 L1629.0,505.2 L1630.1,506.0 L1631.2,505.6 L1632.3,505.5 L1633.4,505.6 L1634.5,506.2 L1635.6,506.1 L1636.7,506.1 L1637.8,505.8 L1638.9,506.6 L1640.0,506.2 L1640.0,507.7 L1638.9,507.6 L1637.8,508.3 L1636.7,507.9 L1635.6,507.9 L1634.5,507.6 L1633.4,507.4 L1632.3,507.8 L1631.2,507.1 L1630.1,507.8 L1629.0,507.8 L1627.9,507.4 L1626.8,507.5 L1625.7,507.7 L1624.6,507.9 L1623.5,506.9 L1622.4,506.9 L1621.3,507.4 L1620.2,507.0 L1619.1,507.7 L1618.0,507.4 L1616.9,507.0 L1615.8,507.2 L1614.7,507.1 L1613.6,507.4 L1612.5,507.1 L1611.4,507.3 L1610.3,507.1 L1609.2,507.3 L1608.1,506.5 L1607.0,507.5 L1605.9,507.7 L1604.8,506.8 L1603.7,507.0 L1602.6,506.7 L1601.5,507.3 L1600.4,507.7 L1599.3,507.5 L1598.2,507.4 L1597.1,506.9 L1596.0,507.6 L1594.9,507.5 L1593.8,507.5 L1592.7,507.4 L1591.6,507.7 L1590.5,507.8 L1589.4,507.2 L1588.3,507.1 L1587.2,507.3 L1586.1,507.8 L1585.0,507.6 L1583.9,507.4 L1582.8,507.0 L1581.7,507.6 L1580.6,507.5 L1579.5,507.4 L1578.4,507.4 L1577.3,507.2 L1576.2,507.6 L1575.1,507.0 L1574.0,506.6 L1572.9,507.2 L1571.8,507.3 L1570.7,506.5 L1569.6,506.9 L1568.5,506.9 L1567.4,506.0 L1566.3,506.3 L1565.2,506.9 L1564.1,507.8 L1563.0,507.3 L1561.9,507.2 L1560.8,506.5 L1559.7,505.8 L1558.6,506.5 L1557.5,506.4 L1556.4,506.4 L1555.3,506.5 L1554.2,505.9 L1553.1,506.5 L1552.0,506.6 L1550.9,506.9 L1549.8,506.7 L1548.7,506.8 L1547.6,506.6 L1546.5,506.0 L1545.4,507.0 L1544.3,506.7 L1543.2,506.1 L1542.1,506.3 L1541.0,506.5 L1539.9,506.5 L1538.8,506.2 L1537.7,506.7 L1536.6,506.7 L1535.5,506.8 L1534.4,506.5 L1533.3,506.6 L1532.2,505.8 L1531.1,506.5 L1530.0,506.3 L1528.9,506.6 L1527.8,506.9 L1526.7,507.0 L1525.6,505.9 L1524.5,506.7 L1523.4,506.6 L1522.3,505.9 L1521.2,506.6 L1520.1,506.2 L1519.0,506.1 L1517.9,507.1 L1516.8,507.1 L1515.7,506.6 L1514.6,507.2 L1513.5,506.3 L1512.4,506.7 L1511.3,507.0 L1510.2,507.0 L1509.1,506.9 L1508.0,506.8 L1506.9,507.0 L1505.8,506.5 L1504.7,506.8 L1503.6,506.5 L1502.5,506.5 L1501.4,506.3 L1500.3,507.1 L1499.2,506.2 L1498.1,506.3 L1497.0,505.9 L1495.9,506.1 L1494.8,505.6 L1493.7,505.9 L1492.6,506.1 L1491.5,505.4 L1490.4,505.4 L1489.3,506.4 L1488.2,506.1 L1487.1,506.5 L1486.0,505.5 L1484.9,506.0 L1483.8,506.1 L1482.7,505.6 L1481.6,506.7 L1480.5,506.8 L1479.4,506.1 L1478.3,505.8 L1477.2,505.8 L1476.1,506.7 L1475.0,506.0 L1473.9,506.3 L1472.8,505.7 L1471.7,506.3 L1470.6,505.9 L1469.5,505.4 L1468.4,505.5 L1467.3,505.5 L1466.2,506.3 L1465.1,506.9 L1464.0,506.3 L1462.9,506.9 L1461.8,506.5 L1460.7,506.2 L1459.6,506.0 L1458.5,505.5 L1457.4,505.9 L1456.3,506.1 L1455.2,505.1 L1454.1,505.4 L1453.0,505.8 L1451.9,506.4 L1450.8,505.6 L1449.7,506.5 L1448.6,505.6 L1447.5,505.5 L1446.4,505.3 L1445.3,506.4 L1444.2,506.0 L1443.1,506.4 L1442.0,505.6 L1440.9,505.7 L1439.8,506.0 L1438.7,505.5 L1437.6,505.7 L1436.5,505.3 L1435.4,505.1 L1434.3,505.3 L1433.2,505.4 L1432.1,504.8 L1431.0,505.8 L1429.9,505.7 L1428.8,505.3 L1427.7,506.3 L1426.6,505.7 L1425.5,505.4 L1424.4,506.1 L1423.3,505.6 L1422.2,505.2 L1421.1,505.2 L1420.0,505.4 L1418.9,505.8 L1417.8,505.5 L1416.7,505.4 L1415.6,505.2 L1414.5,505.6 L1413.4,505.3 L1412.3,505.1 L1411.2,504.7 L1410.1,505.5 L1409.0,505.7 L1407.9,505.8 L1406.8,505.0 L1405.7,505.7 L1404.6,505.3 L1403.5,505.5 L1402.4,505.1 L1401.3,505.4 L1400.2,505.1 L1399.1,504.7 L1398.0,505.3 L1396.9,505.1 L1395.8,504.6 L1394.7,504.7 L1393.6,505.1 L1392.5,504.7 L1391.4,504.7 L1390.3,504.7 L1389.2,504.9 L1388.1,504.8 L1387.0,505.3 L1385.9,504.8 L1384.8,505.8 L1383.7,505.8 L1382.6,505.4 L1381.5,504.8 L1380.4,504.6 L1379.3,505.1 L1378.2,505.3 L1377.1,504.8 L1376.0,505.1 L1374.9,505.7 L1373.8,505.0 L1372.7,504.6 L1371.6,505.4 L1370.5,504.6 L1369.4,505.5 L1368.3,505.0 L1367.2,505.1 L1366.1,504.7 L1365.0,504.5 L1363.9,505.1 L1362.8,504.8 L1361.7,505.1 L1360.6,505.2 L1359.5,505.0 L1358.4,504.4 L1357.3,505.0 L1356.2,505.0 L1355.1,504.7 L1354.0,504.0 L1352.9,504.2 L1351.8,504.9 L1350.7,504.6 L1349.6,505.0 L1348.5,504.5 L1347.4,505.5 L1346.3,505.0 L1345.2,505.2 L1344.1,505.0 L1343.0,505.0 L1341.9,504.9 L1340.8,504.3 L1339.7,504.8 L1338.6,504.6 L1337.5,504.5 L1336.4,504.4 L1335.3,504.6 L1334.2,504.6 L1333.1,504.7 L1332.0,503.9 L1330.9,503.7 L1329.8,504.4 L1328.7,504.2 L1327.6,504.3 L1326.5,503.9 L1325.4,504.9 L1324.3,504.2 L1323.2,504.0 L1322.1,504.2 L1321.0,503.5 L1319.9,504.1 L1318.8,503.7 L1317.7,504.3 L1316.6,504.2 L1315.5,503.7 L1314.4,503.9 L1313.3,504.3 L1312.2,503.4 L1311.1,504.1 L1310.0,503.5 L1308.9,504.5 L1307.8,504.6 L1306.7,504.2 L1305.6,503.8 L1304.5,504.2 L1303.4,503.7 L1302.3,504.1 L1301.2,504.0 L1300.1,503.7 L1299.0,503.4 L1297.9,503.4 L1296.8,503.8 L1295.7,504.1 L1294.6,503.5 L1293.5,503.5 L1292.4,503.3 L1291.3,503.6 L1290.2,503.8 L1289.1,504.1 L1288.0,503.9 L1286.9,504.2 L1285.8,503.4 L1284.7,503.1 L1283.6,503.1 L1282.5,503.1 L1281.4,503.2 L1280.3,503.0 L1279.2,503.1 L1278.1,503.3 L1277.0,503.5 L1275.9,503.6 L1274.8,504.2 L1273.7,504.0 L1272.6,503.7 L1271.5,502.9 L1270.4,503.6 L1269.3,503.1 L1268.2,503.4 L1267.1,503.3 L1266.0,503.6 L1264.9,503.0 L1263.8,503.6 L1262.7,503.2 L1261.6,503.5 L1260.5,503.4 L1259.4,503.6 L1258.3,503.2 L1257.2,502.8 L1256.1,503.3 L1255.0,503.3 L1253.9,502.7 L1252.8,503.0 L1251.7,502.9 L1250.6,503.2 L1249.5,503.5 L1248.4,503.6 L1247.3,503.2 L1246.2,503.2 L1245.1,503.0 L1244.0,503.1 L1242.9,503.2 L1241.8,502.8 L1240.7,502.7 L1239.6,502.6 L1238.5,502.9 L1237.4,503.1 L1236.3,503.1 L1235.2,503.1 L1234.1,502.9 L1233.0,502.8 L1231.9,503.5 L1230.8,503.2 L1229.7,503.2 L1228.6,503.2 L1227.5,502.9 L1226.4,503.1 L1225.3,503.3 L1224.2,503.0 L1223.1,502.8 L1222.0,503.2 L1220.9,503.1 L1219.8,503.4 L1218.7,503.0 L1217.6,502.9 L1216.5,503.3 L1215.4,503.1 L1214.3,502.7 L1213.2,502.7 L1212.1,502.8 L1211.0,502.8 L1209.9,502.9 L1208.8,503.1 L1207.7,502.4 L1206.6,503.0 L1205.5,502.7 L1204.4,502.8 L1203.3,502.8 L1202.2,502.9 L1201.1,502.6 L1200.0,502.7 L1198.9,503.1 L1197.8,503.3 L1196.7,502.7 L1195.6,503.3 L1194.5,503.1 L1193.4,502.9 L1192.3,502.8 L1191.2,503.2 L1190.1,502.8 L1189.0,502.8 L1187.9,502.8 L1186.8,502.6 L1185.7,502.5 L1184.6,502.2 L1183.5,502.3 L1182.4,502.3 L1181.3,502.3 L1180.2,502.3 L1179.1,502.6 L1178.0,502.8 L1176.9,502.8 L1175.8,502.5 L1174.7,502.7 L1173.6,502.6 L1172.5,502.8 L1171.4,502.7 L1170.3,502.6 L1169.2,502.7 L1168.1,502.5 L1167.0,502.6 L1165.9,502.6 L1164.8,502.6 L1163.7,502.9 L1162.6,502.5 L1161.5,502.0 L1160.4,502.1 L1159.3,502.2 L1158.2,502.3 L1157.1,502.3 L1156.0,502.2 L1154.9,502.1 L1153.8,502.0 L1152.7,502.3 L1151.6,502.2 L1150.5,502.2 L1149.4,502.5 L1148.3,502.3 L1147.2,502.1 L1146.1,502.3 L1145.0,502.2 L1143.9,502.1 L1142.8,502.2 L1141.7,502.2 L1140.6,502.2 L1139.5,502.0 L1138.4,501.8 L1137.3,501.9 L1136.2,501.9 L1135.1,501.6 L1134.0,502.2 L1132.9,502.4 L1131.8,502.4 L1130.7,502.4 L1129.6,502.4 L1128.5,502.2 L1127.4,502.3 L1126.3,502.3 L1125.2,502.0 L1124.1,502.0 L1123.0,501.8 L1121.9,501.5 L1120.8,501.6 L1119.7,502.0 L1118.6,501.6 L1117.5,502.1 L1116.4,502.1 L1115.3,501.8 L1114.2,502.0 L1113.1,501.7 L1112.0,501.7 L1110.9,501.9 L1109.8,502.1 L1108.7,502.3 L1107.6,502.1 L1106.5,502.3 L1105.4,501.7 L1104.3,501.8 L1103.2,501.5 L1102.1,501.8 L1101.0,502.0 L1099.9,502.1 L1098.8,502.0 L1097.7,502.2 L1096.6,502.1 L1095.5,502.0 L1094.4,501.9 L1093.3,501.6 L1092.2,501.6 L1091.1,501.8 L1090.0,501.8 L1088.9,502.2 L1087.8,502.3 L1086.7,502.0 L1085.6,501.9 L1084.5,501.9 L1083.4,501.7 L1082.3,501.8 L1081.2,501.7 L1080.1,501.5 L1079.0,501.4 L1077.9,501.5 L1076.8,501.5 L1075.7,501.5 L1074.6,501.6 L1073.5,501.7 L1072.4,501.7 L1071.3,501.9 L1070.2,501.7 L1069.1,501.6 L1068.0,501.6 L1066.9,501.4 L1065.8,501.7 L1064.7,501.4 L1063.6,501.4 L1062.5,501.6 L1061.4,501.5 L1060.3,501.5 L1059.2,501.5 L1058.1,501.3 L1057.0,501.6 L1055.9,501.2 L1054.8,501.4 L1053.7,501.6 L1052.6,501.7 L1051.5,501.6 L1050.4,501.5 L1049.3,501.4 L1048.2,501.6 L1047.1,501.6 L1046.0,501.5 L1044.9,501.6 L1043.8,501.4 L1042.7,501.3 L1041.6,501.4 L1040.5,501.3 L1039.4,501.3 L1038.3,501.4 L1037.2,501.5 L1036.1,501.3 L1035.0,501.3 L1033.9,501.2 L1032.8,501.0 L1031.7,500.8 L1030.6,500.7 L1029.5,500.7 L1028.4,500.5 L1027.3,500.6 L1026.2,500.5 L1025.1,500.8 L1024.0,500.7 L1022.9,500.7 L1021.8,500.6 L1020.7,500.6 L1019.6,500.5 L1018.5,500.3 L1017.4,500.3 L1016.3,500.2 L1015.2,500.0 L1014.1,499.9 L1013.0,499.9 L1011.9,500.0 L1010.8,499.7 L1009.7,499.8 L1008.6,499.6 L1007.5,499.4 L1006.4,499.3 L1005.3,499.4 L1004.2,499.3 L1003.1,499.2 L1002.0,499.1 L1000.9,499.0 L999.8,499.0 L998.7,498.8 L997.6,498.8 L996.5,498.6 L995.4,498.5 L994.3,498.4 L993.2,498.4 L992.1,498.0 L991.0,497.9 L989.9,497.9 L988.8,497.8 L987.7,497.4 L986.6,497.3 L985.5,497.3 L984.4,497.1 L983.3,496.8 L982.2,496.5 L981.1,496.3 L980.0,496.1 L978.9,495.9 L977.8,495.7 L976.7,495.6 L975.6,495.3 L974.5,495.1 L973.4,494.8 L972.3,494.6 L971.2,494.3 L970.1,494.1 L969.0,493.8 L967.9,493.6 L966.8,493.3 L965.7,492.9 L964.6,492.5 L963.5,492.0 L962.4,491.6 L961.3,491.1 L960.2,490.6 L959.1,490.3 L958.0,489.9 L956.9,489.3 L955.8,488.5 L954.7,487.7 L953.6,487.0 L952.5,486.0 L951.4,485.1 L950.3,484.1 L949.2,482.8 L948.1,481.3 L947.0,479.6 L945.9,477.7 L944.8,475.8 L943.7,473.8 L942.6,471.2 L941.5,468.1 L940.4,464.2 L939.3,459.8 L938.2,454.4 L937.1,445.1Z" fill="#808080" stroke="#808080" stroke-width="1.8" stroke-linejoin="round"/>
<path d="M883.0,526.6 L886.0,526.8 L892.0,528.0 L901.0,529.8 L910.0,530.2 L937.3,530.2 L937.1,510.1" fill="none" stroke="#3cb371" stroke-width="2.0" stroke-linejoin="round" stroke-linecap="butt" />
<path d="M937.1,509.9 L938.2,509.2 L939.3,508.1 L940.4,506.4 L941.5,504.9 L942.6,503.2 L943.7,501.5 L944.8,499.8 L945.9,498.2 L947.0,496.7 L948.1,495.4 L949.2,494.1 L950.3,492.7 L951.4,491.3 L952.5,489.7 L953.6,488.4 L954.7,487.1 L955.8,486.0 L956.9,484.9 L958.0,483.8 L959.1,482.8 L960.2,481.6 L961.3,480.6 L962.4,479.6 L963.5,478.6 L964.6,477.6 L965.7,476.8 L966.8,475.9 L967.9,475.2 L969.0,474.4 L970.1,473.8 L971.2,473.2 L972.3,472.6 L973.4,472.0 L974.5,471.5 L975.6,471.1 L976.7,470.6 L977.8,470.0 L978.9,469.7 L980.0,469.3 L981.1,468.8 L982.2,468.5 L983.3,468.1 L984.4,467.8 L985.5,467.6 L986.6,467.3 L987.7,467.0 L988.8,466.9 L989.9,466.7 L991.0,466.4 L992.1,466.3 L993.2,466.0 L994.3,465.8 L995.4,465.7 L996.5,465.7 L997.6,465.4 L998.7,465.3 L999.8,465.3 L1000.9,465.3 L1002.0,465.1 L1003.1,465.2 L1004.2,465.4 L1005.3,465.3 L1006.4,465.4 L1007.5,465.1 L1008.6,465.0 L1009.7,464.7 L1010.8,465.1 L1011.9,465.3 L1013.0,465.5 L1014.1,465.8 L1015.2,466.0 L1016.3,466.3 L1017.4,466.7 L1018.5,467.1 L1019.6,467.1 L1020.7,467.1 L1021.8,466.9 L1022.9,466.9 L1024.0,467.1 L1025.1,467.2 L1026.2,467.0 L1027.3,466.8 L1028.4,467.0 L1029.5,467.3 L1030.6,467.0 L1031.7,467.0 L1032.8,467.0 L1033.9,466.4 L1035.0,466.0 L1036.1,466.2 L1037.2,466.4 L1038.3,466.3 L1039.4,466.9 L1040.5,467.0 L1041.6,467.5 L1042.7,467.0 L1043.8,466.7 L1044.9,466.2 L1046.0,466.0 L1047.1,465.9 L1048.2,466.2 L1049.3,466.1 L1050.4,466.2 L1051.5,466.0 L1052.6,466.0 L1053.7,466.0 L1054.8,466.1 L1055.9,465.8 L1057.0,466.2 L1058.1,465.9 L1059.2,465.6 L1060.3,465.3 L1061.4,464.6 L1062.5,464.5 L1063.6,464.1 L1064.7,464.4 L1065.8,464.7 L1066.9,465.0 L1068.0,465.1 L1069.1,465.1 L1070.2,465.4 L1071.3,465.5 L1072.4,465.2 L1073.5,464.7 L1074.6,464.4 L1075.7,464.6 L1076.8,464.0 L1077.9,464.2 L1079.0,464.5 L1080.1,465.0 L1081.2,465.1 L1082.3,465.3 L1083.4,465.2 L1084.5,464.8 L1085.6,464.7 L1086.7,464.9 L1087.8,465.0 L1088.9,464.8 L1090.0,464.4 L1091.1,464.6 L1092.2,464.8 L1093.3,465.0 L1094.4,465.1 L1095.5,465.8 L1096.6,465.5 L1097.7,465.2 L1098.8,465.3 L1099.9,464.4 L1101.0,463.9 L1102.1,463.1 L1103.2,463.3 L1104.3,462.8 L1105.4,462.7 L1106.5,463.1 L1107.6,463.1 L1108.7,463.3 L1109.8,464.4 L1110.9,464.5 L1112.0,464.2 L1113.1,463.8 L1114.2,463.4 L1115.3,463.1 L1116.4,463.5 L1117.5,464.0 L1118.6,464.4 L1119.7,465.3 L1120.8,465.4 L1121.9,465.8 L1123.0,465.7 L1124.1,465.2 L1125.2,464.5 L1126.3,464.7 L1127.4,464.4 L1128.5,463.7 L1129.6,463.5 L1130.7,463.6 L1131.8,463.7 L1132.9,463.4 L1134.0,463.3 L1135.1,463.5 L1136.2,463.1 L1137.3,463.4 L1138.4,462.6 L1139.5,462.2 L1140.6,462.3 L1141.7,462.5 L1142.8,462.5 L1143.9,462.9 L1145.0,463.3 L1146.1,463.7 L1147.2,463.4 L1148.3,463.1 L1149.4,463.0 L1150.5,463.0 L1151.6,462.9 L1152.7,463.1 L1153.8,462.7 L1154.9,462.6 L1156.0,462.8 L1157.1,462.9 L1158.2,463.1 L1159.3,463.8 L1160.4,463.7 L1161.5,463.7 L1162.6,463.8 L1163.7,463.1 L1164.8,463.0 L1165.9,462.4 L1167.0,462.2 L1168.1,462.0 L1169.2,462.0 L1170.3,462.1 L1171.4,462.1 L1172.5,462.0 L1173.6,462.1 L1174.7,462.5 L1175.8,462.4 L1176.9,462.8 L1178.0,462.9 L1179.1,463.5 L1180.2,464.1 L1181.3,464.5 L1182.4,464.9 L1183.5,464.6 L1184.6,464.5 L1185.7,463.7 L1186.8,463.6 L1187.9,463.4 L1189.0,463.5 L1190.1,463.6 L1191.2,463.0 L1192.3,462.8 L1193.4,463.3 L1194.5,463.8 L1195.6,463.9 L1196.7,464.5 L1197.8,464.2 L1198.9,464.3 L1200.0,464.6 L1201.1,464.0 L1202.2,464.1 L1203.3,463.7 L1204.4,463.6 L1205.5,463.6 L1206.6,463.6 L1207.7,463.6 L1208.8,463.2 L1209.9,463.6 L1211.0,463.8 L1212.1,463.7 L1213.2,463.3 L1214.3,463.0 L1215.4,462.8 L1216.5,462.8 L1217.6,463.2 L1218.7,463.6 L1219.8,463.7 L1220.9,463.2 L1222.0,463.2 L1223.1,463.3 L1224.2,463.9 L1225.3,464.5 L1226.4,464.3 L1227.5,464.1 L1228.6,464.1 L1229.7,464.3 L1230.8,463.6 L1231.9,464.1 L1233.0,463.9 L1234.1,464.1 L1235.2,463.3 L1236.3,463.9 L1237.4,463.9 L1238.5,464.0 L1239.6,464.2 L1240.7,463.9 L1241.8,464.8 L1242.9,465.3 L1244.0,464.6 L1245.1,464.6 L1246.2,464.0 L1247.3,463.9 L1248.4,463.4 L1249.5,463.1 L1250.6,464.7 L1251.7,464.9 L1252.8,465.0 L1253.9,463.9 L1255.0,463.7 L1256.1,463.5 L1257.2,463.8 L1258.3,462.8 L1259.4,462.7 L1260.5,462.3 L1261.6,462.5 L1262.7,462.4 L1263.8,462.5 L1264.9,462.4 L1266.0,462.3 L1267.1,463.1 L1268.2,462.5 L1269.3,462.5 L1270.4,461.9 L1271.5,461.9 L1272.6,462.2 L1273.7,462.6 L1274.8,463.0 L1275.9,463.6 L1277.0,463.3 L1278.1,462.4 L1279.2,462.6 L1280.3,462.7 L1281.4,463.6 L1282.5,462.8 L1283.6,462.6 L1284.7,461.8 L1285.8,461.5 L1286.9,461.2 L1288.0,460.9 L1289.1,461.3 L1290.2,461.7 L1291.3,461.9 L1292.4,462.3 L1293.5,463.3 L1294.6,463.3 L1295.7,462.9 L1296.8,463.4 L1297.9,462.0 L1299.0,461.9 L1300.1,460.8 L1301.2,461.7 L1302.3,461.9 L1303.4,461.9 L1304.5,462.2 L1305.6,461.8 L1306.7,462.1 L1307.8,462.5 L1308.9,462.5 L1310.0,462.5 L1311.1,461.9 L1312.2,461.2 L1313.3,460.8 L1314.4,460.8 L1315.5,460.2 L1316.6,460.5 L1317.7,460.2 L1318.8,460.3 L1319.9,459.6 L1321.0,459.4 L1322.1,458.8 L1323.2,459.4 L1324.3,458.2 L1325.4,458.5 L1326.5,458.3 L1327.6,459.0 L1328.7,459.1 L1329.8,459.2 L1330.9,458.4 L1332.0,458.1 L1333.1,458.5 L1334.2,458.2 L1335.3,458.1 L1336.4,456.9 L1337.5,458.1 L1338.6,458.0 L1339.7,458.2 L1340.8,457.4 L1341.9,457.5 L1343.0,457.0 L1344.1,457.7 L1345.2,458.5 L1346.3,458.8 L1347.4,459.8 L1348.5,459.6 L1349.6,460.0 L1350.7,459.9 L1351.8,460.4 L1352.9,460.2 L1354.0,459.6 L1355.1,458.7 L1356.2,459.7 L1357.3,459.7 L1358.4,459.4 L1359.5,459.2 L1360.6,459.0 L1361.7,458.5 L1362.8,458.8 L1363.9,458.3 L1365.0,459.0 L1366.1,458.7 L1367.2,457.9 L1368.3,457.9 L1369.4,457.2 L1370.5,457.3 L1371.6,456.2 L1372.7,457.5 L1373.8,458.3 L1374.9,458.0 L1376.0,458.7 L1377.1,458.2 L1378.2,458.5 L1379.3,458.3 L1380.4,458.1 L1381.5,458.0 L1382.6,458.5 L1383.7,457.1 L1384.8,457.4 L1385.9,457.4 L1387.0,456.7 L1388.1,456.2 L1389.2,456.4 L1390.3,455.1 L1391.4,455.8 L1392.5,455.2 L1393.6,454.1 L1394.7,454.8 L1395.8,454.9 L1396.9,455.2 L1398.0,455.4 L1399.1,456.1 L1400.2,455.7 L1401.3,455.8 L1402.4,457.2 L1403.5,457.1 L1404.6,457.7 L1405.7,457.2 L1406.8,456.4 L1407.9,456.6 L1409.0,456.4 L1410.1,455.9 L1411.2,456.0 L1412.3,455.9 L1413.4,454.8 L1414.5,454.2 L1415.6,455.4 L1416.7,455.4 L1417.8,456.7 L1418.9,455.7 L1420.0,456.1 L1421.1,456.3 L1422.2,457.1 L1423.3,457.0 L1424.4,456.7 L1425.5,457.0 L1426.6,456.7 L1427.7,456.1 L1428.8,454.8 L1429.9,455.7 L1431.0,455.2 L1432.1,455.6 L1433.2,455.8 L1434.3,455.1 L1435.4,454.8 L1436.5,455.0 L1437.6,454.2 L1438.7,454.6 L1439.8,455.2 L1440.9,454.8 L1442.0,454.8 L1443.1,454.1 L1444.2,453.6 L1445.3,453.4 L1446.4,453.6 L1447.5,454.0 L1448.6,453.9 L1449.7,454.2 L1450.8,454.4 L1451.9,454.3 L1453.0,455.1 L1454.1,455.0 L1455.2,455.7 L1456.3,455.1 L1457.4,455.5 L1458.5,454.7 L1459.6,454.8 L1460.7,453.4 L1461.8,453.0 L1462.9,452.4 L1464.0,452.0 L1465.1,451.5 L1466.2,452.3 L1467.3,451.5 L1468.4,452.3 L1469.5,451.9 L1470.6,451.6 L1471.7,452.0 L1472.8,451.4 L1473.9,451.1 L1475.0,451.4 L1476.1,452.6 L1477.2,452.6 L1478.3,452.6 L1479.4,452.6 L1480.5,452.3 L1481.6,451.6 L1482.7,452.1 L1483.8,450.7 L1484.9,450.0 L1486.0,449.7 L1487.1,451.2 L1488.2,451.4 L1489.3,451.0 L1490.4,452.1 L1491.5,452.1 L1492.6,452.0 L1493.7,451.8 L1494.8,452.4 L1495.9,452.5 L1497.0,452.3 L1498.1,451.8 L1499.2,451.5 L1500.3,451.3 L1501.4,451.3 L1502.5,450.4 L1503.6,450.5 L1504.7,451.0 L1505.8,451.3 L1506.9,451.6 L1508.0,451.5 L1509.1,451.7 L1510.2,451.8 L1511.3,451.7 L1512.4,451.9 L1513.5,451.9 L1514.6,451.3 L1515.7,451.6 L1516.8,451.5 L1517.9,451.8 L1519.0,451.2 L1520.1,451.3 L1521.2,452.2 L1522.3,452.1 L1523.4,452.5 L1524.5,453.0 L1525.6,452.8 L1526.7,452.2 L1527.8,451.2 L1528.9,450.9 L1530.0,451.7 L1531.1,451.9 L1532.2,451.5 L1533.3,452.5 L1534.4,452.8 L1535.5,451.8 L1536.6,452.7 L1537.7,452.1 L1538.8,452.1 L1539.9,452.5 L1541.0,452.5 L1542.1,451.7 L1543.2,451.7 L1544.3,451.8 L1545.4,451.5 L1546.5,452.3 L1547.6,452.1 L1548.7,452.1 L1549.8,451.4 L1550.9,450.7 L1552.0,450.8 L1553.1,450.7 L1554.2,450.7 L1555.3,450.6 L1556.4,450.5 L1557.5,450.3 L1558.6,450.7 L1559.7,450.3 L1560.8,450.7 L1561.9,450.1 L1563.0,450.7 L1564.1,450.6 L1565.2,451.1 L1566.3,451.0 L1567.4,450.3 L1568.5,450.1 L1569.6,450.4 L1570.7,450.2 L1571.8,450.7 L1572.9,450.9 L1574.0,451.9 L1575.1,452.5 L1576.2,452.6 L1577.3,452.6 L1578.4,452.7 L1579.5,451.9 L1580.6,453.4 L1581.7,452.6 L1582.8,452.9 L1583.9,451.6 L1585.0,451.8 L1586.1,452.4 L1587.2,453.3 L1588.3,453.2 L1589.4,454.2 L1590.5,454.0 L1591.6,454.0 L1592.7,453.0 L1593.8,452.7 L1594.9,453.2 L1596.0,452.6 L1597.1,451.9 L1598.2,453.1 L1599.3,452.4 L1600.4,452.3 L1601.5,453.0 L1602.6,454.0 L1603.7,454.9 L1604.8,455.1 L1605.9,454.7 L1607.0,454.9 L1608.1,454.4 L1609.2,455.1 L1610.3,454.9 L1611.4,455.4 L1612.5,455.1 L1613.6,455.1 L1614.7,453.8 L1615.8,455.1 L1616.9,454.8 L1618.0,456.4 L1619.1,455.4 L1620.2,455.8 L1621.3,454.6 L1622.4,454.9 L1623.5,455.1 L1624.6,454.2 L1625.7,454.3 L1626.8,452.5 L1627.9,450.6 L1629.0,449.8 L1630.1,450.1 L1631.2,450.0 L1632.3,449.8 L1633.4,449.9 L1634.5,449.7 L1635.6,449.1 L1636.7,448.5 L1637.8,449.4 L1638.9,448.8 L1640.0,449.1 L1640.0,450.6 L1638.9,450.6 L1637.8,450.3 L1636.7,450.3 L1635.6,450.2 L1634.5,451.3 L1633.4,452.2 L1632.3,451.7 L1631.2,451.9 L1630.1,451.9 L1629.0,451.4 L1627.9,453.3 L1626.8,454.7 L1625.7,455.6 L1624.6,456.1 L1623.5,456.5 L1622.4,456.4 L1621.3,456.8 L1620.2,456.6 L1619.1,457.4 L1618.0,457.1 L1616.9,457.2 L1615.8,456.0 L1614.7,455.8 L1613.6,457.0 L1612.5,456.5 L1611.4,457.0 L1610.3,456.9 L1609.2,457.0 L1608.1,456.5 L1607.0,456.8 L1605.9,456.4 L1604.8,456.6 L1603.7,455.8 L1602.6,455.4 L1601.5,454.5 L1600.4,454.8 L1599.3,454.2 L1598.2,454.1 L1597.1,454.2 L1596.0,453.8 L1594.9,454.2 L1593.8,453.8 L1592.7,454.3 L1591.6,455.5 L1590.5,455.5 L1589.4,454.7 L1588.3,454.9 L1587.2,454.6 L1586.1,453.9 L1585.0,453.9 L1583.9,454.2 L1582.8,454.4 L1581.7,454.8 L1580.6,453.9 L1579.5,454.0 L1578.4,453.7 L1577.3,454.5 L1576.2,454.4 L1575.1,453.5 L1574.0,452.8 L1572.9,452.4 L1571.8,452.6 L1570.7,452.2 L1569.6,452.3 L1568.5,452.5 L1567.4,452.1 L1566.3,452.6 L1565.2,452.9 L1564.1,453.1 L1563.0,452.7 L1561.9,451.6 L1560.8,451.5 L1559.7,452.1 L1558.6,452.2 L1557.5,452.8 L1556.4,452.1 L1555.3,452.1 L1554.2,452.7 L1553.1,452.5 L1552.0,452.9 L1550.9,453.0 L1549.8,452.6 L1548.7,452.7 L1547.6,453.8 L1546.5,453.8 L1545.4,453.5 L1544.3,453.8 L1543.2,452.7 L1542.1,453.6 L1541.0,453.9 L1539.9,454.3 L1538.8,453.7 L1537.7,453.5 L1536.6,453.5 L1535.5,454.3 L1534.4,453.8 L1533.3,454.4 L1532.2,453.5 L1531.1,453.4 L1530.0,453.1 L1528.9,453.1 L1527.8,453.3 L1526.7,453.4 L1525.6,454.8 L1524.5,455.3 L1523.4,454.4 L1522.3,454.5 L1521.2,453.0 L1520.1,452.8 L1519.0,452.5 L1517.9,452.4 L1516.8,453.6 L1515.7,453.1 L1514.6,452.9 L1513.5,453.7 L1512.4,453.9 L1511.3,453.4 L1510.2,453.4 L1509.1,453.5 L1508.0,453.1 L1506.9,453.5 L1505.8,452.6 L1504.7,451.8 L1503.6,452.5 L1502.5,452.4 L1501.4,453.3 L1500.3,453.3 L1499.2,453.1 L1498.1,453.6 L1497.0,454.0 L1495.9,454.0 L1494.8,453.4 L1493.7,453.6 L1492.6,453.0 L1491.5,452.9 L1490.4,452.5 L1489.3,453.3 L1488.2,453.2 L1487.1,452.1 L1486.0,451.3 L1484.9,451.7 L1483.8,452.4 L1482.7,452.5 L1481.6,454.1 L1480.5,453.6 L1479.4,453.6 L1478.3,454.0 L1477.2,454.0 L1476.1,453.4 L1475.0,453.1 L1473.9,453.2 L1472.8,452.6 L1471.7,453.6 L1470.6,453.8 L1469.5,453.0 L1468.4,453.7 L1467.3,453.9 L1466.2,453.7 L1465.1,453.7 L1464.0,453.9 L1462.9,454.1 L1461.8,455.2 L1460.7,456.0 L1459.6,455.6 L1458.5,455.9 L1457.4,456.4 L1456.3,457.2 L1455.2,457.0 L1454.1,456.8 L1453.0,456.1 L1451.9,456.1 L1450.8,456.7 L1449.7,456.3 L1448.6,455.6 L1447.5,455.7 L1446.4,455.2 L1445.3,454.7 L1444.2,455.9 L1443.1,455.2 L1442.0,456.4 L1440.9,456.4 L1439.8,456.5 L1438.7,456.1 L1437.6,456.5 L1436.5,456.1 L1435.4,456.8 L1434.3,456.8 L1433.2,456.8 L1432.1,457.1 L1431.0,457.6 L1429.9,456.7 L1428.8,456.9 L1427.7,456.9 L1426.6,457.9 L1425.5,457.9 L1424.4,458.2 L1423.3,458.1 L1422.2,458.4 L1421.1,458.3 L1420.0,458.2 L1418.9,458.0 L1417.8,458.1 L1416.7,457.5 L1415.6,456.7 L1414.5,456.0 L1413.4,456.2 L1412.3,457.0 L1411.2,457.0 L1410.1,457.7 L1409.0,458.1 L1407.9,458.3 L1406.8,458.2 L1405.7,458.8 L1404.6,458.3 L1403.5,458.7 L1402.4,458.4 L1401.3,458.3 L1400.2,457.9 L1399.1,457.1 L1398.0,457.8 L1396.9,456.6 L1395.8,455.8 L1394.7,456.0 L1393.6,455.8 L1392.5,456.2 L1391.4,456.9 L1390.3,457.2 L1389.2,458.0 L1388.1,458.6 L1387.0,458.5 L1385.9,458.7 L1384.8,459.2 L1383.7,459.1 L1382.6,459.1 L1381.5,459.5 L1380.4,459.8 L1379.3,459.3 L1378.2,459.1 L1377.1,459.9 L1376.0,460.5 L1374.9,459.9 L1373.8,459.0 L1372.7,458.2 L1371.6,458.7 L1370.5,458.3 L1369.4,458.2 L1368.3,458.8 L1367.2,460.1 L1366.1,460.4 L1365.0,459.9 L1363.9,459.8 L1362.8,460.2 L1361.7,460.5 L1360.6,460.7 L1359.5,460.3 L1358.4,460.5 L1357.3,460.9 L1356.2,461.3 L1355.1,460.9 L1354.0,461.0 L1352.9,461.0 L1351.8,461.3 L1350.7,461.6 L1349.6,461.5 L1348.5,461.4 L1347.4,461.3 L1346.3,460.9 L1345.2,459.3 L1344.1,458.8 L1343.0,459.3 L1341.9,458.7 L1340.8,459.2 L1339.7,458.7 L1338.6,459.8 L1337.5,459.5 L1336.4,458.7 L1335.3,458.7 L1334.2,459.7 L1333.1,459.7 L1332.0,460.3 L1330.9,460.7 L1329.8,461.2 L1328.7,460.5 L1327.6,460.3 L1326.5,460.0 L1325.4,460.5 L1324.3,460.4 L1323.2,460.1 L1322.1,461.0 L1321.0,461.4 L1319.9,461.5 L1318.8,461.5 L1317.7,461.6 L1316.6,461.9 L1315.5,461.3 L1314.4,461.8 L1313.3,462.5 L1312.2,463.0 L1311.1,463.9 L1310.0,464.5 L1308.9,464.8 L1307.8,464.3 L1306.7,463.5 L1305.6,463.9 L1304.5,463.3 L1303.4,463.9 L1302.3,463.6 L1301.2,463.3 L1300.1,462.5 L1299.0,463.3 L1297.9,463.7 L1296.8,464.8 L1295.7,465.3 L1294.6,465.0 L1293.5,464.5 L1292.4,463.7 L1291.3,463.4 L1290.2,462.6 L1289.1,462.8 L1288.0,462.5 L1286.9,462.5 L1285.8,463.7 L1284.7,463.7 L1283.6,464.4 L1282.5,464.4 L1281.4,464.6 L1280.3,464.5 L1279.2,463.9 L1278.1,464.4 L1277.0,464.7 L1275.9,465.1 L1274.8,464.0 L1273.7,463.7 L1272.6,463.8 L1271.5,463.2 L1270.4,463.4 L1269.3,463.8 L1268.2,463.6 L1267.1,463.8 L1266.0,463.9 L1264.9,463.6 L1263.8,463.3 L1262.7,464.0 L1261.6,463.7 L1260.5,463.5 L1259.4,464.1 L1258.3,464.8 L1257.2,464.7 L1256.1,465.0 L1255.0,465.2 L1253.9,465.2 L1252.8,465.7 L1251.7,465.8 L1250.6,465.2 L1249.5,465.1 L1248.4,464.9 L1247.3,465.0 L1246.2,465.5 L1245.1,465.5 L1244.0,466.2 L1242.9,466.6 L1241.8,466.2 L1240.7,465.0 L1239.6,465.4 L1238.5,464.7 L1237.4,465.2 L1236.3,464.8 L1235.2,464.8 L1234.1,464.9 L1233.0,464.9 L1231.9,464.8 L1230.8,465.5 L1229.7,465.0 L1228.6,465.8 L1227.5,465.9 L1226.4,465.6 L1225.3,465.2 L1224.2,465.4 L1223.1,464.4 L1222.0,464.1 L1220.9,464.9 L1219.8,464.3 L1218.7,464.6 L1217.6,464.5 L1216.5,464.5 L1215.4,464.2 L1214.3,464.5 L1213.2,464.2 L1212.1,464.4 L1211.0,464.7 L1209.9,464.8 L1208.8,464.8 L1207.7,464.8 L1206.6,464.8 L1205.5,465.3 L1204.4,465.2 L1203.3,464.9 L1202.2,465.3 L1201.1,465.6 L1200.0,465.4 L1198.9,465.8 L1197.8,465.8 L1196.7,465.2 L1195.6,464.7 L1194.5,464.6 L1193.4,464.8 L1192.3,464.1 L1191.2,463.9 L1190.1,464.4 L1189.0,465.1 L1187.9,465.0 L1186.8,464.4 L1185.7,465.0 L1184.6,465.5 L1183.5,466.0 L1182.4,465.9 L1181.3,465.5 L1180.2,464.5 L1179.1,464.6 L1178.0,464.3 L1176.9,463.4 L1175.8,463.1 L1174.7,462.9 L1173.6,463.2 L1172.5,462.9 L1171.4,463.4 L1170.3,463.0 L1169.2,462.5 L1168.1,462.6 L1167.0,463.0 L1165.9,463.7 L1164.8,463.8 L1163.7,464.4 L1162.6,464.6 L1161.5,465.1 L1160.4,465.0 L1159.3,464.5 L1158.2,464.6 L1157.1,463.6 L1156.0,463.2 L1154.9,463.8 L1153.8,463.6 L1152.7,464.0 L1151.6,464.1 L1150.5,464.0 L1149.4,464.4 L1148.3,464.4 L1147.2,464.7 L1146.1,464.7 L1145.0,464.1 L1143.9,464.1 L1142.8,463.3 L1141.7,463.5 L1140.6,463.4 L1139.5,463.0 L1138.4,464.0 L1137.3,463.8 L1136.2,464.5 L1135.1,464.3 L1134.0,464.3 L1132.9,464.6 L1131.8,464.1 L1130.7,464.3 L1129.6,464.1 L1128.5,464.9 L1127.4,465.2 L1126.3,465.1 L1125.2,465.5 L1124.1,466.0 L1123.0,466.7 L1121.9,466.1 L1120.8,466.0 L1119.7,465.6 L1118.6,465.5 L1117.5,464.5 L1116.4,464.7 L1115.3,463.9 L1114.2,464.3 L1113.1,464.3 L1112.0,464.7 L1110.9,465.3 L1109.8,464.7 L1108.7,464.5 L1107.6,464.1 L1106.5,463.6 L1105.4,463.7 L1104.3,463.6 L1103.2,463.9 L1102.1,463.8 L1101.0,464.4 L1099.9,465.2 L1098.8,465.9 L1097.7,466.2 L1096.6,466.6 L1095.5,466.6 L1094.4,465.9 L1093.3,465.5 L1092.2,465.5 L1091.1,465.1 L1090.0,465.2 L1088.9,465.6 L1087.8,465.5 L1086.7,465.9 L1085.6,465.4 L1084.5,465.5 L1083.4,465.5 L1082.3,465.6 L1081.2,465.8 L1080.1,465.8 L1079.0,465.0 L1077.9,464.6 L1076.8,464.7 L1075.7,465.0 L1074.6,465.2 L1073.5,465.3 L1072.4,465.7 L1071.3,466.1 L1070.2,465.8 L1069.1,465.6 L1068.0,465.7 L1066.9,465.8 L1065.8,465.4 L1064.7,465.3 L1063.6,465.0 L1062.5,464.9 L1061.4,464.8 L1060.3,465.8 L1059.2,466.4 L1058.1,466.9 L1057.0,466.8 L1055.9,466.7 L1054.8,466.4 L1053.7,466.8 L1052.6,466.5 L1051.5,466.4 L1050.4,466.9 L1049.3,466.9 L1048.2,466.8 L1047.1,466.5 L1046.0,466.7 L1044.9,466.9 L1043.8,467.3 L1042.7,467.5 L1041.6,467.8 L1040.5,467.8 L1039.4,467.3 L1038.3,466.8 L1037.2,466.6 L1036.1,466.6 L1035.0,466.4 L1033.9,467.0 L1032.8,467.2 L1031.7,467.4 L1030.6,467.7 L1029.5,467.8 L1028.4,467.3 L1027.3,467.4 L1026.2,467.5 L1025.1,467.5 L1024.0,467.5 L1022.9,467.5 L1021.8,467.6 L1020.7,467.5 L1019.6,467.4 L1018.5,467.3 L1017.4,467.3 L1016.3,466.7 L1015.2,466.4 L1014.1,466.1 L1013.0,466.1 L1011.9,465.7 L1010.8,465.3 L1009.7,465.1 L1008.6,465.2 L1007.5,465.5 L1006.4,465.6 L1005.3,465.9 L1004.2,465.6 L1003.1,465.6 L1002.0,465.6 L1000.9,465.6 L999.8,465.6 L998.7,465.9 L997.6,465.8 L996.5,466.0 L995.4,466.0 L994.3,466.1 L993.2,466.3 L992.1,466.5 L991.0,466.7 L989.9,466.9 L988.8,467.0 L987.7,467.2 L986.6,467.5 L985.5,467.9 L984.4,468.2 L983.3,468.6 L982.2,468.8 L981.1,469.2 L980.0,469.6 L978.9,470.0 L977.8,470.4 L976.7,470.8 L975.6,471.4 L974.5,471.9 L973.4,472.5 L972.3,473.0 L971.2,473.5 L970.1,474.1 L969.0,474.7 L967.9,475.4 L966.8,476.1 L965.7,476.9 L964.6,477.8 L963.5,478.8 L962.4,479.8 L961.3,480.8 L960.2,482.0 L959.1,483.0 L958.0,484.1 L956.9,485.1 L955.8,486.2 L954.7,487.4 L953.6,488.6 L952.5,490.1 L951.4,491.5 L950.3,492.9 L949.2,494.3 L948.1,495.6 L947.0,497.0 L945.9,498.4 L944.8,500.1 L943.7,501.8 L942.6,503.4 L941.5,505.1 L940.4,506.6 L939.3,508.4 L938.2,509.4 L937.1,510.3Z" fill="#3cb371" stroke="#3cb371" stroke-width="1.9" stroke-linejoin="round"/>
<path d="M881.0,535.5 L936.3,535.5 L936.6,533.0" fill="none" stroke="#0000ff" stroke-width="1.5" stroke-linejoin="round" stroke-linecap="butt" />
<path d="M936.6,532.6 L937.5,532.2 L938.4,532.5 L939.3,532.6 L940.2,532.3 L941.1,532.4 L942.0,532.2 L942.9,532.5 L943.8,532.4 L944.7,532.3 L945.6,532.5 L946.5,532.6 L947.4,532.6 L948.3,532.6 L949.2,532.3 L950.1,532.4 L951.0,532.5 L951.9,532.3 L952.8,532.3 L953.7,532.3 L954.6,532.6 L955.5,532.4 L956.4,532.2 L957.3,532.2 L958.2,532.4 L959.1,532.4 L960.0,532.3 L960.9,532.5 L961.8,532.4 L962.7,532.4 L963.6,532.3 L964.5,532.2 L965.4,532.7 L966.3,532.3 L967.2,532.4 L968.1,532.5 L969.0,532.4 L969.9,532.2 L970.8,532.3 L971.7,532.3 L972.6,532.5 L973.5,532.5 L974.4,532.2 L975.3,532.5 L976.2,532.6 L977.1,532.6 L978.0,532.5 L978.9,532.2 L979.8,532.6 L980.7,532.2 L981.6,532.4 L982.5,532.5 L983.4,532.6 L984.3,532.3 L985.2,532.6 L986.1,532.7 L987.0,532.7 L987.9,532.6 L988.8,532.2 L989.7,532.2 L990.6,532.6 L991.5,532.3 L992.4,532.4 L993.3,532.7 L994.2,532.6 L995.1,532.3 L996.0,532.5 L996.9,532.5 L997.8,532.3 L998.7,532.4 L999.6,532.3 L1000.5,532.3 L1001.4,532.3 L1002.3,532.5 L1003.2,532.5 L1004.1,532.2 L1005.0,532.4 L1005.9,532.3 L1006.8,532.2 L1007.7,532.4 L1008.6,532.3 L1009.5,532.6 L1010.4,532.3 L1011.3,532.6 L1012.2,532.6 L1013.1,532.3 L1014.0,532.5 L1014.9,532.6 L1015.8,532.4 L1016.7,532.5 L1017.6,532.3 L1018.5,532.5 L1019.4,532.6 L1020.3,532.6 L1021.2,532.6 L1022.1,532.2 L1023.0,532.5 L1023.9,532.5 L1024.8,532.6 L1025.7,532.6 L1026.6,532.6 L1027.5,532.5 L1028.4,532.4 L1029.3,532.5 L1030.2,532.6 L1031.1,532.3 L1032.0,532.4 L1032.9,532.4 L1033.8,532.5 L1034.7,532.7 L1035.6,532.6 L1036.5,532.7 L1037.4,532.3 L1038.3,532.5 L1039.2,532.2 L1040.1,532.6 L1041.0,532.3 L1041.9,532.4 L1042.8,532.3 L1043.7,532.2 L1044.6,532.2 L1045.5,532.6 L1046.4,532.6 L1047.3,532.3 L1048.2,532.4 L1049.1,532.7 L1050.0,532.3 L1050.9,532.5 L1051.8,532.4 L1052.7,532.3 L1053.6,532.5 L1054.5,532.7 L1055.4,532.5 L1056.3,532.5 L1057.2,532.6 L1058.1,532.5 L1059.0,532.7 L1059.9,532.6 L1060.8,532.5 L1061.7,532.5 L1062.6,532.2 L1063.5,532.2 L1064.4,532.5 L1065.3,532.3 L1066.2,532.3 L1067.1,532.6 L1068.0,532.7 L1068.9,532.5 L1069.8,532.6 L1070.7,532.4 L1071.6,532.3 L1072.5,532.7 L1073.4,532.3 L1074.3,532.3 L1075.2,532.3 L1076.1,532.6 L1077.0,532.2 L1077.9,532.5 L1078.8,532.6 L1079.7,532.5 L1080.6,532.4 L1081.5,532.5 L1082.4,532.2 L1083.3,532.7 L1084.2,532.7 L1085.1,532.4 L1086.0,532.7 L1086.9,532.3 L1087.8,532.3 L1088.7,532.3 L1089.6,532.4 L1090.5,532.5 L1091.4,532.5 L1092.3,532.2 L1093.2,532.4 L1094.1,532.4 L1095.0,532.6 L1095.9,532.5 L1096.8,532.3 L1097.7,532.3 L1098.6,532.6 L1099.5,532.4 L1100.4,532.5 L1101.3,532.6 L1102.2,532.6 L1103.1,532.4 L1104.0,532.6 L1104.9,532.7 L1105.8,532.7 L1106.7,532.5 L1107.6,532.2 L1108.5,532.6 L1109.4,532.4 L1110.3,532.3 L1111.2,532.5 L1112.1,532.3 L1113.0,532.5 L1113.9,532.6 L1114.8,532.5 L1115.7,532.5 L1116.6,532.6 L1117.5,532.2 L1118.4,532.7 L1119.3,532.3 L1120.2,532.6 L1121.1,532.4 L1122.0,532.3 L1122.9,532.4 L1123.8,532.6 L1124.7,532.6 L1125.6,532.3 L1126.5,532.5 L1127.4,532.4 L1128.3,532.3 L1129.2,532.4 L1130.1,532.3 L1131.0,532.4 L1131.9,532.6 L1132.8,532.5 L1133.7,532.2 L1134.6,532.4 L1135.5,532.5 L1136.4,532.3 L1137.3,532.6 L1138.2,532.3 L1139.1,532.6 L1140.0,532.2 L1140.9,532.2 L1141.8,532.4 L1142.7,532.3 L1143.6,532.4 L1144.5,532.3 L1145.4,532.6 L1146.3,532.5 L1147.2,532.3 L1148.1,532.4 L1149.0,532.2 L1149.9,532.5 L1150.8,532.5 L1151.7,532.2 L1152.6,532.6 L1153.5,532.5 L1154.4,532.5 L1155.3,532.5 L1156.2,532.2 L1157.1,532.3 L1158.0,532.3 L1158.9,532.4 L1159.8,532.7 L1160.7,532.6 L1161.6,532.4 L1162.5,532.4 L1163.4,532.2 L1164.3,532.5 L1165.2,532.3 L1166.1,532.3 L1167.0,532.7 L1167.9,532.5 L1168.8,532.3 L1169.7,532.7 L1170.6,532.2 L1171.5,532.6 L1172.4,532.2 L1173.3,532.7 L1174.2,532.6 L1175.1,532.4 L1176.0,532.3 L1176.9,532.3 L1177.8,532.3 L1178.7,532.6 L1179.6,532.3 L1180.5,532.2 L1181.4,532.5 L1182.3,532.6 L1183.2,532.5 L1184.1,532.4 L1185.0,532.5 L1185.9,532.4 L1186.8,532.3 L1187.7,532.6 L1188.6,532.3 L1189.5,532.5 L1190.4,532.5 L1191.3,532.3 L1192.2,532.4 L1193.1,532.2 L1194.0,532.3 L1194.9,532.5 L1195.8,532.4 L1196.7,532.2 L1197.6,532.4 L1198.5,532.3 L1199.4,532.6 L1200.3,532.3 L1201.2,532.2 L1202.1,532.4 L1203.0,532.4 L1203.9,532.2 L1204.8,532.6 L1205.7,532.4 L1206.6,532.3 L1207.5,532.6 L1208.4,532.2 L1209.3,532.2 L1210.2,532.4 L1211.1,532.3 L1212.0,532.5 L1212.9,532.4 L1213.8,532.3 L1214.7,532.3 L1215.6,532.7 L1216.5,532.6 L1217.4,532.3 L1218.3,532.7 L1219.2,532.6 L1220.1,532.6 L1221.0,532.7 L1221.9,532.5 L1222.8,532.3 L1223.7,532.7 L1224.6,532.5 L1225.5,532.3 L1226.4,532.5 L1227.3,532.3 L1228.2,532.7 L1229.1,532.5 L1230.0,532.2 L1230.9,532.4 L1231.8,532.5 L1232.7,532.3 L1233.6,532.6 L1234.5,532.5 L1235.4,532.5 L1236.3,532.3 L1237.2,532.5 L1238.1,532.3 L1239.0,532.7 L1239.9,532.5 L1240.8,532.5 L1241.7,532.5 L1242.6,532.7 L1243.5,532.4 L1244.4,532.5 L1245.3,532.5 L1246.2,532.7 L1247.1,532.2 L1248.0,532.3 L1248.9,532.4 L1249.8,532.5 L1250.7,532.4 L1251.6,532.2 L1252.5,532.7 L1253.4,532.3 L1254.3,532.2 L1255.2,532.3 L1256.1,532.3 L1257.0,532.5 L1257.9,532.5 L1258.8,532.2 L1259.7,532.4 L1260.6,532.3 L1261.5,532.4 L1262.4,532.7 L1263.3,532.7 L1264.2,532.5 L1265.1,532.2 L1266.0,532.5 L1266.9,532.4 L1267.8,532.5 L1268.7,532.3 L1269.6,532.5 L1270.5,532.4 L1271.4,532.4 L1272.3,532.4 L1273.2,532.4 L1274.1,532.7 L1275.0,532.3 L1275.9,532.4 L1276.8,532.2 L1277.7,532.5 L1278.6,532.7 L1279.5,532.3 L1280.4,532.5 L1281.3,532.6 L1282.2,532.7 L1283.1,532.3 L1284.0,532.5 L1284.9,532.6 L1285.8,532.5 L1286.7,532.6 L1287.6,532.3 L1288.5,532.4 L1289.4,532.5 L1290.3,532.5 L1291.2,532.4 L1292.1,532.6 L1293.0,532.4 L1293.9,532.4 L1294.8,532.5 L1295.7,532.5 L1296.6,532.2 L1297.5,532.5 L1298.4,532.7 L1299.3,532.3 L1300.2,532.4 L1301.1,532.6 L1302.0,532.6 L1302.9,532.3 L1303.8,532.5 L1304.7,532.4 L1305.6,532.4 L1306.5,532.5 L1307.4,532.2 L1308.3,532.7 L1309.2,532.7 L1310.1,532.2 L1311.0,532.5 L1311.9,532.7 L1312.8,532.5 L1313.7,532.3 L1314.6,532.6 L1315.5,532.3 L1316.4,532.6 L1317.3,532.7 L1318.2,532.3 L1319.1,532.4 L1320.0,532.5 L1320.9,532.5 L1321.8,532.4 L1322.7,532.6 L1323.6,532.6 L1324.5,532.6 L1325.4,532.6 L1326.3,532.2 L1327.2,532.5 L1328.1,532.6 L1329.0,532.6 L1329.9,532.2 L1330.8,532.3 L1331.7,532.5 L1332.6,532.2 L1333.5,532.5 L1334.4,532.6 L1335.3,532.7 L1336.2,532.2 L1337.1,532.6 L1338.0,532.4 L1338.9,532.5 L1339.8,532.3 L1340.7,532.6 L1341.6,532.2 L1342.5,532.5 L1343.4,532.5 L1344.3,532.6 L1345.2,532.2 L1346.1,532.5 L1347.0,532.3 L1347.9,532.3 L1348.8,532.5 L1349.7,532.5 L1350.6,532.4 L1351.5,532.3 L1352.4,532.3 L1353.3,532.4 L1354.2,532.3 L1355.1,532.2 L1356.0,532.3 L1356.9,532.3 L1357.8,532.4 L1358.7,532.3 L1359.6,532.5 L1360.5,532.2 L1361.4,532.3 L1362.3,532.7 L1363.2,532.5 L1364.1,532.4 L1365.0,532.6 L1365.9,532.3 L1366.8,532.6 L1367.7,532.4 L1368.6,532.3 L1369.5,532.2 L1370.4,532.3 L1371.3,532.5 L1372.2,532.4 L1373.1,532.4 L1374.0,532.6 L1374.9,532.3 L1375.8,532.5 L1376.7,532.3 L1377.6,532.6 L1378.5,532.4 L1379.4,532.6 L1380.3,532.5 L1381.2,532.5 L1382.1,532.6 L1383.0,532.5 L1383.9,532.3 L1384.8,532.6 L1385.7,532.4 L1386.6,532.4 L1387.5,532.6 L1388.4,532.6 L1389.3,532.4 L1390.2,532.4 L1391.1,532.3 L1392.0,532.6 L1392.9,532.6 L1393.8,532.4 L1394.7,532.7 L1395.6,532.3 L1396.5,532.7 L1397.4,532.6 L1398.3,532.5 L1399.2,532.3 L1400.1,532.5 L1401.0,532.6 L1401.9,532.5 L1402.8,532.4 L1403.7,532.6 L1404.6,532.3 L1405.5,532.4 L1406.4,532.2 L1407.3,532.3 L1408.2,532.4 L1409.1,532.5 L1410.0,532.4 L1410.9,532.2 L1411.8,532.6 L1412.7,532.7 L1413.6,532.6 L1414.5,532.6 L1415.4,532.4 L1416.3,532.4 L1417.2,532.6 L1418.1,532.3 L1419.0,532.4 L1419.9,532.4 L1420.8,532.6 L1421.7,532.4 L1422.6,532.5 L1423.5,532.4 L1424.4,532.5 L1425.3,532.4 L1426.2,532.4 L1427.1,532.3 L1428.0,532.4 L1428.9,532.7 L1429.8,532.6 L1430.7,532.7 L1431.6,532.3 L1432.5,532.7 L1433.4,532.4 L1434.3,532.4 L1435.2,532.6 L1436.1,532.5 L1437.0,532.5 L1437.9,532.5 L1438.8,532.5 L1439.7,532.2 L1440.6,532.3 L1441.5,532.5 L1442.4,532.4 L1443.3,532.5 L1444.2,532.6 L1445.1,532.7 L1446.0,532.3 L1446.9,532.2 L1447.8,532.7 L1448.7,532.6 L1449.6,532.4 L1450.5,532.5 L1451.4,532.7 L1452.3,532.5 L1453.2,532.5 L1454.1,532.4 L1455.0,532.5 L1455.9,532.6 L1456.8,532.6 L1457.7,532.3 L1458.6,532.2 L1459.5,532.4 L1460.4,532.7 L1461.3,532.3 L1462.2,532.7 L1463.1,532.6 L1464.0,532.5 L1464.9,532.5 L1465.8,532.4 L1466.7,532.5 L1467.6,532.4 L1468.5,532.6 L1469.4,532.7 L1470.3,532.4 L1471.2,532.6 L1472.1,532.2 L1473.0,532.4 L1473.9,532.4 L1474.8,532.7 L1475.7,532.5 L1476.6,532.6 L1477.5,532.3 L1478.4,532.6 L1479.3,532.3 L1480.2,532.2 L1481.1,532.2 L1482.0,532.5 L1482.9,532.3 L1483.8,532.5 L1484.7,532.3 L1485.6,532.6 L1486.5,532.4 L1487.4,532.3 L1488.3,532.6 L1489.2,532.5 L1490.1,532.3 L1491.0,532.3 L1491.9,532.4 L1492.8,532.6 L1493.7,532.5 L1494.6,532.5 L1495.5,532.3 L1496.4,532.6 L1497.3,532.6 L1498.2,532.6 L1499.1,532.5 L1500.0,532.3 L1500.9,532.3 L1501.8,532.3 L1502.7,532.5 L1503.6,532.4 L1504.5,532.2 L1505.4,532.4 L1506.3,532.2 L1507.2,532.5 L1508.1,532.4 L1509.0,532.6 L1509.9,532.2 L1510.8,532.4 L1511.7,532.6 L1512.6,532.5 L1513.5,532.4 L1514.4,532.7 L1515.3,532.4 L1516.2,532.5 L1517.1,532.6 L1518.0,532.6 L1518.9,532.3 L1519.8,532.3 L1520.7,532.2 L1521.6,532.4 L1522.5,532.6 L1523.4,532.7 L1524.3,532.5 L1525.2,532.5 L1526.1,532.7 L1527.0,532.4 L1527.9,532.6 L1528.8,532.4 L1529.7,532.5 L1530.6,532.3 L1531.5,532.3 L1532.4,532.3 L1533.3,532.3 L1534.2,532.3 L1535.1,532.3 L1536.0,532.5 L1536.9,532.6 L1537.8,532.2 L1538.7,532.6 L1539.6,532.3 L1540.5,532.4 L1541.4,532.4 L1542.3,532.4 L1543.2,532.6 L1544.1,532.2 L1545.0,532.7 L1545.9,532.4 L1546.8,532.4 L1547.7,532.3 L1548.6,532.4 L1549.5,532.6 L1550.4,532.6 L1551.3,532.5 L1552.2,532.6 L1553.1,532.3 L1554.0,532.5 L1554.9,532.5 L1555.8,532.6 L1556.7,532.3 L1557.6,532.6 L1558.5,532.6 L1559.4,532.6 L1560.3,532.6 L1561.2,532.3 L1562.1,532.5 L1563.0,532.7 L1563.9,532.4 L1564.8,532.6 L1565.7,532.5 L1566.6,532.5 L1567.5,532.6 L1568.4,532.3 L1569.3,532.5 L1570.2,532.3 L1571.1,532.3 L1572.0,532.7 L1572.9,532.5 L1573.8,532.3 L1574.7,532.5 L1575.6,532.2 L1576.5,532.3 L1577.4,532.6 L1578.3,532.6 L1579.2,532.6 L1580.1,532.2 L1581.0,532.6 L1581.9,532.3 L1582.8,532.3 L1583.7,532.6 L1584.6,532.4 L1585.5,532.5 L1586.4,532.7 L1587.3,532.4 L1588.2,532.4 L1589.1,532.5 L1590.0,532.4 L1590.9,532.4 L1591.8,532.3 L1592.7,532.6 L1593.6,532.5 L1594.5,532.5 L1595.4,532.2 L1596.3,532.6 L1597.2,532.7 L1598.1,532.5 L1599.0,532.6 L1599.9,532.4 L1600.8,532.4 L1601.7,532.6 L1602.6,532.3 L1603.5,532.4 L1604.4,532.3 L1605.3,532.3 L1606.2,532.5 L1607.1,532.3 L1608.0,532.2 L1608.9,532.5 L1609.8,532.6 L1610.7,532.3 L1611.6,532.3 L1612.5,532.3 L1613.4,532.7 L1614.3,532.6 L1615.2,532.6 L1616.1,532.4 L1617.0,532.5 L1617.9,532.4 L1618.8,532.4 L1619.7,532.5 L1620.6,532.4 L1621.5,532.6 L1622.4,532.6 L1623.3,532.3 L1624.2,532.6 L1625.1,532.7 L1626.0,532.4 L1626.9,532.2 L1627.8,532.3 L1628.7,532.3 L1629.6,532.4 L1630.5,532.6 L1631.4,532.3 L1632.3,532.6 L1633.2,532.3 L1634.1,532.6 L1635.0,532.4 L1635.9,532.2 L1636.8,532.3 L1637.7,532.2 L1638.6,532.6 L1639.5,532.2 L1640.4,532.6 L1640.4,533.3 L1639.5,533.6 L1638.6,533.3 L1637.7,533.3 L1636.8,533.3 L1635.9,533.2 L1635.0,533.5 L1634.1,533.2 L1633.2,533.4 L1632.3,533.6 L1631.4,533.2 L1630.5,533.2 L1629.6,533.4 L1628.7,533.4 L1627.8,533.5 L1626.9,533.4 L1626.0,533.4 L1625.1,533.4 L1624.2,533.1 L1623.3,533.5 L1622.4,533.5 L1621.5,533.4 L1620.6,533.4 L1619.7,533.3 L1618.8,533.2 L1617.9,533.4 L1617.0,533.6 L1616.1,533.2 L1615.2,533.4 L1614.3,533.2 L1613.4,533.4 L1612.5,533.4 L1611.6,533.6 L1610.7,533.5 L1609.8,533.5 L1608.9,533.3 L1608.0,533.5 L1607.1,533.5 L1606.2,533.4 L1605.3,533.2 L1604.4,533.2 L1603.5,533.3 L1602.6,533.6 L1601.7,533.2 L1600.8,533.2 L1599.9,533.3 L1599.0,533.5 L1598.1,533.2 L1597.2,533.1 L1596.3,533.2 L1595.4,533.5 L1594.5,533.6 L1593.6,533.3 L1592.7,533.6 L1591.8,533.4 L1590.9,533.2 L1590.0,533.4 L1589.1,533.3 L1588.2,533.2 L1587.3,533.5 L1586.4,533.3 L1585.5,533.4 L1584.6,533.3 L1583.7,533.4 L1582.8,533.1 L1581.9,533.3 L1581.0,533.5 L1580.1,533.5 L1579.2,533.6 L1578.3,533.4 L1577.4,533.5 L1576.5,533.3 L1575.6,533.1 L1574.7,533.4 L1573.8,533.3 L1572.9,533.2 L1572.0,533.1 L1571.1,533.2 L1570.2,533.3 L1569.3,533.1 L1568.4,533.3 L1567.5,533.5 L1566.6,533.5 L1565.7,533.3 L1564.8,533.6 L1563.9,533.5 L1563.0,533.4 L1562.1,533.4 L1561.2,533.3 L1560.3,533.3 L1559.4,533.4 L1558.5,533.6 L1557.6,533.5 L1556.7,533.2 L1555.8,533.5 L1554.9,533.5 L1554.0,533.5 L1553.1,533.4 L1552.2,533.4 L1551.3,533.4 L1550.4,533.3 L1549.5,533.6 L1548.6,533.1 L1547.7,533.5 L1546.8,533.4 L1545.9,533.3 L1545.0,533.3 L1544.1,533.4 L1543.2,533.3 L1542.3,533.2 L1541.4,533.2 L1540.5,533.3 L1539.6,533.2 L1538.7,533.2 L1537.8,533.5 L1536.9,533.6 L1536.0,533.3 L1535.1,533.6 L1534.2,533.3 L1533.3,533.1 L1532.4,533.4 L1531.5,533.4 L1530.6,533.5 L1529.7,533.5 L1528.8,533.4 L1527.9,533.3 L1527.0,533.5 L1526.1,533.2 L1525.2,533.3 L1524.3,533.4 L1523.4,533.3 L1522.5,533.2 L1521.6,533.4 L1520.7,533.5 L1519.8,533.4 L1518.9,533.3 L1518.0,533.4 L1517.1,533.4 L1516.2,533.3 L1515.3,533.3 L1514.4,533.1 L1513.5,533.3 L1512.6,533.6 L1511.7,533.4 L1510.8,533.4 L1509.9,533.4 L1509.0,533.4 L1508.1,533.5 L1507.2,533.4 L1506.3,533.4 L1505.4,533.4 L1504.5,533.3 L1503.6,533.4 L1502.7,533.1 L1501.8,533.4 L1500.9,533.3 L1500.0,533.4 L1499.1,533.3 L1498.2,533.3 L1497.3,533.4 L1496.4,533.2 L1495.5,533.3 L1494.6,533.4 L1493.7,533.6 L1492.8,533.1 L1491.9,533.4 L1491.0,533.4 L1490.1,533.4 L1489.2,533.1 L1488.3,533.3 L1487.4,533.4 L1486.5,533.4 L1485.6,533.3 L1484.7,533.3 L1483.8,533.5 L1482.9,533.5 L1482.0,533.4 L1481.1,533.5 L1480.2,533.3 L1479.3,533.3 L1478.4,533.4 L1477.5,533.6 L1476.6,533.4 L1475.7,533.3 L1474.8,533.3 L1473.9,533.4 L1473.0,533.5 L1472.1,533.3 L1471.2,533.5 L1470.3,533.2 L1469.4,533.6 L1468.5,533.4 L1467.6,533.3 L1466.7,533.6 L1465.8,533.3 L1464.9,533.3 L1464.0,533.4 L1463.1,533.2 L1462.2,533.2 L1461.3,533.2 L1460.4,533.5 L1459.5,533.1 L1458.6,533.2 L1457.7,533.4 L1456.8,533.2 L1455.9,533.6 L1455.0,533.3 L1454.1,533.3 L1453.2,533.5 L1452.3,533.5 L1451.4,533.2 L1450.5,533.6 L1449.6,533.5 L1448.7,533.4 L1447.8,533.3 L1446.9,533.4 L1446.0,533.5 L1445.1,533.6 L1444.2,533.1 L1443.3,533.3 L1442.4,533.4 L1441.5,533.6 L1440.6,533.2 L1439.7,533.1 L1438.8,533.6 L1437.9,533.3 L1437.0,533.1 L1436.1,533.5 L1435.2,533.5 L1434.3,533.3 L1433.4,533.5 L1432.5,533.6 L1431.6,533.4 L1430.7,533.6 L1429.8,533.5 L1428.9,533.6 L1428.0,533.3 L1427.1,533.2 L1426.2,533.4 L1425.3,533.4 L1424.4,533.3 L1423.5,533.2 L1422.6,533.6 L1421.7,533.1 L1420.8,533.3 L1419.9,533.3 L1419.0,533.2 L1418.1,533.3 L1417.2,533.2 L1416.3,533.4 L1415.4,533.3 L1414.5,533.3 L1413.6,533.3 L1412.7,533.5 L1411.8,533.2 L1410.9,533.2 L1410.0,533.4 L1409.1,533.4 L1408.2,533.1 L1407.3,533.3 L1406.4,533.3 L1405.5,533.4 L1404.6,533.2 L1403.7,533.5 L1402.8,533.5 L1401.9,533.3 L1401.0,533.2 L1400.1,533.5 L1399.2,533.2 L1398.3,533.4 L1397.4,533.2 L1396.5,533.6 L1395.6,533.5 L1394.7,533.4 L1393.8,533.2 L1392.9,533.5 L1392.0,533.5 L1391.1,533.2 L1390.2,533.5 L1389.3,533.4 L1388.4,533.2 L1387.5,533.3 L1386.6,533.1 L1385.7,533.3 L1384.8,533.2 L1383.9,533.1 L1383.0,533.4 L1382.1,533.2 L1381.2,533.5 L1380.3,533.4 L1379.4,533.1 L1378.5,533.6 L1377.6,533.4 L1376.7,533.1 L1375.8,533.3 L1374.9,533.6 L1374.0,533.2 L1373.1,533.2 L1372.2,533.4 L1371.3,533.2 L1370.4,533.2 L1369.5,533.3 L1368.6,533.4 L1367.7,533.5 L1366.8,533.5 L1365.9,533.5 L1365.0,533.2 L1364.1,533.6 L1363.2,533.5 L1362.3,533.6 L1361.4,533.1 L1360.5,533.2 L1359.6,533.1 L1358.7,533.5 L1357.8,533.6 L1356.9,533.2 L1356.0,533.5 L1355.1,533.2 L1354.2,533.5 L1353.3,533.4 L1352.4,533.6 L1351.5,533.4 L1350.6,533.2 L1349.7,533.4 L1348.8,533.4 L1347.9,533.4 L1347.0,533.2 L1346.1,533.1 L1345.2,533.3 L1344.3,533.4 L1343.4,533.5 L1342.5,533.6 L1341.6,533.4 L1340.7,533.6 L1339.8,533.3 L1338.9,533.5 L1338.0,533.5 L1337.1,533.3 L1336.2,533.2 L1335.3,533.1 L1334.4,533.2 L1333.5,533.4 L1332.6,533.5 L1331.7,533.5 L1330.8,533.4 L1329.9,533.5 L1329.0,533.4 L1328.1,533.4 L1327.2,533.6 L1326.3,533.2 L1325.4,533.6 L1324.5,533.2 L1323.6,533.6 L1322.7,533.5 L1321.8,533.6 L1320.9,533.4 L1320.0,533.4 L1319.1,533.3 L1318.2,533.4 L1317.3,533.5 L1316.4,533.2 L1315.5,533.5 L1314.6,533.3 L1313.7,533.2 L1312.8,533.2 L1311.9,533.6 L1311.0,533.3 L1310.1,533.5 L1309.2,533.4 L1308.3,533.6 L1307.4,533.2 L1306.5,533.4 L1305.6,533.5 L1304.7,533.4 L1303.8,533.2 L1302.9,533.2 L1302.0,533.2 L1301.1,533.2 L1300.2,533.2 L1299.3,533.1 L1298.4,533.3 L1297.5,533.3 L1296.6,533.2 L1295.7,533.6 L1294.8,533.4 L1293.9,533.1 L1293.0,533.4 L1292.1,533.5 L1291.2,533.1 L1290.3,533.6 L1289.4,533.5 L1288.5,533.2 L1287.6,533.2 L1286.7,533.3 L1285.8,533.3 L1284.9,533.5 L1284.0,533.6 L1283.1,533.3 L1282.2,533.2 L1281.3,533.4 L1280.4,533.5 L1279.5,533.2 L1278.6,533.1 L1277.7,533.3 L1276.8,533.2 L1275.9,533.3 L1275.0,533.3 L1274.1,533.1 L1273.2,533.5 L1272.3,533.6 L1271.4,533.4 L1270.5,533.3 L1269.6,533.4 L1268.7,533.5 L1267.8,533.4 L1266.9,533.5 L1266.0,533.5 L1265.1,533.2 L1264.2,533.5 L1263.3,533.3 L1262.4,533.6 L1261.5,533.6 L1260.6,533.2 L1259.7,533.3 L1258.8,533.3 L1257.9,533.5 L1257.0,533.6 L1256.1,533.2 L1255.2,533.5 L1254.3,533.2 L1253.4,533.3 L1252.5,533.3 L1251.6,533.5 L1250.7,533.5 L1249.8,533.4 L1248.9,533.5 L1248.0,533.4 L1247.1,533.3 L1246.2,533.5 L1245.3,533.4 L1244.4,533.5 L1243.5,533.2 L1242.6,533.5 L1241.7,533.4 L1240.8,533.2 L1239.9,533.4 L1239.0,533.3 L1238.1,533.3 L1237.2,533.3 L1236.3,533.4 L1235.4,533.2 L1234.5,533.3 L1233.6,533.4 L1232.7,533.4 L1231.8,533.5 L1230.9,533.5 L1230.0,533.1 L1229.1,533.3 L1228.2,533.5 L1227.3,533.3 L1226.4,533.5 L1225.5,533.4 L1224.6,533.3 L1223.7,533.5 L1222.8,533.4 L1221.9,533.4 L1221.0,533.5 L1220.1,533.4 L1219.2,533.6 L1218.3,533.3 L1217.4,533.1 L1216.5,533.4 L1215.6,533.1 L1214.7,533.6 L1213.8,533.3 L1212.9,533.3 L1212.0,533.2 L1211.1,533.5 L1210.2,533.3 L1209.3,533.5 L1208.4,533.3 L1207.5,533.6 L1206.6,533.2 L1205.7,533.2 L1204.8,533.6 L1203.9,533.1 L1203.0,533.5 L1202.1,533.2 L1201.2,533.3 L1200.3,533.3 L1199.4,533.2 L1198.5,533.6 L1197.6,533.5 L1196.7,533.4 L1195.8,533.5 L1194.9,533.4 L1194.0,533.4 L1193.1,533.6 L1192.2,533.3 L1191.3,533.4 L1190.4,533.3 L1189.5,533.2 L1188.6,533.6 L1187.7,533.3 L1186.8,533.2 L1185.9,533.5 L1185.0,533.4 L1184.1,533.4 L1183.2,533.3 L1182.3,533.4 L1181.4,533.1 L1180.5,533.4 L1179.6,533.3 L1178.7,533.4 L1177.8,533.3 L1176.9,533.1 L1176.0,533.3 L1175.1,533.6 L1174.2,533.3 L1173.3,533.3 L1172.4,533.1 L1171.5,533.3 L1170.6,533.3 L1169.7,533.4 L1168.8,533.5 L1167.9,533.1 L1167.0,533.1 L1166.1,533.3 L1165.2,533.3 L1164.3,533.4 L1163.4,533.1 L1162.5,533.5 L1161.6,533.6 L1160.7,533.4 L1159.8,533.1 L1158.9,533.5 L1158.0,533.3 L1157.1,533.2 L1156.2,533.3 L1155.3,533.4 L1154.4,533.2 L1153.5,533.6 L1152.6,533.3 L1151.7,533.5 L1150.8,533.3 L1149.9,533.1 L1149.0,533.2 L1148.1,533.3 L1147.2,533.5 L1146.3,533.4 L1145.4,533.3 L1144.5,533.3 L1143.6,533.4 L1142.7,533.6 L1141.8,533.6 L1140.9,533.2 L1140.0,533.4 L1139.1,533.4 L1138.2,533.5 L1137.3,533.3 L1136.4,533.5 L1135.5,533.5 L1134.6,533.2 L1133.7,533.5 L1132.8,533.2 L1131.9,533.2 L1131.0,533.5 L1130.1,533.2 L1129.2,533.2 L1128.3,533.5 L1127.4,533.2 L1126.5,533.4 L1125.6,533.4 L1124.7,533.3 L1123.8,533.1 L1122.9,533.5 L1122.0,533.2 L1121.1,533.2 L1120.2,533.2 L1119.3,533.2 L1118.4,533.5 L1117.5,533.2 L1116.6,533.4 L1115.7,533.5 L1114.8,533.4 L1113.9,533.2 L1113.0,533.5 L1112.1,533.3 L1111.2,533.4 L1110.3,533.3 L1109.4,533.4 L1108.5,533.1 L1107.6,533.3 L1106.7,533.4 L1105.8,533.4 L1104.9,533.3 L1104.0,533.4 L1103.1,533.5 L1102.2,533.1 L1101.3,533.5 L1100.4,533.2 L1099.5,533.6 L1098.6,533.2 L1097.7,533.4 L1096.8,533.2 L1095.9,533.1 L1095.0,533.2 L1094.1,533.2 L1093.2,533.4 L1092.3,533.4 L1091.4,533.2 L1090.5,533.5 L1089.6,533.4 L1088.7,533.2 L1087.8,533.6 L1086.9,533.1 L1086.0,533.3 L1085.1,533.5 L1084.2,533.6 L1083.3,533.3 L1082.4,533.2 L1081.5,533.3 L1080.6,533.6 L1079.7,533.4 L1078.8,533.5 L1077.9,533.4 L1077.0,533.6 L1076.1,533.6 L1075.2,533.3 L1074.3,533.3 L1073.4,533.2 L1072.5,533.2 L1071.6,533.1 L1070.7,533.3 L1069.8,533.4 L1068.9,533.2 L1068.0,533.2 L1067.1,533.3 L1066.2,533.2 L1065.3,533.5 L1064.4,533.3 L1063.5,533.4 L1062.6,533.5 L1061.7,533.2 L1060.8,533.4 L1059.9,533.5 L1059.0,533.5 L1058.1,533.4 L1057.2,533.4 L1056.3,533.4 L1055.4,533.4 L1054.5,533.5 L1053.6,533.5 L1052.7,533.2 L1051.8,533.1 L1050.9,533.5 L1050.0,533.5 L1049.1,533.2 L1048.2,533.5 L1047.3,533.2 L1046.4,533.3 L1045.5,533.3 L1044.6,533.5 L1043.7,533.2 L1042.8,533.6 L1041.9,533.1 L1041.0,533.3 L1040.1,533.2 L1039.2,533.3 L1038.3,533.4 L1037.4,533.5 L1036.5,533.2 L1035.6,533.6 L1034.7,533.1 L1033.8,533.4 L1032.9,533.4 L1032.0,533.3 L1031.1,533.6 L1030.2,533.5 L1029.3,533.5 L1028.4,533.5 L1027.5,533.2 L1026.6,533.3 L1025.7,533.4 L1024.8,533.3 L1023.9,533.4 L1023.0,533.2 L1022.1,533.1 L1021.2,533.6 L1020.3,533.1 L1019.4,533.3 L1018.5,533.3 L1017.6,533.4 L1016.7,533.5 L1015.8,533.1 L1014.9,533.4 L1014.0,533.3 L1013.1,533.3 L1012.2,533.1 L1011.3,533.2 L1010.4,533.3 L1009.5,533.2 L1008.6,533.3 L1007.7,533.2 L1006.8,533.6 L1005.9,533.5 L1005.0,533.2 L1004.1,533.1 L1003.2,533.4 L1002.3,533.2 L1001.4,533.2 L1000.5,533.3 L999.6,533.4 L998.7,533.3 L997.8,533.6 L996.9,533.4 L996.0,533.1 L995.1,533.2 L994.2,533.5 L993.3,533.3 L992.4,533.3 L991.5,533.2 L990.6,533.5 L989.7,533.5 L988.8,533.3 L987.9,533.6 L987.0,533.4 L986.1,533.5 L985.2,533.4 L984.3,533.5 L983.4,533.6 L982.5,533.2 L981.6,533.3 L980.7,533.4 L979.8,533.6 L978.9,533.2 L978.0,533.3 L977.1,533.1 L976.2,533.1 L975.3,533.2 L974.4,533.4 L973.5,533.5 L972.6,533.3 L971.7,533.6 L970.8,533.6 L969.9,533.6 L969.0,533.5 L968.1,533.5 L967.2,533.2 L966.3,533.4 L965.4,533.3 L964.5,533.6 L963.6,533.4 L962.7,533.3 L961.8,533.4 L960.9,533.3 L960.0,533.4 L959.1,533.5 L958.2,533.5 L957.3,533.4 L956.4,533.5 L955.5,533.5 L954.6,533.4 L953.7,533.3 L952.8,533.5 L951.9,533.5 L951.0,533.3 L950.1,533.3 L949.2,533.2 L948.3,533.3 L947.4,533.2 L946.5,533.4 L945.6,533.1 L944.7,533.2 L943.8,533.6 L942.9,533.2 L942.0,533.2 L941.1,533.5 L940.2,533.2 L939.3,533.6 L938.4,533.3 L937.5,533.4 L936.6,533.4Z" fill="#0000ff" stroke="#0000ff" stroke-width="1.2" stroke-linejoin="round"/>
<path d="M891.0,528.1 L891.5,527.5 L892.0,528.0 L892.5,528.1 L893.0,528.0 L893.5,528.0 L894.0,527.5 L894.5,528.1 L895.0,527.4 L895.5,527.7 L896.0,527.7 L896.5,527.6 L897.0,527.8 L897.5,527.6 L898.0,527.4 L898.5,527.6 L899.0,527.4 L899.5,527.8 L900.0,527.5 L900.5,527.9 L901.0,528.0 L901.5,527.7 L902.0,527.6 L902.5,527.7 L903.0,528.2 L903.5,527.6 L904.0,528.0 L904.5,528.1 L905.0,527.7 L905.5,528.1 L906.0,528.1 L906.5,527.7 L907.0,527.6 L907.5,527.9 L908.0,527.6 L908.5,528.0 L909.0,527.9 L909.5,528.1 L910.0,527.4 L910.5,527.9 L911.0,527.5 L911.5,528.0 L912.0,527.5 L912.5,528.1 L913.0,527.4 L913.5,528.1 L914.0,527.8 L914.5,528.1 L915.0,527.4 L915.5,527.4 L916.0,527.9 L916.5,527.7 L917.0,527.4 L917.5,528.2 L918.0,527.8 L918.5,527.7 L919.0,527.8 L919.5,528.1 L920.0,527.6 L920.5,528.1 L921.0,527.7 L921.5,528.1 L922.0,527.8 L922.5,527.8 L923.0,527.6 L923.0,528.3 L922.5,528.7 L922.0,528.3 L921.5,528.7 L921.0,528.7 L920.5,528.5 L920.0,528.4 L919.5,528.9 L919.0,528.7 L918.5,528.3 L918.0,528.7 L917.5,528.7 L917.0,528.7 L916.5,528.3 L916.0,528.3 L915.5,528.5 L915.0,528.5 L914.5,528.5 L914.0,528.3 L913.5,528.7 L913.0,528.6 L912.5,528.4 L912.0,528.3 L911.5,528.8 L911.0,528.5 L910.5,528.2 L910.0,528.7 L909.5,528.6 L909.0,528.3 L908.5,528.5 L908.0,528.6 L907.5,528.8 L907.0,528.6 L906.5,528.3 L906.0,528.9 L905.5,528.4 L905.0,528.9 L904.5,528.8 L904.0,528.6 L903.5,528.9 L903.0,528.8 L902.5,528.6 L902.0,528.3 L901.5,528.5 L901.0,528.6 L900.5,529.0 L900.0,528.3 L899.5,528.9 L899.0,529.0 L898.5,528.6 L898.0,528.4 L897.5,529.0 L897.0,528.5 L896.5,528.9 L896.0,528.2 L895.5,528.8 L895.0,528.5 L894.5,528.5 L894.0,528.9 L893.5,528.4 L893.0,528.9 L892.5,528.4 L892.0,528.4 L891.5,528.5 L891.0,528.9Z" fill="#000000" stroke="#000000" stroke-width="0.8" stroke-linejoin="round"/>
<path d="M939.5,527.1 L940.6,527.3 L941.7,528.2 L942.8,528.2 L943.9,528.2 L945.0,528.6 L946.1,528.2 L947.2,528.0 L948.3,528.0 L949.4,527.1 L950.5,526.9 L951.6,527.0 L952.7,527.8 L953.8,527.0 L954.9,527.6 L956.0,527.2 L957.1,527.1 L958.2,526.9 L959.3,528.1 L960.4,527.9 L961.5,527.6 L962.6,527.8 L963.7,527.0 L964.8,527.0 L965.9,528.6 L967.0,528.3 L968.1,528.6 L969.2,527.9 L970.3,527.2 L971.4,527.7 L972.5,528.5 L973.6,527.2 L974.7,527.4 L975.8,527.7 L976.9,527.6 L978.0,527.6 L979.1,526.9 L980.2,528.4 L981.3,528.0 L982.4,527.3 L983.5,527.9 L984.6,527.2 L985.7,528.4 L986.8,527.1 L987.9,528.6 L989.0,527.5 L990.1,528.4 L991.2,528.3 L992.3,527.9 L993.4,527.2 L994.5,527.9 L995.6,528.5 L996.7,527.4 L997.8,528.8 L998.9,527.2 L1000.0,527.4 L1001.1,528.2 L1002.2,528.5 L1003.3,528.2 L1004.4,528.4 L1005.5,528.7 L1006.6,527.3 L1007.7,527.1 L1008.8,527.5 L1009.9,528.2 L1011.0,527.5 L1012.1,527.2 L1013.2,527.9 L1014.3,527.9 L1015.4,527.3 L1016.5,528.0 L1017.6,527.7 L1018.7,528.8 L1019.8,527.1 L1020.9,527.4 L1022.0,528.0 L1023.1,527.4 L1024.2,528.7 L1025.3,527.0 L1026.4,527.7 L1027.5,527.7 L1028.6,527.9 L1029.7,527.8 L1030.8,527.4 L1031.9,528.7 L1033.0,526.9 L1034.1,527.5 L1035.2,528.0 L1036.3,528.3 L1037.4,528.7 L1038.5,527.6 L1039.6,526.9 L1040.7,528.4 L1041.8,528.2 L1042.9,528.4 L1044.0,526.9 L1045.1,528.0 L1046.2,528.2 L1047.3,527.2 L1048.4,528.7 L1049.5,527.4 L1050.6,527.9 L1051.7,528.3 L1052.8,528.2 L1053.9,528.2 L1055.0,528.8 L1056.1,528.8 L1057.2,528.1 L1058.3,527.0 L1059.4,528.5 L1060.5,528.5 L1061.6,526.9 L1062.7,528.4 L1063.8,527.8 L1064.9,528.5 L1066.0,528.6 L1067.1,528.7 L1068.2,527.9 L1069.3,528.5 L1070.4,528.5 L1071.5,527.2 L1072.6,528.0 L1073.7,528.2 L1074.8,527.7 L1075.9,528.1 L1077.0,528.0 L1078.1,527.9 L1079.2,527.7 L1080.3,527.2 L1081.4,527.4 L1082.5,527.9 L1083.6,528.1 L1084.7,527.3 L1085.8,528.1 L1086.9,527.2 L1088.0,528.5 L1089.1,528.3 L1090.2,527.2 L1091.3,527.1 L1092.4,528.2 L1093.5,528.6 L1094.6,527.8 L1095.7,528.3 L1096.8,528.6 L1097.9,527.7 L1099.0,527.7 L1100.1,527.9 L1101.2,528.5 L1102.3,527.1 L1103.4,526.9 L1104.5,527.4 L1105.6,528.5 L1106.7,528.3 L1107.8,527.3 L1108.9,528.6 L1110.0,528.8 L1111.1,527.0 L1112.2,528.0 L1113.3,528.5 L1114.4,527.7 L1115.5,528.3 L1116.6,527.8 L1117.7,527.5 L1118.8,527.0 L1119.9,527.5 L1121.0,527.2 L1122.1,528.8 L1123.2,527.2 L1124.3,527.1 L1125.4,527.5 L1126.5,527.9 L1127.6,528.5 L1128.7,527.6 L1129.8,526.9 L1130.9,526.9 L1132.0,528.1 L1133.1,526.9 L1134.2,528.1 L1135.3,527.2 L1136.4,528.3 L1137.5,528.5 L1138.6,528.8 L1139.7,528.0 L1140.8,527.4 L1141.9,528.4 L1143.0,528.4 L1144.1,528.5 L1145.2,527.3 L1146.3,527.4 L1147.4,527.4 L1148.5,527.3 L1149.6,527.6 L1150.7,527.2 L1151.8,527.7 L1152.9,527.6 L1154.0,528.4 L1155.1,527.5 L1156.2,526.9 L1157.3,527.7 L1158.4,527.6 L1159.5,528.0 L1160.6,527.5 L1161.7,528.5 L1162.8,528.1 L1163.9,527.7 L1165.0,527.5 L1166.1,528.4 L1167.2,527.3 L1168.3,528.5 L1169.4,528.2 L1170.5,527.9 L1171.6,526.9 L1172.7,528.3 L1173.8,528.1 L1174.9,528.5 L1176.0,528.0 L1177.1,527.8 L1178.2,527.2 L1179.3,527.3 L1180.4,528.6 L1181.5,528.5 L1182.6,527.7 L1183.7,528.5 L1184.8,528.1 L1185.9,528.1 L1187.0,527.6 L1188.1,527.2 L1189.2,528.8 L1190.3,527.4 L1191.4,527.7 L1192.5,527.2 L1193.6,527.6 L1194.7,527.2 L1195.8,527.0 L1196.9,528.1 L1198.0,528.1 L1199.1,528.5 L1200.2,527.8 L1201.3,528.5 L1202.4,527.9 L1203.5,526.9 L1204.6,528.1 L1205.7,528.7 L1206.8,527.4 L1207.9,527.2 L1209.0,528.5 L1210.1,528.6 L1211.2,528.3 L1212.3,528.0 L1213.4,528.7 L1214.5,528.5 L1215.6,527.0 L1216.7,527.8 L1217.8,527.8 L1218.9,527.0 L1220.0,528.8 L1221.1,528.2 L1222.2,527.9 L1223.3,528.2 L1224.4,527.8 L1225.5,527.7 L1226.6,528.6 L1227.7,528.5 L1228.8,527.1 L1229.9,527.2 L1231.0,526.9 L1232.1,528.1 L1233.2,527.4 L1234.3,528.5 L1235.4,527.0 L1236.5,527.6 L1237.6,528.3 L1238.7,527.0 L1239.8,528.6 L1240.9,528.0 L1242.0,528.2 L1243.1,527.0 L1244.2,528.2 L1245.3,528.5 L1246.4,528.8 L1247.5,527.3 L1248.6,528.8 L1249.7,528.0 L1250.8,528.7 L1251.9,527.0 L1253.0,527.1 L1254.1,528.0 L1255.2,527.9 L1256.3,528.6 L1257.4,528.6 L1258.5,528.1 L1259.6,528.5 L1260.7,527.4 L1261.8,528.7 L1262.9,528.4 L1264.0,527.5 L1265.1,528.3 L1266.2,527.3 L1267.3,528.0 L1268.4,528.1 L1269.5,528.1 L1270.6,527.6 L1271.7,527.3 L1272.8,527.8 L1273.9,526.9 L1275.0,528.4 L1276.1,528.2 L1277.2,528.2 L1278.3,527.3 L1279.4,528.8 L1280.5,528.0 L1281.6,528.1 L1282.7,527.1 L1283.8,526.9 L1284.9,527.0 L1286.0,528.0 L1287.1,527.2 L1288.2,528.7 L1289.3,527.0 L1290.4,527.7 L1291.5,528.1 L1292.6,527.9 L1293.7,528.0 L1294.8,528.0 L1295.9,527.2 L1297.0,527.7 L1298.1,528.3 L1299.2,527.4 L1300.3,528.1 L1301.4,528.4 L1302.5,528.7 L1303.6,527.9 L1304.7,527.8 L1305.8,528.2 L1306.9,528.0 L1308.0,527.0 L1309.1,527.5 L1310.2,527.4 L1311.3,528.7 L1312.4,528.8 L1313.5,528.7 L1314.6,527.1 L1315.7,527.6 L1316.8,528.8 L1317.9,527.5 L1319.0,527.2 L1320.1,527.7 L1321.2,528.7 L1322.3,527.4 L1323.4,528.2 L1324.5,528.7 L1325.6,528.0 L1326.7,527.8 L1327.8,527.9 L1328.9,528.6 L1330.0,527.7 L1331.1,528.5 L1332.2,528.4 L1333.3,527.3 L1334.4,527.7 L1335.5,527.6 L1336.6,528.5 L1337.7,527.0 L1338.8,528.3 L1339.9,528.2 L1341.0,527.7 L1342.1,528.7 L1343.2,528.7 L1344.3,528.5 L1345.4,528.0 L1346.5,527.2 L1347.6,527.3 L1348.7,527.6 L1349.8,528.3 L1350.9,527.9 L1352.0,527.5 L1353.1,527.4 L1354.2,527.5 L1355.3,527.4 L1356.4,527.8 L1357.5,527.0 L1358.6,528.4 L1359.7,528.3 L1360.8,527.5 L1361.9,528.5 L1363.0,528.5 L1364.1,527.9 L1365.2,527.2 L1366.3,528.2 L1367.4,528.5 L1368.5,528.6 L1369.6,528.0 L1370.7,528.0 L1371.8,527.6 L1372.9,528.6 L1374.0,528.6 L1375.1,528.1 L1376.2,528.8 L1377.3,528.3 L1378.4,528.7 L1379.5,528.3 L1380.6,527.1 L1381.7,528.0 L1382.8,528.8 L1383.9,527.1 L1385.0,528.1 L1386.1,528.2 L1387.2,527.8 L1388.3,528.0 L1389.4,527.8 L1390.5,527.1 L1391.6,528.3 L1392.7,528.5 L1393.8,527.0 L1394.9,527.8 L1396.0,528.1 L1397.1,528.1 L1398.2,528.6 L1399.3,528.8 L1400.4,528.5 L1401.5,527.8 L1402.6,528.3 L1403.7,528.0 L1404.8,527.5 L1405.9,528.2 L1407.0,527.9 L1408.1,527.3 L1409.2,528.1 L1410.3,528.7 L1411.4,527.2 L1412.5,527.9 L1413.6,528.4 L1414.7,528.4 L1415.8,527.1 L1416.9,527.2 L1418.0,527.9 L1419.1,527.2 L1420.2,527.1 L1421.3,527.2 L1422.4,528.4 L1423.5,528.5 L1424.6,527.1 L1425.7,528.8 L1426.8,527.2 L1427.9,528.6 L1429.0,527.4 L1430.1,527.7 L1431.2,527.6 L1432.3,528.3 L1433.4,527.5 L1434.5,527.5 L1435.6,527.0 L1436.7,527.4 L1437.8,527.7 L1438.9,528.5 L1440.0,527.9 L1441.1,528.3 L1442.2,527.5 L1443.3,527.5 L1444.4,527.4 L1445.5,528.5 L1446.6,528.8 L1447.7,527.3 L1448.8,528.0 L1449.9,527.3 L1451.0,528.0 L1452.1,528.5 L1453.2,528.6 L1454.3,527.6 L1455.4,527.1 L1456.5,528.5 L1457.6,527.5 L1458.7,527.7 L1459.8,526.9 L1460.9,528.4 L1462.0,528.8 L1463.1,528.7 L1464.2,528.1 L1465.3,527.5 L1466.4,527.8 L1467.5,527.1 L1468.6,526.9 L1469.7,528.6 L1470.8,527.4 L1471.9,528.6 L1473.0,528.2 L1474.1,527.7 L1475.2,527.5 L1476.3,528.1 L1477.4,527.5 L1478.5,527.7 L1479.6,527.9 L1480.7,528.2 L1481.8,528.1 L1482.9,528.7 L1484.0,527.7 L1485.1,528.4 L1486.2,527.3 L1487.3,527.9 L1488.4,528.1 L1489.5,527.8 L1490.6,528.1 L1491.7,528.2 L1492.8,527.2 L1493.9,528.5 L1495.0,527.0 L1496.1,528.7 L1497.2,528.8 L1498.3,527.3 L1499.4,528.3 L1500.5,528.2 L1501.6,528.8 L1502.7,527.0 L1503.8,527.8 L1504.9,528.3 L1506.0,526.9 L1507.1,527.2 L1508.2,527.3 L1509.3,528.8 L1510.4,527.4 L1511.5,528.0 L1512.6,527.5 L1513.7,528.4 L1514.8,527.3 L1515.9,527.7 L1517.0,528.0 L1518.1,528.0 L1519.2,527.6 L1520.3,528.5 L1521.4,528.7 L1522.5,528.1 L1523.6,527.1 L1524.7,528.5 L1525.8,527.6 L1526.9,528.5 L1528.0,527.9 L1529.1,528.0 L1530.2,527.8 L1531.3,528.0 L1532.4,527.4 L1533.5,527.8 L1534.6,527.9 L1535.7,528.0 L1536.8,528.8 L1537.9,528.8 L1539.0,528.1 L1540.1,528.4 L1541.2,528.5 L1542.3,528.6 L1543.4,528.0 L1544.5,527.2 L1545.6,528.8 L1546.7,527.0 L1547.8,528.5 L1548.9,528.3 L1550.0,528.3 L1551.1,527.4 L1552.2,528.4 L1553.3,528.3 L1554.4,527.8 L1555.5,528.1 L1556.6,527.6 L1557.7,527.2 L1558.8,527.6 L1559.9,528.7 L1561.0,527.0 L1562.1,528.8 L1563.2,527.3 L1564.3,528.5 L1565.4,527.5 L1566.5,528.2 L1567.6,527.9 L1568.7,528.8 L1569.8,527.8 L1570.9,528.6 L1572.0,528.0 L1573.1,528.7 L1574.2,527.3 L1575.3,528.3 L1576.4,528.6 L1577.5,527.3 L1578.6,527.3 L1579.7,528.3 L1580.8,528.7 L1581.9,528.8 L1583.0,527.9 L1584.1,528.3 L1585.2,528.2 L1586.3,528.3 L1587.4,527.7 L1588.5,528.2 L1589.6,528.2 L1590.7,528.1 L1591.8,528.8 L1592.9,528.0 L1594.0,527.6 L1595.1,528.7 L1596.2,527.3 L1597.3,528.2 L1598.4,527.0 L1599.5,528.0 L1600.6,528.4 L1601.7,528.6 L1602.8,527.7 L1603.9,528.3 L1605.0,528.3 L1606.1,527.6 L1607.2,527.0 L1608.3,528.6 L1609.4,527.1 L1610.5,527.8 L1611.6,528.4 L1612.7,528.3 L1613.8,527.5 L1614.9,528.5 L1616.0,528.1 L1617.1,527.3 L1618.2,527.8 L1619.3,528.7 L1620.4,527.9 L1621.5,527.8 L1622.6,527.3 L1623.7,528.4 L1624.8,527.3 L1625.9,528.1 L1627.0,527.8 L1628.1,528.6 L1629.2,527.1 L1630.3,528.3 L1631.4,527.1 L1632.5,528.6 L1633.6,527.7 L1634.7,528.4 L1635.8,527.5 L1636.9,527.7 L1638.0,526.9 L1639.1,527.0 L1640.2,527.1 L1640.2,532.6 L1639.1,532.3 L1638.0,531.4 L1636.9,531.3 L1635.8,531.2 L1634.7,532.4 L1633.6,531.3 L1632.5,531.5 L1631.4,531.0 L1630.3,531.2 L1629.2,532.7 L1628.1,532.0 L1627.0,531.7 L1625.9,531.9 L1624.8,531.5 L1623.7,532.2 L1622.6,532.3 L1621.5,531.4 L1620.4,532.4 L1619.3,531.5 L1618.2,531.3 L1617.1,532.8 L1616.0,531.3 L1614.9,531.4 L1613.8,531.0 L1612.7,532.4 L1611.6,532.2 L1610.5,531.3 L1609.4,532.2 L1608.3,532.7 L1607.2,532.3 L1606.1,531.0 L1605.0,532.0 L1603.9,532.0 L1602.8,531.3 L1601.7,532.7 L1600.6,532.6 L1599.5,531.0 L1598.4,532.2 L1597.3,532.5 L1596.2,531.4 L1595.1,531.6 L1594.0,531.5 L1592.9,531.6 L1591.8,532.1 L1590.7,532.5 L1589.6,531.1 L1588.5,532.0 L1587.4,531.9 L1586.3,532.5 L1585.2,531.2 L1584.1,531.0 L1583.0,532.2 L1581.9,531.7 L1580.8,532.9 L1579.7,532.9 L1578.6,532.4 L1577.5,532.0 L1576.4,531.9 L1575.3,532.3 L1574.2,532.6 L1573.1,531.6 L1572.0,532.7 L1570.9,532.5 L1569.8,531.4 L1568.7,532.1 L1567.6,531.9 L1566.5,532.3 L1565.4,531.0 L1564.3,532.2 L1563.2,532.4 L1562.1,532.7 L1561.0,531.9 L1559.9,531.4 L1558.8,531.9 L1557.7,531.8 L1556.6,531.3 L1555.5,531.1 L1554.4,532.0 L1553.3,531.6 L1552.2,531.5 L1551.1,531.9 L1550.0,532.8 L1548.9,531.9 L1547.8,532.1 L1546.7,531.4 L1545.6,532.2 L1544.5,531.4 L1543.4,531.9 L1542.3,531.2 L1541.2,531.6 L1540.1,532.2 L1539.0,532.8 L1537.9,531.0 L1536.8,532.5 L1535.7,532.1 L1534.6,532.6 L1533.5,531.3 L1532.4,532.5 L1531.3,532.5 L1530.2,531.7 L1529.1,531.2 L1528.0,532.6 L1526.9,532.5 L1525.8,532.2 L1524.7,532.8 L1523.6,532.4 L1522.5,531.5 L1521.4,532.8 L1520.3,531.9 L1519.2,531.1 L1518.1,531.3 L1517.0,532.1 L1515.9,531.7 L1514.8,531.0 L1513.7,532.0 L1512.6,531.2 L1511.5,532.0 L1510.4,532.0 L1509.3,531.2 L1508.2,531.1 L1507.1,532.4 L1506.0,531.6 L1504.9,531.2 L1503.8,532.0 L1502.7,531.1 L1501.6,532.6 L1500.5,531.1 L1499.4,532.1 L1498.3,532.5 L1497.2,532.4 L1496.1,531.3 L1495.0,531.6 L1493.9,532.4 L1492.8,531.2 L1491.7,531.3 L1490.6,532.6 L1489.5,532.5 L1488.4,532.3 L1487.3,531.2 L1486.2,531.4 L1485.1,532.6 L1484.0,531.4 L1482.9,532.3 L1481.8,532.8 L1480.7,532.0 L1479.6,531.0 L1478.5,531.6 L1477.4,531.5 L1476.3,532.8 L1475.2,531.7 L1474.1,531.0 L1473.0,531.1 L1471.9,532.6 L1470.8,532.9 L1469.7,532.5 L1468.6,531.5 L1467.5,532.2 L1466.4,531.9 L1465.3,531.5 L1464.2,531.1 L1463.1,531.7 L1462.0,531.2 L1460.9,532.8 L1459.8,532.7 L1458.7,531.9 L1457.6,532.1 L1456.5,531.8 L1455.4,531.7 L1454.3,531.5 L1453.2,531.5 L1452.1,532.4 L1451.0,532.3 L1449.9,532.5 L1448.8,532.7 L1447.7,531.4 L1446.6,532.8 L1445.5,531.8 L1444.4,532.8 L1443.3,532.7 L1442.2,532.2 L1441.1,532.0 L1440.0,531.6 L1438.9,531.0 L1437.8,532.4 L1436.7,532.5 L1435.6,531.3 L1434.5,531.6 L1433.4,532.6 L1432.3,532.6 L1431.2,532.3 L1430.1,531.9 L1429.0,531.1 L1427.9,532.2 L1426.8,531.5 L1425.7,531.9 L1424.6,531.3 L1423.5,531.0 L1422.4,531.3 L1421.3,532.8 L1420.2,531.4 L1419.1,531.2 L1418.0,531.4 L1416.9,531.9 L1415.8,531.7 L1414.7,531.5 L1413.6,531.6 L1412.5,532.2 L1411.4,531.9 L1410.3,532.5 L1409.2,531.0 L1408.1,531.9 L1407.0,532.3 L1405.9,532.4 L1404.8,532.9 L1403.7,531.2 L1402.6,532.8 L1401.5,532.2 L1400.4,532.1 L1399.3,531.2 L1398.2,532.2 L1397.1,531.9 L1396.0,532.3 L1394.9,531.7 L1393.8,532.5 L1392.7,532.7 L1391.6,531.8 L1390.5,531.8 L1389.4,532.8 L1388.3,532.9 L1387.2,531.9 L1386.1,531.1 L1385.0,531.2 L1383.9,531.5 L1382.8,532.5 L1381.7,532.4 L1380.6,531.0 L1379.5,532.6 L1378.4,531.4 L1377.3,531.1 L1376.2,532.1 L1375.1,531.7 L1374.0,532.7 L1372.9,532.9 L1371.8,531.0 L1370.7,532.5 L1369.6,531.2 L1368.5,531.4 L1367.4,531.5 L1366.3,531.5 L1365.2,532.0 L1364.1,532.0 L1363.0,532.0 L1361.9,531.2 L1360.8,532.9 L1359.7,532.5 L1358.6,531.4 L1357.5,532.7 L1356.4,531.6 L1355.3,531.2 L1354.2,532.3 L1353.1,531.2 L1352.0,532.4 L1350.9,531.1 L1349.8,531.4 L1348.7,531.5 L1347.6,531.5 L1346.5,531.0 L1345.4,532.0 L1344.3,532.1 L1343.2,532.4 L1342.1,532.1 L1341.0,532.6 L1339.9,531.6 L1338.8,532.7 L1337.7,531.4 L1336.6,532.7 L1335.5,531.8 L1334.4,532.7 L1333.3,531.5 L1332.2,531.9 L1331.1,531.7 L1330.0,532.8 L1328.9,532.8 L1327.8,532.7 L1326.7,531.1 L1325.6,532.1 L1324.5,531.1 L1323.4,532.1 L1322.3,531.7 L1321.2,531.9 L1320.1,531.6 L1319.0,532.1 L1317.9,531.1 L1316.8,531.9 L1315.7,531.2 L1314.6,531.4 L1313.5,531.4 L1312.4,532.6 L1311.3,531.0 L1310.2,532.2 L1309.1,532.4 L1308.0,532.3 L1306.9,531.1 L1305.8,532.6 L1304.7,531.3 L1303.6,531.7 L1302.5,531.2 L1301.4,532.1 L1300.3,531.5 L1299.2,531.1 L1298.1,532.1 L1297.0,532.2 L1295.9,532.5 L1294.8,531.4 L1293.7,532.7 L1292.6,531.1 L1291.5,531.9 L1290.4,532.6 L1289.3,531.0 L1288.2,531.4 L1287.1,531.9 L1286.0,531.9 L1284.9,531.9 L1283.8,532.6 L1282.7,531.3 L1281.6,531.7 L1280.5,531.4 L1279.4,531.1 L1278.3,531.3 L1277.2,532.9 L1276.1,532.2 L1275.0,531.4 L1273.9,532.0 L1272.8,531.6 L1271.7,531.2 L1270.6,531.2 L1269.5,531.6 L1268.4,531.2 L1267.3,532.5 L1266.2,532.2 L1265.1,532.5 L1264.0,532.2 L1262.9,532.8 L1261.8,532.0 L1260.7,532.0 L1259.6,531.4 L1258.5,532.6 L1257.4,532.1 L1256.3,531.0 L1255.2,531.2 L1254.1,531.3 L1253.0,531.9 L1251.9,531.2 L1250.8,531.9 L1249.7,532.5 L1248.6,532.5 L1247.5,532.3 L1246.4,532.0 L1245.3,532.7 L1244.2,531.9 L1243.1,532.2 L1242.0,532.0 L1240.9,531.6 L1239.8,531.4 L1238.7,531.7 L1237.6,532.3 L1236.5,532.2 L1235.4,532.8 L1234.3,531.5 L1233.2,531.1 L1232.1,531.3 L1231.0,531.7 L1229.9,532.1 L1228.8,531.0 L1227.7,532.1 L1226.6,532.0 L1225.5,531.5 L1224.4,532.3 L1223.3,532.7 L1222.2,531.2 L1221.1,531.9 L1220.0,532.0 L1218.9,531.5 L1217.8,532.2 L1216.7,531.9 L1215.6,532.9 L1214.5,531.8 L1213.4,532.4 L1212.3,532.2 L1211.2,532.1 L1210.1,532.2 L1209.0,531.6 L1207.9,531.8 L1206.8,531.2 L1205.7,531.2 L1204.6,531.6 L1203.5,531.7 L1202.4,532.8 L1201.3,531.7 L1200.2,532.7 L1199.1,532.9 L1198.0,532.5 L1196.9,532.3 L1195.8,531.3 L1194.7,531.4 L1193.6,531.5 L1192.5,531.6 L1191.4,531.5 L1190.3,531.5 L1189.2,532.5 L1188.1,532.9 L1187.0,531.6 L1185.9,531.2 L1184.8,531.8 L1183.7,531.8 L1182.6,532.1 L1181.5,531.1 L1180.4,532.8 L1179.3,531.2 L1178.2,532.7 L1177.1,532.9 L1176.0,532.6 L1174.9,531.9 L1173.8,532.6 L1172.7,531.3 L1171.6,531.1 L1170.5,532.1 L1169.4,531.2 L1168.3,531.5 L1167.2,531.6 L1166.1,531.9 L1165.0,531.5 L1163.9,531.8 L1162.8,531.9 L1161.7,532.4 L1160.6,531.7 L1159.5,531.0 L1158.4,532.6 L1157.3,531.1 L1156.2,531.7 L1155.1,532.5 L1154.0,532.4 L1152.9,531.8 L1151.8,531.5 L1150.7,532.3 L1149.6,531.2 L1148.5,532.1 L1147.4,532.0 L1146.3,531.5 L1145.2,532.6 L1144.1,532.8 L1143.0,531.2 L1141.9,531.7 L1140.8,532.2 L1139.7,531.9 L1138.6,531.4 L1137.5,531.7 L1136.4,532.5 L1135.3,531.8 L1134.2,532.7 L1133.1,531.4 L1132.0,532.3 L1130.9,531.5 L1129.8,531.1 L1128.7,532.4 L1127.6,531.4 L1126.5,532.4 L1125.4,532.3 L1124.3,532.0 L1123.2,532.7 L1122.1,531.7 L1121.0,532.0 L1119.9,531.1 L1118.8,531.0 L1117.7,532.5 L1116.6,532.2 L1115.5,531.0 L1114.4,532.1 L1113.3,532.9 L1112.2,532.7 L1111.1,532.8 L1110.0,531.3 L1108.9,531.5 L1107.8,531.4 L1106.7,532.5 L1105.6,532.0 L1104.5,532.0 L1103.4,532.1 L1102.3,532.5 L1101.2,531.8 L1100.1,531.2 L1099.0,532.9 L1097.9,532.9 L1096.8,531.1 L1095.7,532.0 L1094.6,531.1 L1093.5,532.1 L1092.4,532.5 L1091.3,532.3 L1090.2,532.1 L1089.1,531.3 L1088.0,531.7 L1086.9,532.6 L1085.8,531.2 L1084.7,531.6 L1083.6,531.3 L1082.5,531.9 L1081.4,531.1 L1080.3,531.6 L1079.2,532.4 L1078.1,532.6 L1077.0,531.7 L1075.9,532.7 L1074.8,532.0 L1073.7,532.0 L1072.6,531.4 L1071.5,531.8 L1070.4,532.4 L1069.3,532.8 L1068.2,531.1 L1067.1,531.0 L1066.0,532.7 L1064.9,531.0 L1063.8,532.4 L1062.7,532.3 L1061.6,532.8 L1060.5,532.0 L1059.4,531.6 L1058.3,531.8 L1057.2,531.2 L1056.1,531.9 L1055.0,532.9 L1053.9,532.1 L1052.8,532.1 L1051.7,531.8 L1050.6,531.9 L1049.5,531.8 L1048.4,532.5 L1047.3,531.0 L1046.2,531.6 L1045.1,531.8 L1044.0,531.7 L1042.9,531.9 L1041.8,532.7 L1040.7,531.6 L1039.6,531.5 L1038.5,532.3 L1037.4,532.0 L1036.3,531.9 L1035.2,532.9 L1034.1,531.9 L1033.0,532.2 L1031.9,532.0 L1030.8,532.3 L1029.7,531.1 L1028.6,532.6 L1027.5,532.1 L1026.4,531.6 L1025.3,532.7 L1024.2,531.7 L1023.1,531.8 L1022.0,532.4 L1020.9,531.1 L1019.8,532.3 L1018.7,531.4 L1017.6,531.1 L1016.5,531.3 L1015.4,531.5 L1014.3,531.0 L1013.2,531.9 L1012.1,531.8 L1011.0,531.6 L1009.9,532.8 L1008.8,532.0 L1007.7,531.0 L1006.6,532.6 L1005.5,531.5 L1004.4,531.5 L1003.3,532.5 L1002.2,532.2 L1001.1,531.7 L1000.0,532.2 L998.9,532.6 L997.8,532.4 L996.7,532.1 L995.6,532.3 L994.5,531.0 L993.4,532.0 L992.3,532.3 L991.2,532.6 L990.1,532.2 L989.0,532.9 L987.9,531.7 L986.8,531.4 L985.7,531.0 L984.6,531.6 L983.5,531.3 L982.4,532.7 L981.3,531.1 L980.2,532.7 L979.1,531.5 L978.0,531.6 L976.9,531.1 L975.8,532.6 L974.7,531.8 L973.6,531.6 L972.5,531.1 L971.4,531.0 L970.3,532.8 L969.2,532.5 L968.1,531.2 L967.0,531.5 L965.9,531.8 L964.8,532.3 L963.7,532.5 L962.6,532.1 L961.5,532.6 L960.4,532.4 L959.3,532.0 L958.2,532.4 L957.1,532.9 L956.0,532.4 L954.9,531.2 L953.8,532.9 L952.7,531.4 L951.6,532.5 L950.5,532.1 L949.4,531.4 L948.3,532.7 L947.2,531.7 L946.1,531.3 L945.0,532.2 L943.9,532.4 L942.8,531.3 L941.7,532.4 L940.6,532.8 L939.5,531.6Z" fill="#000000" stroke="#000000" stroke-width="1.2" stroke-linejoin="round"/>
</g>
<line x1="879.9" y1="423.0" x2="879.9" y2="536.0" stroke="#000" stroke-width="1.6" stroke-dasharray="9.7 8.45" stroke-dashoffset="0"/>
<line x1="879.3" y1="422.9" x2="1012.0" y2="422.9" stroke="#000" stroke-width="2.1" stroke-dasharray="9.7 8.45" stroke-dashoffset="0"/>
<line x1="1011.1" y1="423.0" x2="1011.1" y2="536.0" stroke="#000" stroke-width="2.1" stroke-dasharray="9.7 8.45" stroke-dashoffset="5.1"/>
<line x1="879.3" y1="422.7" x2="1152.4" y2="153.2" stroke="#000" stroke-width="2.1" stroke-dasharray="9.7 8.45" stroke-dashoffset="0.4"/>
<line x1="1011.1" y1="422.3" x2="1188.0" y2="352.0" stroke="#000" stroke-width="2.1" stroke-dasharray="9.7 8.45" stroke-dashoffset="0.9"/>
<rect x="879.7" y="4.2" width="761.5" height="531.7" fill="none" stroke="#000" stroke-width="1.9"/>
<line x1="869.6" y1="528.0" x2="879.7" y2="528.0" stroke="#000" stroke-width="1.8" />
<text transform="translate(863.00 535.00) scale(0.9650 1)" font-family="'Liberation Sans', Arial, sans-serif" font-size="22.4" font-weight="normal" font-style="normal" text-anchor="end" >0.0</text>
<line x1="869.6" y1="425.3" x2="879.7" y2="425.3" stroke="#000" stroke-width="1.8" />
<text transform="translate(863.00 432.30) scale(0.9650 1)" font-family="'Liberation Sans', Arial, sans-serif" font-size="22.4" font-weight="normal" font-style="normal" text-anchor="end" >0.2</text>
<line x1="869.6" y1="322.6" x2="879.7" y2="322.6" stroke="#000" stroke-width="1.8" />
<text transform="translate(863.00 329.60) scale(0.9650 1)" font-family="'Liberation Sans', Arial, sans-serif" font-size="22.4" font-weight="normal" font-style="normal" text-anchor="end" >0.4</text>
<line x1="869.6" y1="219.9" x2="879.7" y2="219.9" stroke="#000" stroke-width="1.8" />
<text transform="translate(863.00 226.90) scale(0.9650 1)" font-family="'Liberation Sans', Arial, sans-serif" font-size="22.4" font-weight="normal" font-style="normal" text-anchor="end" >0.6</text>
<line x1="869.6" y1="117.2" x2="879.7" y2="117.2" stroke="#000" stroke-width="1.8" />
<text transform="translate(863.00 124.20) scale(0.9650 1)" font-family="'Liberation Sans', Arial, sans-serif" font-size="22.4" font-weight="normal" font-style="normal" text-anchor="end" >0.8</text>
<line x1="869.6" y1="14.5" x2="879.7" y2="14.5" stroke="#000" stroke-width="1.8" />
<text transform="translate(863.00 21.50) scale(0.9650 1)" font-family="'Liberation Sans', Arial, sans-serif" font-size="22.4" font-weight="normal" font-style="normal" text-anchor="end" >1.0</text>
<line x1="874.8" y1="476.6" x2="879.7" y2="476.6" stroke="#000" stroke-width="1.8" />
<line x1="874.8" y1="373.9" x2="879.7" y2="373.9" stroke="#000" stroke-width="1.8" />
<line x1="874.8" y1="271.2" x2="879.7" y2="271.2" stroke="#000" stroke-width="1.8" />
<line x1="874.8" y1="168.5" x2="879.7" y2="168.5" stroke="#000" stroke-width="1.8" />
<line x1="874.8" y1="65.8" x2="879.7" y2="65.8" stroke="#000" stroke-width="1.8" />
<line x1="883.2" y1="535.9" x2="883.2" y2="545.5" stroke="#000" stroke-width="1.8" />
<text transform="translate(883.20 570.00) scale(0.9200 1)" font-family="'Liberation Sans', Arial, sans-serif" font-size="22.8" font-weight="normal" font-style="normal" text-anchor="middle" >0</text>
<line x1="1009.6" y1="535.9" x2="1009.6" y2="545.5" stroke="#000" stroke-width="1.8" />
<text transform="translate(1009.55 570.00) scale(0.9200 1)" font-family="'Liberation Sans', Arial, sans-serif" font-size="22.8" font-weight="normal" font-style="normal" text-anchor="middle" >1</text>
<line x1="1135.9" y1="535.9" x2="1135.9" y2="545.5" stroke="#000" stroke-width="1.8" />
<text transform="translate(1135.90 570.00) scale(0.9200 1)" font-family="'Liberation Sans', Arial, sans-serif" font-size="22.8" font-weight="normal" font-style="normal" text-anchor="middle" >2</text>
<line x1="1262.2" y1="535.9" x2="1262.2" y2="545.5" stroke="#000" stroke-width="1.8" />
<text transform="translate(1262.25 570.00) scale(0.9200 1)" font-family="'Liberation Sans', Arial, sans-serif" font-size="22.8" font-weight="normal" font-style="normal" text-anchor="middle" >3</text>
<line x1="1388.6" y1="535.9" x2="1388.6" y2="545.5" stroke="#000" stroke-width="1.8" />
<text transform="translate(1388.60 570.00) scale(0.9200 1)" font-family="'Liberation Sans', Arial, sans-serif" font-size="22.8" font-weight="normal" font-style="normal" text-anchor="middle" >4</text>
<line x1="1515.0" y1="535.9" x2="1515.0" y2="545.5" stroke="#000" stroke-width="1.8" />
<text transform="translate(1514.95 570.00) scale(0.9200 1)" font-family="'Liberation Sans', Arial, sans-serif" font-size="22.8" font-weight="normal" font-style="normal" text-anchor="middle" >5</text>
<line x1="1641.3" y1="535.9" x2="1641.3" y2="545.5" stroke="#000" stroke-width="1.8" />
<text transform="translate(1641.30 570.00) scale(0.9200 1)" font-family="'Liberation Sans', Arial, sans-serif" font-size="22.8" font-weight="normal" font-style="normal" text-anchor="middle" >6</text>
<line x1="946.4" y1="535.9" x2="946.4" y2="540.8" stroke="#000" stroke-width="1.8" />
<line x1="1072.7" y1="535.9" x2="1072.7" y2="540.8" stroke="#000" stroke-width="1.8" />
<line x1="1199.1" y1="535.9" x2="1199.1" y2="540.8" stroke="#000" stroke-width="1.8" />
<line x1="1325.4" y1="535.9" x2="1325.4" y2="540.8" stroke="#000" stroke-width="1.8" />
<line x1="1451.8" y1="535.9" x2="1451.8" y2="540.8" stroke="#000" stroke-width="1.8" />
<line x1="1578.1" y1="535.9" x2="1578.1" y2="540.8" stroke="#000" stroke-width="1.8" />
<text transform="translate(822,270.2) rotate(-90)" font-family="'Liberation Sans', Arial, sans-serif" font-size="26.2" text-anchor="middle">normalized intensity</text>
<text x="1203.5" y="598.4" font-family="'Liberation Sans', Arial, sans-serif" font-size="26.4"><tspan font-style="italic">time</tspan> / min</text>
<text transform="translate(881.30 42.60) scale(1.0800 1)" font-family="'Liberation Sans', Arial, sans-serif" font-size="44" font-weight="bold" font-style="normal" text-anchor="start" >b</text>
<line x1="1122.5" y1="25.5" x2="1181.4" y2="25.5" stroke="#000000" stroke-width="2.0" />
<text transform="translate(1188.20 34.50) scale(1.0400 1)" font-family="'Liberation Sans', Arial, sans-serif" font-size="25.4" font-weight="normal" font-style="normal" text-anchor="start" >Luminol</text>
<line x1="1122.5" y1="57.5" x2="1181.4" y2="57.5" stroke="#0000ff" stroke-width="2.0" />
<text transform="translate(1188.20 66.45) scale(1.0400 1)" font-family="'Liberation Sans', Arial, sans-serif" font-size="25.4" font-weight="normal" font-style="normal" text-anchor="start" >Luminol - TMG</text>
<line x1="1122.5" y1="89.4" x2="1181.4" y2="89.4" stroke="#808080" stroke-width="2.0" />
<text transform="translate(1188.20 98.40) scale(1.0400 1)" font-family="'Liberation Sans', Arial, sans-serif" font-size="25.4" font-weight="normal" font-style="normal" text-anchor="start" >Luminol - DBU</text>
<line x1="1386.9" y1="25.5" x2="1445.2" y2="25.5" stroke="#ff0000" stroke-width="2.0" />
<text transform="translate(1452.20 34.50) scale(1.0400 1)" font-family="'Liberation Sans', Arial, sans-serif" font-size="25.4" font-weight="normal" font-style="normal" text-anchor="start" >Luminol - TBD</text>
<line x1="1386.9" y1="57.5" x2="1445.2" y2="57.5" stroke="#3cb371" stroke-width="2.0" />
<text transform="translate(1452.20 66.45) scale(1.0400 1)" font-family="'Liberation Sans', Arial, sans-serif" font-size="25.4" font-weight="normal" font-style="normal" text-anchor="start" >Luminol - KOH</text>
<line x1="1386.9" y1="89.4" x2="1445.2" y2="89.4" stroke="#f4a460" stroke-width="2.0" />
<text transform="translate(1452.20 98.40) scale(1.0400 1)" font-family="'Liberation Sans', Arial, sans-serif" font-size="25.4" font-weight="normal" font-style="normal" text-anchor="start" >Luminol - KOH</text>
<text transform="translate(1452.2 130.3) scale(1.04 1)" font-family="'Liberation Sans', Arial, sans-serif" font-size="25.4">- CuSO<tspan font-size="17" dy="7.5">4</tspan></text>
<rect x="1194.6" y="149.3" width="289.4" height="201.3" fill="#fff" stroke="none"/>
<g clip-path="url(#cbi)">
<path d="M1317.5,181.1 L1318.5,184.0 L1319.5,189.7 L1320.5,194.0 L1321.5,198.3 L1322.5,201.9 L1323.5,205.3 L1324.5,209.0 L1325.5,212.4 L1326.5,215.6 L1327.5,218.6 L1328.5,221.2 L1329.5,223.4 L1330.5,225.8 L1331.5,227.8 L1332.5,229.9 L1333.5,231.4 L1334.5,232.5 L1335.5,234.4 L1336.5,235.7 L1337.5,237.6 L1338.5,239.4 L1339.5,240.6 L1340.5,242.3 L1341.5,243.5 L1342.5,244.9 L1343.5,245.8 L1344.5,247.6 L1345.5,248.3 L1346.5,249.2 L1347.5,250.1 L1348.5,251.1 L1349.5,252.2 L1350.5,252.9 L1351.5,253.2 L1352.5,253.8 L1353.5,254.6 L1354.5,254.9 L1355.5,255.7 L1356.5,256.3 L1357.5,257.2 L1358.5,257.4 L1359.5,258.0 L1360.5,258.2 L1361.5,258.4 L1362.5,259.4 L1363.5,260.0 L1364.5,260.8 L1365.5,261.3 L1366.5,261.9 L1367.5,262.2 L1368.5,262.4 L1369.5,263.7 L1370.5,264.3 L1371.5,264.0 L1372.5,264.4 L1373.5,264.4 L1374.5,265.2 L1375.5,265.4 L1376.5,265.5 L1377.5,266.0 L1378.5,266.9 L1379.5,267.3 L1380.5,267.6 L1381.5,267.4 L1382.5,267.4 L1383.5,268.3 L1384.5,268.5 L1385.5,268.8 L1386.5,269.3 L1387.5,269.6 L1388.5,269.6 L1389.5,269.0 L1390.5,269.2 L1391.5,270.8 L1392.5,271.0 L1393.5,270.7 L1394.5,270.6 L1395.5,271.1 L1396.5,270.7 L1397.5,270.9 L1398.5,271.1 L1399.5,271.7 L1400.5,271.6 L1401.5,272.1 L1402.5,272.3 L1403.5,272.3 L1404.5,272.7 L1405.5,273.2 L1406.5,272.6 L1407.5,273.5 L1408.5,273.9 L1409.5,274.1 L1410.5,273.7 L1411.5,274.5 L1412.5,273.9 L1413.5,274.1 L1414.5,274.8 L1415.5,274.9 L1416.5,274.9 L1417.5,274.9 L1418.5,274.4 L1419.5,275.0 L1420.5,274.7 L1421.5,275.7 L1422.5,275.6 L1423.5,275.9 L1424.5,276.0 L1425.5,275.8 L1426.5,276.3 L1427.5,276.6 L1428.5,276.5 L1429.5,277.3 L1430.5,277.7 L1431.5,276.9 L1432.5,277.4 L1433.5,277.1 L1434.5,277.5 L1435.5,277.7 L1436.5,277.3 L1437.5,277.8 L1438.5,277.3 L1439.5,277.8 L1440.5,277.6 L1441.5,277.9 L1442.5,277.7 L1443.5,277.5 L1444.5,277.7 L1445.5,277.5 L1446.5,277.6 L1447.5,278.5 L1448.5,278.6 L1449.5,279.3 L1450.5,279.3 L1451.5,279.4 L1452.5,279.0 L1453.5,279.5 L1454.5,279.1 L1455.5,279.3 L1456.5,279.3 L1457.5,279.8 L1458.5,279.1 L1459.5,278.7 L1460.5,279.1 L1461.5,278.7 L1462.5,278.6 L1463.5,278.8 L1464.5,279.4 L1465.5,279.7 L1466.5,280.0 L1467.5,279.5 L1468.5,280.2 L1469.5,280.2 L1470.5,279.4 L1471.5,280.0 L1472.5,279.4 L1473.5,279.6 L1474.5,280.9 L1475.5,280.3 L1476.5,280.5 L1477.5,279.2 L1478.5,280.1 L1479.5,279.5 L1480.5,279.6 L1481.5,279.8 L1482.5,280.3 L1483.5,280.1 L1483.5,281.9 L1482.5,281.8 L1481.5,281.2 L1480.5,281.2 L1479.5,281.2 L1478.5,281.7 L1477.5,280.7 L1476.5,282.2 L1475.5,282.2 L1474.5,282.0 L1473.5,281.1 L1472.5,280.9 L1471.5,281.6 L1470.5,280.9 L1469.5,280.9 L1468.5,281.6 L1467.5,281.4 L1466.5,281.6 L1465.5,280.8 L1464.5,280.7 L1463.5,280.3 L1462.5,280.2 L1461.5,280.4 L1460.5,280.6 L1459.5,280.7 L1458.5,280.8 L1457.5,282.0 L1456.5,281.0 L1455.5,280.5 L1454.5,281.1 L1453.5,281.4 L1452.5,281.2 L1451.5,281.2 L1450.5,280.4 L1449.5,279.8 L1448.5,279.6 L1447.5,279.2 L1446.5,279.8 L1445.5,279.8 L1444.5,279.5 L1443.5,279.1 L1442.5,278.9 L1441.5,279.2 L1440.5,279.5 L1439.5,279.2 L1438.5,278.9 L1437.5,278.8 L1436.5,278.7 L1435.5,279.4 L1434.5,279.2 L1433.5,279.2 L1432.5,278.9 L1431.5,279.2 L1430.5,279.4 L1429.5,278.7 L1428.5,278.2 L1427.5,277.9 L1426.5,278.0 L1425.5,277.6 L1424.5,277.0 L1423.5,277.1 L1422.5,277.0 L1421.5,277.2 L1420.5,276.8 L1419.5,276.7 L1418.5,276.4 L1417.5,276.4 L1416.5,276.1 L1415.5,276.1 L1414.5,275.4 L1413.5,276.2 L1412.5,276.3 L1411.5,275.4 L1410.5,275.9 L1409.5,274.8 L1408.5,274.7 L1407.5,274.7 L1406.5,274.5 L1405.5,274.3 L1404.5,274.0 L1403.5,274.4 L1402.5,273.8 L1401.5,273.6 L1400.5,272.8 L1399.5,273.3 L1398.5,272.9 L1397.5,272.0 L1396.5,272.0 L1395.5,272.1 L1394.5,272.3 L1393.5,272.1 L1392.5,272.0 L1391.5,271.3 L1390.5,271.5 L1389.5,270.4 L1388.5,271.1 L1387.5,271.5 L1386.5,271.0 L1385.5,269.9 L1384.5,269.4 L1383.5,268.8 L1382.5,268.7 L1381.5,268.6 L1380.5,269.0 L1379.5,267.8 L1378.5,267.9 L1377.5,267.9 L1376.5,267.3 L1375.5,266.6 L1374.5,266.3 L1373.5,266.0 L1372.5,265.7 L1371.5,265.6 L1370.5,265.3 L1369.5,265.1 L1368.5,264.1 L1367.5,263.2 L1366.5,263.0 L1365.5,262.4 L1364.5,262.2 L1363.5,261.0 L1362.5,260.4 L1361.5,260.1 L1360.5,259.8 L1359.5,259.1 L1358.5,258.5 L1357.5,257.8 L1356.5,257.7 L1355.5,256.6 L1354.5,256.6 L1353.5,255.2 L1352.5,254.3 L1351.5,254.4 L1350.5,253.7 L1349.5,253.0 L1348.5,251.9 L1347.5,251.4 L1346.5,250.4 L1345.5,249.7 L1344.5,248.3 L1343.5,247.1 L1342.5,245.5 L1341.5,244.1 L1340.5,243.4 L1339.5,241.7 L1338.5,240.4 L1337.5,238.4 L1336.5,236.7 L1335.5,234.9 L1334.5,233.8 L1333.5,232.2 L1332.5,230.6 L1331.5,228.8 L1330.5,226.5 L1329.5,224.1 L1328.5,221.7 L1327.5,219.0 L1326.5,216.2 L1325.5,212.9 L1324.5,209.6 L1323.5,205.8 L1322.5,202.4 L1321.5,198.7 L1320.5,194.6 L1319.5,190.2 L1318.5,184.4 L1317.5,181.5Z" fill="#808080" stroke="#808080" stroke-width="2.0" stroke-linejoin="round"/>
<path d="M1195.0,342.6 L1317.4,342.6 L1317.4,149.0" fill="none" stroke="#ff0000" stroke-width="2.0" stroke-linejoin="round" stroke-linecap="butt" />
<path d="M1280.2,341.9 L1281.1,341.9 L1282.0,341.9 L1282.9,341.9 L1283.8,342.1 L1284.7,342.0 L1285.6,341.9 L1286.5,341.9 L1287.4,342.0 L1288.3,341.9 L1289.2,341.9 L1290.1,342.0 L1291.0,341.9 L1291.9,342.0 L1292.8,341.8 L1293.7,341.9 L1294.6,342.0 L1295.5,341.8 L1296.4,342.0 L1297.3,341.8 L1298.2,341.8 L1299.1,341.9 L1300.0,342.0 L1300.9,341.8 L1301.8,342.0 L1302.7,342.0 L1303.6,341.9 L1304.5,342.0 L1305.4,341.9 L1306.3,342.0 L1307.2,341.9 L1308.1,341.8 L1309.0,342.0 L1309.9,342.0 L1310.8,342.0 L1311.7,341.9 L1312.6,342.0 L1313.5,341.8 L1314.4,342.0 L1315.3,342.0 L1316.2,342.1 L1317.1,341.9 L1318.0,341.9 L1318.9,342.0 L1319.8,342.0 L1320.7,342.0 L1321.6,341.8 L1322.5,342.1 L1323.4,341.9 L1324.3,342.0 L1325.2,342.1 L1326.1,341.9 L1327.0,341.8 L1327.9,341.9 L1328.8,341.9 L1329.7,341.9 L1330.6,342.0 L1331.5,342.1 L1332.4,341.8 L1333.3,341.9 L1334.2,341.9 L1335.1,342.0 L1336.0,341.9 L1336.9,342.0 L1337.8,342.0 L1338.7,341.9 L1339.6,341.9 L1340.5,341.9 L1341.4,341.8 L1342.3,342.0 L1343.2,341.8 L1344.1,341.9 L1345.0,341.8 L1345.9,341.9 L1346.8,342.0 L1347.7,341.9 L1348.6,342.0 L1349.5,341.9 L1350.4,342.0 L1351.3,341.9 L1352.2,342.0 L1353.1,342.0 L1354.0,341.9 L1354.9,341.9 L1355.8,342.0 L1356.7,341.8 L1357.6,341.8 L1358.5,342.1 L1359.4,341.9 L1360.3,342.0 L1361.2,342.0 L1362.1,342.0 L1363.0,342.0 L1363.9,341.9 L1364.8,341.9 L1365.7,341.9 L1366.6,341.9 L1367.5,342.0 L1368.4,341.9 L1369.3,341.8 L1370.2,341.8 L1371.1,341.8 L1372.0,342.0 L1372.9,341.8 L1373.8,341.9 L1374.7,342.0 L1375.6,341.8 L1376.5,341.5 L1377.4,341.3 L1378.3,340.9 L1379.2,340.7 L1380.1,340.4 L1381.0,340.2 L1381.9,339.9 L1382.8,339.6 L1383.7,339.5 L1384.6,339.2 L1385.5,338.9 L1386.4,338.5 L1387.3,338.3 L1388.2,338.0 L1389.1,337.8 L1390.0,337.6 L1390.9,337.3 L1391.8,336.9 L1392.7,335.4 L1393.6,335.0 L1394.5,333.7 L1395.4,332.3 L1396.3,331.9 L1397.2,332.1 L1398.1,331.0 L1399.0,328.5 L1399.9,326.8 L1400.8,326.0 L1401.7,325.6 L1402.6,324.9 L1403.5,323.2 L1404.4,321.9 L1405.3,320.9 L1406.2,319.2 L1407.1,318.1 L1408.0,316.8 L1408.9,315.2 L1409.8,314.6 L1410.7,313.3 L1411.6,311.6 L1412.5,310.7 L1413.4,308.8 L1414.3,307.2 L1415.2,307.1 L1416.1,305.1 L1417.0,301.5 L1417.9,297.6 L1418.8,294.7 L1419.7,288.9 L1420.6,284.6 L1421.5,280.4 L1422.4,276.9 L1423.3,274.3 L1424.2,272.3 L1425.1,268.9 L1426.0,265.3 L1426.9,261.7 L1427.8,256.9 L1428.7,253.9 L1429.6,249.1 L1430.5,245.0 L1431.4,239.8 L1432.3,232.0 L1433.2,223.6 L1434.1,217.4 L1435.0,212.9 L1435.9,207.7 L1436.8,203.9 L1437.7,199.1 L1438.6,193.5 L1439.5,188.4 L1440.4,184.0 L1441.3,180.2 L1442.2,177.4 L1443.1,173.6 L1444.0,169.9 L1444.9,166.8 L1445.8,164.1 L1446.7,163.1 L1447.6,161.0 L1448.5,158.2 L1449.4,157.0 L1450.3,153.9 L1451.2,152.2 L1452.1,149.6 L1453.0,147.9 L1453.0,149.4 L1452.1,151.1 L1451.2,153.1 L1450.3,156.5 L1449.4,158.7 L1448.5,161.0 L1447.6,162.4 L1446.7,164.3 L1445.8,166.9 L1444.9,168.3 L1444.0,171.1 L1443.1,174.9 L1442.2,178.5 L1441.3,181.9 L1440.4,185.3 L1439.5,189.8 L1438.6,196.1 L1437.7,201.1 L1436.8,205.8 L1435.9,209.4 L1435.0,213.7 L1434.1,218.8 L1433.2,225.7 L1432.3,234.0 L1431.4,240.6 L1430.5,246.5 L1429.6,251.0 L1428.7,255.3 L1427.8,259.2 L1426.9,262.7 L1426.0,266.9 L1425.1,270.5 L1424.2,273.2 L1423.3,276.7 L1422.4,278.1 L1421.5,282.0 L1420.6,285.7 L1419.7,290.5 L1418.8,295.8 L1417.9,299.1 L1417.0,303.0 L1416.1,306.7 L1415.2,308.7 L1414.3,309.0 L1413.4,309.7 L1412.5,311.2 L1411.6,314.1 L1410.7,315.8 L1409.8,316.1 L1408.9,316.9 L1408.0,318.6 L1407.1,320.4 L1406.2,321.0 L1405.3,321.4 L1404.4,323.2 L1403.5,325.3 L1402.6,325.8 L1401.7,327.0 L1400.8,328.0 L1399.9,329.0 L1399.0,331.1 L1398.1,332.3 L1397.2,332.7 L1396.3,333.9 L1395.4,334.0 L1394.5,335.4 L1393.6,336.4 L1392.7,336.7 L1391.8,337.3 L1390.9,337.5 L1390.0,337.8 L1389.1,338.1 L1388.2,338.5 L1387.3,338.7 L1386.4,338.9 L1385.5,339.1 L1384.6,339.5 L1383.7,339.6 L1382.8,340.1 L1381.9,340.2 L1381.0,340.7 L1380.1,340.8 L1379.2,341.0 L1378.3,341.4 L1377.4,341.6 L1376.5,341.9 L1375.6,342.0 L1374.7,342.2 L1373.8,342.3 L1372.9,342.3 L1372.0,342.3 L1371.1,342.3 L1370.2,342.3 L1369.3,342.3 L1368.4,342.2 L1367.5,342.4 L1366.6,342.3 L1365.7,342.3 L1364.8,342.2 L1363.9,342.2 L1363.0,342.2 L1362.1,342.3 L1361.2,342.3 L1360.3,342.1 L1359.4,342.2 L1358.5,342.2 L1357.6,342.2 L1356.7,342.2 L1355.8,342.2 L1354.9,342.3 L1354.0,342.3 L1353.1,342.4 L1352.2,342.2 L1351.3,342.3 L1350.4,342.4 L1349.5,342.3 L1348.6,342.4 L1347.7,342.3 L1346.8,342.3 L1345.9,342.2 L1345.0,342.2 L1344.1,342.4 L1343.2,342.4 L1342.3,342.3 L1341.4,342.3 L1340.5,342.2 L1339.6,342.2 L1338.7,342.3 L1337.8,342.3 L1336.9,342.2 L1336.0,342.3 L1335.1,342.4 L1334.2,342.3 L1333.3,342.4 L1332.4,342.3 L1331.5,342.2 L1330.6,342.3 L1329.7,342.3 L1328.8,342.1 L1327.9,342.2 L1327.0,342.2 L1326.1,342.3 L1325.2,342.3 L1324.3,342.2 L1323.4,342.3 L1322.5,342.2 L1321.6,342.3 L1320.7,342.3 L1319.8,342.1 L1318.9,342.3 L1318.0,342.1 L1317.1,342.2 L1316.2,342.2 L1315.3,342.1 L1314.4,342.3 L1313.5,342.2 L1312.6,342.3 L1311.7,342.4 L1310.8,342.4 L1309.9,342.4 L1309.0,342.4 L1308.1,342.4 L1307.2,342.1 L1306.3,342.4 L1305.4,342.2 L1304.5,342.2 L1303.6,342.3 L1302.7,342.2 L1301.8,342.1 L1300.9,342.2 L1300.0,342.4 L1299.1,342.2 L1298.2,342.2 L1297.3,342.2 L1296.4,342.2 L1295.5,342.2 L1294.6,342.2 L1293.7,342.1 L1292.8,342.4 L1291.9,342.1 L1291.0,342.4 L1290.1,342.2 L1289.2,342.1 L1288.3,342.3 L1287.4,342.2 L1286.5,342.4 L1285.6,342.4 L1284.7,342.3 L1283.8,342.3 L1282.9,342.3 L1282.0,342.4 L1281.1,342.2 L1280.2,342.3Z" fill="#f4a460" stroke="#f4a460" stroke-width="2.0" stroke-linejoin="round"/>
<path d="M1195.6,336.2 L1196.4,336.2 L1197.2,336.3 L1198.0,336.4 L1198.8,336.7 L1199.6,337.0 L1200.4,336.9 L1201.2,337.2 L1202.0,337.4 L1202.8,337.6 L1203.6,337.3 L1204.4,337.2 L1205.2,336.8 L1206.0,336.9 L1206.8,337.1 L1207.6,337.4 L1208.4,337.8 L1209.2,337.7 L1210.0,338.2 L1210.8,338.5 L1211.6,338.7 L1212.4,338.9 L1213.2,339.0 L1214.0,339.1 L1214.8,339.1 L1215.6,339.0 L1216.4,339.4 L1217.2,339.4 L1218.0,339.4 L1218.8,339.4 L1219.6,339.5 L1220.4,339.6 L1221.2,339.8 L1222.0,339.9 L1222.8,339.9 L1223.6,340.1 L1224.4,340.6 L1225.2,340.6 L1226.0,340.6 L1226.8,340.7 L1227.6,341.2 L1228.4,341.2 L1229.2,341.4 L1230.0,341.7 L1230.8,341.4 L1231.6,341.8 L1232.4,342.0 L1233.2,341.9 L1234.0,342.3 L1234.8,342.2 L1235.6,342.3 L1236.4,342.5 L1237.2,342.8 L1238.0,342.8 L1238.8,342.9 L1239.6,343.2 L1240.4,343.2 L1241.2,343.3 L1242.0,343.4 L1242.8,343.1 L1243.6,343.3 L1244.4,343.3 L1245.2,343.7 L1246.0,343.6 L1246.8,343.7 L1247.6,344.0 L1248.4,343.9 L1249.2,344.0 L1250.0,343.9 L1250.8,344.0 L1251.6,344.1 L1252.4,344.3 L1253.2,344.3 L1254.0,344.5 L1254.8,344.5 L1255.6,344.4 L1256.4,344.5 L1257.2,344.2 L1258.0,344.3 L1258.8,344.3 L1259.6,344.6 L1260.4,344.4 L1261.2,344.6 L1262.0,344.4 L1262.8,344.3 L1263.6,344.1 L1264.4,343.9 L1265.2,344.2 L1266.0,344.1 L1266.8,343.8 L1267.6,343.6 L1268.4,343.4 L1269.2,343.3 L1270.0,342.9 L1270.8,342.8 L1271.6,343.1 L1272.4,342.6 L1273.2,343.0 L1274.0,342.7 L1274.8,342.4 L1275.6,342.4 L1276.4,342.4 L1277.2,342.5 L1278.0,342.1 L1278.8,342.3 L1279.6,341.9 L1280.4,342.3 L1281.2,341.8 L1282.0,342.0 L1282.8,342.0 L1283.6,341.9 L1284.4,342.0 L1285.2,341.8 L1286.0,341.6 L1286.8,341.6 L1287.6,341.5 L1288.4,341.9 L1289.2,341.4 L1290.0,341.7 L1290.8,341.4 L1291.6,341.7 L1292.4,341.6 L1293.2,341.5 L1294.0,341.3 L1294.8,341.7 L1295.6,341.7 L1296.4,341.5 L1297.2,341.4 L1298.0,341.7 L1298.8,341.3 L1299.6,341.7 L1300.4,341.7 L1301.2,341.3 L1302.0,341.4 L1302.8,341.4 L1303.6,341.6 L1304.4,341.4 L1305.2,341.4 L1306.0,341.3 L1306.8,341.3 L1307.6,341.5 L1308.4,341.5 L1309.2,341.5 L1310.0,341.4 L1310.8,341.4 L1311.6,341.6 L1312.4,341.5 L1313.2,341.1 L1314.0,341.1 L1314.8,341.2 L1315.6,341.5 L1316.4,341.1 L1317.2,340.8 L1317.2,341.5 L1316.4,342.0 L1315.6,341.8 L1314.8,341.8 L1314.0,341.7 L1313.2,341.7 L1312.4,342.0 L1311.6,341.7 L1310.8,341.8 L1310.0,342.1 L1309.2,342.0 L1308.4,341.9 L1307.6,342.1 L1306.8,341.9 L1306.0,342.0 L1305.2,342.0 L1304.4,342.2 L1303.6,341.8 L1302.8,342.2 L1302.0,342.2 L1301.2,342.2 L1300.4,342.0 L1299.6,342.1 L1298.8,342.1 L1298.0,341.8 L1297.2,342.0 L1296.4,342.1 L1295.6,341.9 L1294.8,342.1 L1294.0,341.9 L1293.2,342.1 L1292.4,341.9 L1291.6,341.9 L1290.8,342.1 L1290.0,342.3 L1289.2,342.3 L1288.4,342.2 L1287.6,342.0 L1286.8,342.5 L1286.0,342.1 L1285.2,342.6 L1284.4,342.2 L1283.6,342.6 L1282.8,342.4 L1282.0,342.6 L1281.2,342.5 L1280.4,342.5 L1279.6,342.5 L1278.8,342.9 L1278.0,343.0 L1277.2,342.9 L1276.4,342.8 L1275.6,342.9 L1274.8,343.2 L1274.0,343.1 L1273.2,343.4 L1272.4,343.3 L1271.6,343.4 L1270.8,343.4 L1270.0,343.5 L1269.2,343.8 L1268.4,344.0 L1267.6,344.1 L1266.8,344.2 L1266.0,344.5 L1265.2,344.6 L1264.4,344.6 L1263.6,344.8 L1262.8,345.0 L1262.0,344.9 L1261.2,345.1 L1260.4,345.0 L1259.6,345.0 L1258.8,345.2 L1258.0,344.9 L1257.2,345.1 L1256.4,344.9 L1255.6,344.9 L1254.8,345.0 L1254.0,344.7 L1253.2,344.8 L1252.4,344.6 L1251.6,344.8 L1250.8,344.6 L1250.0,344.8 L1249.2,344.7 L1248.4,344.6 L1247.6,344.3 L1246.8,344.1 L1246.0,344.1 L1245.2,344.2 L1244.4,343.9 L1243.6,343.8 L1242.8,343.9 L1242.0,343.9 L1241.2,343.6 L1240.4,343.8 L1239.6,343.7 L1238.8,343.4 L1238.0,343.4 L1237.2,343.4 L1236.4,342.8 L1235.6,342.9 L1234.8,342.8 L1234.0,342.9 L1233.2,342.7 L1232.4,342.5 L1231.6,342.1 L1230.8,342.4 L1230.0,342.3 L1229.2,341.8 L1228.4,341.8 L1227.6,341.5 L1226.8,341.4 L1226.0,341.4 L1225.2,340.9 L1224.4,341.1 L1223.6,340.8 L1222.8,340.6 L1222.0,340.5 L1221.2,340.5 L1220.4,340.5 L1219.6,340.4 L1218.8,340.3 L1218.0,340.0 L1217.2,340.0 L1216.4,339.6 L1215.6,339.7 L1214.8,339.5 L1214.0,339.3 L1213.2,339.5 L1212.4,339.4 L1211.6,339.2 L1210.8,339.1 L1210.0,338.6 L1209.2,338.3 L1208.4,338.3 L1207.6,338.1 L1206.8,337.6 L1206.0,337.4 L1205.2,337.1 L1204.4,337.6 L1203.6,337.8 L1202.8,337.9 L1202.0,337.8 L1201.2,338.0 L1200.4,337.5 L1199.6,337.3 L1198.8,337.4 L1198.0,337.2 L1197.2,337.0 L1196.4,336.7 L1195.6,336.8Z" fill="#3cb371" stroke="#3cb371" stroke-width="1.9" stroke-linejoin="round"/>
<path d="M1317.3,340.8 L1317.5,307.5" fill="none" stroke="#3cb371" stroke-width="1.9" stroke-linejoin="round" stroke-linecap="butt" />
<path d="M1317.5,307.0 L1318.5,305.3 L1319.5,303.8 L1320.5,302.2 L1321.5,300.8 L1322.5,300.8 L1323.5,298.9 L1324.5,298.1 L1325.5,297.6 L1326.5,296.6 L1327.5,295.3 L1328.5,294.0 L1329.5,292.1 L1330.5,291.1 L1331.5,290.0 L1332.5,288.2 L1333.5,287.2 L1334.5,286.0 L1335.5,284.5 L1336.5,284.0 L1337.5,282.4 L1338.5,281.1 L1339.5,280.9 L1340.5,280.6 L1341.5,280.5 L1342.5,279.4 L1343.5,278.1 L1344.5,277.5 L1345.5,277.5 L1346.5,276.1 L1347.5,274.6 L1348.5,273.3 L1349.5,272.8 L1350.5,271.9 L1351.5,271.2 L1352.5,270.9 L1353.5,270.8 L1354.5,270.5 L1355.5,269.5 L1356.5,269.2 L1357.5,267.3 L1358.5,265.9 L1359.5,265.3 L1360.5,263.6 L1361.5,263.1 L1362.5,262.7 L1363.5,262.5 L1364.5,261.6 L1365.5,262.0 L1366.5,261.3 L1367.5,259.2 L1368.5,258.0 L1369.5,256.6 L1370.5,256.0 L1371.5,255.8 L1372.5,254.5 L1373.5,253.5 L1374.5,253.7 L1375.5,253.3 L1376.5,252.6 L1377.5,252.3 L1378.5,251.4 L1379.5,251.0 L1380.5,250.4 L1381.5,249.8 L1382.5,249.4 L1383.5,249.1 L1384.5,248.7 L1385.5,248.7 L1386.5,248.1 L1387.5,247.4 L1388.5,246.7 L1389.5,246.0 L1390.5,246.3 L1391.5,245.1 L1392.5,244.9 L1393.5,244.3 L1394.5,243.4 L1395.5,243.3 L1396.5,243.0 L1397.5,242.2 L1398.5,242.5 L1399.5,242.2 L1400.5,242.0 L1401.5,241.2 L1402.5,240.3 L1403.5,240.2 L1404.5,239.7 L1405.5,238.8 L1406.5,238.2 L1407.5,238.3 L1408.5,238.6 L1409.5,238.3 L1410.5,237.5 L1411.5,237.2 L1412.5,237.3 L1413.5,236.5 L1414.5,236.0 L1415.5,235.4 L1416.5,235.2 L1417.5,234.4 L1418.5,234.4 L1419.5,233.6 L1420.5,234.4 L1421.5,234.1 L1422.5,233.5 L1423.5,233.2 L1424.5,232.3 L1425.5,231.2 L1426.5,231.4 L1427.5,231.7 L1428.5,231.0 L1429.5,230.8 L1430.5,231.4 L1431.5,231.0 L1432.5,229.9 L1433.5,229.7 L1434.5,229.1 L1435.5,229.4 L1436.5,229.5 L1437.5,229.8 L1438.5,229.9 L1439.5,230.5 L1440.5,230.4 L1441.5,230.0 L1442.5,230.0 L1443.5,229.4 L1444.5,229.6 L1445.5,229.1 L1446.5,228.8 L1447.5,229.1 L1448.5,228.5 L1449.5,228.5 L1450.5,227.4 L1451.5,227.3 L1452.5,227.0 L1453.5,226.9 L1454.5,227.0 L1455.5,227.3 L1456.5,228.1 L1457.5,228.1 L1458.5,228.4 L1459.5,228.3 L1460.5,227.9 L1461.5,228.3 L1462.5,227.6 L1463.5,227.3 L1464.5,227.5 L1465.5,227.2 L1466.5,226.5 L1467.5,225.9 L1468.5,226.4 L1469.5,226.1 L1470.5,226.8 L1471.5,227.0 L1472.5,226.4 L1473.5,226.7 L1474.5,225.6 L1475.5,225.6 L1476.5,225.3 L1477.5,225.5 L1478.5,225.4 L1479.5,225.7 L1480.5,225.9 L1481.5,225.4 L1482.5,225.7 L1483.5,225.6 L1483.5,227.6 L1482.5,226.8 L1481.5,227.0 L1480.5,227.0 L1479.5,226.7 L1478.5,227.0 L1477.5,226.3 L1476.5,226.7 L1475.5,226.4 L1474.5,227.4 L1473.5,227.4 L1472.5,227.4 L1471.5,227.8 L1470.5,227.9 L1469.5,228.0 L1468.5,227.0 L1467.5,227.8 L1466.5,227.7 L1465.5,228.1 L1464.5,228.5 L1463.5,229.1 L1462.5,228.6 L1461.5,229.5 L1460.5,229.3 L1459.5,229.4 L1458.5,229.8 L1457.5,229.2 L1456.5,229.6 L1455.5,229.0 L1454.5,228.6 L1453.5,228.1 L1452.5,228.6 L1451.5,229.1 L1450.5,228.6 L1449.5,229.4 L1448.5,230.5 L1447.5,230.5 L1446.5,230.2 L1445.5,229.6 L1444.5,230.8 L1443.5,231.4 L1442.5,231.6 L1441.5,232.0 L1440.5,231.7 L1439.5,231.8 L1438.5,230.8 L1437.5,230.5 L1436.5,230.7 L1435.5,230.6 L1434.5,230.4 L1433.5,230.8 L1432.5,231.8 L1431.5,231.9 L1430.5,232.1 L1429.5,232.3 L1428.5,232.2 L1427.5,232.3 L1426.5,232.6 L1425.5,232.9 L1424.5,233.8 L1423.5,234.0 L1422.5,235.0 L1421.5,234.5 L1420.5,235.5 L1419.5,235.3 L1418.5,235.2 L1417.5,236.0 L1416.5,236.3 L1415.5,236.3 L1414.5,237.1 L1413.5,238.3 L1412.5,238.2 L1411.5,238.5 L1410.5,238.7 L1409.5,239.0 L1408.5,240.2 L1407.5,239.7 L1406.5,239.6 L1405.5,239.9 L1404.5,240.5 L1403.5,241.6 L1402.5,242.2 L1401.5,243.1 L1400.5,244.0 L1399.5,243.5 L1398.5,243.2 L1397.5,244.0 L1396.5,243.8 L1395.5,244.8 L1394.5,245.2 L1393.5,245.3 L1392.5,246.0 L1391.5,246.7 L1390.5,247.0 L1389.5,246.8 L1388.5,247.5 L1387.5,248.2 L1386.5,248.8 L1385.5,249.9 L1384.5,249.9 L1383.5,250.2 L1382.5,250.9 L1381.5,250.8 L1380.5,251.7 L1379.5,252.4 L1378.5,252.9 L1377.5,253.7 L1376.5,254.0 L1375.5,254.5 L1374.5,254.8 L1373.5,255.2 L1372.5,256.1 L1371.5,257.0 L1370.5,257.3 L1369.5,258.6 L1368.5,259.4 L1367.5,260.7 L1366.5,262.6 L1365.5,263.4 L1364.5,263.5 L1363.5,264.0 L1362.5,264.0 L1361.5,264.8 L1360.5,264.8 L1359.5,266.1 L1358.5,267.4 L1357.5,268.4 L1356.5,269.9 L1355.5,271.2 L1354.5,271.6 L1353.5,272.2 L1352.5,273.0 L1351.5,272.7 L1350.5,273.4 L1349.5,274.1 L1348.5,274.9 L1347.5,276.5 L1346.5,277.4 L1345.5,278.8 L1344.5,278.6 L1343.5,279.9 L1342.5,280.3 L1341.5,281.9 L1340.5,282.8 L1339.5,282.3 L1338.5,282.3 L1337.5,284.2 L1336.5,285.6 L1335.5,285.8 L1334.5,287.2 L1333.5,288.7 L1332.5,289.4 L1331.5,291.2 L1330.5,292.5 L1329.5,293.3 L1328.5,295.4 L1327.5,296.2 L1326.5,297.3 L1325.5,298.3 L1324.5,299.2 L1323.5,300.9 L1322.5,301.7 L1321.5,302.1 L1320.5,303.2 L1319.5,304.9 L1318.5,306.2 L1317.5,307.7Z" fill="#3cb371" stroke="#3cb371" stroke-width="2.0" stroke-linejoin="round"/>
<path d="M1196.0,337.9 L1196.8,338.1 L1197.6,338.4 L1198.4,338.5 L1199.2,338.2 L1200.0,338.3 L1200.8,338.3 L1201.6,338.1 L1202.4,338.2 L1203.2,338.4 L1204.0,338.5 L1204.8,337.8 L1205.6,338.4 L1206.4,337.8 L1207.2,338.1 L1208.0,338.1 L1208.8,338.5 L1209.6,338.0 L1210.4,338.3 L1211.2,338.6 L1212.0,338.2 L1212.8,338.2 L1213.6,338.4 L1214.4,338.7 L1215.2,338.4 L1216.0,338.7 L1216.8,338.6 L1217.6,338.4 L1218.4,338.1 L1219.2,338.4 L1220.0,338.1 L1220.8,338.0 L1221.6,338.2 L1222.4,338.2 L1223.2,338.0 L1224.0,337.9 L1224.8,338.5 L1225.6,337.7 L1226.4,338.4 L1227.2,337.8 L1228.0,337.9 L1228.8,338.2 L1229.6,337.8 L1230.4,338.5 L1231.2,338.0 L1232.0,338.4 L1232.8,338.4 L1233.6,337.8 L1234.4,338.4 L1235.2,338.5 L1236.0,338.0 L1236.8,337.9 L1237.6,338.1 L1238.4,338.2 L1239.2,338.1 L1240.0,338.3 L1240.8,338.1 L1241.6,338.5 L1242.4,338.0 L1243.2,338.0 L1244.0,338.3 L1244.8,338.1 L1245.6,338.0 L1246.4,338.3 L1247.2,338.0 L1248.0,338.1 L1248.8,338.0 L1249.6,338.4 L1250.4,338.0 L1251.2,338.4 L1252.0,337.9 L1252.8,338.3 L1253.6,337.7 L1254.4,337.8 L1255.2,338.3 L1256.0,338.0 L1256.8,338.2 L1257.6,337.9 L1258.4,337.8 L1259.2,338.1 L1260.0,338.5 L1260.8,337.8 L1261.6,338.3 L1262.4,337.6 L1263.2,337.9 L1264.0,338.0 L1264.8,338.4 L1265.6,337.5 L1266.4,338.4 L1267.2,337.9 L1268.0,337.5 L1268.8,337.9 L1269.6,337.6 L1270.4,337.7 L1271.2,338.4 L1272.0,337.6 L1272.8,337.8 L1273.6,337.9 L1274.4,338.1 L1275.2,337.5 L1276.0,338.4 L1276.8,337.9 L1277.6,338.3 L1278.4,338.1 L1279.2,337.7 L1280.0,338.0 L1280.8,338.4 L1280.8,338.9 L1280.0,339.3 L1279.2,339.4 L1278.4,339.3 L1277.6,338.8 L1276.8,339.2 L1276.0,338.7 L1275.2,339.3 L1274.4,338.8 L1273.6,338.9 L1272.8,338.6 L1272.0,338.5 L1271.2,338.8 L1270.4,338.8 L1269.6,338.6 L1268.8,339.4 L1268.0,339.2 L1267.2,338.5 L1266.4,339.1 L1265.6,339.2 L1264.8,339.3 L1264.0,338.9 L1263.2,339.1 L1262.4,338.6 L1261.6,338.9 L1260.8,339.4 L1260.0,338.5 L1259.2,338.9 L1258.4,339.2 L1257.6,338.9 L1256.8,339.3 L1256.0,338.8 L1255.2,338.6 L1254.4,339.5 L1253.6,338.9 L1252.8,338.8 L1252.0,339.1 L1251.2,338.9 L1250.4,339.3 L1249.6,338.6 L1248.8,339.1 L1248.0,339.1 L1247.2,338.8 L1246.4,338.6 L1245.6,338.9 L1244.8,338.9 L1244.0,339.2 L1243.2,339.4 L1242.4,339.2 L1241.6,339.6 L1240.8,338.7 L1240.0,339.4 L1239.2,339.3 L1238.4,339.1 L1237.6,339.3 L1236.8,339.5 L1236.0,339.2 L1235.2,339.1 L1234.4,339.5 L1233.6,339.1 L1232.8,338.6 L1232.0,339.4 L1231.2,339.4 L1230.4,339.3 L1229.6,339.5 L1228.8,339.1 L1228.0,339.5 L1227.2,339.5 L1226.4,338.9 L1225.6,338.9 L1224.8,339.6 L1224.0,339.2 L1223.2,338.8 L1222.4,339.0 L1221.6,339.7 L1220.8,339.3 L1220.0,339.1 L1219.2,339.2 L1218.4,339.0 L1217.6,339.6 L1216.8,339.1 L1216.0,339.3 L1215.2,339.2 L1214.4,338.9 L1213.6,339.5 L1212.8,339.0 L1212.0,338.8 L1211.2,339.3 L1210.4,339.0 L1209.6,339.1 L1208.8,339.6 L1208.0,339.6 L1207.2,339.2 L1206.4,339.7 L1205.6,339.0 L1204.8,338.9 L1204.0,339.4 L1203.2,339.0 L1202.4,339.5 L1201.6,339.7 L1200.8,338.8 L1200.0,339.6 L1199.2,339.6 L1198.4,339.7 L1197.6,339.4 L1196.8,339.3 L1196.0,339.4Z" fill="#000000" stroke="#000000" stroke-width="0.9" stroke-linejoin="round"/>
<path d="M1196.0,336.0 L1196.6,337.5 L1197.2,339.5 L1197.8,340.0 L1198.4,340.3 L1199.0,340.7 L1199.6,336.9 L1200.2,337.2 L1200.8,338.5 L1201.4,339.1 L1202.0,336.9 L1202.6,339.5 L1203.2,337.3 L1203.8,339.2 L1204.4,339.1 L1205.0,337.4 L1205.6,338.0 L1206.2,339.2 L1206.8,338.6 L1207.4,337.4 L1208.0,340.4 L1208.6,337.6 L1209.2,337.5 L1209.8,336.4 L1210.4,340.5 L1211.0,339.3 L1211.6,339.1 L1212.2,338.4 L1212.8,336.8 L1213.4,336.0 L1214.0,338.6 L1214.6,339.8 L1215.2,340.7 L1215.8,336.4 L1216.4,336.2 L1217.0,336.2 L1217.6,336.6 L1218.2,339.5 L1218.8,339.1 L1219.4,339.8 L1220.0,337.7 L1220.6,336.7 L1221.2,340.0 L1221.8,340.7 L1222.4,336.4 L1223.0,336.2 L1223.6,336.4 L1224.2,337.4 L1224.8,339.0 L1225.4,339.2 L1226.0,336.9 L1226.6,336.7 L1227.2,338.4 L1227.8,340.6 L1228.4,340.6 L1229.0,336.1 L1229.6,336.4 L1230.2,336.0 L1230.8,338.4 L1231.4,338.0 L1232.0,339.4 L1232.6,337.4 L1233.2,339.9 L1233.8,339.5 L1234.4,337.2 L1235.0,340.3 L1235.6,338.7 L1236.2,335.8 L1236.8,339.4 L1237.4,339.0 L1238.0,339.2 L1238.6,338.6 L1239.2,337.7 L1239.8,339.3 L1240.4,338.9 L1241.0,336.0 L1241.6,337.8 L1242.2,338.0 L1242.8,337.2 L1243.4,339.0 L1244.0,337.0 L1244.6,340.3 L1245.2,338.8 L1245.8,336.7 L1246.4,337.5 L1247.0,336.6 L1247.6,338.2 L1248.2,337.7 L1248.8,336.9 L1249.4,337.1 L1250.0,337.3 L1250.6,340.5 L1251.2,336.4 L1251.8,340.4 L1252.4,337.0 L1253.0,337.5 L1253.6,336.2 L1254.2,338.3 L1254.8,340.0 L1255.4,338.8 L1256.0,335.7 L1256.6,338.1 L1257.2,336.3 L1257.8,336.2 L1258.4,336.5 L1259.0,338.9 L1259.6,336.7 L1260.2,339.6 L1260.8,338.0 L1261.4,336.6 L1262.0,335.9 L1262.6,339.6 L1263.2,338.1 L1263.8,339.7 L1264.4,336.7 L1265.0,338.9 L1265.6,339.8 L1266.2,338.2 L1266.8,340.5 L1267.4,338.8 L1268.0,337.3 L1268.6,339.9 L1269.2,338.6 L1269.8,339.0 L1270.4,340.0 L1271.0,340.1 L1271.6,338.0 L1272.2,338.3 L1272.8,340.2 L1273.4,339.7 L1274.0,336.8 L1274.6,340.3 L1275.2,339.3 L1275.8,338.0 L1276.4,336.4 L1277.0,339.6 L1277.6,338.8 L1278.2,338.5 L1278.8,338.0 L1279.4,339.8 L1280.0,338.2 L1280.6,339.1 L1281.2,337.3" fill="none" stroke="#000000" stroke-width="1.2" stroke-linejoin="round" stroke-linecap="butt" />
<path d="M1318.5,338.1 L1319.3,339.0 L1320.1,338.9 L1320.9,338.9 L1321.7,338.8 L1322.5,338.4 L1323.3,339.2 L1324.1,339.0 L1324.9,338.6 L1325.7,338.2 L1326.5,339.0 L1327.3,338.2 L1328.1,338.7 L1328.9,338.0 L1329.7,338.5 L1330.5,338.8 L1331.3,338.4 L1332.1,338.3 L1332.9,338.0 L1333.7,339.2 L1334.5,338.9 L1335.3,338.7 L1336.1,338.3 L1336.9,338.2 L1337.7,339.0 L1338.5,338.3 L1339.3,338.2 L1340.1,338.9 L1340.9,339.0 L1341.7,338.3 L1342.5,339.1 L1343.3,338.9 L1344.1,339.1 L1344.9,338.0 L1345.7,338.9 L1346.5,338.7 L1347.3,338.3 L1348.1,338.5 L1348.9,338.5 L1349.7,338.1 L1350.5,339.1 L1351.3,338.6 L1352.1,339.0 L1352.9,338.2 L1353.7,338.7 L1354.5,338.6 L1355.3,339.1 L1356.1,338.9 L1356.9,339.0 L1357.7,338.1 L1358.5,338.8 L1359.3,338.7 L1360.1,339.1 L1360.9,338.5 L1361.7,339.0 L1362.5,339.2 L1363.3,338.9 L1364.1,338.5 L1364.9,338.2 L1365.7,338.1 L1366.5,338.3 L1367.3,339.3 L1368.1,339.3 L1368.9,338.8 L1369.7,338.5 L1370.5,338.1 L1371.3,338.5 L1372.1,339.0 L1372.9,338.3 L1373.7,338.2 L1374.5,339.0 L1375.3,339.1 L1376.1,338.0 L1376.9,338.1 L1377.7,338.1 L1378.5,338.7 L1379.3,338.2 L1380.1,338.5 L1380.9,339.3 L1381.7,338.8 L1382.5,339.1 L1383.3,339.0 L1384.1,338.6 L1384.9,338.8 L1385.7,339.3 L1386.5,338.2 L1387.3,338.5 L1388.1,338.7 L1388.9,338.1 L1389.7,338.6 L1390.5,338.6 L1391.3,339.0 L1392.1,338.0 L1392.9,338.8 L1393.7,338.2 L1394.5,338.9 L1395.3,339.3 L1396.1,338.4 L1396.9,338.6 L1397.7,338.6 L1398.5,338.6 L1399.3,338.5 L1400.1,338.7 L1400.9,338.5 L1401.7,339.2 L1402.5,338.5 L1403.3,338.3 L1404.1,339.0 L1404.9,338.2 L1405.7,338.5 L1406.5,338.9 L1407.3,338.0 L1408.1,339.0 L1408.9,338.6 L1409.7,338.3 L1410.5,338.1 L1411.3,339.1 L1412.1,339.1 L1412.9,338.9 L1413.7,338.7 L1414.5,338.5 L1415.3,338.1 L1416.1,338.2 L1416.9,338.3 L1417.7,338.5 L1418.5,338.3 L1419.3,338.1 L1420.1,338.3 L1420.9,338.5 L1421.7,339.0 L1422.5,339.4 L1423.3,338.4 L1424.1,338.2 L1424.9,338.7 L1425.7,338.7 L1426.5,338.7 L1427.3,338.6 L1428.1,339.3 L1428.9,338.7 L1429.7,338.9 L1430.5,339.3 L1431.3,338.5 L1432.1,338.2 L1432.9,338.2 L1433.7,339.2 L1434.5,338.5 L1435.3,339.2 L1436.1,338.6 L1436.9,338.3 L1437.7,338.5 L1438.5,338.9 L1439.3,338.6 L1440.1,338.4 L1440.9,338.2 L1441.7,339.1 L1442.5,338.4 L1443.3,338.6 L1444.1,338.4 L1444.9,339.1 L1445.7,338.9 L1446.5,339.3 L1447.3,339.3 L1448.1,338.1 L1448.9,338.1 L1449.7,338.3 L1450.5,338.1 L1451.3,338.0 L1452.1,338.1 L1452.9,338.8 L1453.7,339.2 L1454.5,339.2 L1455.3,338.0 L1456.1,338.5 L1456.9,338.4 L1457.7,338.0 L1458.5,338.7 L1459.3,339.4 L1460.1,339.3 L1460.9,338.3 L1461.7,338.9 L1462.5,338.9 L1463.3,338.8 L1464.1,338.9 L1464.9,338.8 L1465.7,339.0 L1466.5,338.8 L1467.3,339.1 L1468.1,339.0 L1468.9,338.1 L1469.7,338.7 L1470.5,339.1 L1471.3,338.8 L1472.1,338.5 L1472.9,338.0 L1473.7,339.1 L1474.5,338.5 L1475.3,338.2 L1476.1,338.7 L1476.9,338.7 L1477.7,338.8 L1478.5,338.9 L1479.3,338.9 L1480.1,338.8 L1480.9,338.9 L1481.7,338.3 L1482.5,338.6 L1483.3,338.4 L1483.3,341.1 L1482.5,340.4 L1481.7,341.3 L1480.9,341.2 L1480.1,341.1 L1479.3,340.6 L1478.5,340.8 L1477.7,341.2 L1476.9,340.1 L1476.1,340.6 L1475.3,340.5 L1474.5,340.6 L1473.7,341.1 L1472.9,340.7 L1472.1,340.5 L1471.3,341.3 L1470.5,341.3 L1469.7,340.2 L1468.9,340.6 L1468.1,340.7 L1467.3,340.1 L1466.5,340.2 L1465.7,340.9 L1464.9,341.3 L1464.1,340.4 L1463.3,341.1 L1462.5,340.1 L1461.7,340.7 L1460.9,340.5 L1460.1,340.8 L1459.3,340.6 L1458.5,340.8 L1457.7,340.9 L1456.9,341.4 L1456.1,340.8 L1455.3,341.2 L1454.5,340.3 L1453.7,340.5 L1452.9,340.1 L1452.1,341.4 L1451.3,341.2 L1450.5,340.5 L1449.7,341.4 L1448.9,340.7 L1448.1,340.1 L1447.3,341.2 L1446.5,340.5 L1445.7,340.6 L1444.9,341.4 L1444.1,340.9 L1443.3,340.5 L1442.5,340.2 L1441.7,340.2 L1440.9,340.5 L1440.1,340.4 L1439.3,340.3 L1438.5,341.1 L1437.7,340.2 L1436.9,340.9 L1436.1,340.4 L1435.3,340.8 L1434.5,340.6 L1433.7,340.1 L1432.9,341.3 L1432.1,341.3 L1431.3,341.0 L1430.5,340.7 L1429.7,341.1 L1428.9,341.2 L1428.1,340.3 L1427.3,340.9 L1426.5,341.2 L1425.7,340.9 L1424.9,341.3 L1424.1,341.1 L1423.3,341.2 L1422.5,340.9 L1421.7,340.5 L1420.9,340.8 L1420.1,340.7 L1419.3,341.1 L1418.5,340.1 L1417.7,341.1 L1416.9,341.3 L1416.1,340.9 L1415.3,340.7 L1414.5,340.4 L1413.7,340.4 L1412.9,340.5 L1412.1,340.6 L1411.3,341.1 L1410.5,340.8 L1409.7,341.1 L1408.9,341.1 L1408.1,340.1 L1407.3,340.1 L1406.5,340.7 L1405.7,340.1 L1404.9,341.1 L1404.1,340.6 L1403.3,341.4 L1402.5,340.5 L1401.7,340.7 L1400.9,341.3 L1400.1,341.3 L1399.3,340.3 L1398.5,340.5 L1397.7,340.9 L1396.9,341.3 L1396.1,340.2 L1395.3,340.9 L1394.5,340.4 L1393.7,340.8 L1392.9,341.3 L1392.1,341.1 L1391.3,341.3 L1390.5,340.3 L1389.7,340.2 L1388.9,340.6 L1388.1,340.8 L1387.3,340.4 L1386.5,340.4 L1385.7,341.2 L1384.9,340.2 L1384.1,340.8 L1383.3,340.4 L1382.5,340.2 L1381.7,341.0 L1380.9,341.4 L1380.1,340.3 L1379.3,340.9 L1378.5,340.7 L1377.7,341.0 L1376.9,340.5 L1376.1,340.6 L1375.3,341.2 L1374.5,341.0 L1373.7,340.1 L1372.9,341.4 L1372.1,340.8 L1371.3,341.4 L1370.5,340.7 L1369.7,340.5 L1368.9,340.3 L1368.1,340.9 L1367.3,341.1 L1366.5,340.9 L1365.7,340.1 L1364.9,341.3 L1364.1,340.7 L1363.3,340.5 L1362.5,340.9 L1361.7,340.6 L1360.9,341.0 L1360.1,340.3 L1359.3,340.7 L1358.5,341.3 L1357.7,340.6 L1356.9,340.8 L1356.1,340.9 L1355.3,340.5 L1354.5,340.6 L1353.7,340.6 L1352.9,341.3 L1352.1,340.9 L1351.3,340.1 L1350.5,340.8 L1349.7,341.0 L1348.9,341.3 L1348.1,340.4 L1347.3,340.7 L1346.5,340.8 L1345.7,340.9 L1344.9,340.2 L1344.1,341.3 L1343.3,340.6 L1342.5,340.7 L1341.7,340.7 L1340.9,340.7 L1340.1,340.2 L1339.3,340.9 L1338.5,341.1 L1337.7,340.3 L1336.9,341.0 L1336.1,340.9 L1335.3,340.6 L1334.5,340.7 L1333.7,340.1 L1332.9,341.1 L1332.1,340.0 L1331.3,340.6 L1330.5,340.8 L1329.7,340.9 L1328.9,341.2 L1328.1,340.8 L1327.3,340.3 L1326.5,340.4 L1325.7,340.1 L1324.9,341.2 L1324.1,340.1 L1323.3,341.1 L1322.5,340.3 L1321.7,340.8 L1320.9,341.1 L1320.1,340.4 L1319.3,340.4 L1318.5,340.4Z" fill="#000000" stroke="#000000" stroke-width="1.0" stroke-linejoin="round"/>
<path d="M1318.5,339.7 L1319.1,340.9 L1319.7,342.2 L1320.3,337.7 L1320.9,337.3 L1321.5,341.0 L1322.1,338.6 L1322.7,341.1 L1323.3,342.2 L1323.9,336.5 L1324.5,338.7 L1325.1,337.4 L1325.7,338.4 L1326.3,342.8 L1326.9,337.6 L1327.5,338.9 L1328.1,337.5 L1328.7,337.2 L1329.3,336.9 L1329.9,336.4 L1330.5,341.8 L1331.1,341.1 L1331.7,338.6 L1332.3,341.6 L1332.9,342.8 L1333.5,337.9 L1334.1,340.8 L1334.7,337.0 L1335.3,338.2 L1335.9,338.7 L1336.5,339.4 L1337.1,340.6 L1337.7,338.7 L1338.3,338.7 L1338.9,341.7 L1339.5,338.8 L1340.1,341.1 L1340.7,341.5 L1341.3,342.6 L1341.9,337.7 L1342.5,337.9 L1343.1,341.5 L1343.7,338.1 L1344.3,339.7 L1344.9,338.4 L1345.5,342.7 L1346.1,339.7 L1346.7,337.5 L1347.3,342.6 L1347.9,336.2 L1348.5,338.1 L1349.1,340.8 L1349.7,338.6 L1350.3,341.9 L1350.9,343.2 L1351.5,340.0 L1352.1,339.6 L1352.7,342.9 L1353.3,340.8 L1353.9,341.1 L1354.5,340.1 L1355.1,341.9 L1355.7,342.3 L1356.3,336.6 L1356.9,337.4 L1357.5,336.3 L1358.1,337.8 L1358.7,338.2 L1359.3,338.9 L1359.9,338.9 L1360.5,340.1 L1361.1,340.7 L1361.7,336.1 L1362.3,337.4 L1362.9,342.1 L1363.5,343.3 L1364.1,336.6 L1364.7,338.2 L1365.3,340.2 L1365.9,339.5 L1366.5,337.2 L1367.1,342.4 L1367.7,340.4 L1368.3,338.9 L1368.9,338.3 L1369.5,336.9 L1370.1,337.7 L1370.7,343.1 L1371.3,342.9 L1371.9,338.5 L1372.5,340.1 L1373.1,336.2 L1373.7,342.6 L1374.3,337.4 L1374.9,341.0 L1375.5,342.3 L1376.1,339.8 L1376.7,342.8 L1377.3,337.6 L1377.9,336.6 L1378.5,336.1 L1379.1,336.5 L1379.7,337.5 L1380.3,339.0 L1380.9,336.9 L1381.5,336.4 L1382.1,336.9 L1382.7,342.4 L1383.3,342.6 L1383.9,343.3 L1384.5,342.5 L1385.1,342.2 L1385.7,338.7 L1386.3,341.6 L1386.9,340.8 L1387.5,337.9 L1388.1,343.2 L1388.7,341.3 L1389.3,339.7 L1389.9,336.8 L1390.5,341.1 L1391.1,342.0 L1391.7,340.2 L1392.3,339.3 L1392.9,343.3 L1393.5,339.3 L1394.1,342.5 L1394.7,339.8 L1395.3,336.4 L1395.9,338.2 L1396.5,342.9 L1397.1,337.6 L1397.7,336.2 L1398.3,340.2 L1398.9,338.5 L1399.5,338.7 L1400.1,337.7 L1400.7,336.3 L1401.3,338.2 L1401.9,336.6 L1402.5,336.9 L1403.1,336.1 L1403.7,337.3 L1404.3,336.5 L1404.9,341.1 L1405.5,340.1 L1406.1,336.2 L1406.7,340.3 L1407.3,340.6 L1407.9,342.1 L1408.5,336.9 L1409.1,337.1 L1409.7,338.0 L1410.3,341.2 L1410.9,340.5 L1411.5,342.2 L1412.1,337.9 L1412.7,336.2 L1413.3,341.1 L1413.9,339.0 L1414.5,341.2 L1415.1,342.0 L1415.7,339.0 L1416.3,341.8 L1416.9,342.8 L1417.5,340.8 L1418.1,339.3 L1418.7,341.6 L1419.3,341.1 L1419.9,341.9 L1420.5,340.9 L1421.1,337.5 L1421.7,340.1 L1422.3,339.5 L1422.9,342.5 L1423.5,339.1 L1424.1,338.4 L1424.7,338.2 L1425.3,337.2 L1425.9,341.8 L1426.5,341.4 L1427.1,340.5 L1427.7,340.9 L1428.3,336.1 L1428.9,338.9 L1429.5,340.2 L1430.1,339.6 L1430.7,339.4 L1431.3,338.0 L1431.9,339.3 L1432.5,339.5 L1433.1,337.1 L1433.7,339.9 L1434.3,340.3 L1434.9,342.7 L1435.5,338.3 L1436.1,341.4 L1436.7,342.8 L1437.3,337.0 L1437.9,342.3 L1438.5,336.2 L1439.1,336.2 L1439.7,339.5 L1440.3,338.4 L1440.9,340.1 L1441.5,342.8 L1442.1,341.5 L1442.7,342.9 L1443.3,338.9 L1443.9,340.9 L1444.5,338.8 L1445.1,339.9 L1445.7,336.7 L1446.3,338.3 L1446.9,343.2 L1447.5,341.7 L1448.1,341.4 L1448.7,336.2 L1449.3,340.4 L1449.9,339.4 L1450.5,341.4 L1451.1,342.2 L1451.7,336.6 L1452.3,340.4 L1452.9,339.8 L1453.5,341.9 L1454.1,337.1 L1454.7,342.2 L1455.3,339.1 L1455.9,341.5 L1456.5,336.5 L1457.1,336.4 L1457.7,338.4 L1458.3,340.8 L1458.9,339.3 L1459.5,339.3 L1460.1,338.3 L1460.7,337.8 L1461.3,338.4 L1461.9,336.7 L1462.5,342.4 L1463.1,339.5 L1463.7,343.2 L1464.3,337.7 L1464.9,337.8 L1465.5,341.6 L1466.1,341.7 L1466.7,342.6 L1467.3,336.8 L1467.9,338.3 L1468.5,337.9 L1469.1,340.9 L1469.7,339.1 L1470.3,337.4 L1470.9,336.5 L1471.5,339.5 L1472.1,342.8 L1472.7,343.3 L1473.3,341.1 L1473.9,342.0 L1474.5,336.6 L1475.1,343.0 L1475.7,342.4 L1476.3,338.5 L1476.9,336.3 L1477.5,339.2 L1478.1,341.7 L1478.7,336.1 L1479.3,341.2 L1479.9,340.5 L1480.5,338.5 L1481.1,336.8 L1481.7,338.2 L1482.3,337.3 L1482.9,338.4 L1483.5,340.8" fill="none" stroke="#000000" stroke-width="1.3" stroke-linejoin="round" stroke-linecap="butt" />
<path d="M1195.0,341.2 L1195.9,341.0 L1196.8,341.2 L1197.7,341.3 L1198.6,341.0 L1199.5,341.4 L1200.4,341.3 L1201.3,341.5 L1202.2,341.2 L1203.1,341.2 L1204.0,341.4 L1204.9,341.1 L1205.8,341.2 L1206.7,341.5 L1207.6,341.5 L1208.5,341.1 L1209.4,341.1 L1210.3,341.2 L1211.2,341.1 L1212.1,341.0 L1213.0,341.4 L1213.9,341.4 L1214.8,341.5 L1215.7,341.1 L1216.6,341.3 L1217.5,341.2 L1218.4,341.0 L1219.3,341.3 L1220.2,341.0 L1221.1,341.1 L1222.0,341.5 L1222.9,341.3 L1223.8,341.3 L1224.7,341.2 L1225.6,341.1 L1226.5,341.4 L1227.4,341.4 L1228.3,341.3 L1229.2,341.2 L1230.1,341.0 L1231.0,341.2 L1231.9,341.0 L1232.8,341.1 L1233.7,341.3 L1234.6,341.2 L1235.5,340.9 L1236.4,341.3 L1237.3,341.2 L1238.2,341.4 L1239.1,341.1 L1240.0,341.3 L1240.9,341.0 L1241.8,341.0 L1242.7,340.9 L1243.6,341.4 L1244.5,340.9 L1245.4,341.3 L1246.3,341.2 L1247.2,341.3 L1248.1,341.3 L1249.0,341.0 L1249.9,341.1 L1250.8,341.3 L1251.7,341.1 L1252.6,341.2 L1253.5,341.3 L1254.4,341.2 L1255.3,340.8 L1256.2,341.1 L1257.1,341.0 L1258.0,340.9 L1258.9,340.9 L1259.8,341.2 L1260.7,341.0 L1261.6,341.0 L1262.5,340.9 L1263.4,340.9 L1264.3,340.8 L1265.2,340.7 L1266.1,340.6 L1267.0,340.9 L1267.9,340.5 L1268.8,340.6 L1269.7,340.4 L1270.6,340.8 L1271.5,340.6 L1272.4,340.5 L1273.3,340.5 L1274.2,340.6 L1275.1,340.5 L1276.0,340.1 L1276.9,340.3 L1277.8,340.3 L1278.7,340.0 L1279.6,340.2 L1280.5,339.8 L1281.4,339.7 L1282.3,339.8 L1283.2,339.8 L1284.1,340.0 L1285.0,340.1 L1285.9,340.0 L1286.8,339.8 L1287.7,340.0 L1288.6,339.9 L1289.5,339.7 L1290.4,339.9 L1291.3,339.9 L1292.2,339.5 L1293.1,339.5 L1294.0,339.7 L1294.9,339.6 L1295.8,339.4 L1296.7,339.7 L1297.6,339.5 L1298.5,339.4 L1299.4,339.7 L1300.3,339.6 L1301.2,339.6 L1302.1,339.8 L1303.0,339.8 L1303.9,339.5 L1304.8,339.9 L1305.7,339.7 L1306.6,339.4 L1307.5,339.6 L1308.4,339.4 L1309.3,339.3 L1310.2,339.5 L1311.1,339.3 L1312.0,339.3 L1312.9,339.6 L1313.8,339.6 L1314.7,339.7 L1315.6,339.8 L1316.5,339.3 L1316.5,340.2 L1315.6,340.5 L1314.7,340.6 L1313.8,340.5 L1312.9,340.3 L1312.0,340.6 L1311.1,340.5 L1310.2,340.2 L1309.3,340.3 L1308.4,340.2 L1307.5,340.3 L1306.6,340.3 L1305.7,340.6 L1304.8,340.2 L1303.9,340.3 L1303.0,340.7 L1302.1,340.6 L1301.2,340.7 L1300.3,340.5 L1299.4,340.3 L1298.5,340.4 L1297.6,340.4 L1296.7,340.3 L1295.8,340.3 L1294.9,340.4 L1294.0,340.4 L1293.1,340.7 L1292.2,340.7 L1291.3,340.5 L1290.4,340.6 L1289.5,340.4 L1288.6,340.6 L1287.7,340.5 L1286.8,340.7 L1285.9,340.5 L1285.0,340.4 L1284.1,340.5 L1283.2,340.5 L1282.3,340.8 L1281.4,340.9 L1280.5,341.0 L1279.6,341.1 L1278.7,340.7 L1277.8,340.9 L1276.9,341.2 L1276.0,340.9 L1275.1,341.1 L1274.2,341.3 L1273.3,341.1 L1272.4,341.1 L1271.5,341.3 L1270.6,341.2 L1269.7,341.6 L1268.8,341.6 L1267.9,341.5 L1267.0,341.5 L1266.1,341.5 L1265.2,341.5 L1264.3,342.0 L1263.4,342.1 L1262.5,341.7 L1261.6,342.0 L1260.7,342.2 L1259.8,342.2 L1258.9,341.7 L1258.0,341.9 L1257.1,341.8 L1256.2,342.0 L1255.3,341.8 L1254.4,342.0 L1253.5,341.9 L1252.6,342.0 L1251.7,342.1 L1250.8,341.7 L1249.9,342.1 L1249.0,341.9 L1248.1,342.1 L1247.2,342.0 L1246.3,342.0 L1245.4,341.7 L1244.5,341.9 L1243.6,341.7 L1242.7,341.7 L1241.8,342.0 L1240.9,341.8 L1240.0,341.8 L1239.1,342.0 L1238.2,341.9 L1237.3,341.8 L1236.4,341.9 L1235.5,341.8 L1234.6,342.1 L1233.7,342.0 L1232.8,342.2 L1231.9,342.1 L1231.0,341.9 L1230.1,341.9 L1229.2,342.0 L1228.3,341.8 L1227.4,342.0 L1226.5,342.3 L1225.6,341.9 L1224.7,342.3 L1223.8,341.9 L1222.9,341.9 L1222.0,342.3 L1221.1,341.9 L1220.2,342.0 L1219.3,342.0 L1218.4,342.0 L1217.5,341.9 L1216.6,342.2 L1215.7,342.0 L1214.8,342.1 L1213.9,342.2 L1213.0,342.1 L1212.1,342.0 L1211.2,341.9 L1210.3,341.9 L1209.4,341.8 L1208.5,342.1 L1207.6,342.0 L1206.7,342.2 L1205.8,341.8 L1204.9,342.2 L1204.0,341.9 L1203.1,342.2 L1202.2,342.2 L1201.3,341.9 L1200.4,342.0 L1199.5,341.9 L1198.6,342.0 L1197.7,342.2 L1196.8,341.9 L1195.9,342.0 L1195.0,341.9Z" fill="#0000ff" stroke="#0000ff" stroke-width="2.0" stroke-linejoin="round"/>
<path d="M1317.2,339.9 L1317.5,331.3" fill="none" stroke="#0000ff" stroke-width="2.0" stroke-linejoin="round" stroke-linecap="butt" />
<path d="M1317.5,331.1 L1318.5,331.4 L1319.5,331.4 L1320.5,331.2 L1321.5,331.4 L1322.5,331.6 L1323.5,332.2 L1324.5,332.5 L1325.5,332.7 L1326.5,333.2 L1327.5,333.4 L1328.5,333.5 L1329.5,333.7 L1330.5,333.6 L1331.5,333.4 L1332.5,333.6 L1333.5,334.0 L1334.5,333.5 L1335.5,333.7 L1336.5,333.8 L1337.5,333.7 L1338.5,333.8 L1339.5,333.9 L1340.5,333.7 L1341.5,334.0 L1342.5,334.1 L1343.5,334.4 L1344.5,333.9 L1345.5,334.0 L1346.5,334.1 L1347.5,334.4 L1348.5,334.1 L1349.5,334.2 L1350.5,334.1 L1351.5,334.3 L1352.5,334.5 L1353.5,334.4 L1354.5,334.1 L1355.5,334.4 L1356.5,334.2 L1357.5,334.6 L1358.5,334.6 L1359.5,334.2 L1360.5,334.2 L1361.5,334.5 L1362.5,334.2 L1363.5,334.6 L1364.5,334.4 L1365.5,334.6 L1366.5,334.6 L1367.5,334.4 L1368.5,334.8 L1369.5,334.6 L1370.5,334.4 L1371.5,334.5 L1372.5,334.5 L1373.5,334.5 L1374.5,334.7 L1375.5,334.6 L1376.5,334.6 L1377.5,334.6 L1378.5,334.6 L1379.5,334.9 L1380.5,334.9 L1381.5,334.4 L1382.5,335.0 L1383.5,334.8 L1384.5,334.7 L1385.5,334.7 L1386.5,335.0 L1387.5,334.9 L1388.5,334.7 L1389.5,334.7 L1390.5,334.5 L1391.5,334.9 L1392.5,334.4 L1393.5,334.7 L1394.5,334.8 L1395.5,334.5 L1396.5,334.8 L1397.5,334.5 L1398.5,334.4 L1399.5,334.8 L1400.5,334.4 L1401.5,334.9 L1402.5,334.8 L1403.5,334.8 L1404.5,334.9 L1405.5,334.6 L1406.5,334.6 L1407.5,334.7 L1408.5,335.0 L1409.5,334.4 L1410.5,334.9 L1411.5,334.8 L1412.5,334.9 L1413.5,335.0 L1414.5,334.8 L1415.5,334.5 L1416.5,334.7 L1417.5,334.6 L1418.5,334.7 L1419.5,334.8 L1420.5,335.0 L1421.5,334.7 L1422.5,334.8 L1423.5,334.5 L1424.5,334.9 L1425.5,334.5 L1426.5,334.8 L1427.5,334.6 L1428.5,334.8 L1429.5,334.6 L1430.5,334.4 L1431.5,334.9 L1432.5,334.8 L1433.5,334.7 L1434.5,335.0 L1435.5,334.6 L1436.5,334.6 L1437.5,334.8 L1438.5,334.9 L1439.5,334.8 L1440.5,335.0 L1441.5,335.0 L1442.5,334.4 L1443.5,334.6 L1444.5,334.9 L1445.5,334.7 L1446.5,334.8 L1447.5,334.5 L1448.5,334.8 L1449.5,334.8 L1450.5,334.7 L1451.5,335.0 L1452.5,334.6 L1453.5,335.0 L1454.5,334.6 L1455.5,334.7 L1456.5,334.4 L1457.5,334.9 L1458.5,334.4 L1459.5,334.5 L1460.5,334.7 L1461.5,334.5 L1462.5,334.4 L1463.5,334.4 L1464.5,335.0 L1465.5,334.8 L1466.5,334.5 L1467.5,334.8 L1468.5,334.6 L1469.5,334.7 L1470.5,334.6 L1471.5,334.9 L1472.5,334.7 L1473.5,334.8 L1474.5,334.6 L1475.5,334.9 L1476.5,334.7 L1477.5,335.0 L1478.5,334.9 L1479.5,334.8 L1480.5,334.5 L1481.5,334.5 L1482.5,334.8 L1483.5,334.8 L1483.5,335.6 L1482.5,335.6 L1481.5,335.4 L1480.5,335.3 L1479.5,335.4 L1478.5,335.3 L1477.5,335.7 L1476.5,335.6 L1475.5,335.8 L1474.5,335.4 L1473.5,335.2 L1472.5,335.2 L1471.5,335.5 L1470.5,335.7 L1469.5,335.4 L1468.5,335.7 L1467.5,335.7 L1466.5,335.2 L1465.5,335.3 L1464.5,335.3 L1463.5,335.4 L1462.5,335.3 L1461.5,335.5 L1460.5,335.8 L1459.5,335.8 L1458.5,335.7 L1457.5,335.7 L1456.5,335.3 L1455.5,335.7 L1454.5,335.7 L1453.5,335.7 L1452.5,335.5 L1451.5,335.3 L1450.5,335.7 L1449.5,335.4 L1448.5,335.5 L1447.5,335.5 L1446.5,335.2 L1445.5,335.3 L1444.5,335.2 L1443.5,335.3 L1442.5,335.4 L1441.5,335.6 L1440.5,335.5 L1439.5,335.6 L1438.5,335.4 L1437.5,335.3 L1436.5,335.6 L1435.5,335.2 L1434.5,335.5 L1433.5,335.6 L1432.5,335.3 L1431.5,335.8 L1430.5,335.7 L1429.5,335.4 L1428.5,335.6 L1427.5,335.2 L1426.5,335.3 L1425.5,335.4 L1424.5,335.7 L1423.5,335.6 L1422.5,335.5 L1421.5,335.6 L1420.5,335.5 L1419.5,335.6 L1418.5,335.8 L1417.5,335.5 L1416.5,335.7 L1415.5,335.6 L1414.5,335.3 L1413.5,335.3 L1412.5,335.7 L1411.5,335.3 L1410.5,335.7 L1409.5,335.3 L1408.5,335.5 L1407.5,335.5 L1406.5,335.7 L1405.5,335.7 L1404.5,335.4 L1403.5,335.3 L1402.5,335.6 L1401.5,335.6 L1400.5,335.2 L1399.5,335.4 L1398.5,335.5 L1397.5,335.5 L1396.5,335.7 L1395.5,335.4 L1394.5,335.4 L1393.5,335.5 L1392.5,335.5 L1391.5,335.2 L1390.5,335.4 L1389.5,335.6 L1388.5,335.6 L1387.5,335.7 L1386.5,335.8 L1385.5,335.5 L1384.5,335.5 L1383.5,335.2 L1382.5,335.3 L1381.5,335.4 L1380.5,335.2 L1379.5,335.8 L1378.5,335.4 L1377.5,335.6 L1376.5,335.6 L1375.5,335.3 L1374.5,335.5 L1373.5,335.1 L1372.5,335.4 L1371.5,335.6 L1370.5,335.2 L1369.5,335.3 L1368.5,335.3 L1367.5,335.1 L1366.5,335.0 L1365.5,335.0 L1364.5,335.5 L1363.5,335.0 L1362.5,335.0 L1361.5,335.2 L1360.5,335.4 L1359.5,335.2 L1358.5,335.1 L1357.5,335.0 L1356.5,335.2 L1355.5,335.3 L1354.5,334.8 L1353.5,335.0 L1352.5,335.3 L1351.5,334.9 L1350.5,335.2 L1349.5,334.7 L1348.5,334.6 L1347.5,335.2 L1346.5,334.8 L1345.5,334.7 L1344.5,334.6 L1343.5,334.9 L1342.5,334.5 L1341.5,334.9 L1340.5,334.6 L1339.5,334.7 L1338.5,334.8 L1337.5,334.4 L1336.5,334.9 L1335.5,334.8 L1334.5,334.7 L1333.5,334.7 L1332.5,334.6 L1331.5,334.6 L1330.5,334.6 L1329.5,334.5 L1328.5,334.3 L1327.5,334.0 L1326.5,333.8 L1325.5,333.3 L1324.5,333.4 L1323.5,333.1 L1322.5,332.4 L1321.5,332.6 L1320.5,332.0 L1319.5,332.1 L1318.5,332.0 L1317.5,331.9Z" fill="#0000ff" stroke="#0000ff" stroke-width="1.9" stroke-linejoin="round"/>
</g>
<rect x="1194.6" y="149.3" width="289.4" height="201.3" fill="none" stroke="#000" stroke-width="1.75"/>
<line x1="1191.0" y1="340.6" x2="1194.6" y2="340.6" stroke="#000" stroke-width="1.5" />
<text x="1188.20" y="346.10" font-family="'Liberation Sans', Arial, sans-serif" font-size="17.2" font-weight="bold" font-style="normal" text-anchor="end" >0.00</text>
<line x1="1191.0" y1="302.4" x2="1194.6" y2="302.4" stroke="#000" stroke-width="1.5" />
<text x="1188.20" y="307.85" font-family="'Liberation Sans', Arial, sans-serif" font-size="17.2" font-weight="bold" font-style="normal" text-anchor="end" >0.04</text>
<line x1="1191.0" y1="264.1" x2="1194.6" y2="264.1" stroke="#000" stroke-width="1.5" />
<text x="1188.20" y="269.60" font-family="'Liberation Sans', Arial, sans-serif" font-size="17.2" font-weight="bold" font-style="normal" text-anchor="end" >0.08</text>
<line x1="1191.0" y1="225.9" x2="1194.6" y2="225.9" stroke="#000" stroke-width="1.5" />
<text x="1188.20" y="231.35" font-family="'Liberation Sans', Arial, sans-serif" font-size="17.2" font-weight="bold" font-style="normal" text-anchor="end" >0.12</text>
<line x1="1191.0" y1="187.6" x2="1194.6" y2="187.6" stroke="#000" stroke-width="1.5" />
<text x="1188.20" y="193.10" font-family="'Liberation Sans', Arial, sans-serif" font-size="17.2" font-weight="bold" font-style="normal" text-anchor="end" >0.16</text>
<line x1="1191.0" y1="149.4" x2="1194.6" y2="149.4" stroke="#000" stroke-width="1.5" />
<text x="1188.20" y="154.85" font-family="'Liberation Sans', Arial, sans-serif" font-size="17.2" font-weight="bold" font-style="normal" text-anchor="end" >0.20</text>
<line x1="1192.6" y1="321.5" x2="1194.6" y2="321.5" stroke="#000" stroke-width="1.5" />
<line x1="1192.6" y1="283.2" x2="1194.6" y2="283.2" stroke="#000" stroke-width="1.5" />
<line x1="1192.6" y1="245.0" x2="1194.6" y2="245.0" stroke="#000" stroke-width="1.5" />
<line x1="1192.6" y1="206.8" x2="1194.6" y2="206.8" stroke="#000" stroke-width="1.5" />
<line x1="1192.6" y1="168.5" x2="1194.6" y2="168.5" stroke="#000" stroke-width="1.5" />
<line x1="1194.6" y1="350.6" x2="1194.6" y2="354.0" stroke="#000" stroke-width="1.5" />
<text transform="translate(1193.90 371.00) scale(0.9700 1)" font-family="'Liberation Sans', Arial, sans-serif" font-size="17.8" font-weight="bold" font-style="normal" text-anchor="middle" >0.0</text>
<line x1="1252.5" y1="350.6" x2="1252.5" y2="354.0" stroke="#000" stroke-width="1.5" />
<text transform="translate(1251.78 371.00) scale(0.9700 1)" font-family="'Liberation Sans', Arial, sans-serif" font-size="17.8" font-weight="bold" font-style="normal" text-anchor="middle" >0.2</text>
<line x1="1310.4" y1="350.6" x2="1310.4" y2="354.0" stroke="#000" stroke-width="1.5" />
<text transform="translate(1309.66 371.00) scale(0.9700 1)" font-family="'Liberation Sans', Arial, sans-serif" font-size="17.8" font-weight="bold" font-style="normal" text-anchor="middle" >0.4</text>
<line x1="1368.2" y1="350.6" x2="1368.2" y2="354.0" stroke="#000" stroke-width="1.5" />
<text transform="translate(1367.54 371.00) scale(0.9700 1)" font-family="'Liberation Sans', Arial, sans-serif" font-size="17.8" font-weight="bold" font-style="normal" text-anchor="middle" >0.6</text>
<line x1="1426.1" y1="350.6" x2="1426.1" y2="354.0" stroke="#000" stroke-width="1.5" />
<text transform="translate(1425.42 371.00) scale(0.9700 1)" font-family="'Liberation Sans', Arial, sans-serif" font-size="17.8" font-weight="bold" font-style="normal" text-anchor="middle" >0.8</text>
<line x1="1484.0" y1="350.6" x2="1484.0" y2="354.0" stroke="#000" stroke-width="1.5" />
<text transform="translate(1483.30 371.00) scale(0.9700 1)" font-family="'Liberation Sans', Arial, sans-serif" font-size="17.8" font-weight="bold" font-style="normal" text-anchor="middle" >1.0</text>
<line x1="1223.5" y1="350.6" x2="1223.5" y2="352.6" stroke="#000" stroke-width="1.5" />
<line x1="1281.4" y1="350.6" x2="1281.4" y2="352.6" stroke="#000" stroke-width="1.5" />
<line x1="1339.3" y1="350.6" x2="1339.3" y2="352.6" stroke="#000" stroke-width="1.5" />
<line x1="1397.2" y1="350.6" x2="1397.2" y2="352.6" stroke="#000" stroke-width="1.5" />
<line x1="1455.1" y1="350.6" x2="1455.1" y2="352.6" stroke="#000" stroke-width="1.5" />
</svg>
</body></html>
